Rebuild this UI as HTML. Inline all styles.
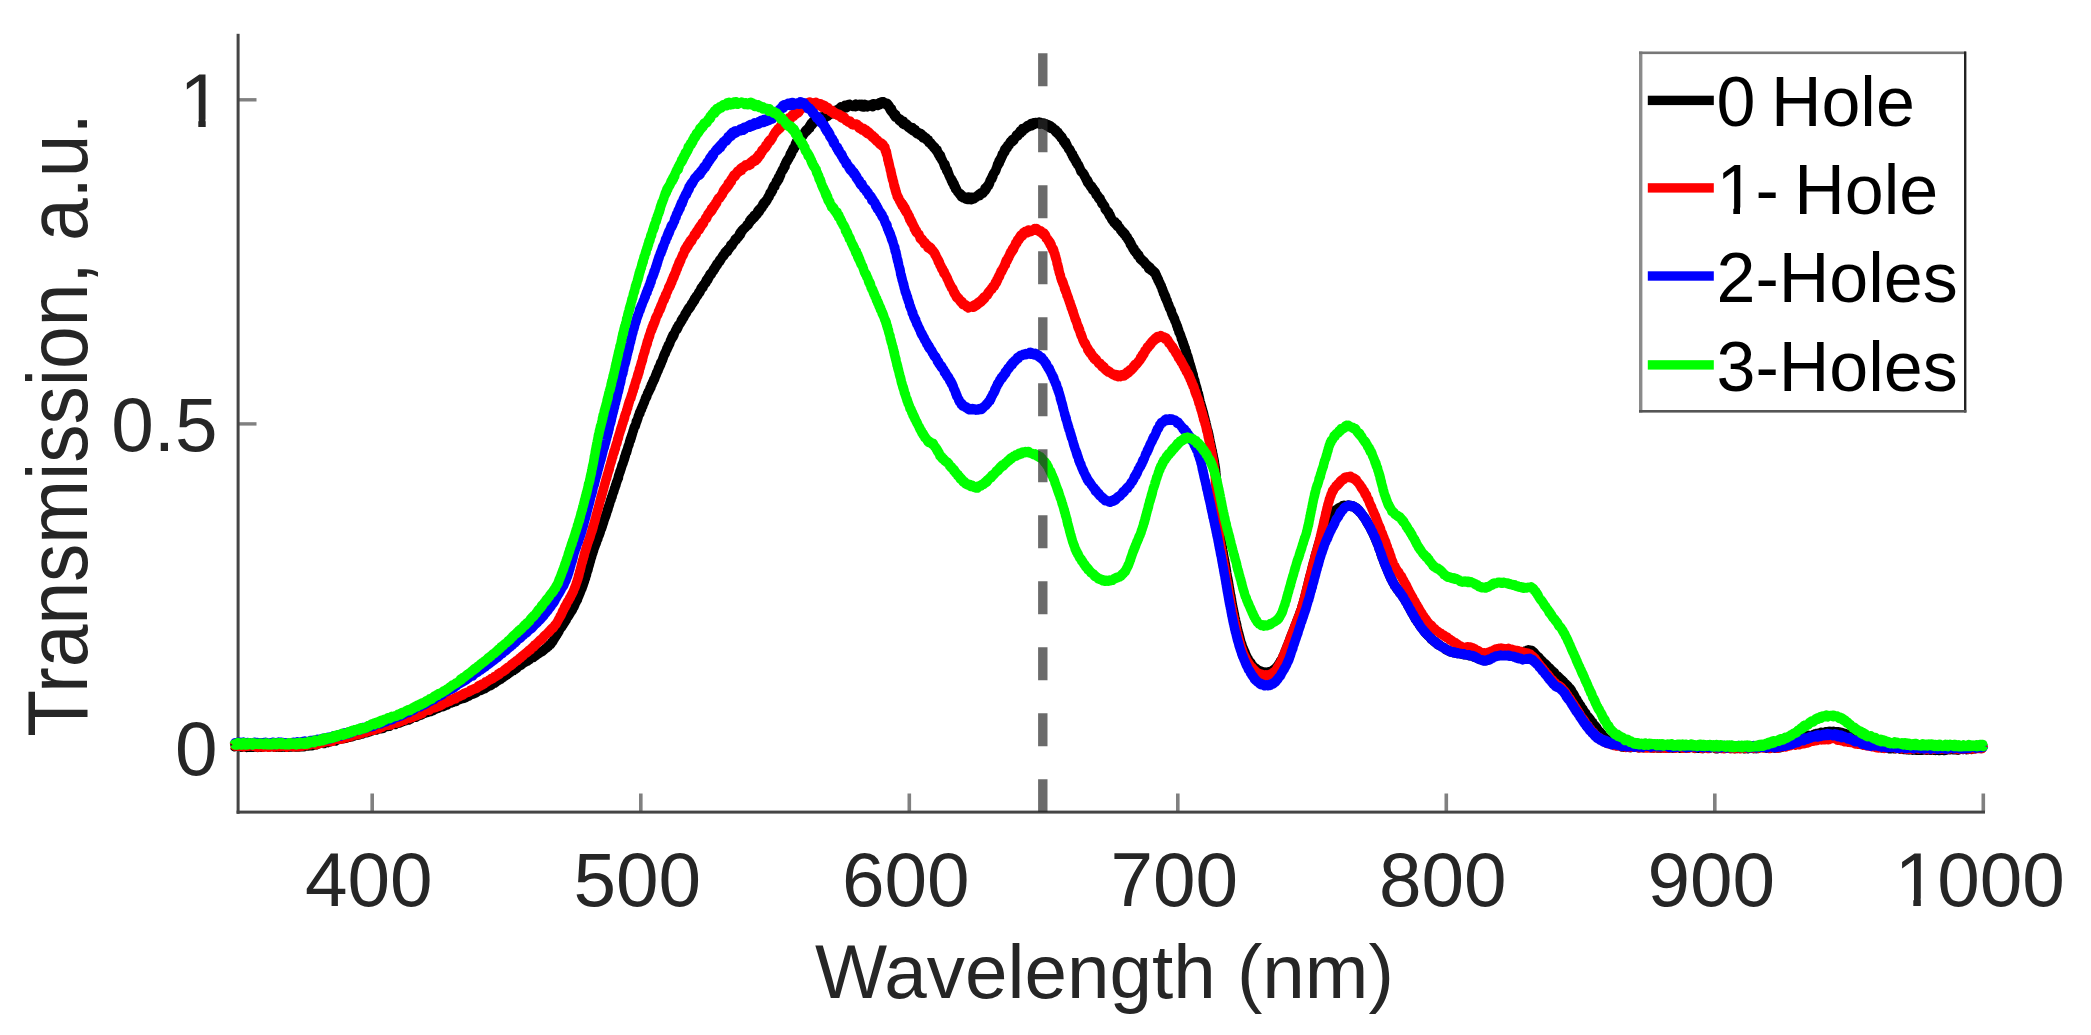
<!DOCTYPE html>
<html><head><meta charset="utf-8"><title>Transmission spectra</title>
<style>html,body{margin:0;padding:0;background:#fff}svg{display:block}text{font-family:"Liberation Sans",sans-serif;}</style></head><body>
<svg width="2091" height="1035" viewBox="0 0 2091 1035">
<rect width="2091" height="1035" fill="#fff"/>
<rect x="370.4" y="793.5" width="3.6" height="18" fill="#808080"/>
<rect x="639.0" y="793.5" width="3.6" height="18" fill="#808080"/>
<rect x="907.5" y="793.5" width="3.6" height="18" fill="#808080"/>
<rect x="1176.0" y="793.5" width="3.6" height="18" fill="#808080"/>
<rect x="1444.5" y="793.5" width="3.6" height="18" fill="#808080"/>
<rect x="1713.0" y="793.5" width="3.6" height="18" fill="#808080"/>
<rect x="1981.5" y="793.5" width="3.6" height="18" fill="#808080"/>
<rect x="238" y="98.1" width="18.5" height="3.4" fill="#808080"/>
<rect x="238" y="422.2" width="18.5" height="3.4" fill="#808080"/>
<rect x="236.6" y="33.8" width="3" height="780" fill="#454545"/>
<rect x="236.6" y="810.6" width="1748.4" height="3" fill="#454545"/>
<path d="M233.8 746.0 L234.4 746.8 L235.0 744.9 L235.6 745.7 L236.2 745.3 L236.8 745.1 L237.4 745.4 L238.0 745.8 L238.6 745.9 L239.2 746.3 L239.8 746.0 L240.4 746.7 L241.0 745.4 L241.6 747.2 L242.2 744.9 L242.8 746.7 L243.4 746.0 L244.0 746.4 L244.6 745.2 L245.2 745.4 L245.8 747.0 L246.4 747.5 L247.0 745.7 L247.6 746.7 L248.2 747.2 L248.8 747.3 L249.4 745.1 L250.0 745.0 L250.6 745.3 L251.2 747.2 L251.8 745.1 L252.4 746.0 L253.0 747.4 L253.6 746.3 L254.2 746.7 L254.8 745.7 L255.4 746.7 L256.0 747.1 L256.6 744.9 L257.2 746.9 L257.8 747.5 L258.4 746.9 L259.0 745.6 L259.6 747.0 L260.2 745.1 L260.8 746.1 L261.4 747.3 L262.0 745.6 L262.6 745.6 L263.2 745.2 L263.8 744.9 L264.4 746.7 L265.0 745.4 L265.6 745.6 L266.2 746.2 L266.8 745.0 L267.4 746.4 L268.0 745.3 L268.6 746.4 L269.2 746.7 L269.8 745.1 L270.4 746.0 L271.0 746.7 L271.6 746.0 L272.2 745.0 L272.8 746.3 L273.4 746.6 L274.0 746.2 L274.6 747.4 L275.2 746.4 L275.8 747.3 L276.4 745.2 L277.0 745.2 L277.6 747.0 L278.2 745.9 L278.8 745.3 L279.4 747.3 L280.0 745.8 L280.6 746.9 L281.2 746.8 L281.8 747.2 L282.4 746.5 L283.0 746.8 L283.6 745.7 L284.2 745.5 L284.8 747.2 L285.4 745.9 L286.0 747.4 L286.6 746.6 L287.2 746.4 L287.8 745.1 L288.4 747.3 L289.0 745.9 L289.6 746.3 L290.2 745.8 L290.8 745.3 L291.4 747.1 L292.0 746.2 L292.6 744.7 L293.2 746.3 L293.8 745.5 L294.4 746.0 L295.0 747.0 L295.6 745.6 L296.2 747.0 L296.8 746.2 L297.4 744.6 L298.0 747.0 L298.6 746.4 L299.2 747.1 L299.8 744.9 L300.4 744.8 L301.0 746.9 L301.6 746.2 L302.2 744.5 L302.8 746.3 L303.4 746.3 L304.0 746.7 L304.6 746.1 L305.2 744.4 L305.8 744.1 L306.4 744.1 L307.0 744.0 L307.6 744.5 L308.2 746.1 L308.8 745.2 L309.4 745.1 L310.0 745.8 L310.5 743.8 L311.1 744.2 L311.7 744.9 L312.3 745.8 L312.9 744.6 L313.5 743.1 L314.1 745.1 L314.7 743.5 L315.3 744.9 L315.9 743.7 L316.5 744.9 L317.1 744.4 L317.7 743.8 L318.2 742.6 L318.8 742.3 L319.4 742.3 L320.0 742.0 L320.6 742.1 L321.2 742.3 L321.8 743.4 L322.4 742.9 L323.0 741.3 L323.5 741.4 L324.1 743.6 L324.7 742.4 L325.3 741.4 L325.9 741.4 L326.5 742.5 L327.1 741.0 L327.6 741.8 L328.2 742.7 L328.8 742.3 L329.4 740.6 L330.0 741.1 L330.6 741.3 L331.2 741.7 L331.7 739.8 L332.3 739.3 L332.9 739.3 L333.5 740.3 L334.1 740.4 L334.7 740.2 L335.2 739.4 L335.8 741.0 L336.4 739.8 L337.0 739.2 L337.6 739.5 L338.2 739.8 L338.7 739.5 L339.3 738.3 L339.9 737.6 L340.5 738.3 L341.1 738.8 L341.7 737.6 L342.2 738.8 L342.8 736.9 L343.4 737.3 L344.0 738.5 L344.6 736.8 L345.2 737.8 L345.7 737.4 L346.3 738.2 L346.9 736.4 L347.5 735.8 L348.1 737.3 L348.6 737.2 L349.2 737.4 L349.8 737.3 L350.4 734.9 L351.0 735.3 L351.5 736.1 L352.1 736.8 L352.7 736.6 L353.3 735.5 L353.9 736.2 L354.4 735.4 L355.0 734.6 L355.6 734.7 L356.2 734.8 L356.8 734.5 L357.3 735.3 L357.9 735.2 L358.5 733.7 L359.1 735.0 L359.7 732.8 L360.2 732.6 L360.8 732.4 L361.4 733.2 L362.0 731.9 L362.6 734.0 L363.1 733.5 L363.7 731.4 L364.3 731.6 L364.9 731.8 L365.5 731.2 L366.0 732.7 L366.6 731.4 L367.2 732.7 L367.8 731.7 L368.4 732.2 L368.9 732.0 L369.5 732.0 L370.1 730.7 L370.7 730.8 L371.2 731.2 L371.8 729.8 L372.4 730.2 L373.0 730.3 L373.6 728.7 L374.1 729.9 L374.7 729.4 L375.3 730.1 L375.9 728.8 L376.5 730.0 L377.0 729.1 L377.6 728.0 L378.2 729.3 L378.8 728.7 L379.3 727.2 L379.9 727.9 L380.5 728.4 L381.1 728.8 L381.6 726.4 L382.2 728.6 L382.8 727.0 L383.4 728.2 L383.9 727.2 L384.5 727.5 L385.1 726.8 L385.7 726.7 L386.3 725.7 L386.8 726.3 L387.4 726.5 L388.0 726.6 L388.6 726.2 L389.1 725.9 L389.7 726.1 L390.3 724.6 L390.8 725.3 L391.4 724.6 L392.0 724.2 L392.6 724.1 L393.1 723.9 L393.7 723.6 L394.3 724.1 L394.9 723.5 L395.4 724.5 L396.0 723.7 L396.6 722.4 L397.2 722.7 L397.7 722.4 L398.3 723.2 L398.9 723.2 L399.4 723.1 L400.0 722.4 L400.6 721.3 L401.1 721.1 L401.7 722.2 L402.3 721.3 L402.9 721.7 L403.4 721.0 L404.0 721.2 L404.6 720.5 L405.1 720.9 L405.7 720.2 L406.3 719.8 L406.8 719.4 L407.4 718.5 L408.0 719.0 L408.5 718.2 L409.1 720.0 L409.7 718.0 L410.2 719.2 L410.8 719.1 L411.4 718.5 L411.9 718.0 L412.5 717.0 L413.1 717.4 L413.6 716.9 L414.2 716.5 L414.7 717.1 L415.3 716.3 L415.9 717.3 L416.4 717.1 L417.0 715.5 L417.6 715.0 L418.1 714.9 L418.7 715.4 L419.2 715.7 L419.8 714.3 L420.4 714.2 L420.9 715.3 L421.5 714.2 L422.0 714.4 L422.6 713.3 L423.2 712.8 L423.7 713.5 L424.3 713.2 L424.8 712.3 L425.4 713.1 L426.0 712.7 L426.5 712.7 L427.1 711.4 L427.6 712.5 L428.2 711.1 L428.7 711.5 L429.3 711.9 L429.9 710.1 L430.4 710.5 L431.0 711.4 L431.5 711.1 L432.1 710.3 L432.7 710.7 L433.2 710.6 L433.8 710.2 L434.3 710.0 L434.9 708.3 L435.4 709.1 L436.0 709.0 L436.6 708.6 L437.1 708.8 L437.7 707.0 L438.2 708.3 L438.8 708.0 L439.3 706.8 L439.9 706.6 L440.5 707.1 L441.0 706.3 L441.6 707.0 L442.1 706.1 L442.7 706.5 L443.2 706.7 L443.8 705.1 L444.3 704.6 L444.9 705.8 L445.5 704.9 L446.0 705.5 L446.6 704.6 L447.1 705.1 L447.7 704.0 L448.2 703.8 L448.8 702.8 L449.4 703.0 L449.9 702.1 L450.5 702.2 L451.0 703.1 L451.6 701.5 L452.1 701.9 L452.7 702.6 L453.3 702.1 L453.8 701.9 L454.4 700.7 L454.9 700.9 L455.5 701.0 L456.1 701.5 L456.6 699.8 L457.2 699.7 L457.7 699.5 L458.3 700.2 L458.9 699.4 L459.4 698.5 L460.0 699.1 L460.5 698.3 L461.1 699.2 L461.6 698.1 L462.2 697.4 L462.8 698.2 L463.3 698.4 L463.9 697.3 L464.4 697.8 L465.0 697.1 L465.5 696.9 L466.1 697.5 L466.7 697.0 L467.2 695.4 L467.8 696.3 L468.3 695.7 L468.9 696.3 L469.4 694.8 L470.0 694.6 L470.5 694.1 L471.1 694.5 L471.6 693.7 L472.2 694.3 L472.7 694.4 L473.3 694.0 L473.8 693.9 L474.4 692.9 L474.9 693.5 L475.5 692.5 L476.0 693.0 L476.6 692.4 L477.1 691.3 L477.7 691.0 L478.2 690.6 L478.8 690.4 L479.3 690.8 L479.8 690.0 L480.4 689.6 L480.9 690.5 L481.5 689.7 L482.0 690.0 L482.5 689.2 L483.1 689.0 L483.6 688.7 L484.1 688.5 L484.7 688.7 L485.2 687.8 L485.7 688.3 L486.3 686.6 L486.8 687.5 L487.3 686.2 L487.8 686.7 L488.4 685.4 L488.9 686.0 L489.4 684.8 L489.9 686.0 L490.4 685.7 L491.0 685.2 L491.5 685.1 L492.0 683.6 L492.5 683.3 L493.0 683.0 L493.5 683.4 L494.1 683.5 L494.6 683.3 L495.1 682.6 L495.6 682.3 L496.1 682.2 L496.6 681.1 L497.1 680.6 L497.6 680.2 L498.1 679.8 L498.6 680.5 L499.1 679.2 L499.6 679.0 L500.1 679.5 L500.6 678.4 L501.1 679.1 L501.6 677.7 L502.1 677.8 L502.6 677.1 L503.1 677.6 L503.6 676.5 L504.1 676.3 L504.6 676.1 L505.1 676.3 L505.6 674.7 L506.1 675.3 L506.6 675.2 L507.1 673.7 L507.6 674.1 L508.1 673.5 L508.6 673.8 L509.1 673.1 L509.6 672.9 L510.1 672.3 L510.6 672.2 L511.1 671.4 L511.6 670.7 L512.1 671.1 L512.6 670.4 L513.1 670.3 L513.6 670.5 L514.1 669.5 L514.6 669.0 L515.1 668.8 L515.6 669.2 L516.0 668.8 L516.5 668.4 L517.0 668.1 L517.5 666.9 L518.0 666.4 L518.5 666.3 L519.0 666.0 L519.5 665.5 L520.0 665.7 L520.5 665.1 L521.0 665.3 L521.5 664.2 L522.0 664.5 L522.5 663.6 L523.0 663.6 L523.5 663.0 L524.0 662.4 L524.5 662.2 L525.0 662.4 L525.5 661.9 L526.0 661.6 L526.5 660.9 L527.0 661.0 L527.5 661.2 L528.0 660.6 L528.5 660.1 L529.0 660.2 L529.5 659.8 L530.0 659.1 L530.6 658.1 L531.1 657.9 L531.6 657.5 L532.1 657.7 L532.6 657.3 L533.1 657.7 L533.6 656.4 L534.1 657.0 L534.6 656.5 L535.1 656.2 L535.7 655.7 L536.2 655.4 L536.7 654.9 L537.2 654.0 L537.7 654.1 L538.2 653.9 L538.7 653.8 L539.2 653.2 L539.7 652.9 L540.2 652.1 L540.7 651.7 L541.2 652.2 L541.7 651.3 L542.2 651.8 L542.6 650.5 L543.1 650.3 L543.6 650.2 L544.1 650.1 L544.6 649.4 L545.0 648.6 L545.5 648.4 L546.0 648.3 L546.4 648.1 L546.9 647.9 L547.4 646.7 L547.8 646.2 L548.3 646.4 L548.7 646.3 L549.1 644.9 L549.6 645.3 L550.0 644.9 L550.4 644.2 L550.8 644.3 L551.2 643.5 L551.5 642.3 L551.9 642.4 L552.3 642.3 L552.6 641.8 L552.9 641.1 L553.3 640.6 L553.6 640.0 L553.9 639.1 L554.2 639.0 L554.5 638.6 L554.8 637.7 L555.1 637.8 L555.5 636.4 L555.8 636.6 L556.1 635.5 L556.4 635.6 L556.7 634.7 L557.0 634.7 L557.3 633.6 L557.6 632.9 L558.0 633.1 L558.3 632.0 L558.6 632.0 L558.9 631.5 L559.2 630.3 L559.6 629.8 L559.9 629.3 L560.2 628.7 L560.5 628.5 L560.8 627.6 L561.2 627.2 L561.5 627.4 L561.8 627.0 L562.1 625.6 L562.4 625.3 L562.8 624.7 L563.1 625.2 L563.4 624.4 L563.7 623.7 L564.0 622.8 L564.4 623.0 L564.7 622.0 L565.0 622.1 L565.3 621.3 L565.6 620.5 L565.9 619.5 L566.3 620.2 L566.6 618.6 L566.9 618.1 L567.2 617.9 L567.5 617.4 L567.8 616.5 L568.2 616.8 L568.5 615.5 L568.8 615.6 L569.1 615.3 L569.4 614.0 L569.7 614.0 L570.0 613.7 L570.3 613.1 L570.6 612.5 L570.9 611.6 L571.2 611.6 L571.5 611.4 L571.9 610.2 L572.2 610.2 L572.5 608.6 L572.8 609.2 L573.1 607.8 L573.3 607.5 L573.6 606.9 L573.9 606.0 L574.2 606.7 L574.5 605.4 L574.8 605.1 L575.0 604.5 L575.3 603.4 L575.6 603.0 L575.8 602.3 L576.1 602.3 L576.3 601.4 L576.6 601.0 L576.8 600.1 L577.0 600.5 L577.3 599.0 L577.5 599.7 L577.7 598.0 L578.0 598.0 L578.2 596.7 L578.4 597.2 L578.7 595.8 L578.9 595.8 L579.1 595.5 L579.3 594.1 L579.6 594.1 L579.8 593.1 L580.0 593.3 L580.2 592.7 L580.5 591.3 L580.7 591.8 L580.9 590.0 L581.1 590.7 L581.3 589.7 L581.6 588.9 L581.8 588.8 L582.0 588.2 L582.2 588.1 L582.4 586.4 L582.6 585.5 L582.8 586.3 L583.0 585.6 L583.2 584.9 L583.4 584.0 L583.6 583.7 L583.8 583.2 L584.0 582.1 L584.2 582.1 L584.4 581.5 L584.6 580.7 L584.8 579.8 L585.0 579.7 L585.2 578.1 L585.3 578.7 L585.5 578.3 L585.7 576.7 L585.9 576.0 L586.1 575.6 L586.2 575.1 L586.4 575.4 L586.6 574.3 L586.7 573.4 L586.9 572.5 L587.1 572.2 L587.2 572.1 L587.4 571.1 L587.6 570.7 L587.7 570.1 L587.9 570.2 L588.1 569.0 L588.2 568.2 L588.4 568.2 L588.5 566.9 L588.7 566.7 L588.9 565.9 L589.0 565.8 L589.2 565.6 L589.3 564.4 L589.5 564.3 L589.7 563.2 L589.8 563.0 L590.0 561.5 L590.1 561.4 L590.3 561.6 L590.5 560.6 L590.6 560.2 L590.8 559.2 L591.0 558.7 L591.1 558.6 L591.3 556.8 L591.4 557.0 L591.6 557.1 L591.8 555.8 L592.0 554.7 L592.1 555.2 L592.3 553.6 L592.5 553.8 L592.6 553.0 L592.8 553.1 L593.0 552.0 L593.2 551.7 L593.4 549.8 L593.6 550.9 L593.8 548.8 L593.9 548.6 L594.1 549.1 L594.3 547.0 L594.5 547.7 L594.7 547.2 L594.9 546.0 L595.1 545.1 L595.4 545.5 L595.6 544.4 L595.8 543.2 L596.0 544.0 L596.2 543.4 L596.4 542.1 L596.6 542.2 L596.8 540.9 L597.0 540.8 L597.3 539.7 L597.5 539.4 L597.7 538.3 L597.9 539.0 L598.1 537.3 L598.3 536.4 L598.5 535.9 L598.8 535.1 L599.0 535.8 L599.2 535.0 L599.4 534.8 L599.6 533.7 L599.8 533.7 L600.0 532.9 L600.2 532.5 L600.4 531.3 L600.6 531.2 L600.8 529.8 L601.0 529.5 L601.2 528.6 L601.4 528.5 L601.6 527.6 L601.8 527.3 L602.0 527.8 L602.1 526.0 L602.3 526.6 L602.5 525.5 L602.7 524.4 L602.9 524.7 L603.1 523.7 L603.3 522.5 L603.5 522.9 L603.7 521.7 L603.8 521.0 L604.0 520.4 L604.2 520.4 L604.4 519.1 L604.6 519.5 L604.8 518.0 L605.0 517.9 L605.2 517.2 L605.3 517.3 L605.5 516.8 L605.7 515.0 L605.9 515.1 L606.1 515.1 L606.3 513.7 L606.5 514.0 L606.7 512.3 L606.8 512.3 L607.0 511.9 L607.2 510.5 L607.4 509.5 L607.6 509.7 L607.8 510.1 L608.0 508.4 L608.2 508.6 L608.3 507.0 L608.5 506.7 L608.7 505.8 L608.9 506.2 L609.1 505.6 L609.3 505.1 L609.5 503.7 L609.7 503.9 L609.8 502.5 L610.0 502.3 L610.2 501.6 L610.4 501.0 L610.6 499.9 L610.8 500.4 L611.0 500.0 L611.2 499.2 L611.3 498.7 L611.5 497.3 L611.7 496.6 L611.9 496.8 L612.1 496.9 L612.3 495.0 L612.5 494.9 L612.7 494.3 L612.8 493.9 L613.0 492.7 L613.2 492.4 L613.4 491.7 L613.6 492.2 L613.8 491.6 L614.0 490.3 L614.2 490.1 L614.3 488.6 L614.5 488.8 L614.7 487.8 L614.9 488.3 L615.1 487.4 L615.3 486.7 L615.5 485.2 L615.7 485.3 L615.8 485.7 L616.0 485.0 L616.2 483.9 L616.4 482.4 L616.6 482.7 L616.8 482.0 L617.0 481.3 L617.1 480.6 L617.3 480.4 L617.5 480.3 L617.7 479.5 L617.9 478.6 L618.1 478.7 L618.3 476.5 L618.5 477.7 L618.6 475.3 L618.8 475.0 L619.0 474.9 L619.2 473.7 L619.4 474.2 L619.6 472.5 L619.8 472.4 L619.9 471.3 L620.1 472.0 L620.3 471.4 L620.5 470.3 L620.7 469.3 L620.9 469.8 L621.0 468.5 L621.2 468.8 L621.4 467.6 L621.6 467.1 L621.8 465.6 L622.0 466.2 L622.2 465.1 L622.3 464.2 L622.5 464.1 L622.7 463.4 L622.9 463.0 L623.1 463.5 L623.3 461.7 L623.4 461.9 L623.6 460.9 L623.8 461.0 L624.0 459.4 L624.2 458.6 L624.4 459.3 L624.5 457.0 L624.7 458.3 L624.9 456.9 L625.1 456.0 L625.3 456.6 L625.5 454.2 L625.6 454.5 L625.8 453.0 L626.0 453.5 L626.2 452.1 L626.4 452.5 L626.6 452.6 L626.8 451.8 L626.9 450.4 L627.1 450.4 L627.3 449.9 L627.5 448.8 L627.7 448.3 L627.9 446.9 L628.0 446.8 L628.2 445.8 L628.4 446.4 L628.6 445.3 L628.8 444.7 L629.0 445.0 L629.2 443.7 L629.3 442.9 L629.5 442.0 L629.7 441.1 L629.9 441.2 L630.1 439.8 L630.3 439.8 L630.5 439.7 L630.6 440.1 L630.8 437.7 L631.0 438.3 L631.2 437.4 L631.4 437.4 L631.6 435.5 L631.8 434.8 L631.9 434.9 L632.1 435.2 L632.3 433.3 L632.5 434.0 L632.7 432.4 L632.9 431.7 L633.1 430.7 L633.3 430.9 L633.5 430.3 L633.6 430.3 L633.8 428.5 L634.0 428.1 L634.2 427.2 L634.4 426.9 L634.6 427.5 L634.8 426.4 L635.0 425.6 L635.2 425.6 L635.4 425.9 L635.6 425.0 L635.8 424.2 L636.0 424.1 L636.2 421.6 L636.4 421.1 L636.6 421.4 L636.8 420.6 L637.0 421.3 L637.2 419.8 L637.4 419.3 L637.6 419.5 L637.8 418.0 L638.0 418.3 L638.2 416.4 L638.4 415.9 L638.7 415.5 L638.9 415.4 L639.1 414.1 L639.3 414.5 L639.5 412.8 L639.7 412.1 L640.0 413.3 L640.2 411.3 L640.4 411.1 L640.6 411.0 L640.8 410.3 L641.1 408.8 L641.3 410.0 L641.5 409.6 L641.7 408.7 L642.0 407.0 L642.2 407.0 L642.4 406.0 L642.6 405.9 L642.9 406.3 L643.1 404.3 L643.3 404.5 L643.6 403.2 L643.8 403.6 L644.0 402.1 L644.3 402.8 L644.5 401.9 L644.7 401.4 L645.0 400.2 L645.2 399.1 L645.4 398.1 L645.7 398.2 L645.9 397.0 L646.2 398.0 L646.4 397.4 L646.6 396.3 L646.9 396.5 L647.1 395.4 L647.4 393.7 L647.6 393.4 L647.8 393.0 L648.1 392.7 L648.3 391.6 L648.6 392.3 L648.8 391.5 L649.0 391.2 L649.3 390.2 L649.5 390.6 L649.8 389.2 L650.0 387.6 L650.3 389.0 L650.5 388.0 L650.7 387.8 L651.0 387.6 L651.2 384.9 L651.5 384.8 L651.7 383.9 L651.9 384.1 L652.2 384.6 L652.4 382.3 L652.6 382.6 L652.9 381.3 L653.1 382.2 L653.4 381.8 L653.6 379.4 L653.8 379.9 L654.1 378.8 L654.3 379.9 L654.5 379.3 L654.8 378.0 L655.0 378.3 L655.2 376.2 L655.5 377.0 L655.7 375.3 L655.9 374.3 L656.2 375.4 L656.4 374.3 L656.6 372.3 L656.9 373.6 L657.1 372.7 L657.3 371.9 L657.6 371.6 L657.8 369.9 L658.0 370.2 L658.3 370.2 L658.5 367.8 L658.7 367.4 L659.0 368.6 L659.2 367.5 L659.4 366.7 L659.7 365.5 L659.9 365.1 L660.1 365.9 L660.3 364.2 L660.6 362.8 L660.8 364.3 L661.0 362.1 L661.3 363.0 L661.5 362.6 L661.7 361.1 L662.0 360.8 L662.2 360.1 L662.4 359.8 L662.7 359.8 L662.9 357.8 L663.1 358.7 L663.4 357.4 L663.6 355.8 L663.9 355.5 L664.1 355.8 L664.3 354.4 L664.6 353.6 L664.8 353.1 L665.0 354.2 L665.3 353.1 L665.5 353.4 L665.7 351.4 L666.0 351.4 L666.2 350.9 L666.5 350.4 L666.7 348.5 L667.0 349.6 L667.2 349.5 L667.4 348.0 L667.7 346.6 L667.9 347.4 L668.2 345.0 L668.4 345.3 L668.7 346.2 L668.9 344.8 L669.2 344.9 L669.4 343.8 L669.7 343.8 L669.9 343.4 L670.2 341.4 L670.4 340.4 L670.7 341.3 L670.9 340.1 L671.2 338.8 L671.5 339.4 L671.7 337.5 L672.0 337.3 L672.2 338.3 L672.5 335.8 L672.8 336.0 L673.0 334.8 L673.3 336.6 L673.6 335.1 L673.9 333.8 L674.1 334.9 L674.4 333.3 L674.7 332.6 L675.0 332.4 L675.3 331.1 L675.5 330.7 L675.8 330.3 L676.1 329.5 L676.4 329.8 L676.7 329.5 L677.0 327.4 L677.3 329.2 L677.6 328.1 L677.9 327.7 L678.2 327.1 L678.5 324.9 L678.8 325.4 L679.1 324.7 L679.4 324.8 L679.7 323.7 L680.0 323.8 L680.3 323.3 L680.6 322.8 L680.9 322.1 L681.2 320.4 L681.5 321.4 L681.8 320.9 L682.1 320.7 L682.4 318.5 L682.7 317.9 L683.0 317.9 L683.4 317.2 L683.7 317.9 L684.0 316.9 L684.3 316.8 L684.6 315.4 L684.9 314.1 L685.2 313.6 L685.5 313.7 L685.8 312.8 L686.1 313.8 L686.5 312.8 L686.8 312.5 L687.1 311.5 L687.4 309.9 L687.7 309.8 L688.0 309.9 L688.3 308.7 L688.7 307.7 L689.0 309.0 L689.3 308.5 L689.6 307.0 L689.9 307.8 L690.2 306.2 L690.6 306.8 L690.9 305.8 L691.2 305.1 L691.5 303.6 L691.8 303.9 L692.1 304.4 L692.5 302.3 L692.8 303.3 L693.1 302.9 L693.4 300.9 L693.7 301.3 L694.1 301.3 L694.4 298.7 L694.7 300.3 L695.0 298.0 L695.3 299.2 L695.7 298.2 L696.0 296.8 L696.3 295.8 L696.6 296.6 L696.9 296.6 L697.3 296.1 L697.6 295.0 L697.9 295.4 L698.2 293.9 L698.6 292.4 L698.9 292.5 L699.2 291.7 L699.5 293.0 L699.9 290.9 L700.2 292.0 L700.5 290.2 L700.8 288.8 L701.1 288.0 L701.5 288.3 L701.8 287.1 L702.1 288.0 L702.4 286.9 L702.8 287.9 L703.1 287.3 L703.4 284.7 L703.7 284.8 L704.1 284.5 L704.4 284.3 L704.7 284.3 L705.0 283.0 L705.3 282.4 L705.7 281.4 L706.0 282.7 L706.3 279.8 L706.6 281.4 L707.0 279.2 L707.3 280.0 L707.6 278.6 L707.9 279.8 L708.3 277.0 L708.6 276.7 L708.9 278.1 L709.2 276.7 L709.5 275.5 L709.9 274.1 L710.2 274.3 L710.5 273.5 L710.8 273.2 L711.2 274.5 L711.5 274.0 L711.8 273.0 L712.1 271.9 L712.5 272.3 L712.8 270.9 L713.1 270.1 L713.4 269.3 L713.8 270.6 L714.1 268.6 L714.4 268.4 L714.8 267.3 L715.1 268.5 L715.4 266.6 L715.8 265.9 L716.1 266.6 L716.5 264.6 L716.8 263.9 L717.1 265.4 L717.5 264.7 L717.8 263.7 L718.2 262.3 L718.5 262.9 L718.9 262.4 L719.2 261.1 L719.6 259.9 L719.9 261.6 L720.3 260.0 L720.6 260.3 L721.0 258.4 L721.3 258.9 L721.7 257.9 L722.0 257.3 L722.4 256.1 L722.7 256.0 L723.1 255.0 L723.4 255.2 L723.8 255.9 L724.1 255.1 L724.5 254.7 L724.9 252.4 L725.2 253.8 L725.6 252.8 L725.9 251.6 L726.3 250.9 L726.7 250.5 L727.0 251.9 L727.4 251.8 L727.7 251.1 L728.1 249.0 L728.5 249.8 L728.8 248.6 L729.2 248.9 L729.6 247.5 L729.9 247.3 L730.3 247.4 L730.6 245.0 L731.0 245.7 L731.4 244.8 L731.7 245.0 L732.1 245.5 L732.5 243.4 L732.8 242.9 L733.2 243.6 L733.6 242.7 L733.9 241.5 L734.3 241.9 L734.7 240.6 L735.0 239.4 L735.4 239.8 L735.8 239.0 L736.1 238.2 L736.5 239.7 L736.9 238.6 L737.2 237.8 L737.6 237.8 L738.0 236.7 L738.3 236.7 L738.7 236.9 L739.1 236.2 L739.4 233.8 L739.8 233.6 L740.2 232.5 L740.5 234.6 L740.9 232.1 L741.3 232.8 L741.6 230.7 L742.0 230.6 L742.4 230.9 L742.8 229.3 L743.1 229.7 L743.5 229.6 L743.9 228.6 L744.2 228.7 L744.6 228.2 L745.0 227.3 L745.4 227.7 L745.7 227.2 L746.1 226.8 L746.5 225.9 L746.9 224.9 L747.2 225.1 L747.6 225.6 L748.0 224.2 L748.4 224.8 L748.8 222.8 L749.2 223.2 L749.6 220.7 L749.9 222.4 L750.3 221.2 L750.7 219.3 L751.1 219.6 L751.5 219.9 L751.9 220.1 L752.3 217.6 L752.7 218.5 L753.0 218.8 L753.4 217.9 L753.8 218.3 L754.2 215.3 L754.6 215.5 L755.0 216.9 L755.4 216.0 L755.7 215.0 L756.1 215.2 L756.5 215.0 L756.9 214.7 L757.3 214.3 L757.6 211.3 L758.0 210.7 L758.4 210.2 L758.8 209.6 L759.1 211.9 L759.5 208.9 L759.9 210.6 L760.2 209.6 L760.6 208.6 L761.0 207.7 L761.3 207.2 L761.7 206.4 L762.0 207.9 L762.4 206.8 L762.7 204.3 L763.0 205.1 L763.4 204.1 L763.7 202.8 L764.0 204.8 L764.4 204.0 L764.7 202.2 L765.0 203.1 L765.4 201.2 L765.7 200.6 L766.0 201.9 L766.3 201.6 L766.6 199.7 L766.9 200.5 L767.3 199.8 L767.6 198.2 L767.9 197.2 L768.2 197.7 L768.5 196.4 L768.8 196.4 L769.1 197.0 L769.4 195.8 L769.7 194.0 L770.0 192.8 L770.3 192.5 L770.6 193.0 L770.9 192.2 L771.2 192.8 L771.5 192.7 L771.8 189.9 L772.1 191.4 L772.3 191.2 L772.6 190.7 L772.9 187.4 L773.2 186.9 L773.5 186.2 L773.8 186.6 L774.1 185.3 L774.4 185.5 L774.6 185.1 L774.9 186.4 L775.2 184.5 L775.5 183.3 L775.8 183.5 L776.1 183.4 L776.3 181.2 L776.6 182.7 L776.9 182.4 L777.2 181.9 L777.5 181.5 L777.7 179.4 L778.0 179.1 L778.3 177.5 L778.6 177.3 L778.9 179.1 L779.1 176.4 L779.4 177.8 L779.7 177.2 L780.0 176.8 L780.2 173.9 L780.5 175.6 L780.8 174.3 L781.1 172.5 L781.4 172.4 L781.6 171.3 L781.9 171.6 L782.2 170.0 L782.4 169.7 L782.7 169.2 L783.0 170.2 L783.3 169.3 L783.5 169.7 L783.8 167.2 L784.1 167.9 L784.3 165.5 L784.6 166.5 L784.9 167.0 L785.1 166.8 L785.4 163.3 L785.7 163.5 L785.9 162.9 L786.2 161.8 L786.5 161.1 L786.8 162.1 L787.0 160.2 L787.3 160.4 L787.6 160.9 L787.8 159.3 L788.1 158.7 L788.4 159.2 L788.6 158.0 L788.9 158.5 L789.2 157.3 L789.4 157.2 L789.7 155.8 L790.0 155.0 L790.2 154.0 L790.5 156.0 L790.8 155.0 L791.0 154.9 L791.3 152.0 L791.6 153.8 L791.8 153.3 L792.1 150.7 L792.4 150.2 L792.7 150.5 L792.9 148.8 L793.2 149.1 L793.5 147.7 L793.7 149.6 L794.0 147.6 L794.3 148.6 L794.5 147.0 L794.8 146.0 L795.1 147.0 L795.3 143.8 L795.6 144.8 L795.9 144.4 L796.2 143.1 L796.4 141.4 L796.7 142.3 L797.0 141.7 L797.3 142.2 L797.6 140.0 L798.0 139.9 L798.3 138.9 L798.6 139.8 L799.0 140.3 L799.4 137.3 L799.7 138.8 L800.1 136.5 L800.5 135.5 L800.9 135.3 L801.4 137.4 L801.8 136.9 L802.2 134.6 L802.7 136.2 L803.1 135.5 L803.5 133.8 L804.0 133.5 L804.4 133.6 L804.9 131.7 L805.3 130.8 L805.7 131.2 L806.1 129.9 L806.5 131.6 L806.9 130.8 L807.3 129.6 L807.7 130.6 L808.1 128.1 L808.4 127.9 L808.8 127.6 L809.1 126.8 L809.5 125.9 L809.8 128.0 L810.1 124.9 L810.5 126.4 L810.8 124.1 L811.2 123.2 L811.6 124.5 L811.9 125.2 L812.3 124.6 L812.7 122.4 L813.1 121.0 L813.5 123.1 L814.0 122.7 L814.4 122.5 L814.9 121.5 L815.4 121.6 L815.9 121.5 L816.4 119.8 L817.0 119.8 L817.5 119.4 L818.0 119.7 L818.6 119.5 L819.1 118.7 L819.7 119.5 L820.2 118.2 L820.8 119.1 L821.4 117.1 L821.9 116.6 L822.5 118.9 L823.1 118.0 L823.7 116.3 L824.2 117.1 L824.8 118.1 L825.3 115.1 L825.9 114.9 L826.5 116.4 L827.0 114.9 L827.6 116.4 L828.1 115.5 L828.6 115.5 L829.2 113.5 L829.7 113.1 L830.2 114.6 L830.8 113.6 L831.3 112.3 L831.8 112.9 L832.3 113.6 L832.9 111.7 L833.4 113.7 L833.9 113.6 L834.4 113.3 L834.9 112.3 L835.5 110.9 L836.0 111.7 L836.5 109.9 L837.0 109.7 L837.6 110.4 L838.1 110.1 L838.6 110.7 L839.2 108.4 L839.7 109.8 L840.2 110.1 L840.8 106.8 L841.3 108.1 L841.9 108.5 L842.4 108.8 L843.0 106.4 L843.5 108.4 L844.1 106.6 L844.7 108.1 L845.2 105.1 L845.8 105.1 L846.4 107.9 L847.0 106.5 L847.6 105.8 L848.1 104.8 L848.7 106.3 L849.3 104.1 L849.9 104.9 L850.5 104.9 L851.1 105.7 L851.7 105.8 L852.3 106.4 L852.9 106.6 L853.5 105.7 L854.1 105.4 L854.7 104.8 L855.3 106.7 L855.9 104.0 L856.5 106.5 L857.1 104.6 L857.7 105.4 L858.3 105.9 L858.9 104.5 L859.5 104.3 L860.1 105.5 L860.7 106.4 L861.3 106.2 L861.9 104.3 L862.5 106.9 L863.1 105.6 L863.7 107.1 L864.3 105.9 L864.9 104.3 L865.5 104.7 L866.1 106.9 L866.7 106.4 L867.3 107.0 L867.9 105.1 L868.5 105.7 L869.1 106.1 L869.7 105.8 L870.3 104.6 L870.9 105.2 L871.5 104.5 L872.1 106.4 L872.6 106.8 L873.2 103.7 L873.8 105.8 L874.4 104.5 L875.0 105.3 L875.6 104.0 L876.2 105.2 L876.8 104.1 L877.4 103.7 L877.9 105.5 L878.5 105.4 L879.0 104.1 L879.6 102.5 L880.1 104.6 L880.7 103.8 L881.2 103.6 L881.8 101.6 L882.4 103.5 L883.0 101.6 L883.6 102.9 L884.2 103.2 L884.7 103.5 L885.3 102.6 L885.8 104.2 L886.3 105.0 L886.7 104.4 L887.1 103.2 L887.5 103.8 L887.9 104.1 L888.3 104.8 L888.7 105.1 L889.0 107.8 L889.4 105.8 L889.7 107.0 L890.1 109.5 L890.4 110.3 L890.8 109.6 L891.1 111.3 L891.5 108.8 L891.8 112.2 L892.2 110.6 L892.5 112.7 L892.9 113.2 L893.2 113.9 L893.5 113.1 L893.9 115.1 L894.2 113.4 L894.6 116.1 L894.9 115.6 L895.3 117.2 L895.7 114.6 L896.0 117.3 L896.4 117.2 L896.8 117.5 L897.3 117.1 L897.7 117.7 L898.2 117.9 L898.6 118.2 L899.1 120.4 L899.5 119.9 L900.0 118.9 L900.5 121.5 L901.0 121.0 L901.5 122.1 L902.0 121.7 L902.4 121.7 L902.9 123.9 L903.4 121.2 L903.9 124.4 L904.4 124.8 L904.9 123.4 L905.4 123.2 L905.9 124.8 L906.4 123.7 L906.9 126.1 L907.3 124.7 L907.8 125.1 L908.3 127.5 L908.8 127.8 L909.3 126.9 L909.8 128.3 L910.3 127.0 L910.8 129.4 L911.3 128.0 L911.8 127.9 L912.3 127.4 L912.8 130.8 L913.3 129.5 L913.7 130.7 L914.2 130.7 L914.7 131.3 L915.2 129.5 L915.7 132.6 L916.2 133.0 L916.7 132.1 L917.2 133.8 L917.7 132.0 L918.2 133.3 L918.7 133.0 L919.1 134.1 L919.6 133.4 L920.1 135.4 L920.6 133.4 L921.1 133.7 L921.6 134.1 L922.0 134.7 L922.5 135.9 L923.0 138.0 L923.4 135.7 L923.9 137.8 L924.4 137.8 L924.8 137.6 L925.3 137.5 L925.8 138.0 L926.2 137.8 L926.7 140.3 L927.2 140.5 L927.6 140.2 L928.1 141.5 L928.5 139.9 L929.0 143.0 L929.4 143.1 L929.9 142.9 L930.3 142.4 L930.8 142.9 L931.2 143.5 L931.6 145.4 L932.0 145.6 L932.4 144.8 L932.9 145.5 L933.3 147.0 L933.6 147.6 L934.0 147.1 L934.4 147.9 L934.8 147.2 L935.1 149.4 L935.5 149.6 L935.9 149.2 L936.2 150.7 L936.5 151.2 L936.9 151.5 L937.2 149.9 L937.5 151.7 L937.8 153.3 L938.1 153.4 L938.4 152.9 L938.7 155.1 L939.0 153.4 L939.3 154.2 L939.6 156.6 L939.9 156.7 L940.2 157.5 L940.5 155.3 L940.8 156.9 L941.0 157.0 L941.3 157.8 L941.6 159.7 L941.8 160.2 L942.1 159.9 L942.4 160.1 L942.6 161.3 L942.9 161.7 L943.2 162.3 L943.4 163.0 L943.7 162.9 L943.9 164.6 L944.2 163.5 L944.4 165.3 L944.7 166.8 L945.0 164.4 L945.2 167.2 L945.5 165.8 L945.7 167.7 L946.0 168.5 L946.2 167.9 L946.5 170.5 L946.7 170.1 L947.0 169.5 L947.2 171.7 L947.5 170.2 L947.7 172.1 L948.0 171.2 L948.2 173.3 L948.5 172.8 L948.7 174.6 L949.0 175.3 L949.3 175.3 L949.5 176.2 L949.8 177.2 L950.0 177.8 L950.3 177.7 L950.5 177.8 L950.8 178.2 L951.1 180.1 L951.3 180.1 L951.6 179.1 L951.8 180.8 L952.1 182.4 L952.4 180.6 L952.6 183.3 L952.9 183.7 L953.2 183.3 L953.4 182.4 L953.7 183.3 L954.0 186.2 L954.3 184.1 L954.5 185.6 L954.8 186.9 L955.1 186.1 L955.4 189.0 L955.6 187.1 L955.9 188.7 L956.2 189.5 L956.5 188.9 L956.8 190.1 L957.2 190.7 L957.5 192.0 L957.8 192.1 L958.2 192.1 L958.6 193.1 L958.9 193.0 L959.3 193.6 L959.7 194.5 L960.2 193.5 L960.6 195.7 L961.1 195.5 L961.5 197.0 L962.0 195.1 L962.5 196.2 L963.0 197.8 L963.5 197.2 L964.1 197.8 L964.6 197.1 L965.2 198.2 L965.8 199.1 L966.3 197.1 L966.9 199.0 L967.5 199.6 L968.1 196.9 L968.7 197.5 L969.3 197.3 L969.9 199.2 L970.5 197.1 L971.1 199.8 L971.7 197.9 L972.3 199.4 L972.9 197.1 L973.5 197.8 L974.0 198.8 L974.6 197.9 L975.2 197.3 L975.7 197.2 L976.3 197.2 L976.8 196.5 L977.4 195.5 L977.9 195.0 L978.4 194.8 L978.9 194.2 L979.4 195.3 L979.9 195.8 L980.3 194.0 L980.8 192.8 L981.3 193.4 L981.7 193.5 L982.1 192.6 L982.5 193.3 L983.0 193.3 L983.4 192.6 L983.8 191.7 L984.2 190.5 L984.6 190.7 L984.9 188.3 L985.3 190.7 L985.7 187.8 L986.1 189.5 L986.4 188.7 L986.8 188.2 L987.1 186.1 L987.4 185.5 L987.8 185.6 L988.1 186.4 L988.4 184.7 L988.7 185.6 L989.0 183.3 L989.3 183.6 L989.5 184.1 L989.8 182.6 L990.1 180.2 L990.3 181.0 L990.6 180.0 L990.9 180.1 L991.1 178.8 L991.4 177.8 L991.6 178.9 L991.9 178.4 L992.1 178.4 L992.4 175.6 L992.6 177.1 L992.9 176.6 L993.1 175.6 L993.4 173.7 L993.6 173.3 L993.9 173.2 L994.2 173.1 L994.4 172.3 L994.7 171.7 L994.9 172.3 L995.2 171.9 L995.4 171.2 L995.7 170.8 L995.9 169.3 L996.2 170.0 L996.4 168.4 L996.7 167.8 L996.9 166.4 L997.2 167.0 L997.4 164.5 L997.7 164.2 L997.9 163.6 L998.2 164.7 L998.4 162.7 L998.7 162.6 L998.9 161.2 L999.2 161.2 L999.4 162.9 L999.7 161.0 L999.9 159.3 L1000.2 159.9 L1000.4 160.7 L1000.7 159.9 L1001.0 157.9 L1001.2 157.0 L1001.5 158.0 L1001.7 155.8 L1002.0 155.3 L1002.2 154.2 L1002.5 156.1 L1002.7 154.3 L1003.0 154.1 L1003.3 154.1 L1003.6 153.7 L1003.8 152.1 L1004.1 150.8 L1004.4 152.3 L1004.7 149.2 L1005.0 151.6 L1005.3 149.9 L1005.6 150.3 L1005.9 149.0 L1006.3 147.4 L1006.6 147.0 L1006.9 147.3 L1007.3 148.1 L1007.7 145.2 L1008.0 145.8 L1008.4 144.8 L1008.8 145.6 L1009.1 145.3 L1009.5 143.6 L1009.9 142.5 L1010.3 141.6 L1010.7 141.5 L1011.1 141.3 L1011.5 141.9 L1011.9 142.3 L1012.3 139.5 L1012.7 141.7 L1013.1 140.4 L1013.5 140.1 L1013.9 140.4 L1014.3 138.2 L1014.7 138.1 L1015.1 138.2 L1015.5 137.2 L1015.9 136.1 L1016.4 135.0 L1016.8 135.2 L1017.2 136.3 L1017.6 135.4 L1018.0 135.5 L1018.4 134.2 L1018.8 132.8 L1019.3 133.7 L1019.7 132.2 L1020.1 130.9 L1020.5 133.3 L1021.0 131.3 L1021.4 130.9 L1021.8 131.5 L1022.3 131.8 L1022.7 128.5 L1023.2 128.5 L1023.6 128.6 L1024.1 127.9 L1024.6 128.4 L1025.0 129.1 L1025.5 128.8 L1026.0 127.7 L1026.6 126.2 L1027.1 125.7 L1027.6 127.2 L1028.1 125.3 L1028.7 126.1 L1029.2 126.5 L1029.8 124.6 L1030.3 124.2 L1030.9 123.5 L1031.4 123.7 L1032.0 125.7 L1032.6 123.1 L1033.2 123.3 L1033.7 122.6 L1034.3 124.5 L1034.9 122.9 L1035.5 123.4 L1036.1 122.4 L1036.7 123.1 L1037.3 123.1 L1037.9 123.2 L1038.5 123.0 L1039.1 122.0 L1039.7 124.2 L1040.3 122.2 L1040.9 123.1 L1041.5 122.7 L1042.0 122.9 L1042.6 124.2 L1043.2 123.8 L1043.8 122.9 L1044.4 124.0 L1045.0 123.7 L1045.5 125.1 L1046.1 123.7 L1046.7 125.9 L1047.2 125.1 L1047.8 125.3 L1048.3 124.7 L1048.9 124.8 L1049.4 126.0 L1049.9 127.9 L1050.4 125.5 L1051.0 126.3 L1051.5 128.3 L1052.0 128.2 L1052.5 127.3 L1052.9 127.7 L1053.4 128.4 L1053.9 129.4 L1054.3 130.2 L1054.8 131.0 L1055.2 130.8 L1055.7 129.8 L1056.1 132.4 L1056.5 132.4 L1056.9 131.3 L1057.3 131.8 L1057.7 134.0 L1058.1 132.1 L1058.5 134.2 L1058.9 133.5 L1059.3 135.7 L1059.7 134.7 L1060.0 136.3 L1060.4 135.1 L1060.8 136.5 L1061.1 138.0 L1061.5 137.2 L1061.9 136.9 L1062.2 138.9 L1062.6 139.7 L1062.9 138.7 L1063.3 139.8 L1063.6 141.7 L1064.0 142.1 L1064.3 142.1 L1064.6 142.2 L1064.9 143.4 L1065.3 144.2 L1065.6 141.9 L1065.9 143.6 L1066.2 144.7 L1066.5 145.7 L1066.8 144.2 L1067.1 145.7 L1067.4 145.9 L1067.7 146.8 L1068.0 147.6 L1068.3 148.6 L1068.6 148.6 L1068.9 149.5 L1069.2 149.9 L1069.5 150.0 L1069.8 149.2 L1070.1 150.3 L1070.4 151.2 L1070.7 151.2 L1071.0 153.1 L1071.3 153.7 L1071.6 153.8 L1071.9 153.8 L1072.1 155.4 L1072.4 154.4 L1072.7 154.4 L1073.0 157.2 L1073.3 156.8 L1073.6 158.1 L1073.9 157.0 L1074.2 157.2 L1074.5 158.7 L1074.8 160.2 L1075.1 158.9 L1075.4 159.7 L1075.7 161.0 L1076.0 162.0 L1076.3 162.9 L1076.6 161.5 L1076.9 163.6 L1077.2 163.4 L1077.5 164.8 L1077.8 163.9 L1078.1 165.4 L1078.4 164.8 L1078.7 164.9 L1079.0 166.8 L1079.3 166.4 L1079.6 168.3 L1079.9 168.5 L1080.2 169.8 L1080.5 169.1 L1080.8 171.5 L1081.1 170.6 L1081.4 171.0 L1081.7 172.3 L1082.0 172.3 L1082.3 172.2 L1082.6 173.1 L1082.9 172.7 L1083.2 173.8 L1083.5 173.2 L1083.8 175.1 L1084.1 175.0 L1084.4 176.3 L1084.7 175.3 L1085.1 177.4 L1085.4 177.1 L1085.7 178.5 L1086.0 179.5 L1086.3 179.1 L1086.6 180.3 L1087.0 179.5 L1087.3 182.3 L1087.6 180.5 L1087.9 183.1 L1088.2 181.4 L1088.6 182.8 L1088.9 184.3 L1089.2 184.5 L1089.6 184.9 L1089.9 184.6 L1090.2 186.1 L1090.6 187.1 L1090.9 186.1 L1091.2 186.9 L1091.6 186.0 L1091.9 187.5 L1092.2 188.2 L1092.6 190.0 L1092.9 188.1 L1093.3 190.5 L1093.6 190.4 L1094.0 191.1 L1094.3 189.8 L1094.7 190.7 L1095.0 191.6 L1095.4 191.2 L1095.7 193.7 L1096.0 194.8 L1096.4 194.3 L1096.7 194.8 L1097.1 195.5 L1097.4 195.1 L1097.7 195.8 L1098.1 196.9 L1098.4 198.1 L1098.7 196.8 L1099.1 197.6 L1099.4 199.4 L1099.7 198.7 L1100.1 198.3 L1100.4 199.2 L1100.7 199.8 L1101.0 201.2 L1101.3 202.1 L1101.7 203.3 L1102.0 203.9 L1102.3 202.6 L1102.6 204.5 L1102.9 203.6 L1103.2 204.4 L1103.6 204.6 L1103.9 205.5 L1104.2 205.4 L1104.5 206.3 L1104.8 206.2 L1105.1 209.2 L1105.4 208.3 L1105.8 210.1 L1106.1 210.1 L1106.4 209.7 L1106.7 211.1 L1107.0 211.3 L1107.3 210.8 L1107.7 212.0 L1108.0 213.0 L1108.3 212.3 L1108.6 212.0 L1108.9 213.3 L1109.2 215.3 L1109.6 216.2 L1109.9 215.8 L1110.2 214.9 L1110.5 217.2 L1110.9 217.0 L1111.2 218.2 L1111.5 219.0 L1111.9 219.8 L1112.2 219.4 L1112.5 220.5 L1112.9 220.7 L1113.2 221.1 L1113.6 222.0 L1113.9 222.6 L1114.3 223.0 L1114.7 222.1 L1115.0 221.6 L1115.4 224.2 L1115.8 223.9 L1116.2 224.3 L1116.6 225.6 L1117.0 223.8 L1117.4 226.6 L1117.8 224.7 L1118.2 227.0 L1118.6 227.1 L1119.0 227.7 L1119.4 227.4 L1119.8 227.6 L1120.2 228.7 L1120.6 230.2 L1121.0 229.7 L1121.4 230.5 L1121.8 230.3 L1122.2 232.3 L1122.6 232.1 L1122.9 231.4 L1123.3 232.8 L1123.7 232.9 L1124.0 234.4 L1124.4 233.1 L1124.7 233.1 L1125.1 233.9 L1125.4 234.9 L1125.8 236.7 L1126.1 235.6 L1126.4 237.1 L1126.7 237.6 L1127.1 237.5 L1127.4 237.0 L1127.7 239.5 L1128.0 238.7 L1128.3 239.5 L1128.6 240.0 L1128.9 241.3 L1129.2 240.2 L1129.5 242.0 L1129.9 241.0 L1130.2 244.3 L1130.5 243.7 L1130.8 243.6 L1131.1 243.5 L1131.4 245.5 L1131.7 246.6 L1132.0 245.5 L1132.3 247.3 L1132.6 246.4 L1132.9 248.8 L1133.2 248.6 L1133.6 248.9 L1133.9 250.3 L1134.2 248.9 L1134.5 251.3 L1134.8 251.1 L1135.2 251.8 L1135.5 251.8 L1135.8 253.0 L1136.2 253.1 L1136.5 252.1 L1136.9 253.9 L1137.2 253.4 L1137.6 255.7 L1137.9 254.2 L1138.3 254.9 L1138.7 254.7 L1139.0 256.3 L1139.4 257.1 L1139.8 257.6 L1140.1 259.0 L1140.5 257.9 L1140.9 258.6 L1141.3 260.2 L1141.6 259.9 L1142.0 260.6 L1142.4 260.0 L1142.8 261.1 L1143.2 261.9 L1143.5 261.0 L1143.9 261.2 L1144.3 261.9 L1144.7 263.4 L1145.1 262.6 L1145.5 264.7 L1145.9 263.7 L1146.3 264.5 L1146.7 265.5 L1147.1 265.0 L1147.6 265.9 L1148.0 265.6 L1148.5 268.6 L1148.9 268.0 L1149.4 267.7 L1149.9 267.1 L1150.3 268.5 L1150.8 269.0 L1151.3 270.7 L1151.7 269.3 L1152.2 270.6 L1152.6 271.2 L1153.0 270.3 L1153.4 271.6 L1153.8 272.8 L1154.2 271.4 L1154.6 273.3 L1154.9 272.2 L1155.3 272.7 L1155.6 273.3 L1155.9 275.0 L1156.2 276.7 L1156.5 275.8 L1156.7 275.4 L1157.0 278.1 L1157.3 277.7 L1157.5 277.7 L1157.8 280.0 L1158.0 280.5 L1158.3 279.2 L1158.5 279.6 L1158.8 281.2 L1159.0 282.4 L1159.2 281.6 L1159.5 282.8 L1159.7 282.2 L1159.9 282.9 L1160.2 284.9 L1160.4 283.9 L1160.6 284.7 L1160.9 286.4 L1161.1 285.2 L1161.3 285.8 L1161.5 287.0 L1161.8 287.7 L1162.0 288.3 L1162.2 290.1 L1162.4 288.6 L1162.7 290.0 L1162.9 291.3 L1163.1 290.5 L1163.3 293.0 L1163.6 293.0 L1163.8 292.1 L1164.0 292.9 L1164.2 294.9 L1164.5 294.6 L1164.7 295.3 L1164.9 296.9 L1165.1 295.5 L1165.4 298.3 L1165.6 296.4 L1165.8 297.1 L1166.0 298.0 L1166.3 300.1 L1166.5 299.7 L1166.7 300.8 L1167.0 300.1 L1167.2 300.6 L1167.4 302.1 L1167.6 303.2 L1167.9 303.1 L1168.1 304.7 L1168.3 304.7 L1168.5 304.2 L1168.8 304.7 L1169.0 305.6 L1169.2 307.2 L1169.4 308.2 L1169.7 308.5 L1169.9 307.5 L1170.1 308.5 L1170.3 309.6 L1170.6 309.9 L1170.8 310.1 L1171.0 309.9 L1171.2 312.0 L1171.5 311.0 L1171.7 313.5 L1171.9 314.1 L1172.1 314.3 L1172.4 314.2 L1172.6 315.3 L1172.8 315.1 L1173.0 316.7 L1173.2 317.2 L1173.5 316.2 L1173.7 317.2 L1173.9 317.8 L1174.1 318.4 L1174.4 319.5 L1174.6 318.7 L1174.8 320.8 L1175.0 320.2 L1175.2 321.3 L1175.5 322.0 L1175.7 322.3 L1175.9 322.9 L1176.1 323.0 L1176.3 323.2 L1176.5 325.0 L1176.7 325.7 L1177.0 325.1 L1177.2 325.9 L1177.4 326.6 L1177.6 328.5 L1177.8 327.4 L1178.0 328.9 L1178.2 329.5 L1178.5 329.5 L1178.7 330.1 L1178.9 332.2 L1179.1 331.8 L1179.3 332.6 L1179.5 332.7 L1179.7 333.7 L1179.9 334.1 L1180.1 333.6 L1180.3 334.6 L1180.5 335.5 L1180.7 335.2 L1180.9 336.4 L1181.1 336.6 L1181.3 338.7 L1181.5 338.0 L1181.7 338.3 L1181.9 339.3 L1182.1 340.5 L1182.3 339.6 L1182.5 340.4 L1182.7 342.3 L1182.9 343.0 L1183.1 343.2 L1183.3 344.4 L1183.5 343.2 L1183.7 345.1 L1183.9 346.2 L1184.1 344.9 L1184.3 345.7 L1184.5 347.0 L1184.7 347.1 L1184.9 348.5 L1185.1 347.5 L1185.3 348.3 L1185.4 350.3 L1185.6 351.4 L1185.8 351.9 L1186.0 352.4 L1186.2 351.1 L1186.4 351.7 L1186.5 352.1 L1186.7 353.8 L1186.9 355.2 L1187.1 355.0 L1187.3 356.1 L1187.4 355.3 L1187.6 357.5 L1187.8 356.4 L1188.0 356.7 L1188.1 358.1 L1188.3 359.0 L1188.5 360.6 L1188.7 359.1 L1188.8 360.1 L1189.0 360.2 L1189.2 361.5 L1189.4 361.8 L1189.5 362.9 L1189.7 363.1 L1189.9 365.1 L1190.0 365.3 L1190.2 366.1 L1190.4 364.9 L1190.5 366.5 L1190.7 366.3 L1190.9 368.4 L1191.0 367.0 L1191.2 367.7 L1191.4 369.0 L1191.5 369.6 L1191.7 369.9 L1191.9 370.0 L1192.0 370.7 L1192.2 371.7 L1192.3 373.8 L1192.5 372.6 L1192.7 374.4 L1192.8 373.9 L1193.0 373.9 L1193.2 374.5 L1193.3 375.4 L1193.5 376.7 L1193.7 377.9 L1193.8 378.4 L1194.0 378.1 L1194.1 379.0 L1194.3 380.4 L1194.5 381.0 L1194.6 380.4 L1194.8 380.2 L1194.9 380.9 L1195.1 383.1 L1195.3 382.6 L1195.4 383.6 L1195.6 383.6 L1195.8 385.6 L1195.9 385.4 L1196.1 386.1 L1196.2 386.1 L1196.4 387.2 L1196.6 386.6 L1196.7 387.8 L1196.9 388.5 L1197.0 389.0 L1197.2 389.1 L1197.4 390.7 L1197.5 391.9 L1197.7 392.8 L1197.8 392.4 L1198.0 393.2 L1198.1 393.0 L1198.3 393.3 L1198.5 393.8 L1198.6 395.8 L1198.8 396.4 L1198.9 395.7 L1199.1 396.8 L1199.2 397.8 L1199.4 397.3 L1199.5 399.4 L1199.7 399.6 L1199.9 400.2 L1200.0 400.9 L1200.2 402.1 L1200.3 401.8 L1200.5 403.0 L1200.6 402.6 L1200.8 403.7 L1200.9 404.9 L1201.1 404.9 L1201.2 404.7 L1201.4 406.0 L1201.5 406.0 L1201.7 406.5 L1201.8 407.7 L1202.0 407.3 L1202.1 408.6 L1202.3 410.2 L1202.4 409.5 L1202.6 409.7 L1202.7 410.9 L1202.9 412.3 L1203.0 412.8 L1203.2 413.4 L1203.3 412.2 L1203.5 413.3 L1203.6 415.5 L1203.8 414.2 L1203.9 415.6 L1204.1 416.8 L1204.2 415.9 L1204.4 417.7 L1204.5 417.9 L1204.7 417.8 L1204.9 419.9 L1205.0 418.9 L1205.2 420.5 L1205.3 421.3 L1205.5 421.5 L1205.6 422.2 L1205.8 421.7 L1205.9 422.7 L1206.1 423.9 L1206.2 424.1 L1206.3 425.2 L1206.5 426.2 L1206.6 425.4 L1206.8 427.5 L1206.9 426.9 L1207.1 428.7 L1207.2 428.6 L1207.3 429.6 L1207.5 429.6 L1207.6 430.2 L1207.8 430.3 L1207.9 430.5 L1208.0 431.6 L1208.2 431.8 L1208.3 432.0 L1208.5 433.1 L1208.6 433.5 L1208.7 435.6 L1208.9 434.5 L1209.0 435.3 L1209.1 437.0 L1209.3 438.0 L1209.4 437.2 L1209.5 437.3 L1209.6 439.8 L1209.8 439.9 L1209.9 439.7 L1210.0 440.6 L1210.2 441.4 L1210.3 441.6 L1210.4 443.2 L1210.5 443.5 L1210.7 444.5 L1210.8 443.9 L1210.9 445.7 L1211.0 445.3 L1211.2 446.2 L1211.3 447.0 L1211.4 447.7 L1211.5 447.5 L1211.6 448.2 L1211.8 449.5 L1211.9 449.9 L1212.0 450.9 L1212.1 451.6 L1212.2 450.6 L1212.4 451.2 L1212.5 452.8 L1212.6 453.5 L1212.7 453.8 L1212.8 454.9 L1212.9 454.2 L1213.1 455.0 L1213.2 455.9 L1213.3 456.1 L1213.4 457.2 L1213.5 458.1 L1213.6 457.7 L1213.7 458.8 L1213.8 460.5 L1214.0 459.7 L1214.1 459.7 L1214.2 461.9 L1214.3 461.8 L1214.4 461.5 L1214.5 463.8 L1214.6 463.4 L1214.7 465.0 L1214.8 464.6 L1214.9 464.5 L1215.0 465.4 L1215.1 466.3 L1215.2 467.6 L1215.3 467.1 L1215.4 468.2 L1215.4 469.7 L1215.5 469.6 L1215.6 469.3 L1215.6 469.8 L1215.7 471.7 L1215.8 472.8 L1215.8 473.1 L1215.9 473.6 L1215.9 474.0 L1216.0 474.9 L1216.0 474.0 L1216.1 475.0 L1216.1 476.5 L1216.2 477.4 L1216.2 477.6 L1216.3 477.3 L1216.3 479.3 L1216.4 479.9 L1216.4 478.9 L1216.5 479.7 L1216.5 480.4 L1216.6 481.9 L1216.6 482.8 L1216.7 482.8 L1216.7 482.7 L1216.7 483.7 L1216.8 483.8 L1216.8 485.9 L1216.9 486.2 L1216.9 486.3 L1217.0 486.8 L1217.0 486.7 L1217.0 487.7 L1217.1 487.9 L1217.1 489.8 L1217.2 489.9 L1217.2 489.9 L1217.2 490.5 L1217.3 491.2 L1217.3 491.9 L1217.4 492.6 L1217.4 493.1 L1217.4 494.4 L1217.5 493.8 L1217.5 494.9 L1217.6 496.3 L1217.6 497.3 L1217.6 497.6 L1217.7 497.2 L1217.7 497.7 L1217.7 498.3 L1217.8 500.1 L1217.8 499.5 L1217.9 501.1 L1217.9 500.8 L1217.9 501.0 L1218.0 502.9 L1218.0 503.4 L1218.1 502.9 L1218.1 503.9 L1218.1 505.6 L1218.2 504.8 L1218.2 505.3 L1218.2 506.8 L1218.3 508.0 L1218.3 507.1 L1218.4 508.4 L1218.4 509.3 L1218.4 509.0 L1218.5 509.3 L1218.5 511.5 L1218.6 510.6 L1218.6 511.6 L1218.6 512.9 L1218.7 512.8 L1218.7 512.9 L1218.8 514.5 L1218.8 514.7 L1218.8 515.0 L1218.9 517.0 L1218.9 516.2 L1219.0 517.8 L1219.0 518.7 L1219.0 519.2 L1219.1 518.6 L1219.1 519.3 L1219.2 519.5 L1219.2 521.7 L1219.2 522.3 L1219.3 522.3 L1219.3 522.1 L1219.4 522.8 L1219.4 524.1 L1219.5 524.1 L1219.5 524.8 L1219.6 525.2 L1219.6 525.8 L1219.7 526.9 L1219.7 527.6 L1219.8 528.2 L1219.8 529.6 L1219.9 528.7 L1219.9 530.4 L1220.0 531.1 L1220.0 531.3 L1220.1 531.7 L1220.1 533.0 L1220.2 533.5 L1220.2 532.8 L1220.3 534.9 L1220.4 533.9 L1220.4 535.5 L1220.5 536.1 L1220.6 537.1 L1220.6 536.9 L1220.7 537.0 L1220.8 538.4 L1220.9 538.1 L1221.0 539.3 L1221.1 540.9 L1221.1 541.3 L1221.2 540.7 L1221.3 542.4 L1221.4 543.0 L1221.5 543.8 L1221.7 543.2 L1221.8 544.2 L1221.9 545.4 L1222.0 545.7 L1222.1 546.2 L1222.2 546.8 L1222.3 546.8 L1222.4 547.0 L1222.5 548.8 L1222.6 548.7 L1222.7 549.3 L1222.8 550.3 L1222.9 551.0 L1223.0 550.8 L1223.1 552.4 L1223.2 552.3 L1223.3 553.3 L1223.4 554.4 L1223.5 554.4 L1223.6 554.6 L1223.7 555.7 L1223.8 556.1 L1223.9 556.6 L1224.0 557.6 L1224.1 558.5 L1224.2 558.4 L1224.3 558.3 L1224.4 559.7 L1224.5 559.8 L1224.7 560.0 L1224.8 561.8 L1224.9 561.6 L1225.0 563.0 L1225.1 563.1 L1225.2 563.4 L1225.3 564.0 L1225.4 564.2 L1225.5 565.6 L1225.6 566.6 L1225.7 566.0 L1225.8 566.7 L1225.9 567.9 L1226.0 568.7 L1226.1 569.4 L1226.2 569.4 L1226.3 569.5 L1226.4 570.7 L1226.5 571.0 L1226.6 571.2 L1226.7 572.9 L1226.8 573.9 L1226.9 573.6 L1227.0 574.1 L1227.1 575.0 L1227.2 576.1 L1227.3 576.6 L1227.4 577.0 L1227.5 577.2 L1227.7 578.2 L1227.8 578.1 L1227.9 578.8 L1228.0 580.1 L1228.1 580.9 L1228.2 580.4 L1228.3 581.2 L1228.4 581.3 L1228.5 582.5 L1228.6 582.8 L1228.7 584.0 L1228.8 584.7 L1228.9 584.4 L1229.0 585.0 L1229.1 586.8 L1229.2 586.6 L1229.3 587.4 L1229.4 588.7 L1229.5 588.9 L1229.6 588.9 L1229.7 589.1 L1229.8 590.4 L1229.9 590.7 L1230.0 590.8 L1230.1 592.5 L1230.2 592.5 L1230.3 593.4 L1230.4 594.2 L1230.5 595.1 L1230.6 595.2 L1230.8 595.4 L1230.9 595.7 L1231.0 596.2 L1231.1 597.2 L1231.2 598.2 L1231.3 598.9 L1231.4 598.8 L1231.5 599.2 L1231.6 600.1 L1231.7 601.0 L1231.8 601.9 L1231.9 602.2 L1232.0 602.4 L1232.1 603.5 L1232.2 603.6 L1232.4 604.7 L1232.5 605.6 L1232.6 605.9 L1232.7 606.4 L1232.8 606.6 L1232.9 608.0 L1233.0 608.7 L1233.2 609.0 L1233.3 609.3 L1233.4 609.3 L1233.5 610.1 L1233.6 610.8 L1233.7 611.3 L1233.9 612.1 L1234.0 612.9 L1234.1 612.9 L1234.2 613.6 L1234.4 614.0 L1234.5 614.8 L1234.6 615.7 L1234.7 616.3 L1234.8 617.5 L1235.0 618.1 L1235.1 617.9 L1235.2 619.2 L1235.4 618.8 L1235.5 619.8 L1235.6 620.3 L1235.7 621.6 L1235.9 622.0 L1236.0 621.8 L1236.1 622.6 L1236.3 622.9 L1236.4 623.9 L1236.5 624.9 L1236.7 624.4 L1236.8 625.2 L1236.9 626.9 L1237.1 627.4 L1237.2 627.5 L1237.3 628.2 L1237.5 628.3 L1237.6 629.7 L1237.8 630.0 L1237.9 630.5 L1238.0 630.3 L1238.2 631.9 L1238.3 632.4 L1238.5 632.9 L1238.6 633.5 L1238.8 633.4 L1238.9 634.7 L1239.1 634.5 L1239.2 635.8 L1239.4 635.5 L1239.5 637.1 L1239.7 637.3 L1239.9 637.5 L1240.0 638.7 L1240.2 638.8 L1240.4 640.1 L1240.5 639.8 L1240.7 641.3 L1240.9 641.9 L1241.0 641.7 L1241.2 642.9 L1241.4 643.5 L1241.6 643.5 L1241.8 644.0 L1241.9 644.5 L1242.1 645.9 L1242.3 645.6 L1242.5 647.0 L1242.7 646.9 L1242.9 648.1 L1243.1 648.6 L1243.4 648.3 L1243.6 649.4 L1243.8 650.0 L1244.0 650.3 L1244.2 650.3 L1244.5 651.3 L1244.7 652.4 L1245.0 652.1 L1245.2 652.7 L1245.4 653.9 L1245.7 654.2 L1246.0 654.8 L1246.2 655.2 L1246.5 656.0 L1246.7 656.8 L1247.0 656.7 L1247.3 657.9 L1247.6 657.9 L1247.9 658.5 L1248.1 659.3 L1248.4 659.3 L1248.7 660.6 L1249.1 660.8 L1249.4 661.2 L1249.7 661.4 L1250.0 662.3 L1250.4 662.3 L1250.7 663.5 L1251.1 663.0 L1251.4 663.7 L1251.8 664.6 L1252.2 665.2 L1252.6 665.4 L1253.0 666.3 L1253.4 666.9 L1253.8 666.7 L1254.3 667.5 L1254.7 667.6 L1255.1 668.2 L1255.6 668.0 L1256.0 668.3 L1256.5 669.8 L1257.0 669.9 L1257.5 669.6 L1258.0 670.3 L1258.5 670.3 L1259.0 670.4 L1259.6 670.9 L1260.1 671.0 L1260.7 670.9 L1261.2 671.6 L1261.8 672.4 L1262.4 672.5 L1263.0 672.3 L1263.6 672.0 L1264.1 672.0 L1264.7 673.0 L1265.3 672.5 L1265.9 672.1 L1266.5 672.1 L1267.1 673.0 L1267.7 672.0 L1268.3 671.7 L1268.9 671.7 L1269.5 672.3 L1270.1 672.1 L1270.6 671.5 L1271.2 671.8 L1271.7 671.1 L1272.3 670.7 L1272.8 670.1 L1273.3 670.7 L1273.8 669.6 L1274.3 669.7 L1274.7 669.7 L1275.2 668.4 L1275.6 668.9 L1276.0 668.1 L1276.4 667.0 L1276.8 667.3 L1277.2 667.1 L1277.6 666.1 L1277.9 665.8 L1278.3 664.5 L1278.6 665.2 L1278.9 663.9 L1279.3 663.0 L1279.6 663.4 L1279.9 663.1 L1280.2 662.3 L1280.5 660.9 L1280.8 660.5 L1281.1 660.6 L1281.3 659.7 L1281.6 659.8 L1281.9 659.3 L1282.2 658.9 L1282.4 658.0 L1282.7 657.7 L1283.0 656.5 L1283.2 655.7 L1283.5 656.1 L1283.7 654.9 L1284.0 654.4 L1284.2 654.2 L1284.4 653.6 L1284.7 652.8 L1284.9 652.2 L1285.1 651.3 L1285.4 651.3 L1285.6 650.3 L1285.8 650.4 L1286.0 649.8 L1286.2 648.5 L1286.5 649.0 L1286.7 648.2 L1286.9 647.0 L1287.1 646.2 L1287.3 646.2 L1287.5 645.4 L1287.8 645.1 L1288.0 644.7 L1288.2 644.3 L1288.4 642.8 L1288.6 643.1 L1288.8 642.0 L1289.0 642.3 L1289.3 641.6 L1289.5 640.7 L1289.7 640.1 L1289.9 639.1 L1290.1 638.6 L1290.3 637.9 L1290.6 637.6 L1290.8 636.7 L1291.0 636.7 L1291.2 636.3 L1291.4 635.1 L1291.6 634.8 L1291.8 633.9 L1292.1 633.9 L1292.3 633.5 L1292.5 632.9 L1292.7 632.6 L1292.9 631.3 L1293.1 631.2 L1293.4 630.3 L1293.6 629.4 L1293.8 629.1 L1294.0 628.3 L1294.2 628.9 L1294.4 628.0 L1294.6 626.6 L1294.9 627.0 L1295.1 625.8 L1295.3 626.0 L1295.5 624.9 L1295.7 624.8 L1295.9 623.4 L1296.2 623.1 L1296.4 622.5 L1296.6 621.6 L1296.8 621.3 L1297.0 621.2 L1297.2 620.4 L1297.4 620.4 L1297.7 619.0 L1297.9 618.6 L1298.1 617.9 L1298.3 617.7 L1298.5 616.6 L1298.7 616.1 L1298.9 616.5 L1299.2 615.2 L1299.4 614.9 L1299.6 613.7 L1299.8 613.2 L1300.0 612.6 L1300.2 613.0 L1300.4 611.5 L1300.6 611.5 L1300.8 610.4 L1301.0 610.0 L1301.2 610.3 L1301.4 609.4 L1301.6 609.3 L1301.8 608.2 L1301.9 606.8 L1302.1 606.8 L1302.3 605.6 L1302.4 605.5 L1302.6 605.1 L1302.8 604.7 L1302.9 603.6 L1303.1 603.5 L1303.2 602.7 L1303.4 602.3 L1303.6 601.3 L1303.7 600.6 L1303.9 600.9 L1304.0 599.7 L1304.2 599.6 L1304.3 598.9 L1304.5 598.8 L1304.6 598.2 L1304.8 597.0 L1304.9 596.0 L1305.1 596.1 L1305.2 595.5 L1305.4 595.0 L1305.5 594.7 L1305.7 594.0 L1305.8 593.2 L1306.0 592.5 L1306.1 591.4 L1306.2 591.4 L1306.4 591.1 L1306.5 590.7 L1306.7 590.1 L1306.8 589.0 L1307.0 588.0 L1307.1 587.5 L1307.3 587.9 L1307.4 586.6 L1307.6 586.5 L1307.7 585.6 L1307.9 584.8 L1308.0 584.0 L1308.2 583.7 L1308.3 582.3 L1308.5 583.1 L1308.6 582.0 L1308.8 580.6 L1308.9 581.2 L1309.1 579.6 L1309.2 578.9 L1309.4 579.0 L1309.5 579.1 L1309.6 577.2 L1309.8 576.6 L1309.9 577.3 L1310.1 576.6 L1310.2 576.0 L1310.4 574.9 L1310.5 574.2 L1310.7 573.6 L1310.8 573.3 L1311.0 573.0 L1311.1 572.5 L1311.3 571.7 L1311.4 571.0 L1311.6 570.1 L1311.7 569.4 L1311.9 568.8 L1312.0 568.2 L1312.1 568.2 L1312.3 567.8 L1312.4 567.0 L1312.6 565.8 L1312.7 565.2 L1312.9 565.5 L1313.0 565.2 L1313.2 563.1 L1313.4 562.9 L1313.5 563.2 L1313.7 562.5 L1313.8 561.2 L1314.0 561.1 L1314.1 560.5 L1314.3 560.2 L1314.4 559.2 L1314.6 558.5 L1314.7 557.8 L1314.9 557.1 L1315.0 556.3 L1315.2 556.6 L1315.4 556.1 L1315.5 555.5 L1315.7 553.8 L1315.8 553.9 L1316.0 552.8 L1316.2 552.9 L1316.3 553.1 L1316.5 551.7 L1316.6 550.9 L1316.8 551.1 L1317.0 550.8 L1317.1 549.1 L1317.3 549.3 L1317.5 549.1 L1317.6 547.0 L1317.8 547.2 L1318.0 547.1 L1318.1 545.8 L1318.3 545.3 L1318.5 545.2 L1318.7 543.6 L1318.8 543.4 L1319.0 543.2 L1319.2 542.1 L1319.4 542.5 L1319.6 541.8 L1319.7 541.6 L1319.9 540.3 L1320.1 539.0 L1320.3 539.8 L1320.5 539.1 L1320.7 538.0 L1320.9 538.0 L1321.1 537.5 L1321.3 536.7 L1321.5 535.8 L1321.7 535.3 L1321.9 535.2 L1322.1 534.2 L1322.3 532.9 L1322.5 533.2 L1322.7 532.4 L1322.9 531.3 L1323.2 530.3 L1323.4 530.2 L1323.6 530.4 L1323.8 530.2 L1324.1 529.5 L1324.3 527.7 L1324.5 527.1 L1324.8 527.8 L1325.0 526.4 L1325.3 525.8 L1325.5 524.8 L1325.8 524.4 L1326.0 524.0 L1326.3 523.5 L1326.5 523.4 L1326.8 523.5 L1327.1 523.0 L1327.4 522.6 L1327.6 521.3 L1327.9 521.2 L1328.2 520.3 L1328.5 519.0 L1328.8 518.5 L1329.1 518.3 L1329.4 519.1 L1329.7 518.1 L1330.1 516.8 L1330.4 517.1 L1330.7 516.5 L1331.1 514.9 L1331.4 515.0 L1331.8 515.3 L1332.1 513.5 L1332.5 514.5 L1332.9 514.1 L1333.3 513.5 L1333.7 511.8 L1334.1 512.1 L1334.5 511.9 L1334.9 511.8 L1335.3 510.0 L1335.8 510.9 L1336.2 509.5 L1336.7 509.7 L1337.2 509.6 L1337.7 509.3 L1338.1 508.1 L1338.7 508.4 L1339.2 507.5 L1339.7 508.5 L1340.2 507.9 L1340.8 506.9 L1341.3 507.5 L1341.9 507.0 L1342.4 507.2 L1343.0 505.6 L1343.6 505.7 L1344.2 505.2 L1344.8 505.5 L1345.4 505.5 L1346.0 505.9 L1346.6 505.5 L1347.2 505.9 L1347.8 505.1 L1348.4 504.9 L1348.9 505.3 L1349.5 505.5 L1350.1 505.5 L1350.7 506.5 L1351.3 505.5 L1351.9 505.8 L1352.5 505.7 L1353.0 506.2 L1353.6 506.5 L1354.1 507.1 L1354.6 506.8 L1355.2 507.1 L1355.7 508.3 L1356.1 509.0 L1356.6 507.9 L1357.1 508.4 L1357.5 508.7 L1357.9 510.2 L1358.4 509.7 L1358.8 510.9 L1359.2 510.6 L1359.6 512.2 L1360.0 511.7 L1360.3 512.8 L1360.7 512.3 L1361.1 513.1 L1361.5 513.5 L1361.8 514.6 L1362.2 515.2 L1362.6 516.0 L1362.9 515.3 L1363.3 516.8 L1363.6 517.2 L1364.0 517.4 L1364.3 518.0 L1364.7 517.5 L1365.0 518.1 L1365.3 519.1 L1365.7 520.1 L1366.0 519.7 L1366.3 520.6 L1366.6 521.3 L1366.9 522.6 L1367.3 521.5 L1367.6 523.4 L1367.9 524.2 L1368.2 523.5 L1368.5 525.1 L1368.7 524.5 L1369.0 526.0 L1369.3 525.9 L1369.6 526.7 L1369.9 526.6 L1370.2 527.9 L1370.4 527.5 L1370.7 528.7 L1371.0 529.1 L1371.2 530.3 L1371.5 530.2 L1371.8 531.3 L1372.0 531.1 L1372.3 531.5 L1372.6 532.9 L1372.8 532.8 L1373.1 533.5 L1373.3 534.1 L1373.6 535.1 L1373.8 535.2 L1374.1 535.5 L1374.3 535.6 L1374.6 537.1 L1374.8 537.9 L1375.1 537.2 L1375.3 538.3 L1375.5 539.7 L1375.8 539.6 L1376.0 540.1 L1376.2 539.9 L1376.5 541.2 L1376.7 542.0 L1376.9 541.7 L1377.1 543.6 L1377.3 542.9 L1377.6 544.2 L1377.8 544.1 L1378.0 544.4 L1378.2 545.2 L1378.4 545.9 L1378.6 546.7 L1378.8 546.9 L1379.0 548.3 L1379.2 549.0 L1379.4 549.5 L1379.6 549.9 L1379.8 549.8 L1380.0 550.2 L1380.2 550.6 L1380.4 551.7 L1380.6 551.7 L1380.8 553.2 L1381.0 554.3 L1381.2 554.5 L1381.4 554.1 L1381.6 554.5 L1381.8 555.5 L1382.0 557.2 L1382.2 556.6 L1382.4 557.9 L1382.6 558.4 L1382.8 558.8 L1383.0 559.0 L1383.2 559.3 L1383.4 561.1 L1383.7 560.2 L1383.9 561.0 L1384.1 561.7 L1384.3 563.2 L1384.5 563.5 L1384.7 563.3 L1385.0 563.7 L1385.2 565.4 L1385.4 565.8 L1385.6 565.2 L1385.9 567.1 L1386.1 567.2 L1386.3 567.5 L1386.5 568.4 L1386.8 568.0 L1387.0 569.0 L1387.2 569.2 L1387.4 570.6 L1387.7 570.8 L1387.9 571.4 L1388.1 571.7 L1388.4 573.0 L1388.6 572.4 L1388.9 573.3 L1389.1 574.4 L1389.3 575.2 L1389.6 575.5 L1389.8 576.2 L1390.1 575.7 L1390.3 576.6 L1390.6 576.8 L1390.8 578.0 L1391.1 579.3 L1391.4 578.4 L1391.6 579.6 L1391.9 579.4 L1392.2 580.9 L1392.4 580.8 L1392.7 582.1 L1393.0 581.8 L1393.3 583.3 L1393.6 582.9 L1393.9 583.7 L1394.2 584.0 L1394.5 585.4 L1394.8 585.4 L1395.2 586.5 L1395.5 585.9 L1395.8 586.9 L1396.2 587.8 L1396.5 588.6 L1396.9 588.7 L1397.2 588.4 L1397.6 589.8 L1397.9 589.2 L1398.3 590.7 L1398.6 591.3 L1399.0 591.4 L1399.4 591.8 L1399.7 592.9 L1400.1 592.0 L1400.4 592.5 L1400.8 593.3 L1401.2 594.2 L1401.5 594.7 L1401.9 595.0 L1402.2 595.3 L1402.5 595.7 L1402.9 597.1 L1403.2 596.9 L1403.5 597.6 L1403.8 598.6 L1404.2 598.8 L1404.5 599.0 L1404.8 599.2 L1405.1 600.1 L1405.4 600.7 L1405.7 601.9 L1406.0 601.5 L1406.3 601.8 L1406.6 602.4 L1406.9 602.9 L1407.1 603.3 L1407.4 604.2 L1407.7 604.6 L1408.0 606.0 L1408.3 606.4 L1408.6 605.9 L1408.9 607.5 L1409.2 607.0 L1409.5 608.4 L1409.7 608.7 L1410.0 608.6 L1410.3 610.2 L1410.6 610.7 L1410.9 611.2 L1411.2 611.1 L1411.5 611.4 L1411.8 613.0 L1412.1 613.2 L1412.4 612.7 L1412.6 613.7 L1412.9 614.8 L1413.2 614.9 L1413.5 615.1 L1413.8 616.3 L1414.1 616.1 L1414.5 616.3 L1414.8 617.1 L1415.1 618.7 L1415.4 618.7 L1415.7 618.6 L1416.0 619.8 L1416.3 620.3 L1416.7 620.7 L1417.0 620.5 L1417.3 621.2 L1417.6 622.5 L1418.0 622.9 L1418.3 622.6 L1418.6 623.3 L1419.0 624.1 L1419.3 625.0 L1419.6 624.6 L1420.0 625.0 L1420.3 625.9 L1420.7 627.1 L1421.0 626.7 L1421.4 627.0 L1421.7 627.4 L1422.1 628.3 L1422.4 628.3 L1422.8 629.5 L1423.1 630.1 L1423.5 630.3 L1423.9 631.2 L1424.3 631.3 L1424.6 632.1 L1425.0 631.9 L1425.4 633.0 L1425.8 633.2 L1426.2 633.9 L1426.6 634.0 L1427.0 634.5 L1427.4 634.4 L1427.8 635.4 L1428.2 635.4 L1428.6 635.8 L1429.1 636.6 L1429.5 637.2 L1429.9 637.3 L1430.4 637.5 L1430.8 638.6 L1431.2 639.3 L1431.7 639.4 L1432.1 639.0 L1432.6 640.4 L1433.0 639.8 L1433.5 640.6 L1434.0 641.6 L1434.4 641.2 L1434.9 641.4 L1435.4 642.5 L1435.8 643.1 L1436.3 642.7 L1436.8 643.0 L1437.3 643.3 L1437.8 644.6 L1438.3 644.5 L1438.7 645.2 L1439.2 644.8 L1439.7 644.9 L1440.2 645.7 L1440.7 645.7 L1441.2 646.4 L1441.7 646.8 L1442.2 646.8 L1442.7 647.1 L1443.3 647.1 L1443.8 647.9 L1444.3 648.1 L1444.8 648.8 L1445.3 649.4 L1445.8 649.2 L1446.3 649.0 L1446.9 650.3 L1447.4 650.5 L1447.9 650.2 L1448.5 650.4 L1449.0 651.4 L1449.6 651.0 L1450.1 651.5 L1450.7 652.1 L1451.3 651.2 L1451.8 651.7 L1452.4 651.7 L1453.0 652.7 L1453.6 652.4 L1454.2 652.0 L1454.8 652.9 L1455.3 652.9 L1455.9 653.0 L1456.5 653.5 L1457.1 653.5 L1457.7 653.4 L1458.3 652.9 L1458.9 652.9 L1459.5 653.1 L1460.1 653.2 L1460.7 653.7 L1461.3 654.0 L1461.8 653.9 L1462.4 653.5 L1463.0 654.0 L1463.6 654.8 L1464.2 654.6 L1464.8 654.3 L1465.4 654.8 L1466.0 654.4 L1466.6 654.3 L1467.1 655.0 L1467.7 654.8 L1468.3 655.2 L1468.9 655.8 L1469.5 655.6 L1470.1 655.8 L1470.7 655.2 L1471.2 655.8 L1471.8 655.8 L1472.4 656.3 L1473.0 656.0 L1473.6 656.3 L1474.1 657.2 L1474.7 656.4 L1475.2 656.8 L1475.8 657.0 L1476.3 657.8 L1476.9 658.1 L1477.4 658.4 L1478.0 658.2 L1478.5 659.0 L1479.0 659.1 L1479.6 659.4 L1480.1 659.7 L1480.7 659.8 L1481.3 659.7 L1481.8 659.5 L1482.4 660.3 L1483.0 660.4 L1483.6 660.5 L1484.2 660.3 L1484.8 660.6 L1485.4 660.1 L1486.0 660.5 L1486.5 659.7 L1487.1 660.5 L1487.7 659.5 L1488.2 659.3 L1488.7 659.7 L1489.3 659.4 L1489.8 659.0 L1490.3 658.1 L1490.7 658.4 L1491.2 657.9 L1491.7 657.4 L1492.2 657.4 L1492.7 656.9 L1493.2 656.1 L1493.7 655.7 L1494.2 655.4 L1494.7 654.7 L1495.2 654.8 L1495.7 654.5 L1496.3 654.8 L1496.8 654.6 L1497.4 654.5 L1498.0 653.6 L1498.6 654.0 L1499.2 653.8 L1499.8 653.3 L1500.4 654.0 L1501.0 653.2 L1501.6 653.8 L1502.2 653.1 L1502.8 653.1 L1503.4 653.8 L1504.0 653.6 L1504.6 653.5 L1505.2 653.9 L1505.8 653.4 L1506.4 654.0 L1507.0 654.2 L1507.6 654.2 L1508.2 653.3 L1508.8 653.5 L1509.4 653.8 L1510.0 654.0 L1510.6 653.8 L1511.2 653.8 L1511.8 653.9 L1512.4 653.2 L1513.0 653.4 L1513.6 653.3 L1514.2 653.4 L1514.8 653.6 L1515.4 653.2 L1516.0 653.6 L1516.5 653.2 L1517.1 652.8 L1517.7 652.9 L1518.3 653.3 L1518.9 652.8 L1519.5 652.9 L1520.1 652.8 L1520.7 652.3 L1521.3 652.1 L1521.9 652.2 L1522.5 651.8 L1523.1 652.5 L1523.7 652.2 L1524.2 651.7 L1524.8 651.2 L1525.4 651.8 L1525.9 651.3 L1526.5 651.6 L1527.1 650.3 L1527.6 650.3 L1528.2 649.9 L1528.8 650.7 L1529.4 649.9 L1530.0 650.8 L1530.6 650.5 L1531.2 650.7 L1531.7 650.4 L1532.2 651.4 L1532.7 651.3 L1533.2 651.6 L1533.6 652.8 L1534.1 653.2 L1534.5 652.6 L1534.9 654.0 L1535.4 654.5 L1535.8 654.4 L1536.2 655.0 L1536.6 655.6 L1537.1 655.9 L1537.5 656.1 L1537.9 656.6 L1538.3 657.1 L1538.8 657.8 L1539.2 657.5 L1539.6 658.6 L1540.0 659.0 L1540.5 659.4 L1540.9 659.9 L1541.3 660.3 L1541.7 660.3 L1542.2 660.9 L1542.6 661.5 L1543.0 662.0 L1543.4 662.6 L1543.8 663.0 L1544.3 663.0 L1544.7 663.3 L1545.1 664.2 L1545.5 663.9 L1546.0 664.9 L1546.4 664.7 L1546.8 665.6 L1547.2 666.0 L1547.7 666.2 L1548.1 667.2 L1548.5 667.2 L1548.9 667.6 L1549.4 667.9 L1549.8 667.9 L1550.2 668.7 L1550.6 668.8 L1551.1 669.8 L1551.5 670.3 L1551.9 670.9 L1552.3 671.2 L1552.8 671.0 L1553.2 672.2 L1553.6 672.3 L1554.0 672.2 L1554.5 672.5 L1554.9 673.3 L1555.3 674.2 L1555.7 675.0 L1556.2 675.4 L1556.6 675.6 L1557.0 675.4 L1557.4 676.2 L1557.8 676.1 L1558.3 677.3 L1558.7 676.9 L1559.1 678.1 L1559.5 678.7 L1560.0 678.6 L1560.4 678.4 L1560.8 679.4 L1561.2 680.4 L1561.7 679.8 L1562.1 680.1 L1562.5 681.5 L1562.9 681.7 L1563.4 681.3 L1563.8 683.2 L1564.2 683.0 L1564.6 683.4 L1565.1 684.2 L1565.5 684.8 L1565.9 683.9 L1566.3 684.7 L1566.8 684.9 L1567.2 685.8 L1567.6 685.6 L1568.0 686.0 L1568.4 686.8 L1568.8 688.2 L1569.2 688.8 L1569.6 688.9 L1570.0 688.1 L1570.4 689.8 L1570.7 689.1 L1571.1 689.8 L1571.4 690.1 L1571.7 690.8 L1572.1 692.2 L1572.4 692.7 L1572.7 692.7 L1573.0 693.8 L1573.3 694.5 L1573.6 693.8 L1573.9 694.2 L1574.2 695.3 L1574.5 695.8 L1574.8 696.1 L1575.1 697.5 L1575.4 697.3 L1575.7 698.6 L1576.0 699.4 L1576.3 699.2 L1576.6 699.5 L1576.9 699.4 L1577.2 700.3 L1577.5 702.0 L1577.8 701.3 L1578.1 702.5 L1578.4 702.8 L1578.7 702.5 L1579.0 704.6 L1579.3 703.5 L1579.6 705.2 L1579.9 706.3 L1580.3 706.3 L1580.6 706.0 L1580.9 706.0 L1581.3 707.5 L1581.6 708.3 L1581.9 708.1 L1582.3 709.1 L1582.6 709.5 L1583.0 708.9 L1583.3 711.2 L1583.7 710.6 L1584.0 711.0 L1584.4 712.5 L1584.7 712.2 L1585.1 712.7 L1585.4 713.5 L1585.7 713.1 L1586.1 714.3 L1586.4 715.1 L1586.8 715.3 L1587.1 716.1 L1587.5 716.4 L1587.8 717.4 L1588.2 718.0 L1588.5 716.8 L1588.9 717.6 L1589.2 717.6 L1589.6 718.5 L1589.9 720.1 L1590.3 719.1 L1590.6 719.8 L1591.0 721.7 L1591.4 721.4 L1591.7 721.5 L1592.1 722.8 L1592.4 723.9 L1592.8 722.4 L1593.1 724.4 L1593.5 724.8 L1593.8 725.8 L1594.2 724.7 L1594.6 726.4 L1594.9 725.4 L1595.3 725.8 L1595.7 727.7 L1596.0 726.6 L1596.4 727.2 L1596.8 727.6 L1597.1 729.1 L1597.5 730.3 L1597.9 731.3 L1598.3 729.9 L1598.6 731.8 L1599.0 732.2 L1599.4 732.9 L1599.8 732.0 L1600.2 732.0 L1600.6 734.1 L1600.9 734.0 L1601.3 734.1 L1601.7 733.6 L1602.1 733.9 L1602.5 735.2 L1602.9 735.5 L1603.3 736.4 L1603.8 738.0 L1604.2 737.2 L1604.6 737.2 L1605.0 739.1 L1605.5 738.1 L1605.9 740.1 L1606.4 740.3 L1606.9 740.1 L1607.3 740.8 L1607.8 739.6 L1608.3 741.1 L1608.8 740.8 L1609.3 741.5 L1609.8 741.1 L1610.3 743.2 L1610.8 742.2 L1611.4 742.7 L1611.9 743.6 L1612.5 742.2 L1613.0 743.5 L1613.6 744.5 L1614.1 744.3 L1614.7 743.6 L1615.3 744.8 L1615.9 745.6 L1616.4 745.6 L1617.0 745.4 L1617.6 744.3 L1618.2 744.7 L1618.8 745.3 L1619.3 745.0 L1619.9 745.3 L1620.5 746.3 L1621.1 744.6 L1621.7 747.0 L1622.3 746.4 L1622.9 746.9 L1623.5 746.8 L1624.1 745.9 L1624.7 747.4 L1625.3 745.6 L1625.9 745.1 L1626.5 745.3 L1627.1 745.6 L1627.7 746.5 L1628.3 745.7 L1628.9 747.4 L1629.5 745.2 L1630.1 747.2 L1630.7 747.8 L1631.3 745.9 L1631.9 746.9 L1632.5 747.1 L1633.1 746.1 L1633.7 746.4 L1634.3 747.2 L1634.9 745.6 L1635.5 745.6 L1636.1 746.3 L1636.7 745.9 L1637.3 746.1 L1637.9 745.7 L1638.5 745.6 L1639.1 747.8 L1639.7 746.2 L1640.3 746.8 L1640.9 746.8 L1641.5 746.5 L1642.1 747.3 L1642.7 746.2 L1643.3 747.8 L1643.9 745.5 L1644.5 746.9 L1645.1 746.3 L1645.7 746.4 L1646.3 746.2 L1646.9 747.0 L1647.5 746.0 L1648.1 746.2 L1648.7 746.2 L1649.3 745.4 L1649.9 746.4 L1650.5 745.6 L1651.1 747.8 L1651.7 747.4 L1652.3 747.1 L1652.9 747.5 L1653.5 747.9 L1654.1 747.3 L1654.7 747.1 L1655.3 745.8 L1655.9 746.6 L1656.5 747.1 L1657.1 747.1 L1657.7 748.1 L1658.3 746.1 L1658.9 747.3 L1659.5 746.2 L1660.1 746.7 L1660.7 748.2 L1661.3 746.4 L1661.9 746.5 L1662.5 746.8 L1663.1 745.7 L1663.7 746.7 L1664.3 747.3 L1664.9 747.2 L1665.5 748.0 L1666.1 747.3 L1666.7 747.1 L1667.3 747.3 L1667.9 745.8 L1668.5 748.3 L1669.1 746.0 L1669.7 746.8 L1670.3 746.4 L1670.9 747.2 L1671.5 747.2 L1672.1 746.6 L1672.7 748.3 L1673.3 747.7 L1673.9 748.1 L1674.5 746.9 L1675.1 747.3 L1675.7 746.8 L1676.3 746.5 L1676.9 747.1 L1677.5 746.2 L1678.1 746.3 L1678.7 747.1 L1679.3 745.8 L1679.9 746.9 L1680.5 748.4 L1681.1 748.0 L1681.7 746.0 L1682.3 747.5 L1682.9 746.4 L1683.5 746.1 L1684.1 746.7 L1684.7 747.6 L1685.3 747.3 L1685.9 745.9 L1686.5 748.1 L1687.1 747.1 L1687.7 748.1 L1688.3 746.3 L1688.9 746.0 L1689.5 747.2 L1690.1 747.0 L1690.7 745.9 L1691.3 745.9 L1691.9 746.1 L1692.5 745.9 L1693.1 746.3 L1693.7 747.4 L1694.3 747.1 L1694.9 748.5 L1695.5 746.1 L1696.1 748.2 L1696.7 747.4 L1697.3 748.2 L1697.9 746.0 L1698.5 746.1 L1699.1 748.2 L1699.7 747.4 L1700.3 747.4 L1700.9 745.9 L1701.5 747.6 L1702.1 748.2 L1702.7 748.6 L1703.3 747.1 L1703.9 746.8 L1704.5 747.0 L1705.1 746.5 L1705.7 746.5 L1706.3 747.1 L1706.9 747.8 L1707.5 747.7 L1708.1 748.0 L1708.7 746.5 L1709.3 747.9 L1709.9 748.1 L1710.5 747.5 L1711.1 747.2 L1711.7 746.4 L1712.3 746.1 L1712.9 747.2 L1713.5 747.7 L1714.1 746.6 L1714.7 747.1 L1715.3 747.3 L1715.9 748.6 L1716.5 748.4 L1717.1 748.4 L1717.7 748.7 L1718.3 748.1 L1718.9 746.6 L1719.5 748.3 L1720.1 746.5 L1720.7 748.4 L1721.3 746.9 L1721.9 746.8 L1722.5 747.7 L1723.1 746.2 L1723.7 748.5 L1724.3 747.1 L1724.9 748.2 L1725.5 748.0 L1726.1 747.9 L1726.7 747.5 L1727.3 747.3 L1727.9 747.8 L1728.5 747.9 L1729.1 746.7 L1729.7 748.1 L1730.3 748.6 L1730.9 748.3 L1731.5 748.0 L1732.1 748.3 L1732.7 746.1 L1733.3 746.6 L1733.9 747.0 L1734.5 748.1 L1735.1 748.7 L1735.7 748.1 L1736.3 747.4 L1736.9 748.6 L1737.5 747.1 L1738.1 747.8 L1738.7 746.1 L1739.3 746.6 L1739.9 746.9 L1740.5 747.1 L1741.1 747.3 L1741.7 748.2 L1742.3 746.9 L1742.9 746.3 L1743.5 747.5 L1744.1 748.7 L1744.7 747.2 L1745.3 746.8 L1745.9 748.2 L1746.5 747.8 L1747.1 746.1 L1747.7 748.8 L1748.3 747.4 L1748.9 746.9 L1749.5 747.9 L1750.1 746.9 L1750.7 747.3 L1751.3 747.9 L1751.9 746.4 L1752.5 747.4 L1753.1 748.1 L1753.7 748.7 L1754.3 746.1 L1754.9 748.3 L1755.5 748.6 L1756.1 748.7 L1756.7 748.6 L1757.3 746.4 L1757.9 748.5 L1758.5 746.5 L1759.1 747.0 L1759.7 747.0 L1760.3 746.8 L1760.9 747.0 L1761.5 747.5 L1762.1 746.2 L1762.7 747.0 L1763.3 747.6 L1763.9 746.4 L1764.5 746.7 L1765.1 746.9 L1765.7 746.2 L1766.3 748.2 L1766.9 746.7 L1767.5 747.1 L1768.1 747.1 L1768.7 746.8 L1769.3 746.3 L1769.9 748.4 L1770.5 747.8 L1771.1 746.7 L1771.7 746.2 L1772.3 746.2 L1772.8 746.6 L1773.4 746.0 L1774.0 746.2 L1774.6 747.1 L1775.2 748.3 L1775.8 746.9 L1776.4 747.6 L1777.0 747.2 L1777.6 748.2 L1778.2 745.9 L1778.8 747.3 L1779.4 746.2 L1780.0 747.8 L1780.6 746.0 L1781.2 747.5 L1781.8 747.1 L1782.3 746.2 L1782.9 744.5 L1783.5 744.8 L1784.1 744.3 L1784.6 746.1 L1785.2 744.0 L1785.8 745.7 L1786.4 743.5 L1786.9 743.9 L1787.5 743.9 L1788.1 744.4 L1788.6 744.2 L1789.2 744.9 L1789.8 744.0 L1790.4 742.5 L1790.9 742.0 L1791.5 743.7 L1792.1 742.9 L1792.6 742.9 L1793.2 742.2 L1793.7 742.5 L1794.3 741.8 L1794.9 741.7 L1795.4 741.9 L1796.0 741.4 L1796.6 740.0 L1797.1 742.2 L1797.7 741.6 L1798.2 740.2 L1798.8 740.4 L1799.3 741.1 L1799.9 739.5 L1800.4 740.7 L1801.0 738.1 L1801.5 739.7 L1802.1 739.6 L1802.6 737.8 L1803.2 737.5 L1803.7 738.4 L1804.3 737.9 L1804.9 737.9 L1805.4 736.6 L1806.0 736.7 L1806.5 736.0 L1807.1 735.9 L1807.7 737.2 L1808.3 735.3 L1808.8 736.4 L1809.4 735.6 L1810.0 736.9 L1810.5 735.9 L1811.1 736.9 L1811.7 735.6 L1812.3 735.5 L1812.9 734.8 L1813.4 734.4 L1814.0 734.7 L1814.6 734.1 L1815.2 733.6 L1815.8 734.3 L1816.4 733.4 L1817.0 734.8 L1817.5 733.6 L1818.1 734.0 L1818.7 733.1 L1819.3 734.2 L1819.9 734.5 L1820.5 732.9 L1821.1 732.2 L1821.7 732.7 L1822.3 733.6 L1822.9 732.7 L1823.5 733.9 L1824.0 733.9 L1824.6 732.6 L1825.2 732.5 L1825.8 731.6 L1826.4 732.9 L1827.0 731.8 L1827.6 731.7 L1828.2 731.5 L1828.8 731.8 L1829.4 731.7 L1830.0 731.3 L1830.6 733.6 L1831.2 732.8 L1831.8 732.2 L1832.4 731.4 L1833.0 731.3 L1833.6 733.2 L1834.2 732.3 L1834.8 731.5 L1835.4 731.7 L1836.0 733.0 L1836.6 732.4 L1837.2 731.6 L1837.8 732.4 L1838.4 731.6 L1839.0 732.2 L1839.6 732.9 L1840.2 732.9 L1840.8 733.7 L1841.4 732.4 L1842.0 733.4 L1842.5 732.6 L1843.1 732.9 L1843.7 733.6 L1844.3 733.1 L1844.8 734.3 L1845.4 734.2 L1846.0 735.7 L1846.5 735.2 L1847.1 734.0 L1847.6 735.5 L1848.2 735.3 L1848.7 735.8 L1849.2 736.4 L1849.8 735.5 L1850.3 736.2 L1850.8 736.8 L1851.4 737.5 L1851.9 736.9 L1852.4 737.8 L1852.9 737.5 L1853.4 738.6 L1854.0 738.3 L1854.5 739.8 L1855.0 739.7 L1855.6 740.3 L1856.1 738.9 L1856.6 739.2 L1857.2 740.4 L1857.7 739.4 L1858.3 740.9 L1858.8 740.6 L1859.4 740.8 L1859.9 740.8 L1860.5 740.4 L1861.1 742.4 L1861.6 742.8 L1862.2 741.9 L1862.8 742.4 L1863.3 743.5 L1863.9 743.3 L1864.5 741.8 L1865.0 742.7 L1865.6 744.6 L1866.2 744.6 L1866.8 743.3 L1867.3 745.0 L1867.9 744.0 L1868.5 743.5 L1869.1 743.8 L1869.7 743.9 L1870.2 743.5 L1870.8 744.7 L1871.4 746.1 L1872.0 745.2 L1872.6 745.4 L1873.2 744.7 L1873.7 744.3 L1874.3 744.6 L1874.9 745.0 L1875.5 746.9 L1876.1 747.3 L1876.7 744.8 L1877.3 746.0 L1877.9 745.9 L1878.5 746.5 L1879.1 746.8 L1879.6 746.3 L1880.2 745.8 L1880.8 747.0 L1881.4 745.6 L1882.0 748.0 L1882.6 747.4 L1883.2 745.9 L1883.8 747.2 L1884.4 746.2 L1885.0 746.2 L1885.6 746.6 L1886.2 748.0 L1886.8 747.9 L1887.4 747.6 L1888.0 746.8 L1888.6 747.6 L1889.2 748.7 L1889.8 746.8 L1890.4 748.3 L1891.0 748.7 L1891.6 748.2 L1892.2 747.0 L1892.8 746.9 L1893.4 747.9 L1894.0 746.9 L1894.6 748.9 L1895.2 748.1 L1895.8 747.5 L1896.4 748.3 L1897.0 747.5 L1897.6 748.4 L1898.2 747.5 L1898.8 747.5 L1899.4 748.3 L1900.0 749.2 L1900.6 748.8 L1901.2 747.3 L1901.8 747.4 L1902.4 748.2 L1903.0 748.0 L1903.6 749.6 L1904.2 749.6 L1904.8 747.3 L1905.4 747.8 L1906.0 748.4 L1906.6 747.8 L1907.2 749.8 L1907.8 747.9 L1908.4 749.4 L1909.0 750.0 L1909.6 748.8 L1910.2 749.7 L1910.8 748.7 L1911.4 749.7 L1912.0 749.6 L1912.6 750.2 L1913.2 748.5 L1913.7 749.7 L1914.3 750.1 L1914.9 749.9 L1915.5 749.9 L1916.1 750.3 L1916.7 748.5 L1917.3 748.9 L1917.9 748.1 L1918.5 750.2 L1919.1 748.7 L1919.7 750.3 L1920.3 748.4 L1920.9 748.8 L1921.5 749.7 L1922.1 750.4 L1922.7 749.7 L1923.3 748.8 L1923.9 748.0 L1924.5 748.8 L1925.1 749.2 L1925.7 749.9 L1926.3 750.4 L1926.9 748.0 L1927.5 748.2 L1928.1 748.7 L1928.7 749.4 L1929.3 749.4 L1929.9 749.1 L1930.5 750.4 L1931.1 750.0 L1931.7 748.4 L1932.3 748.6 L1932.9 749.4 L1933.5 749.0 L1934.1 750.2 L1934.7 749.1 L1935.3 750.5 L1935.9 748.5 L1936.5 749.3 L1937.1 750.4 L1937.7 748.2 L1938.3 748.7 L1938.9 748.5 L1939.5 750.6 L1940.1 749.2 L1940.7 750.4 L1941.3 750.3 L1941.9 748.2 L1942.5 748.9 L1943.1 749.3 L1943.7 750.3 L1944.3 750.6 L1944.9 748.8 L1945.5 750.0 L1946.1 750.2 L1946.7 748.6 L1947.3 748.4 L1947.9 749.6 L1948.5 749.4 L1949.1 748.2 L1949.7 749.8 L1950.3 748.8 L1950.9 749.4 L1951.5 747.8 L1952.1 749.3 L1952.7 749.7 L1953.3 748.6 L1953.9 749.7 L1954.5 748.8 L1955.1 748.8 L1955.7 748.4 L1956.3 749.6 L1956.9 750.0 L1957.5 748.7 L1958.1 750.2 L1958.7 749.7 L1959.3 748.3 L1959.9 748.1 L1960.5 748.4 L1961.1 748.5 L1961.7 748.7 L1962.3 749.2 L1962.9 749.6 L1963.5 747.4 L1964.1 748.5 L1964.7 748.4 L1965.3 748.3 L1965.9 748.7 L1966.5 749.7 L1967.1 748.0 L1967.7 749.6 L1968.3 747.7 L1968.9 748.5 L1969.5 748.9 L1970.1 749.3 L1970.7 749.0 L1971.3 749.5 L1971.9 748.3 L1972.5 749.2 L1973.1 748.5 L1973.7 747.1 L1974.3 746.7 L1974.9 748.7 L1975.5 748.4 L1976.1 747.3 L1976.7 746.8 L1977.3 748.3 L1977.9 748.4 L1978.5 747.9 L1979.1 748.1 L1979.7 747.4 L1980.3 748.6 L1980.9 747.6 L1981.5 748.5 L1982.1 748.1 L1982.7 747.4 L1983.3 747.9 L1983.9 748.3" fill="none" stroke="#000000" stroke-width="9.4" stroke-linejoin="round" stroke-linecap="butt"/>
<path d="M233.8 745.8 L234.4 744.7 L235.0 746.1 L235.6 745.8 L236.2 745.8 L236.8 745.5 L237.4 745.2 L238.0 746.3 L238.6 745.5 L239.2 745.4 L239.8 746.3 L240.4 746.1 L241.0 745.0 L241.6 746.0 L242.2 745.2 L242.8 746.8 L243.4 746.9 L244.0 746.0 L244.6 746.9 L245.2 744.9 L245.8 746.0 L246.4 744.8 L247.0 745.8 L247.6 744.9 L248.2 745.0 L248.8 746.3 L249.4 745.3 L250.0 744.9 L250.6 745.3 L251.2 745.6 L251.8 745.9 L252.4 745.2 L253.0 746.4 L253.6 746.0 L254.2 746.0 L254.8 745.7 L255.4 746.8 L256.0 746.2 L256.6 745.1 L257.2 746.5 L257.8 747.2 L258.4 746.0 L259.0 747.0 L259.6 745.6 L260.2 746.2 L260.8 745.8 L261.4 745.8 L262.0 746.7 L262.6 746.1 L263.2 747.2 L263.8 746.1 L264.4 744.9 L265.0 745.6 L265.6 746.9 L266.2 745.7 L266.8 744.7 L267.4 745.3 L268.0 744.8 L268.6 747.3 L269.2 747.3 L269.8 746.8 L270.4 746.3 L271.0 746.7 L271.6 745.1 L272.2 745.4 L272.8 746.1 L273.4 745.6 L274.0 744.8 L274.6 747.3 L275.2 745.8 L275.8 746.0 L276.4 745.5 L277.0 745.4 L277.6 745.7 L278.2 746.9 L278.8 746.6 L279.4 745.7 L280.0 744.7 L280.6 746.8 L281.2 745.4 L281.8 746.2 L282.4 744.7 L283.0 746.4 L283.6 745.6 L284.2 745.9 L284.8 745.7 L285.4 745.5 L286.0 746.0 L286.6 747.2 L287.2 744.9 L287.8 745.4 L288.4 744.6 L289.0 746.5 L289.6 746.3 L290.2 745.1 L290.8 745.6 L291.4 746.2 L292.0 746.2 L292.6 744.9 L293.2 746.8 L293.8 746.5 L294.4 744.7 L295.0 746.7 L295.6 746.3 L296.2 746.4 L296.8 745.7 L297.4 744.9 L298.0 746.7 L298.6 745.8 L299.2 745.1 L299.8 744.9 L300.4 746.6 L301.0 745.2 L301.6 745.5 L302.2 745.6 L302.8 746.2 L303.4 745.6 L304.0 744.4 L304.6 745.4 L305.2 745.1 L305.8 745.2 L306.4 745.5 L307.0 744.2 L307.6 744.0 L308.2 743.7 L308.8 744.1 L309.4 743.3 L309.9 744.9 L310.5 743.9 L311.1 743.5 L311.7 743.2 L312.3 743.6 L312.9 743.3 L313.5 743.4 L314.1 743.8 L314.7 743.9 L315.3 744.6 L315.9 744.9 L316.5 742.3 L317.1 742.7 L317.6 743.7 L318.2 742.3 L318.8 744.0 L319.4 742.2 L320.0 743.5 L320.6 743.1 L321.2 743.4 L321.8 741.2 L322.3 741.6 L322.9 742.8 L323.5 741.0 L324.1 740.8 L324.7 741.5 L325.3 742.0 L325.9 740.4 L326.5 740.4 L327.0 740.2 L327.6 741.0 L328.2 741.5 L328.8 740.2 L329.4 741.8 L330.0 740.5 L330.6 740.9 L331.1 739.9 L331.7 740.6 L332.3 741.4 L332.9 739.9 L333.5 739.2 L334.1 739.6 L334.7 739.5 L335.2 739.5 L335.8 739.4 L336.4 738.0 L337.0 738.2 L337.6 738.8 L338.2 739.3 L338.7 739.4 L339.3 739.2 L339.9 738.4 L340.5 739.4 L341.1 737.7 L341.7 737.9 L342.2 738.4 L342.8 738.6 L343.4 737.3 L344.0 738.2 L344.6 737.1 L345.1 737.6 L345.7 735.7 L346.3 735.6 L346.9 737.7 L347.5 735.5 L348.0 736.7 L348.6 735.6 L349.2 735.3 L349.8 735.6 L350.4 736.8 L350.9 735.7 L351.5 736.4 L352.1 735.7 L352.7 735.1 L353.3 734.9 L353.8 734.1 L354.4 733.4 L355.0 734.3 L355.6 734.5 L356.2 735.1 L356.7 734.4 L357.3 734.7 L357.9 734.7 L358.5 734.6 L359.1 734.1 L359.6 732.3 L360.2 732.7 L360.8 732.2 L361.4 733.6 L361.9 733.3 L362.5 732.0 L363.1 732.4 L363.7 732.8 L364.3 732.7 L364.8 731.0 L365.4 732.1 L366.0 732.2 L366.6 730.1 L367.1 730.1 L367.7 730.8 L368.3 730.1 L368.9 731.5 L369.5 731.0 L370.0 730.8 L370.6 730.8 L371.2 729.5 L371.8 729.1 L372.3 729.9 L372.9 729.2 L373.5 730.3 L374.1 729.4 L374.6 728.7 L375.2 729.6 L375.8 728.3 L376.4 727.7 L376.9 728.9 L377.5 728.0 L378.1 727.3 L378.7 728.2 L379.2 728.7 L379.8 726.8 L380.4 727.9 L381.0 727.7 L381.5 726.0 L382.1 727.5 L382.7 726.4 L383.3 725.5 L383.8 726.3 L384.4 725.5 L385.0 725.1 L385.6 724.7 L386.1 724.8 L386.7 725.1 L387.3 725.4 L387.8 724.0 L388.4 725.2 L389.0 723.6 L389.6 723.6 L390.1 724.7 L390.7 724.9 L391.3 725.0 L391.9 724.0 L392.4 723.4 L393.0 722.3 L393.6 723.2 L394.1 722.2 L394.7 722.8 L395.3 722.8 L395.8 723.1 L396.4 721.8 L397.0 723.1 L397.6 722.9 L398.1 722.4 L398.7 721.9 L399.3 721.8 L399.8 721.9 L400.4 721.9 L401.0 721.5 L401.5 720.8 L402.1 719.3 L402.7 720.4 L403.2 719.6 L403.8 718.9 L404.4 720.4 L404.9 720.0 L405.5 719.1 L406.1 718.8 L406.6 718.7 L407.2 718.0 L407.8 718.1 L408.3 717.9 L408.9 716.8 L409.5 718.5 L410.0 716.4 L410.6 717.0 L411.1 716.1 L411.7 716.2 L412.3 717.6 L412.8 716.1 L413.4 716.7 L413.9 715.1 L414.5 715.2 L415.1 716.3 L415.6 716.2 L416.2 714.6 L416.7 715.9 L417.3 715.0 L417.8 714.4 L418.4 713.9 L419.0 713.6 L419.5 714.7 L420.1 713.9 L420.6 713.4 L421.2 712.1 L421.7 712.3 L422.3 713.5 L422.9 712.5 L423.4 711.9 L424.0 710.9 L424.5 711.2 L425.1 711.0 L425.6 710.6 L426.2 710.7 L426.7 710.2 L427.3 709.6 L427.8 709.5 L428.4 710.1 L428.9 709.0 L429.5 710.5 L430.0 708.8 L430.6 709.1 L431.1 708.7 L431.7 708.2 L432.3 708.1 L432.8 707.6 L433.4 707.5 L433.9 706.9 L434.5 707.8 L435.0 707.5 L435.6 706.6 L436.1 707.5 L436.7 706.3 L437.2 706.5 L437.8 706.1 L438.3 705.4 L438.9 706.4 L439.4 706.0 L439.9 705.7 L440.5 705.7 L441.0 703.6 L441.6 704.3 L442.1 704.9 L442.7 703.1 L443.2 703.1 L443.8 703.4 L444.3 703.5 L444.9 702.6 L445.4 702.3 L446.0 702.9 L446.5 701.3 L447.1 702.4 L447.6 701.5 L448.2 701.7 L448.7 701.6 L449.3 700.2 L449.8 701.4 L450.4 701.0 L450.9 700.0 L451.5 699.4 L452.0 698.9 L452.6 699.1 L453.1 699.6 L453.6 699.5 L454.2 698.4 L454.7 697.9 L455.3 697.9 L455.8 698.8 L456.4 697.0 L456.9 696.8 L457.5 697.5 L458.0 696.3 L458.5 696.2 L459.1 696.9 L459.6 695.8 L460.2 696.1 L460.7 695.8 L461.2 695.0 L461.8 694.7 L462.3 694.5 L462.9 695.2 L463.4 693.5 L463.9 693.3 L464.5 693.5 L465.0 693.0 L465.6 693.4 L466.1 693.0 L466.6 692.7 L467.2 692.1 L467.7 692.2 L468.2 692.4 L468.8 692.1 L469.3 691.4 L469.8 691.6 L470.4 690.0 L470.9 689.9 L471.4 690.7 L472.0 689.8 L472.5 689.4 L473.0 689.5 L473.6 688.9 L474.1 689.5 L474.6 688.4 L475.1 688.8 L475.7 688.2 L476.2 688.4 L476.7 687.4 L477.3 687.9 L477.8 687.0 L478.3 685.8 L478.8 686.6 L479.4 686.5 L479.9 685.1 L480.4 686.1 L480.9 685.2 L481.4 685.2 L482.0 684.1 L482.5 684.9 L483.0 684.1 L483.5 683.7 L484.1 684.0 L484.6 683.1 L485.1 682.8 L485.6 681.7 L486.1 682.2 L486.7 682.2 L487.2 681.3 L487.7 681.5 L488.2 681.0 L488.7 680.2 L489.2 680.4 L489.8 680.0 L490.3 679.4 L490.8 679.6 L491.3 678.4 L491.8 678.6 L492.3 678.3 L492.8 678.8 L493.3 678.1 L493.8 677.6 L494.3 676.6 L494.8 676.7 L495.3 676.3 L495.8 676.8 L496.3 675.8 L496.8 676.0 L497.3 675.4 L497.8 675.3 L498.3 673.8 L498.8 674.7 L499.3 674.4 L499.8 673.0 L500.3 672.5 L500.8 672.5 L501.3 672.5 L501.8 672.1 L502.3 671.6 L502.8 671.9 L503.2 671.1 L503.7 671.2 L504.2 670.4 L504.7 669.6 L505.2 670.2 L505.7 669.9 L506.1 668.8 L506.6 668.9 L507.1 668.3 L507.6 667.4 L508.1 667.5 L508.5 667.3 L509.0 666.8 L509.5 666.4 L510.0 666.1 L510.4 665.9 L510.9 665.6 L511.4 664.4 L511.9 665.0 L512.3 664.1 L512.8 664.0 L513.3 663.3 L513.8 662.5 L514.2 662.9 L514.7 662.2 L515.2 662.0 L515.6 661.3 L516.1 660.9 L516.6 660.6 L517.0 660.8 L517.5 660.6 L518.0 660.2 L518.5 659.2 L518.9 659.3 L519.4 658.2 L519.9 658.5 L520.3 657.7 L520.8 657.8 L521.3 656.7 L521.7 657.0 L522.2 655.8 L522.7 656.3 L523.1 655.4 L523.6 654.7 L524.0 654.5 L524.5 654.6 L525.0 654.0 L525.4 653.3 L525.9 652.9 L526.4 653.1 L526.8 652.7 L527.3 651.6 L527.7 652.1 L528.2 650.9 L528.6 650.6 L529.1 650.0 L529.5 650.1 L530.0 650.2 L530.5 649.9 L530.9 648.9 L531.3 648.1 L531.8 648.1 L532.2 647.5 L532.7 647.1 L533.1 646.6 L533.6 647.1 L534.0 646.0 L534.5 645.1 L534.9 645.3 L535.3 645.2 L535.8 644.9 L536.2 644.4 L536.7 643.9 L537.1 642.9 L537.5 642.7 L538.0 642.4 L538.4 641.6 L538.8 641.5 L539.3 640.7 L539.7 640.3 L540.1 640.8 L540.6 639.6 L541.0 639.5 L541.4 639.3 L541.9 639.3 L542.3 638.1 L542.7 637.5 L543.2 637.9 L543.6 636.8 L544.0 636.3 L544.4 635.8 L544.9 635.7 L545.3 635.0 L545.7 634.8 L546.2 634.3 L546.6 634.3 L547.0 633.6 L547.4 633.5 L547.9 632.6 L548.3 632.2 L548.7 632.6 L549.1 631.2 L549.6 631.5 L550.0 631.0 L550.4 630.5 L550.8 629.4 L551.2 628.8 L551.7 629.3 L552.1 628.0 L552.5 627.8 L552.9 628.3 L553.3 627.8 L553.7 627.3 L554.1 626.4 L554.4 625.8 L554.8 625.3 L555.2 624.7 L555.5 625.0 L555.9 624.4 L556.2 624.1 L556.6 622.7 L556.9 622.6 L557.2 622.2 L557.6 621.3 L557.9 621.0 L558.2 620.0 L558.5 619.6 L558.8 618.9 L559.0 619.0 L559.3 618.1 L559.6 617.7 L559.9 617.1 L560.1 616.1 L560.4 616.7 L560.7 615.9 L561.0 614.9 L561.2 615.1 L561.5 614.3 L561.7 614.2 L562.0 612.9 L562.3 611.9 L562.5 611.3 L562.8 611.7 L563.1 610.9 L563.3 609.9 L563.6 609.8 L563.9 609.2 L564.1 609.1 L564.4 607.5 L564.7 607.0 L565.0 607.0 L565.2 606.0 L565.5 606.7 L565.8 605.0 L566.1 605.1 L566.4 604.3 L566.6 604.3 L566.9 602.7 L567.2 602.6 L567.5 602.2 L567.8 601.2 L568.1 601.4 L568.4 600.8 L568.7 600.6 L569.0 599.6 L569.3 598.8 L569.5 598.3 L569.8 597.7 L570.1 598.2 L570.4 597.5 L570.7 596.3 L571.0 595.9 L571.3 594.9 L571.5 595.0 L571.8 594.7 L572.1 593.4 L572.4 593.2 L572.6 593.0 L572.9 592.1 L573.1 591.8 L573.4 590.7 L573.6 591.0 L573.9 589.5 L574.1 589.4 L574.3 588.6 L574.5 587.8 L574.7 588.3 L575.0 586.8 L575.2 586.6 L575.4 586.3 L575.6 585.2 L575.8 585.0 L576.0 584.5 L576.2 583.8 L576.3 583.1 L576.5 582.3 L576.7 582.7 L576.9 581.6 L577.1 581.3 L577.3 580.5 L577.4 579.5 L577.6 579.2 L577.8 579.2 L578.0 578.7 L578.1 578.2 L578.3 576.5 L578.5 576.2 L578.6 575.2 L578.8 576.0 L578.9 574.9 L579.1 574.4 L579.3 573.4 L579.4 572.5 L579.6 572.2 L579.7 571.4 L579.9 571.2 L580.0 571.1 L580.2 570.5 L580.4 569.1 L580.5 568.4 L580.7 568.6 L580.8 567.6 L581.0 566.6 L581.1 566.7 L581.3 565.4 L581.4 564.7 L581.6 564.0 L581.7 563.8 L581.9 563.6 L582.0 562.5 L582.2 561.8 L582.3 561.9 L582.5 562.0 L582.6 560.0 L582.8 559.7 L582.9 560.2 L583.1 559.2 L583.2 559.0 L583.4 558.5 L583.6 556.8 L583.7 557.1 L583.9 555.7 L584.0 556.2 L584.2 555.7 L584.3 553.8 L584.5 554.3 L584.7 552.5 L584.8 552.8 L585.0 552.0 L585.2 551.6 L585.3 551.3 L585.5 550.9 L585.7 549.8 L585.8 548.5 L586.0 549.3 L586.2 547.3 L586.4 548.0 L586.6 546.3 L586.7 547.0 L586.9 546.0 L587.1 544.9 L587.3 545.2 L587.5 543.5 L587.7 543.0 L587.9 542.6 L588.1 542.2 L588.3 541.3 L588.4 541.9 L588.6 540.5 L588.8 540.8 L589.0 539.1 L589.2 538.9 L589.4 538.9 L589.6 538.6 L589.8 537.1 L590.0 536.6 L590.2 536.8 L590.4 535.4 L590.5 534.8 L590.7 535.1 L590.9 533.8 L591.1 532.6 L591.3 533.4 L591.5 532.1 L591.6 531.3 L591.8 531.6 L592.0 529.5 L592.2 530.6 L592.3 528.5 L592.5 527.9 L592.7 528.8 L592.8 527.4 L593.0 526.3 L593.2 527.2 L593.3 525.5 L593.5 525.9 L593.7 524.5 L593.8 523.8 L594.0 523.6 L594.1 523.6 L594.3 523.1 L594.5 522.1 L594.6 520.9 L594.8 521.2 L595.0 520.7 L595.1 519.5 L595.3 519.2 L595.4 518.9 L595.6 518.0 L595.8 517.4 L595.9 516.3 L596.1 516.1 L596.2 514.9 L596.4 514.1 L596.6 513.8 L596.7 513.5 L596.9 512.8 L597.0 512.8 L597.2 511.7 L597.3 511.3 L597.5 510.3 L597.7 509.4 L597.8 510.0 L598.0 508.5 L598.1 508.3 L598.3 508.0 L598.5 507.6 L598.6 506.5 L598.8 505.7 L598.9 506.2 L599.1 505.2 L599.2 503.9 L599.4 504.3 L599.6 503.3 L599.7 502.5 L599.9 501.3 L600.0 500.9 L600.2 500.2 L600.4 500.7 L600.5 500.2 L600.7 499.0 L600.8 497.7 L601.0 497.4 L601.1 498.2 L601.3 497.6 L601.5 496.1 L601.6 495.0 L601.8 495.0 L601.9 494.4 L602.1 493.0 L602.3 493.8 L602.4 493.1 L602.6 492.4 L602.7 492.2 L602.9 491.7 L603.1 489.9 L603.2 489.1 L603.4 489.1 L603.5 489.5 L603.7 488.7 L603.9 487.1 L604.0 487.4 L604.2 486.5 L604.3 485.4 L604.5 485.7 L604.7 484.3 L604.8 483.8 L605.0 483.0 L605.2 483.1 L605.3 482.3 L605.5 482.1 L605.7 480.3 L605.8 480.5 L606.0 479.2 L606.1 479.1 L606.3 478.1 L606.5 478.4 L606.6 478.6 L606.8 477.9 L607.0 476.6 L607.1 475.7 L607.3 474.5 L607.5 475.2 L607.6 474.0 L607.8 473.5 L608.0 473.4 L608.1 472.0 L608.3 472.1 L608.5 471.3 L608.6 470.6 L608.8 470.9 L609.0 470.1 L609.1 468.4 L609.3 469.4 L609.5 467.0 L609.6 466.9 L609.8 466.1 L610.0 465.9 L610.1 465.0 L610.3 464.6 L610.4 464.3 L610.6 463.9 L610.8 462.9 L610.9 461.9 L611.1 462.3 L611.3 461.9 L611.4 461.4 L611.6 459.5 L611.8 459.1 L611.9 459.6 L612.1 457.9 L612.3 457.3 L612.4 457.5 L612.6 456.7 L612.8 456.8 L612.9 454.9 L613.1 454.7 L613.3 454.3 L613.4 453.8 L613.6 452.5 L613.8 453.1 L613.9 451.4 L614.1 451.4 L614.3 452.1 L614.5 450.0 L614.6 450.4 L614.8 449.4 L615.0 449.8 L615.1 448.2 L615.3 447.2 L615.5 448.2 L615.6 447.1 L615.8 445.3 L616.0 445.5 L616.1 444.5 L616.3 445.1 L616.5 443.1 L616.6 443.5 L616.8 443.6 L617.0 442.9 L617.2 442.3 L617.3 441.2 L617.5 439.9 L617.7 438.8 L617.8 438.5 L618.0 439.4 L618.2 438.4 L618.4 436.6 L618.5 437.8 L618.7 436.3 L618.9 435.0 L619.0 435.1 L619.2 434.3 L619.4 433.4 L619.6 433.7 L619.7 432.9 L619.9 431.8 L620.1 432.3 L620.2 431.2 L620.4 430.2 L620.6 429.2 L620.8 429.4 L620.9 428.1 L621.1 429.1 L621.3 427.7 L621.5 428.0 L621.6 426.1 L621.8 425.9 L622.0 425.4 L622.2 425.7 L622.4 423.4 L622.5 423.4 L622.7 422.2 L622.9 423.4 L623.1 422.6 L623.2 421.1 L623.4 421.1 L623.6 420.3 L623.8 419.9 L624.0 419.8 L624.1 419.6 L624.3 417.0 L624.5 417.5 L624.7 417.7 L624.9 416.0 L625.0 415.1 L625.2 414.3 L625.4 414.8 L625.6 413.3 L625.8 413.1 L625.9 412.6 L626.1 412.5 L626.3 412.6 L626.5 412.1 L626.7 410.0 L626.9 409.4 L627.0 409.8 L627.2 409.2 L627.4 407.7 L627.6 408.6 L627.8 407.7 L627.9 405.8 L628.1 405.9 L628.3 404.4 L628.5 404.8 L628.7 404.4 L628.9 402.9 L629.0 402.1 L629.2 401.8 L629.4 401.9 L629.6 400.3 L629.8 400.0 L630.0 399.5 L630.1 399.5 L630.3 399.1 L630.5 398.2 L630.7 398.2 L630.9 398.3 L631.1 396.2 L631.2 397.3 L631.4 395.3 L631.6 395.3 L631.8 394.2 L632.0 394.3 L632.2 394.1 L632.3 393.4 L632.5 392.5 L632.7 391.8 L632.9 390.3 L633.1 391.2 L633.3 391.0 L633.4 389.6 L633.6 389.0 L633.8 387.4 L634.0 387.1 L634.2 386.7 L634.4 385.8 L634.5 387.0 L634.7 386.3 L634.9 384.5 L635.1 383.4 L635.3 383.4 L635.4 382.3 L635.6 382.6 L635.8 381.2 L636.0 380.3 L636.2 381.0 L636.3 379.9 L636.5 380.0 L636.7 379.1 L636.9 378.8 L637.0 377.5 L637.2 377.5 L637.4 376.7 L637.6 376.4 L637.7 374.5 L637.9 376.1 L638.1 373.8 L638.3 372.9 L638.4 372.8 L638.6 373.2 L638.8 373.2 L638.9 372.4 L639.1 370.6 L639.3 371.2 L639.4 368.8 L639.6 368.3 L639.8 368.0 L639.9 368.8 L640.1 368.1 L640.3 366.1 L640.4 366.9 L640.6 366.4 L640.8 364.5 L640.9 365.1 L641.1 363.9 L641.3 362.5 L641.4 363.0 L641.6 362.3 L641.7 362.7 L641.9 361.3 L642.1 361.4 L642.2 359.9 L642.4 360.0 L642.6 360.0 L642.7 357.2 L642.9 357.6 L643.0 357.0 L643.2 357.2 L643.4 354.8 L643.5 355.6 L643.7 354.3 L643.9 354.2 L644.0 354.2 L644.2 353.4 L644.4 351.9 L644.5 351.2 L644.7 352.2 L644.9 350.8 L645.0 351.4 L645.2 350.0 L645.4 348.4 L645.5 347.7 L645.7 347.5 L645.9 348.0 L646.0 346.7 L646.2 346.4 L646.4 345.8 L646.5 344.2 L646.7 344.1 L646.9 343.4 L647.0 344.4 L647.2 341.5 L647.4 343.3 L647.6 340.7 L647.7 341.1 L647.9 339.9 L648.1 339.4 L648.3 339.9 L648.5 339.2 L648.6 338.8 L648.8 336.8 L649.0 336.3 L649.2 337.1 L649.4 334.9 L649.6 336.3 L649.7 335.8 L649.9 334.2 L650.1 334.1 L650.3 332.6 L650.5 332.8 L650.7 330.7 L650.9 330.6 L651.1 330.6 L651.3 330.2 L651.5 330.8 L651.7 330.3 L651.9 327.6 L652.1 327.4 L652.4 326.3 L652.6 326.4 L652.8 327.4 L653.0 325.9 L653.2 324.0 L653.4 324.6 L653.7 325.1 L653.9 324.7 L654.1 323.9 L654.3 323.0 L654.5 321.2 L654.8 322.2 L655.0 320.2 L655.2 321.1 L655.4 318.4 L655.6 317.9 L655.9 319.2 L656.1 316.9 L656.3 317.2 L656.6 316.4 L656.8 315.7 L657.0 315.3 L657.2 315.1 L657.5 315.4 L657.7 314.3 L657.9 314.5 L658.2 313.8 L658.4 311.4 L658.6 311.6 L658.9 311.3 L659.1 310.1 L659.3 310.3 L659.6 310.8 L659.8 308.3 L660.0 309.2 L660.3 309.2 L660.5 306.7 L660.8 307.8 L661.0 305.4 L661.2 306.8 L661.5 304.7 L661.7 304.1 L661.9 305.1 L662.2 303.0 L662.4 302.3 L662.7 301.9 L662.9 302.3 L663.1 300.1 L663.4 299.9 L663.6 299.2 L663.9 299.7 L664.1 298.0 L664.3 299.7 L664.6 297.9 L664.8 297.8 L665.1 296.1 L665.3 296.9 L665.5 294.6 L665.8 294.2 L666.0 295.8 L666.3 293.4 L666.5 293.6 L666.7 293.1 L667.0 291.7 L667.2 292.2 L667.5 290.8 L667.7 291.3 L667.9 289.7 L668.2 289.6 L668.4 289.2 L668.6 287.4 L668.9 287.1 L669.1 286.5 L669.4 286.9 L669.6 286.6 L669.8 287.2 L670.1 284.9 L670.3 284.0 L670.5 285.5 L670.8 283.8 L671.0 284.4 L671.2 282.2 L671.5 280.9 L671.7 281.4 L671.9 282.2 L672.1 279.2 L672.4 279.8 L672.6 280.2 L672.8 277.9 L673.1 278.9 L673.3 276.4 L673.5 276.5 L673.7 275.6 L674.0 277.2 L674.2 275.7 L674.4 274.2 L674.6 275.4 L674.9 273.9 L675.1 272.8 L675.3 273.2 L675.6 272.5 L675.8 272.7 L676.0 269.7 L676.2 271.4 L676.5 270.2 L676.7 268.3 L676.9 268.5 L677.1 267.0 L677.4 268.6 L677.6 266.0 L677.8 265.7 L678.1 266.5 L678.3 266.1 L678.5 264.1 L678.7 263.3 L679.0 262.4 L679.2 262.0 L679.4 263.7 L679.6 261.2 L679.9 261.2 L680.1 261.7 L680.3 261.7 L680.6 260.9 L680.8 260.4 L681.0 259.6 L681.3 257.8 L681.5 258.0 L681.7 257.6 L682.0 256.3 L682.2 256.3 L682.4 256.7 L682.7 254.4 L682.9 255.5 L683.2 255.1 L683.4 253.5 L683.7 253.9 L684.0 252.8 L684.2 252.2 L684.5 250.0 L684.8 251.2 L685.1 249.1 L685.4 250.2 L685.7 247.8 L686.0 249.5 L686.3 247.1 L686.6 248.4 L686.9 248.0 L687.2 245.3 L687.5 244.8 L687.9 246.7 L688.2 246.3 L688.5 243.3 L688.8 244.3 L689.2 243.0 L689.5 241.7 L689.8 243.4 L690.2 242.4 L690.5 240.2 L690.8 240.8 L691.2 240.1 L691.5 241.3 L691.9 240.8 L692.2 238.2 L692.5 239.2 L692.9 238.4 L693.2 237.3 L693.6 237.2 L693.9 236.2 L694.2 234.6 L694.6 236.2 L694.9 235.8 L695.3 235.7 L695.6 234.0 L695.9 232.2 L696.3 234.2 L696.6 231.8 L696.9 230.9 L697.3 230.5 L697.6 231.3 L697.9 230.2 L698.3 230.6 L698.6 228.3 L698.9 227.6 L699.3 229.8 L699.6 226.8 L699.9 227.0 L700.3 225.6 L700.6 227.6 L700.9 227.0 L701.2 225.7 L701.6 224.0 L701.9 225.3 L702.2 222.7 L702.5 223.3 L702.9 222.4 L703.2 223.9 L703.5 223.3 L703.8 222.4 L704.2 220.8 L704.5 220.5 L704.8 220.1 L705.2 219.6 L705.5 218.0 L705.8 217.6 L706.1 218.5 L706.5 218.4 L706.8 218.3 L707.1 217.2 L707.4 216.1 L707.8 214.2 L708.1 213.7 L708.4 213.4 L708.8 214.5 L709.1 212.8 L709.4 212.7 L709.7 211.4 L710.1 211.1 L710.4 211.0 L710.7 211.2 L711.1 211.8 L711.4 208.8 L711.7 208.8 L712.1 210.4 L712.4 209.5 L712.7 209.2 L713.1 207.5 L713.4 206.1 L713.7 205.5 L714.1 206.8 L714.4 206.7 L714.7 205.3 L715.1 205.0 L715.4 205.0 L715.7 202.7 L716.1 203.2 L716.4 202.6 L716.7 203.2 L717.1 200.9 L717.4 199.9 L717.8 199.3 L718.1 199.3 L718.4 198.2 L718.8 198.4 L719.1 198.7 L719.4 197.8 L719.8 197.9 L720.1 197.0 L720.4 197.2 L720.8 195.8 L721.1 196.3 L721.4 194.9 L721.8 195.1 L722.1 194.8 L722.5 194.5 L722.8 192.0 L723.1 193.1 L723.5 190.5 L723.8 191.2 L724.1 191.2 L724.5 189.1 L724.8 188.6 L725.1 188.7 L725.5 188.6 L725.8 189.1 L726.1 187.1 L726.5 187.2 L726.8 188.2 L727.1 186.0 L727.5 186.8 L727.8 185.7 L728.1 183.6 L728.4 185.9 L728.8 182.8 L729.1 183.0 L729.4 184.4 L729.8 181.7 L730.1 183.3 L730.4 182.0 L730.8 180.1 L731.1 179.4 L731.4 181.5 L731.8 179.4 L732.1 179.7 L732.5 177.4 L732.8 178.1 L733.2 176.3 L733.6 177.1 L733.9 175.1 L734.3 174.8 L734.7 176.9 L735.1 176.4 L735.5 175.6 L735.9 174.4 L736.3 172.9 L736.7 174.2 L737.1 172.1 L737.5 171.2 L737.9 171.6 L738.4 172.0 L738.8 171.6 L739.3 171.9 L739.7 170.2 L740.2 169.1 L740.6 168.4 L741.1 168.5 L741.6 170.4 L742.1 167.3 L742.5 168.7 L743.0 167.8 L743.5 166.7 L744.0 167.8 L744.5 167.2 L745.0 165.3 L745.5 166.8 L746.0 164.6 L746.5 164.8 L747.0 165.5 L747.5 165.7 L748.1 164.9 L748.6 165.6 L749.1 164.7 L749.6 165.2 L750.1 162.8 L750.6 164.6 L751.1 161.9 L751.6 161.6 L752.2 161.2 L752.7 160.7 L753.1 161.9 L753.6 159.6 L754.1 161.7 L754.6 160.7 L755.0 159.4 L755.5 160.9 L755.9 160.3 L756.4 159.2 L756.8 157.1 L757.2 159.4 L757.6 157.9 L758.0 158.3 L758.4 155.5 L758.7 154.6 L759.1 155.0 L759.5 156.0 L759.8 155.7 L760.2 155.4 L760.5 153.3 L760.9 154.2 L761.2 151.7 L761.6 152.4 L761.9 150.4 L762.3 152.0 L762.6 150.4 L763.0 149.1 L763.3 150.3 L763.7 149.1 L764.0 148.3 L764.4 147.9 L764.7 148.7 L765.1 147.1 L765.4 148.1 L765.8 145.3 L766.1 145.5 L766.5 146.6 L766.8 145.2 L767.2 145.1 L767.5 145.0 L767.9 143.5 L768.2 141.8 L768.6 141.9 L768.9 141.3 L769.3 140.4 L769.6 141.4 L770.0 139.6 L770.3 141.2 L770.6 139.4 L771.0 140.0 L771.3 139.7 L771.7 138.6 L772.1 138.6 L772.4 138.0 L772.8 136.9 L773.1 135.6 L773.5 135.4 L773.8 134.6 L774.2 134.7 L774.6 133.9 L774.9 133.2 L775.3 132.1 L775.7 132.5 L776.0 131.2 L776.4 131.4 L776.8 130.1 L777.1 130.6 L777.5 130.6 L777.9 128.6 L778.3 128.8 L778.7 128.8 L779.0 127.9 L779.4 128.3 L779.8 128.7 L780.2 128.1 L780.6 125.8 L781.0 125.3 L781.4 126.1 L781.8 125.0 L782.2 123.5 L782.6 123.7 L783.0 125.6 L783.5 125.2 L783.9 122.8 L784.3 121.4 L784.8 123.5 L785.2 121.4 L785.7 120.3 L786.2 120.5 L786.6 119.8 L787.1 121.9 L787.5 119.2 L788.0 120.6 L788.5 118.2 L788.9 117.6 L789.4 118.2 L789.9 118.6 L790.3 118.0 L790.8 118.6 L791.2 116.9 L791.7 117.1 L792.2 114.9 L792.6 116.8 L793.1 116.2 L793.6 116.2 L794.0 113.6 L794.5 114.3 L795.0 114.6 L795.4 112.1 L795.9 114.4 L796.3 114.0 L796.8 112.6 L797.3 111.6 L797.7 112.5 L798.2 112.6 L798.6 111.0 L799.1 111.9 L799.5 109.1 L800.0 109.3 L800.5 110.1 L800.9 108.6 L801.4 108.7 L801.8 108.8 L802.3 108.2 L802.8 107.3 L803.2 106.0 L803.7 106.5 L804.2 105.5 L804.7 107.1 L805.1 106.6 L805.6 104.4 L806.2 105.3 L806.7 105.3 L807.2 104.2 L807.7 102.8 L808.3 104.7 L808.8 102.3 L809.4 104.1 L810.0 102.0 L810.6 103.5 L811.2 102.4 L811.8 102.7 L812.4 104.6 L813.0 104.5 L813.6 103.3 L814.1 103.7 L814.7 104.2 L815.3 104.0 L815.9 102.2 L816.5 103.5 L817.1 104.9 L817.6 104.8 L818.2 103.3 L818.8 105.5 L819.3 104.9 L819.9 104.1 L820.4 103.6 L821.0 106.0 L821.5 105.3 L822.1 107.3 L822.6 105.2 L823.2 104.8 L823.7 105.7 L824.3 106.4 L824.8 105.5 L825.3 106.9 L825.9 106.7 L826.4 109.4 L826.9 107.0 L827.5 109.5 L828.0 107.6 L828.5 109.2 L829.0 109.8 L829.6 109.7 L830.1 111.3 L830.6 110.0 L831.1 111.0 L831.6 112.0 L832.1 110.2 L832.7 111.6 L833.2 113.3 L833.7 112.9 L834.2 113.0 L834.7 112.3 L835.2 114.1 L835.7 114.4 L836.3 113.4 L836.8 114.1 L837.3 114.8 L837.8 115.4 L838.3 114.6 L838.8 114.6 L839.3 114.3 L839.9 116.5 L840.4 116.9 L840.9 115.4 L841.4 117.8 L841.9 115.9 L842.4 118.3 L842.9 116.4 L843.5 118.4 L844.0 118.3 L844.5 117.3 L845.0 119.5 L845.5 120.0 L846.0 120.7 L846.5 119.7 L847.1 120.1 L847.6 120.9 L848.1 122.0 L848.6 120.6 L849.1 121.9 L849.6 121.9 L850.1 120.9 L850.7 122.8 L851.2 123.7 L851.7 122.7 L852.2 124.6 L852.7 123.6 L853.3 125.0 L853.8 124.9 L854.3 124.0 L854.8 124.0 L855.4 124.5 L855.9 124.6 L856.4 124.0 L857.0 124.1 L857.5 125.6 L858.1 125.2 L858.6 127.6 L859.1 128.3 L859.6 126.4 L860.2 128.1 L860.7 127.3 L861.2 129.2 L861.7 128.1 L862.2 130.1 L862.7 129.5 L863.2 128.1 L863.7 128.5 L864.1 129.8 L864.6 130.6 L865.1 130.8 L865.6 132.3 L866.1 129.9 L866.5 130.6 L867.0 131.6 L867.5 133.7 L868.0 131.4 L868.4 133.4 L868.9 132.1 L869.4 134.2 L869.8 134.4 L870.3 133.6 L870.8 135.5 L871.2 136.0 L871.7 135.8 L872.2 137.3 L872.6 135.3 L873.1 136.6 L873.5 137.5 L874.0 137.4 L874.4 137.1 L874.9 137.5 L875.3 140.0 L875.8 138.8 L876.2 140.4 L876.7 141.4 L877.1 140.1 L877.6 140.1 L878.0 141.7 L878.5 142.8 L878.9 141.8 L879.4 143.7 L879.9 144.5 L880.4 143.8 L880.9 144.9 L881.3 142.8 L881.8 144.1 L882.2 146.0 L882.7 146.0 L883.1 144.4 L883.5 145.3 L883.8 146.1 L884.1 147.6 L884.4 148.5 L884.7 148.2 L885.0 147.3 L885.2 150.5 L885.4 151.2 L885.6 150.0 L885.8 152.0 L886.0 151.6 L886.2 152.1 L886.3 154.1 L886.5 151.8 L886.7 153.6 L886.8 153.6 L887.0 154.9 L887.1 155.5 L887.2 155.2 L887.4 157.0 L887.5 157.0 L887.7 159.3 L887.8 159.9 L887.9 158.8 L888.1 160.5 L888.2 160.7 L888.3 160.5 L888.5 160.7 L888.6 163.4 L888.7 161.7 L888.9 164.1 L889.0 164.6 L889.1 163.5 L889.3 164.6 L889.4 165.4 L889.6 166.1 L889.7 167.0 L889.8 166.8 L890.0 168.2 L890.1 168.3 L890.3 170.4 L890.4 170.2 L890.6 170.3 L890.7 171.0 L890.8 170.2 L891.0 171.3 L891.1 173.2 L891.3 174.6 L891.4 173.1 L891.5 175.8 L891.7 174.4 L891.8 175.3 L891.9 177.5 L892.1 177.6 L892.2 177.3 L892.4 179.3 L892.5 179.9 L892.6 177.9 L892.8 180.4 L892.9 179.4 L893.0 180.1 L893.2 181.1 L893.3 181.8 L893.5 181.4 L893.6 183.9 L893.7 182.2 L893.9 185.6 L894.0 184.1 L894.2 186.0 L894.3 186.1 L894.5 187.6 L894.6 186.2 L894.8 186.3 L894.9 187.3 L895.1 189.4 L895.2 190.4 L895.4 189.0 L895.6 190.8 L895.7 189.8 L895.9 192.7 L896.1 191.1 L896.3 191.9 L896.5 193.9 L896.7 193.9 L896.8 193.9 L897.1 196.5 L897.3 195.9 L897.5 195.3 L897.7 196.6 L898.0 198.0 L898.2 197.8 L898.5 197.3 L898.7 198.0 L899.0 198.8 L899.3 200.2 L899.6 201.0 L899.9 201.0 L900.2 200.8 L900.5 201.7 L900.9 203.7 L901.2 202.4 L901.5 204.1 L901.9 203.8 L902.2 206.0 L902.5 203.7 L902.9 205.1 L903.2 206.9 L903.5 205.2 L903.9 206.8 L904.2 209.0 L904.5 208.7 L904.8 207.5 L905.1 208.0 L905.4 211.0 L905.6 211.5 L905.9 209.8 L906.2 212.4 L906.5 212.6 L906.7 212.1 L907.0 212.2 L907.3 212.4 L907.5 213.1 L907.8 214.6 L908.1 213.7 L908.3 216.0 L908.6 216.5 L908.9 217.1 L909.1 218.2 L909.4 216.5 L909.6 219.7 L909.9 218.8 L910.2 219.3 L910.4 219.0 L910.7 220.9 L911.0 222.1 L911.2 220.3 L911.5 221.5 L911.8 223.4 L912.0 221.8 L912.3 223.9 L912.6 223.4 L912.8 224.9 L913.1 224.3 L913.4 225.4 L913.7 226.0 L913.9 226.6 L914.2 228.8 L914.5 226.9 L914.8 227.8 L915.1 229.5 L915.3 229.1 L915.6 231.3 L915.9 230.2 L916.2 232.4 L916.5 230.7 L916.8 232.1 L917.1 232.7 L917.5 233.4 L917.8 233.4 L918.1 234.3 L918.4 234.0 L918.7 234.5 L919.1 234.5 L919.4 236.3 L919.7 236.7 L920.1 238.5 L920.4 238.5 L920.8 238.7 L921.1 238.1 L921.5 238.4 L921.8 240.2 L922.2 239.3 L922.5 239.4 L922.9 240.6 L923.2 241.7 L923.6 241.2 L924.0 241.4 L924.4 244.0 L924.7 243.3 L925.1 242.5 L925.5 243.6 L925.9 243.5 L926.4 244.5 L926.8 245.4 L927.3 245.0 L927.7 247.6 L928.2 246.7 L928.7 248.1 L929.1 248.4 L929.6 246.8 L930.1 247.1 L930.5 248.8 L931.0 247.7 L931.4 250.3 L931.9 249.4 L932.3 250.9 L932.6 249.9 L933.0 250.7 L933.4 252.1 L933.7 251.5 L934.0 251.9 L934.3 252.8 L934.6 252.4 L934.9 254.9 L935.2 253.7 L935.5 254.6 L935.8 254.7 L936.0 256.3 L936.3 256.3 L936.6 257.5 L936.9 258.5 L937.1 257.7 L937.4 258.6 L937.7 259.8 L937.9 259.5 L938.2 261.8 L938.5 260.0 L938.7 260.8 L939.0 261.8 L939.3 263.4 L939.5 262.3 L939.8 265.0 L940.1 265.6 L940.3 265.4 L940.6 265.2 L940.8 265.5 L941.1 266.2 L941.4 268.2 L941.6 267.8 L941.9 269.4 L942.2 268.8 L942.4 268.5 L942.7 268.8 L943.0 270.9 L943.2 270.4 L943.5 271.8 L943.8 273.2 L944.0 271.2 L944.3 271.9 L944.6 273.2 L944.9 273.6 L945.1 274.4 L945.4 275.1 L945.7 275.5 L946.0 275.2 L946.2 276.4 L946.5 276.3 L946.8 277.1 L947.0 278.7 L947.3 277.7 L947.6 278.9 L947.9 280.3 L948.1 279.9 L948.4 281.2 L948.7 281.5 L948.9 282.5 L949.2 283.6 L949.5 282.7 L949.8 284.8 L950.0 284.7 L950.3 284.6 L950.6 286.2 L950.9 285.7 L951.1 286.9 L951.4 288.0 L951.7 287.0 L952.0 288.0 L952.3 288.3 L952.5 288.1 L952.8 288.6 L953.1 289.1 L953.4 291.7 L953.7 292.3 L953.9 291.3 L954.2 293.3 L954.5 294.0 L954.8 294.0 L955.1 293.1 L955.4 294.9 L955.7 294.3 L956.0 296.3 L956.3 297.0 L956.6 297.7 L957.0 297.5 L957.3 296.7 L957.7 298.7 L958.1 297.6 L958.4 297.8 L958.8 298.3 L959.2 299.1 L959.6 300.4 L960.1 301.4 L960.5 300.4 L960.9 301.6 L961.3 302.9 L961.8 302.2 L962.2 301.5 L962.6 303.2 L963.0 304.7 L963.5 303.7 L963.9 304.0 L964.3 304.8 L964.8 305.3 L965.2 304.5 L965.7 305.9 L966.2 305.6 L966.7 307.0 L967.2 307.0 L967.8 307.3 L968.3 308.1 L968.9 307.5 L969.5 307.0 L970.1 306.5 L970.7 306.4 L971.3 307.0 L971.9 306.7 L972.4 306.4 L973.0 307.3 L973.5 306.6 L974.0 307.2 L974.5 304.8 L975.0 304.5 L975.5 304.8 L976.0 305.8 L976.5 305.2 L977.0 304.0 L977.5 304.9 L978.0 302.5 L978.5 303.5 L978.9 303.7 L979.4 303.3 L979.9 301.0 L980.4 300.8 L980.8 302.3 L981.3 302.0 L981.7 300.3 L982.2 298.9 L982.6 300.5 L983.0 300.3 L983.4 297.7 L983.9 297.0 L984.3 298.1 L984.7 298.6 L985.1 296.7 L985.5 295.9 L985.9 296.0 L986.3 295.4 L986.7 294.6 L987.1 295.6 L987.5 295.3 L987.9 293.0 L988.3 292.1 L988.7 293.1 L989.0 292.7 L989.4 291.2 L989.8 290.4 L990.2 290.1 L990.6 290.1 L990.9 289.6 L991.3 288.5 L991.7 288.8 L992.0 289.4 L992.4 287.5 L992.7 286.5 L993.1 287.0 L993.4 286.1 L993.7 286.6 L994.1 285.4 L994.4 286.4 L994.7 285.4 L995.0 284.7 L995.3 282.5 L995.6 282.6 L995.9 282.6 L996.2 283.2 L996.5 282.8 L996.8 279.7 L997.0 280.8 L997.3 281.1 L997.6 280.0 L997.9 279.7 L998.1 277.4 L998.4 277.4 L998.7 276.1 L998.9 276.2 L999.2 277.2 L999.5 275.9 L999.7 276.4 L1000.0 273.3 L1000.2 274.0 L1000.5 273.9 L1000.8 271.6 L1001.0 272.4 L1001.3 270.7 L1001.5 271.6 L1001.8 271.7 L1002.1 270.3 L1002.3 270.7 L1002.6 269.5 L1002.8 268.2 L1003.1 269.1 L1003.4 267.5 L1003.6 267.8 L1003.9 267.1 L1004.1 265.8 L1004.4 265.4 L1004.7 265.2 L1004.9 265.4 L1005.2 262.9 L1005.5 264.6 L1005.7 261.6 L1006.0 261.2 L1006.3 260.3 L1006.5 260.2 L1006.8 261.3 L1007.1 260.7 L1007.4 260.6 L1007.6 259.5 L1007.9 258.5 L1008.2 257.1 L1008.5 258.1 L1008.8 257.7 L1009.0 255.9 L1009.3 255.6 L1009.6 255.4 L1009.9 253.5 L1010.2 254.9 L1010.4 253.8 L1010.7 251.8 L1011.0 251.9 L1011.3 251.7 L1011.6 252.3 L1011.8 250.4 L1012.1 251.5 L1012.4 248.8 L1012.7 248.3 L1013.0 250.3 L1013.3 248.9 L1013.6 248.6 L1013.9 248.6 L1014.2 246.1 L1014.5 247.1 L1014.8 245.4 L1015.0 246.0 L1015.3 245.5 L1015.6 242.9 L1015.9 242.7 L1016.3 242.8 L1016.6 242.8 L1016.9 243.3 L1017.2 241.1 L1017.5 239.8 L1017.8 241.6 L1018.1 240.7 L1018.4 240.1 L1018.8 238.8 L1019.1 239.8 L1019.4 237.1 L1019.8 238.0 L1020.2 238.3 L1020.5 235.3 L1020.9 236.2 L1021.3 236.7 L1021.7 234.8 L1022.2 234.8 L1022.6 235.9 L1023.1 234.5 L1023.5 232.5 L1024.0 233.5 L1024.5 233.5 L1025.0 233.6 L1025.6 231.1 L1026.1 232.1 L1026.6 231.8 L1027.2 230.9 L1027.7 232.7 L1028.3 230.0 L1028.9 232.1 L1029.4 230.1 L1030.0 231.0 L1030.6 231.7 L1031.2 231.0 L1031.7 231.3 L1032.3 230.6 L1032.9 230.4 L1033.5 230.0 L1034.1 230.4 L1034.7 228.5 L1035.3 228.9 L1035.9 229.4 L1036.5 228.5 L1037.1 228.9 L1037.7 230.7 L1038.2 229.8 L1038.8 230.0 L1039.4 231.2 L1039.9 230.6 L1040.4 232.4 L1040.9 230.8 L1041.4 232.6 L1041.9 232.8 L1042.3 233.9 L1042.8 232.4 L1043.2 234.8 L1043.6 233.5 L1044.0 233.0 L1044.4 234.2 L1044.7 234.4 L1045.1 235.9 L1045.5 234.9 L1045.8 235.8 L1046.2 238.5 L1046.5 238.0 L1046.9 238.5 L1047.2 238.9 L1047.5 239.8 L1047.8 239.1 L1048.2 240.8 L1048.5 241.7 L1048.8 241.3 L1049.1 240.7 L1049.4 242.9 L1049.7 243.3 L1050.0 244.5 L1050.3 242.6 L1050.6 244.9 L1050.9 243.7 L1051.2 244.6 L1051.5 247.1 L1051.7 247.5 L1052.0 248.3 L1052.2 247.1 L1052.5 247.9 L1052.7 249.9 L1052.9 250.4 L1053.2 248.7 L1053.4 249.0 L1053.6 250.0 L1053.8 251.5 L1054.0 250.8 L1054.2 253.3 L1054.4 253.5 L1054.6 253.3 L1054.8 254.6 L1055.0 256.1 L1055.1 254.3 L1055.3 256.5 L1055.5 257.4 L1055.6 258.3 L1055.8 256.9 L1056.0 259.0 L1056.1 259.2 L1056.3 259.7 L1056.4 260.6 L1056.5 259.4 L1056.7 261.1 L1056.8 260.6 L1057.0 263.6 L1057.1 264.1 L1057.3 264.2 L1057.4 264.7 L1057.5 264.6 L1057.7 265.6 L1057.8 266.4 L1057.9 265.3 L1058.1 268.3 L1058.2 268.5 L1058.4 267.1 L1058.5 269.0 L1058.7 269.8 L1058.8 268.9 L1058.9 269.6 L1059.1 272.2 L1059.2 271.5 L1059.4 272.3 L1059.5 273.3 L1059.7 273.9 L1059.9 273.5 L1060.0 274.3 L1060.2 274.7 L1060.4 275.0 L1060.6 277.4 L1060.7 276.9 L1060.9 278.1 L1061.1 278.8 L1061.3 279.0 L1061.5 280.4 L1061.7 280.0 L1061.9 280.5 L1062.1 280.8 L1062.3 280.5 L1062.5 282.9 L1062.7 283.1 L1062.9 282.1 L1063.1 284.3 L1063.3 283.2 L1063.5 284.2 L1063.7 285.1 L1063.9 285.3 L1064.1 285.9 L1064.3 287.6 L1064.5 288.9 L1064.7 288.9 L1064.9 287.8 L1065.1 289.3 L1065.3 288.7 L1065.5 291.5 L1065.7 290.4 L1065.9 291.5 L1066.1 291.1 L1066.3 291.8 L1066.5 293.3 L1066.7 293.1 L1066.9 295.5 L1067.1 294.4 L1067.3 296.1 L1067.5 295.9 L1067.7 296.5 L1067.9 296.2 L1068.1 298.3 L1068.3 298.7 L1068.5 298.0 L1068.7 300.0 L1068.9 300.3 L1069.1 300.3 L1069.3 302.0 L1069.5 301.5 L1069.7 303.0 L1069.9 302.1 L1070.1 302.4 L1070.3 305.0 L1070.5 305.2 L1070.6 305.3 L1070.8 305.0 L1071.0 305.3 L1071.2 307.8 L1071.4 306.4 L1071.6 306.9 L1071.8 309.0 L1072.0 309.2 L1072.2 308.5 L1072.4 309.4 L1072.6 311.7 L1072.8 310.8 L1073.0 312.6 L1073.2 311.5 L1073.4 313.8 L1073.6 313.2 L1073.8 314.7 L1074.0 315.3 L1074.2 315.2 L1074.4 315.8 L1074.6 317.5 L1074.8 317.1 L1075.0 317.4 L1075.2 319.3 L1075.4 319.3 L1075.6 319.2 L1075.8 319.7 L1076.0 321.1 L1076.2 320.1 L1076.4 320.9 L1076.6 322.3 L1076.8 323.2 L1077.0 322.9 L1077.2 324.5 L1077.4 324.1 L1077.6 326.2 L1077.8 326.7 L1078.0 326.6 L1078.2 328.0 L1078.4 328.2 L1078.6 326.9 L1078.8 328.4 L1079.0 328.6 L1079.2 330.1 L1079.4 330.7 L1079.6 329.5 L1079.8 330.8 L1080.0 331.6 L1080.2 332.8 L1080.5 334.1 L1080.7 332.8 L1080.9 333.5 L1081.1 335.8 L1081.3 334.6 L1081.5 334.7 L1081.8 336.9 L1082.0 337.2 L1082.2 336.6 L1082.4 338.3 L1082.7 339.4 L1082.9 339.4 L1083.2 340.6 L1083.4 341.3 L1083.6 341.5 L1083.9 341.5 L1084.1 342.3 L1084.4 343.2 L1084.6 342.7 L1084.9 342.5 L1085.1 344.6 L1085.4 344.1 L1085.7 344.1 L1085.9 345.4 L1086.2 345.7 L1086.5 346.0 L1086.8 347.0 L1087.1 347.1 L1087.4 347.7 L1087.7 349.9 L1088.0 348.3 L1088.3 349.7 L1088.6 349.6 L1089.0 351.8 L1089.3 351.9 L1089.6 351.7 L1090.0 353.1 L1090.3 352.8 L1090.7 352.1 L1091.0 354.1 L1091.4 354.5 L1091.7 355.3 L1092.1 354.3 L1092.5 356.7 L1092.9 355.8 L1093.2 356.5 L1093.6 356.8 L1094.0 358.7 L1094.4 357.3 L1094.8 359.1 L1095.2 359.9 L1095.6 359.2 L1096.0 359.7 L1096.4 359.3 L1096.8 360.9 L1097.3 361.4 L1097.7 362.0 L1098.1 362.7 L1098.5 363.5 L1098.9 363.1 L1099.4 363.7 L1099.8 364.3 L1100.2 363.2 L1100.6 364.2 L1101.1 364.5 L1101.5 365.9 L1101.9 366.8 L1102.3 365.3 L1102.8 367.5 L1103.2 367.4 L1103.6 367.5 L1104.1 366.9 L1104.5 368.3 L1105.0 369.6 L1105.4 368.9 L1105.9 369.5 L1106.3 370.7 L1106.8 370.4 L1107.2 370.9 L1107.7 370.2 L1108.2 372.1 L1108.6 371.6 L1109.1 372.3 L1109.6 371.5 L1110.1 372.4 L1110.6 372.5 L1111.1 373.5 L1111.6 373.2 L1112.1 374.2 L1112.7 373.7 L1113.2 374.8 L1113.8 374.4 L1114.3 374.5 L1114.9 374.2 L1115.4 376.0 L1116.0 375.4 L1116.6 374.8 L1117.2 374.8 L1117.8 376.7 L1118.4 375.5 L1119.0 376.1 L1119.6 375.9 L1120.2 376.7 L1120.8 375.9 L1121.4 375.6 L1122.0 374.6 L1122.5 375.0 L1123.1 376.0 L1123.7 376.0 L1124.2 374.0 L1124.8 373.9 L1125.3 374.5 L1125.8 374.9 L1126.3 372.7 L1126.8 374.2 L1127.3 371.8 L1127.8 372.0 L1128.2 371.8 L1128.7 372.8 L1129.1 371.3 L1129.6 371.8 L1130.0 369.6 L1130.5 370.9 L1130.9 369.5 L1131.3 370.4 L1131.7 369.9 L1132.2 368.3 L1132.6 368.1 L1133.0 368.6 L1133.4 366.3 L1133.8 366.0 L1134.2 365.4 L1134.6 366.6 L1135.0 364.3 L1135.4 365.4 L1135.8 365.0 L1136.2 364.9 L1136.5 363.8 L1136.9 364.1 L1137.3 363.6 L1137.7 362.2 L1138.0 362.7 L1138.4 361.1 L1138.8 361.2 L1139.1 360.6 L1139.5 360.8 L1139.8 359.9 L1140.2 359.8 L1140.5 357.6 L1140.9 358.0 L1141.2 358.3 L1141.6 357.2 L1141.9 357.4 L1142.2 354.8 L1142.5 355.4 L1142.9 355.8 L1143.2 354.7 L1143.5 353.3 L1143.8 354.4 L1144.2 353.4 L1144.5 352.4 L1144.8 350.7 L1145.1 351.5 L1145.5 350.7 L1145.8 350.8 L1146.1 350.0 L1146.4 349.8 L1146.8 348.8 L1147.1 347.4 L1147.4 346.9 L1147.8 346.5 L1148.1 347.8 L1148.5 346.2 L1148.8 346.4 L1149.2 345.6 L1149.6 346.0 L1149.9 343.9 L1150.3 344.1 L1150.7 344.5 L1151.1 344.1 L1151.5 342.1 L1151.9 341.4 L1152.3 341.1 L1152.7 342.2 L1153.1 340.5 L1153.5 339.9 L1154.0 340.6 L1154.4 340.5 L1154.9 338.6 L1155.4 338.0 L1155.9 339.1 L1156.4 338.1 L1156.9 338.8 L1157.4 336.4 L1157.9 337.5 L1158.5 337.5 L1159.1 337.3 L1159.6 337.5 L1160.2 336.6 L1160.8 335.4 L1161.4 336.3 L1162.0 337.2 L1162.6 337.5 L1163.2 338.0 L1163.7 337.4 L1164.2 336.9 L1164.7 337.0 L1165.2 339.3 L1165.7 338.5 L1166.1 337.8 L1166.6 338.8 L1167.0 339.6 L1167.4 340.6 L1167.8 339.7 L1168.2 341.3 L1168.5 342.2 L1168.9 343.4 L1169.2 342.0 L1169.6 343.5 L1169.9 343.5 L1170.3 344.6 L1170.6 344.3 L1171.0 345.5 L1171.3 346.1 L1171.7 346.3 L1172.0 346.3 L1172.3 347.6 L1172.7 346.8 L1173.0 349.1 L1173.3 348.2 L1173.7 348.8 L1174.0 349.0 L1174.3 350.4 L1174.6 350.8 L1175.0 351.5 L1175.3 351.5 L1175.6 352.8 L1175.9 353.4 L1176.2 352.3 L1176.6 353.3 L1176.9 353.8 L1177.2 353.7 L1177.5 355.8 L1177.8 354.8 L1178.1 356.2 L1178.4 357.9 L1178.8 358.1 L1179.1 358.4 L1179.4 358.6 L1179.7 358.0 L1180.0 360.1 L1180.3 360.4 L1180.6 360.9 L1180.9 360.1 L1181.2 362.3 L1181.5 361.0 L1181.8 362.7 L1182.1 363.1 L1182.4 363.3 L1182.7 363.4 L1183.0 365.4 L1183.3 364.7 L1183.6 365.5 L1183.9 366.0 L1184.2 367.5 L1184.5 366.7 L1184.8 368.7 L1185.1 369.2 L1185.4 368.6 L1185.7 368.9 L1185.9 369.1 L1186.2 371.4 L1186.5 371.4 L1186.8 372.0 L1187.1 372.2 L1187.3 373.2 L1187.6 373.6 L1187.9 372.9 L1188.1 373.3 L1188.4 375.1 L1188.7 376.1 L1188.9 375.7 L1189.2 375.0 L1189.4 376.5 L1189.7 377.0 L1189.9 377.9 L1190.1 379.4 L1190.4 379.3 L1190.6 378.6 L1190.8 380.0 L1191.1 380.6 L1191.3 381.0 L1191.5 382.8 L1191.7 381.5 L1192.0 382.3 L1192.2 383.0 L1192.4 384.6 L1192.6 384.7 L1192.8 384.9 L1193.0 386.3 L1193.2 385.6 L1193.5 385.6 L1193.7 386.7 L1193.9 386.8 L1194.1 387.4 L1194.3 388.2 L1194.5 390.3 L1194.7 389.9 L1194.9 391.1 L1195.1 392.1 L1195.3 392.4 L1195.5 393.1 L1195.7 391.9 L1195.9 394.5 L1196.1 393.2 L1196.3 394.4 L1196.5 394.7 L1196.7 396.1 L1196.9 396.4 L1197.1 396.6 L1197.3 397.5 L1197.5 397.7 L1197.7 398.8 L1197.9 399.1 L1198.1 398.8 L1198.3 399.3 L1198.5 401.7 L1198.7 400.7 L1198.8 402.8 L1199.0 402.8 L1199.2 403.1 L1199.4 403.8 L1199.5 403.7 L1199.7 403.9 L1199.9 404.3 L1200.1 406.4 L1200.2 407.2 L1200.4 407.4 L1200.6 407.5 L1200.7 408.0 L1200.9 409.4 L1201.1 410.0 L1201.2 409.8 L1201.4 409.8 L1201.6 411.4 L1201.7 411.0 L1201.9 412.8 L1202.1 412.7 L1202.2 413.4 L1202.4 413.2 L1202.6 415.7 L1202.7 414.4 L1202.9 416.2 L1203.0 416.0 L1203.2 416.3 L1203.4 417.4 L1203.5 419.1 L1203.7 418.6 L1203.9 420.2 L1204.0 420.2 L1204.2 420.7 L1204.4 420.0 L1204.5 421.4 L1204.7 422.0 L1204.9 422.3 L1205.0 423.5 L1205.2 424.3 L1205.3 424.3 L1205.5 424.7 L1205.6 425.0 L1205.8 425.2 L1205.9 426.9 L1206.1 426.4 L1206.2 427.3 L1206.4 429.4 L1206.5 429.1 L1206.7 430.7 L1206.8 430.9 L1207.0 429.8 L1207.1 431.8 L1207.3 431.1 L1207.4 431.9 L1207.5 432.2 L1207.7 432.8 L1207.8 435.1 L1208.0 434.9 L1208.1 435.4 L1208.2 437.1 L1208.4 436.5 L1208.5 437.9 L1208.6 438.2 L1208.8 438.6 L1208.9 439.8 L1209.0 440.6 L1209.1 440.5 L1209.3 440.2 L1209.4 440.7 L1209.5 443.0 L1209.6 443.5 L1209.8 444.2 L1209.9 444.5 L1210.0 444.6 L1210.1 446.0 L1210.3 444.8 L1210.4 446.2 L1210.5 447.5 L1210.6 447.9 L1210.7 447.6 L1210.8 448.8 L1211.0 449.6 L1211.1 449.3 L1211.2 449.2 L1211.3 450.1 L1211.4 451.8 L1211.5 451.2 L1211.6 453.1 L1211.8 452.9 L1211.9 453.5 L1212.0 453.8 L1212.1 455.4 L1212.2 455.2 L1212.3 455.7 L1212.4 456.7 L1212.5 457.1 L1212.6 458.1 L1212.7 459.3 L1212.8 459.2 L1212.9 458.7 L1213.1 459.6 L1213.2 460.2 L1213.3 460.9 L1213.4 463.0 L1213.5 463.3 L1213.6 463.0 L1213.7 463.6 L1213.8 464.5 L1213.9 465.1 L1214.0 465.3 L1214.0 466.3 L1214.1 466.3 L1214.2 467.2 L1214.3 468.3 L1214.4 468.7 L1214.4 470.0 L1214.5 469.1 L1214.6 469.8 L1214.6 470.4 L1214.7 471.2 L1214.7 472.5 L1214.8 472.2 L1214.9 473.9 L1214.9 473.4 L1215.0 475.2 L1215.0 475.2 L1215.1 475.2 L1215.1 475.4 L1215.2 476.2 L1215.2 476.7 L1215.3 477.2 L1215.3 478.8 L1215.3 478.8 L1215.4 480.0 L1215.4 480.7 L1215.5 480.9 L1215.5 481.5 L1215.6 482.2 L1215.6 482.8 L1215.7 483.3 L1215.7 483.8 L1215.7 483.9 L1215.8 486.0 L1215.8 486.0 L1215.9 486.8 L1215.9 486.3 L1215.9 487.8 L1216.0 489.1 L1216.0 489.1 L1216.1 490.2 L1216.1 490.2 L1216.1 490.3 L1216.2 491.8 L1216.2 492.2 L1216.3 492.2 L1216.3 493.2 L1216.3 493.1 L1216.4 494.7 L1216.4 494.9 L1216.4 495.0 L1216.5 495.9 L1216.5 496.1 L1216.6 498.2 L1216.6 498.5 L1216.6 499.3 L1216.7 498.8 L1216.7 500.0 L1216.7 500.2 L1216.8 500.7 L1216.8 500.6 L1216.9 501.7 L1216.9 503.3 L1216.9 502.4 L1217.0 504.5 L1217.0 504.4 L1217.0 504.9 L1217.1 506.5 L1217.1 506.3 L1217.2 506.1 L1217.2 506.9 L1217.2 508.5 L1217.3 509.1 L1217.3 509.3 L1217.3 509.1 L1217.4 510.0 L1217.4 511.6 L1217.5 511.0 L1217.5 513.1 L1217.5 513.4 L1217.6 513.7 L1217.6 514.9 L1217.7 515.2 L1217.7 514.8 L1217.7 516.5 L1217.8 516.8 L1217.8 517.7 L1217.9 517.3 L1217.9 518.2 L1217.9 519.3 L1218.0 519.3 L1218.0 519.2 L1218.1 520.3 L1218.1 520.5 L1218.1 522.0 L1218.2 523.0 L1218.2 522.1 L1218.3 524.3 L1218.3 523.6 L1218.4 524.3 L1218.4 525.8 L1218.4 525.6 L1218.5 527.5 L1218.5 526.4 L1218.6 527.8 L1218.6 527.7 L1218.7 529.8 L1218.7 530.0 L1218.8 529.4 L1218.8 531.3 L1218.9 531.0 L1218.9 532.0 L1219.0 533.3 L1219.0 532.7 L1219.1 534.5 L1219.2 533.5 L1219.2 535.5 L1219.3 534.8 L1219.4 536.1 L1219.4 536.6 L1219.5 536.5 L1219.6 537.9 L1219.7 539.1 L1219.7 539.3 L1219.8 539.4 L1219.9 541.1 L1220.0 541.7 L1220.1 541.1 L1220.2 542.9 L1220.3 542.5 L1220.4 543.0 L1220.5 543.9 L1220.6 544.8 L1220.7 545.8 L1220.8 545.3 L1220.9 545.6 L1221.0 546.5 L1221.2 548.0 L1221.3 548.5 L1221.4 549.1 L1221.5 549.0 L1221.6 549.6 L1221.7 549.7 L1221.8 551.5 L1221.9 551.2 L1222.0 552.5 L1222.1 552.8 L1222.2 554.0 L1222.3 553.7 L1222.4 554.6 L1222.5 555.1 L1222.6 555.7 L1222.7 556.4 L1222.8 556.4 L1222.9 557.7 L1223.0 558.5 L1223.1 558.3 L1223.2 559.5 L1223.3 560.3 L1223.4 560.5 L1223.5 560.8 L1223.6 561.4 L1223.7 562.8 L1223.8 562.0 L1223.9 563.9 L1224.0 564.0 L1224.2 564.1 L1224.3 565.4 L1224.4 565.4 L1224.5 565.7 L1224.6 567.0 L1224.7 567.4 L1224.8 567.6 L1224.9 568.3 L1225.0 569.3 L1225.1 569.5 L1225.2 571.0 L1225.3 571.0 L1225.4 571.6 L1225.5 572.9 L1225.6 573.1 L1225.7 573.5 L1225.8 573.7 L1225.9 574.0 L1226.0 574.4 L1226.1 575.4 L1226.2 576.0 L1226.3 577.4 L1226.4 577.1 L1226.5 578.4 L1226.6 579.1 L1226.7 579.8 L1226.8 579.5 L1226.9 580.3 L1227.0 581.2 L1227.2 582.4 L1227.3 582.5 L1227.4 582.6 L1227.5 584.2 L1227.6 583.4 L1227.7 585.0 L1227.8 585.1 L1227.9 585.9 L1228.0 586.9 L1228.1 587.5 L1228.2 586.9 L1228.3 587.9 L1228.4 589.0 L1228.5 590.1 L1228.6 590.0 L1228.7 590.3 L1228.8 591.0 L1228.9 591.8 L1229.0 592.7 L1229.1 593.1 L1229.2 593.8 L1229.3 594.1 L1229.4 594.6 L1229.5 595.5 L1229.6 595.2 L1229.7 596.1 L1229.8 597.7 L1229.9 597.0 L1230.1 598.4 L1230.2 598.3 L1230.3 599.4 L1230.4 599.8 L1230.5 600.9 L1230.6 601.6 L1230.7 601.5 L1230.8 602.6 L1230.9 602.3 L1231.0 603.5 L1231.1 603.6 L1231.2 604.4 L1231.4 605.4 L1231.5 605.8 L1231.6 606.3 L1231.7 607.4 L1231.8 608.1 L1231.9 608.6 L1232.0 609.0 L1232.2 608.8 L1232.3 609.5 L1232.4 610.1 L1232.5 610.9 L1232.6 612.4 L1232.8 612.1 L1232.9 613.0 L1233.0 614.1 L1233.1 613.7 L1233.3 615.1 L1233.4 615.0 L1233.5 616.5 L1233.6 617.1 L1233.8 617.5 L1233.9 618.0 L1234.0 617.6 L1234.1 619.0 L1234.3 619.3 L1234.4 619.4 L1234.5 620.9 L1234.7 621.4 L1234.8 621.8 L1234.9 623.0 L1235.0 623.1 L1235.2 624.2 L1235.3 623.7 L1235.4 624.3 L1235.6 624.9 L1235.7 625.6 L1235.8 626.0 L1236.0 627.1 L1236.1 627.5 L1236.2 627.7 L1236.4 628.8 L1236.5 629.2 L1236.6 630.4 L1236.8 630.5 L1236.9 631.5 L1237.0 632.3 L1237.2 632.8 L1237.3 633.5 L1237.5 633.4 L1237.6 634.6 L1237.7 635.2 L1237.9 634.8 L1238.0 636.2 L1238.2 636.6 L1238.3 636.4 L1238.5 637.1 L1238.6 637.5 L1238.8 638.7 L1238.9 639.3 L1239.1 640.4 L1239.3 640.2 L1239.4 641.0 L1239.6 642.0 L1239.7 642.4 L1239.9 642.9 L1240.1 642.8 L1240.2 644.0 L1240.4 644.4 L1240.6 644.6 L1240.7 645.7 L1240.9 645.8 L1241.1 646.5 L1241.3 647.7 L1241.5 647.7 L1241.7 648.8 L1241.9 649.6 L1242.1 649.8 L1242.3 649.6 L1242.5 650.4 L1242.7 651.3 L1242.9 651.6 L1243.1 652.7 L1243.3 653.2 L1243.6 653.4 L1243.8 654.4 L1244.0 654.3 L1244.3 655.2 L1244.5 655.7 L1244.8 656.8 L1245.0 656.5 L1245.3 656.8 L1245.6 657.6 L1245.8 658.6 L1246.1 658.4 L1246.4 659.8 L1246.7 660.0 L1247.0 660.9 L1247.3 661.2 L1247.6 661.3 L1247.9 662.1 L1248.2 662.8 L1248.5 662.8 L1248.8 663.7 L1249.2 664.6 L1249.5 664.5 L1249.9 664.8 L1250.2 666.1 L1250.6 666.3 L1251.0 666.5 L1251.3 667.4 L1251.7 667.0 L1252.1 667.3 L1252.5 668.7 L1252.9 668.5 L1253.3 669.2 L1253.7 669.2 L1254.2 670.5 L1254.6 670.1 L1255.0 670.7 L1255.5 671.0 L1255.9 671.5 L1256.4 671.9 L1256.8 672.8 L1257.3 673.0 L1257.8 672.7 L1258.3 673.8 L1258.9 674.3 L1259.4 673.5 L1259.9 673.9 L1260.5 674.0 L1261.1 674.5 L1261.7 674.2 L1262.2 675.1 L1262.8 675.7 L1263.4 675.1 L1264.0 675.9 L1264.6 675.3 L1265.2 675.1 L1265.8 674.8 L1266.4 676.0 L1267.0 675.3 L1267.6 675.0 L1268.2 674.8 L1268.8 675.0 L1269.4 675.1 L1269.9 674.3 L1270.5 674.3 L1271.0 674.6 L1271.6 673.7 L1272.1 673.3 L1272.6 672.7 L1273.0 672.7 L1273.5 672.7 L1274.0 671.8 L1274.4 672.3 L1274.8 671.9 L1275.2 670.8 L1275.6 670.5 L1276.0 670.4 L1276.3 670.0 L1276.7 668.9 L1277.0 668.7 L1277.3 667.4 L1277.7 667.2 L1278.0 667.4 L1278.3 666.6 L1278.6 666.1 L1278.9 665.0 L1279.1 664.4 L1279.4 664.8 L1279.7 664.0 L1280.0 663.4 L1280.2 663.2 L1280.5 662.3 L1280.8 661.6 L1281.0 661.1 L1281.3 660.7 L1281.5 660.3 L1281.8 659.7 L1282.1 659.0 L1282.3 658.7 L1282.6 657.7 L1282.8 657.3 L1283.0 656.3 L1283.3 655.7 L1283.5 656.1 L1283.8 655.6 L1284.0 654.2 L1284.2 653.6 L1284.5 653.3 L1284.7 652.5 L1284.9 651.9 L1285.2 651.5 L1285.4 650.7 L1285.6 650.2 L1285.8 650.2 L1286.0 649.1 L1286.3 649.2 L1286.5 648.0 L1286.7 647.9 L1286.9 646.8 L1287.1 646.6 L1287.3 646.0 L1287.6 645.5 L1287.8 645.6 L1288.0 644.5 L1288.2 644.1 L1288.4 642.7 L1288.6 642.5 L1288.8 642.5 L1289.1 641.1 L1289.3 641.4 L1289.5 641.0 L1289.7 640.4 L1289.9 639.1 L1290.1 639.3 L1290.4 638.0 L1290.6 638.1 L1290.8 637.0 L1291.0 636.0 L1291.2 635.6 L1291.4 635.0 L1291.6 635.3 L1291.9 634.0 L1292.1 634.3 L1292.3 633.2 L1292.5 632.4 L1292.7 631.6 L1292.9 632.1 L1293.2 630.5 L1293.4 630.0 L1293.6 629.6 L1293.8 629.7 L1294.0 629.1 L1294.2 628.5 L1294.4 627.4 L1294.7 627.2 L1294.9 626.0 L1295.1 625.6 L1295.3 624.8 L1295.5 625.4 L1295.7 624.9 L1296.0 623.6 L1296.2 623.8 L1296.4 622.3 L1296.6 622.1 L1296.8 621.6 L1297.0 620.3 L1297.2 619.9 L1297.5 620.3 L1297.7 619.8 L1297.9 618.1 L1298.1 618.2 L1298.3 617.3 L1298.5 616.9 L1298.8 615.9 L1299.0 616.3 L1299.2 615.8 L1299.4 614.6 L1299.6 614.2 L1299.8 613.2 L1300.0 613.5 L1300.2 612.8 L1300.4 611.4 L1300.6 611.6 L1300.8 610.9 L1301.0 610.5 L1301.2 610.1 L1301.4 609.4 L1301.6 608.2 L1301.8 607.7 L1302.0 607.7 L1302.1 606.7 L1302.3 605.9 L1302.5 605.8 L1302.6 605.7 L1302.8 604.0 L1302.9 603.4 L1303.1 602.9 L1303.3 602.4 L1303.4 602.9 L1303.6 601.7 L1303.7 600.5 L1303.9 599.9 L1304.0 600.6 L1304.2 599.2 L1304.3 598.3 L1304.5 598.7 L1304.6 598.1 L1304.8 597.2 L1304.9 596.5 L1305.1 596.5 L1305.2 595.5 L1305.4 594.2 L1305.5 593.4 L1305.7 593.6 L1305.8 593.3 L1306.0 592.9 L1306.1 591.9 L1306.3 590.9 L1306.4 591.3 L1306.6 589.4 L1306.7 590.1 L1306.9 588.7 L1307.0 588.8 L1307.2 588.4 L1307.3 586.5 L1307.4 587.1 L1307.6 585.5 L1307.7 585.1 L1307.9 585.0 L1308.0 584.4 L1308.2 583.9 L1308.3 583.3 L1308.5 582.1 L1308.6 582.3 L1308.8 581.1 L1308.9 580.6 L1309.1 579.4 L1309.2 580.3 L1309.3 578.9 L1309.5 578.4 L1309.6 577.3 L1309.8 577.8 L1309.9 576.3 L1310.1 575.5 L1310.2 574.9 L1310.4 575.3 L1310.5 573.8 L1310.7 573.7 L1310.8 573.3 L1311.0 573.2 L1311.1 572.6 L1311.3 570.7 L1311.4 571.6 L1311.6 570.0 L1311.7 570.2 L1311.9 568.3 L1312.0 567.8 L1312.2 567.5 L1312.3 567.6 L1312.5 566.6 L1312.6 566.6 L1312.8 565.2 L1312.9 564.6 L1313.1 564.9 L1313.3 563.4 L1313.4 563.9 L1313.6 562.8 L1313.7 561.7 L1313.9 562.1 L1314.0 561.5 L1314.2 560.3 L1314.4 560.0 L1314.5 559.5 L1314.7 558.3 L1314.8 558.5 L1315.0 557.6 L1315.1 556.7 L1315.3 555.6 L1315.5 555.0 L1315.6 554.5 L1315.8 555.2 L1315.9 553.4 L1316.1 553.4 L1316.3 553.6 L1316.4 552.2 L1316.6 551.1 L1316.7 551.9 L1316.9 549.9 L1317.1 549.8 L1317.2 550.0 L1317.4 548.6 L1317.5 548.0 L1317.7 547.7 L1317.8 547.1 L1318.0 547.2 L1318.2 545.7 L1318.3 545.4 L1318.5 544.0 L1318.6 544.0 L1318.8 543.0 L1318.9 542.9 L1319.1 541.9 L1319.2 541.6 L1319.4 541.3 L1319.5 540.7 L1319.6 539.3 L1319.8 539.7 L1319.9 538.9 L1320.1 538.4 L1320.2 538.4 L1320.4 537.0 L1320.5 535.8 L1320.6 535.6 L1320.8 535.3 L1320.9 534.2 L1321.0 534.4 L1321.2 533.2 L1321.3 532.6 L1321.5 532.1 L1321.6 532.4 L1321.7 531.0 L1321.9 530.4 L1322.0 529.4 L1322.1 530.0 L1322.3 529.2 L1322.4 529.2 L1322.5 527.2 L1322.7 527.3 L1322.8 526.5 L1322.9 526.4 L1323.1 525.8 L1323.2 524.4 L1323.3 524.7 L1323.5 524.1 L1323.6 523.9 L1323.7 522.0 L1323.9 522.7 L1324.0 520.5 L1324.1 521.5 L1324.3 520.0 L1324.4 519.6 L1324.5 519.7 L1324.7 518.7 L1324.8 518.1 L1324.9 517.5 L1325.1 516.6 L1325.2 516.7 L1325.3 515.2 L1325.5 515.6 L1325.6 515.3 L1325.7 512.9 L1325.9 513.1 L1326.0 513.2 L1326.2 511.9 L1326.3 511.7 L1326.4 511.7 L1326.6 509.7 L1326.7 510.2 L1326.9 509.8 L1327.0 508.0 L1327.2 507.4 L1327.3 508.2 L1327.4 507.6 L1327.6 506.7 L1327.7 505.4 L1327.9 504.4 L1328.1 504.2 L1328.2 504.3 L1328.4 502.9 L1328.5 503.0 L1328.7 502.1 L1328.8 501.6 L1329.0 501.2 L1329.2 501.3 L1329.3 499.2 L1329.5 499.8 L1329.7 498.6 L1329.9 498.7 L1330.1 497.4 L1330.2 497.2 L1330.4 497.2 L1330.6 496.4 L1330.9 494.7 L1331.1 495.6 L1331.3 494.4 L1331.5 494.1 L1331.8 493.1 L1332.0 492.3 L1332.3 491.7 L1332.5 490.6 L1332.8 491.8 L1333.1 490.6 L1333.4 490.7 L1333.7 489.6 L1334.1 488.4 L1334.4 488.2 L1334.8 487.9 L1335.1 487.3 L1335.5 487.4 L1335.9 485.9 L1336.3 485.5 L1336.7 485.4 L1337.1 484.8 L1337.5 485.6 L1337.9 483.7 L1338.4 483.4 L1338.8 484.0 L1339.2 482.7 L1339.6 482.6 L1340.0 481.4 L1340.5 482.3 L1340.9 480.4 L1341.3 480.9 L1341.8 479.8 L1342.2 479.6 L1342.7 480.1 L1343.2 479.7 L1343.6 479.7 L1344.1 478.1 L1344.6 477.4 L1345.1 477.3 L1345.6 477.2 L1346.2 477.0 L1346.7 477.8 L1347.3 476.8 L1347.9 476.9 L1348.5 476.7 L1349.1 477.5 L1349.7 477.4 L1350.3 476.1 L1350.9 477.0 L1351.4 477.9 L1352.0 477.7 L1352.6 477.9 L1353.1 478.6 L1353.6 478.9 L1354.1 478.0 L1354.6 478.9 L1355.0 480.0 L1355.5 479.1 L1355.9 480.1 L1356.4 479.7 L1356.8 481.6 L1357.2 481.4 L1357.6 482.5 L1357.9 482.4 L1358.3 482.5 L1358.7 483.2 L1359.0 483.8 L1359.4 484.2 L1359.7 485.2 L1360.1 484.7 L1360.4 486.0 L1360.7 485.9 L1361.1 487.6 L1361.4 486.7 L1361.7 487.9 L1362.1 487.5 L1362.4 489.6 L1362.7 488.9 L1363.0 489.6 L1363.3 490.4 L1363.6 491.1 L1363.9 491.1 L1364.2 490.9 L1364.5 491.7 L1364.8 493.7 L1365.1 493.1 L1365.4 493.3 L1365.7 495.3 L1366.0 494.3 L1366.3 494.6 L1366.5 495.3 L1366.8 496.2 L1367.1 497.2 L1367.3 498.3 L1367.6 498.9 L1367.8 498.6 L1368.1 499.1 L1368.3 500.2 L1368.6 500.0 L1368.8 500.0 L1369.1 501.4 L1369.3 502.4 L1369.5 503.2 L1369.8 503.6 L1370.0 504.5 L1370.2 503.9 L1370.5 504.8 L1370.7 505.6 L1371.0 506.3 L1371.2 506.8 L1371.4 507.3 L1371.7 506.7 L1371.9 508.6 L1372.1 509.4 L1372.4 509.5 L1372.6 510.2 L1372.8 510.1 L1373.1 511.0 L1373.3 512.0 L1373.5 512.7 L1373.7 511.9 L1374.0 513.6 L1374.2 513.0 L1374.4 514.1 L1374.7 514.4 L1374.9 515.3 L1375.1 516.0 L1375.3 516.4 L1375.6 516.1 L1375.8 517.1 L1376.0 517.9 L1376.3 519.5 L1376.5 518.7 L1376.7 519.4 L1376.9 520.4 L1377.1 520.3 L1377.4 522.0 L1377.6 522.6 L1377.8 521.9 L1378.0 523.5 L1378.3 523.6 L1378.5 525.1 L1378.7 524.4 L1378.9 525.6 L1379.1 525.9 L1379.4 526.0 L1379.6 526.3 L1379.8 527.2 L1380.0 528.0 L1380.2 528.8 L1380.5 529.2 L1380.7 529.2 L1380.9 530.9 L1381.1 531.0 L1381.3 531.7 L1381.6 532.0 L1381.8 533.1 L1382.0 533.7 L1382.2 533.6 L1382.4 533.4 L1382.6 534.6 L1382.9 535.2 L1383.1 535.8 L1383.3 536.7 L1383.5 537.8 L1383.7 536.8 L1384.0 538.1 L1384.2 538.3 L1384.4 539.5 L1384.6 540.3 L1384.8 541.2 L1385.0 541.1 L1385.3 540.8 L1385.5 542.0 L1385.7 541.9 L1385.9 543.0 L1386.1 543.4 L1386.3 543.9 L1386.6 545.4 L1386.8 545.7 L1387.0 546.3 L1387.2 546.2 L1387.4 546.8 L1387.6 548.3 L1387.8 548.9 L1388.0 549.2 L1388.2 550.1 L1388.4 550.7 L1388.6 550.8 L1388.8 550.3 L1389.0 550.9 L1389.2 552.5 L1389.4 552.6 L1389.6 552.7 L1389.8 553.7 L1390.0 554.8 L1390.2 554.9 L1390.4 555.3 L1390.6 556.9 L1390.8 556.0 L1391.0 557.9 L1391.2 557.9 L1391.4 558.6 L1391.6 559.5 L1391.8 560.4 L1392.0 560.1 L1392.2 561.4 L1392.4 561.2 L1392.6 561.2 L1392.9 562.3 L1393.1 562.7 L1393.3 563.4 L1393.6 564.2 L1393.8 564.5 L1394.1 565.3 L1394.3 565.8 L1394.6 565.8 L1394.9 566.4 L1395.2 566.5 L1395.5 568.3 L1395.8 568.4 L1396.1 568.5 L1396.4 569.4 L1396.7 570.5 L1397.0 570.0 L1397.4 571.2 L1397.7 571.2 L1398.0 571.7 L1398.4 572.6 L1398.7 572.1 L1399.1 573.3 L1399.4 574.0 L1399.8 574.5 L1400.1 574.7 L1400.4 575.1 L1400.8 575.5 L1401.1 576.4 L1401.4 576.1 L1401.7 576.5 L1402.1 578.4 L1402.4 578.7 L1402.7 579.1 L1403.0 579.3 L1403.3 579.7 L1403.5 580.9 L1403.8 580.7 L1404.1 582.0 L1404.4 582.4 L1404.7 582.8 L1404.9 582.7 L1405.2 583.6 L1405.5 584.2 L1405.8 584.4 L1406.0 584.6 L1406.3 585.1 L1406.6 586.9 L1406.9 586.1 L1407.1 587.9 L1407.4 588.2 L1407.7 588.1 L1407.9 588.9 L1408.2 589.4 L1408.5 589.6 L1408.8 590.4 L1409.0 591.4 L1409.3 591.6 L1409.6 592.2 L1409.9 592.6 L1410.2 593.0 L1410.4 593.3 L1410.7 594.4 L1411.0 594.6 L1411.3 595.2 L1411.6 596.5 L1411.9 596.1 L1412.2 596.6 L1412.4 597.6 L1412.7 597.4 L1413.0 598.4 L1413.3 598.8 L1413.6 599.8 L1413.9 600.2 L1414.2 601.1 L1414.5 600.7 L1414.8 601.0 L1415.1 602.2 L1415.4 602.4 L1415.7 602.9 L1416.0 603.8 L1416.3 603.9 L1416.6 605.2 L1416.9 605.9 L1417.2 605.3 L1417.5 606.6 L1417.8 607.2 L1418.1 607.5 L1418.4 607.3 L1418.7 609.0 L1419.0 608.6 L1419.3 609.7 L1419.6 609.6 L1419.9 611.1 L1420.2 611.0 L1420.6 611.5 L1420.9 611.6 L1421.2 613.1 L1421.5 613.4 L1421.8 613.1 L1422.2 613.9 L1422.5 614.7 L1422.8 615.6 L1423.1 615.8 L1423.5 616.4 L1423.8 616.3 L1424.1 617.3 L1424.5 617.5 L1424.8 618.0 L1425.2 618.7 L1425.5 619.3 L1425.9 619.5 L1426.2 619.4 L1426.6 620.3 L1426.9 620.6 L1427.3 621.9 L1427.7 621.9 L1428.1 622.2 L1428.4 622.8 L1428.8 623.1 L1429.2 623.5 L1429.6 624.8 L1430.0 625.1 L1430.4 624.6 L1430.8 625.3 L1431.2 625.3 L1431.7 626.8 L1432.1 626.1 L1432.5 626.9 L1433.0 627.3 L1433.4 628.4 L1433.8 629.0 L1434.3 629.3 L1434.7 628.6 L1435.2 629.2 L1435.7 629.9 L1436.1 630.3 L1436.6 631.0 L1437.1 631.0 L1437.6 631.2 L1438.0 631.8 L1438.5 631.8 L1439.0 632.3 L1439.5 632.6 L1440.0 633.6 L1440.5 633.2 L1441.0 633.2 L1441.5 634.0 L1442.0 634.8 L1442.5 635.1 L1443.0 634.7 L1443.5 635.5 L1444.0 635.1 L1444.6 636.4 L1445.1 636.7 L1445.6 636.3 L1446.1 637.1 L1446.6 637.8 L1447.1 637.0 L1447.6 638.0 L1448.1 638.1 L1448.6 638.5 L1449.1 639.2 L1449.6 639.8 L1450.1 639.5 L1450.6 640.2 L1451.2 640.2 L1451.7 640.4 L1452.2 640.9 L1452.7 641.7 L1453.2 641.7 L1453.7 642.4 L1454.1 642.1 L1454.6 642.7 L1455.1 642.4 L1455.6 642.7 L1456.1 644.0 L1456.6 644.5 L1457.1 643.9 L1457.6 644.2 L1458.1 644.5 L1458.6 645.4 L1459.1 645.9 L1459.6 646.3 L1460.1 646.4 L1460.7 646.1 L1461.3 647.2 L1461.8 646.8 L1462.4 647.2 L1463.0 647.2 L1463.6 647.3 L1464.2 647.8 L1464.8 647.4 L1465.4 647.3 L1466.0 647.6 L1466.6 647.0 L1467.2 647.7 L1467.8 646.8 L1468.4 647.8 L1469.0 647.5 L1469.6 647.6 L1470.2 647.0 L1470.8 647.1 L1471.3 647.4 L1471.9 647.7 L1472.5 647.6 L1473.0 648.5 L1473.6 648.4 L1474.1 648.5 L1474.7 648.6 L1475.2 649.6 L1475.7 649.5 L1476.2 649.8 L1476.8 650.1 L1477.3 650.9 L1477.8 650.4 L1478.3 651.4 L1478.8 650.9 L1479.4 651.9 L1479.9 652.0 L1480.5 652.3 L1481.0 652.3 L1481.6 653.0 L1482.1 652.9 L1482.7 653.6 L1483.3 653.2 L1483.9 653.5 L1484.5 652.7 L1485.1 653.4 L1485.7 652.9 L1486.3 652.9 L1486.9 652.7 L1487.5 652.8 L1488.0 653.2 L1488.6 652.0 L1489.2 652.0 L1489.7 651.8 L1490.3 651.6 L1490.8 651.3 L1491.4 650.9 L1491.9 651.0 L1492.4 651.2 L1493.0 650.9 L1493.5 650.3 L1494.1 649.8 L1494.6 649.6 L1495.2 649.4 L1495.8 648.9 L1496.3 649.5 L1496.9 649.5 L1497.5 649.5 L1498.1 649.1 L1498.7 648.3 L1499.3 649.1 L1499.9 648.9 L1500.5 648.8 L1501.1 648.2 L1501.7 648.6 L1502.3 648.6 L1502.9 648.6 L1503.5 648.4 L1504.1 648.8 L1504.7 649.0 L1505.3 649.0 L1505.9 649.0 L1506.5 648.7 L1507.1 648.6 L1507.7 648.7 L1508.3 648.4 L1508.9 649.2 L1509.5 649.2 L1510.1 649.1 L1510.6 649.5 L1511.2 649.6 L1511.8 649.1 L1512.4 649.9 L1513.0 649.7 L1513.6 650.0 L1514.2 649.9 L1514.7 650.7 L1515.3 650.6 L1515.9 650.6 L1516.5 650.8 L1517.1 650.5 L1517.6 650.5 L1518.2 651.6 L1518.8 651.8 L1519.4 651.1 L1520.0 652.1 L1520.5 651.8 L1521.1 651.6 L1521.7 652.4 L1522.3 651.7 L1522.9 652.0 L1523.4 652.7 L1524.0 652.7 L1524.6 653.0 L1525.2 652.6 L1525.8 653.5 L1526.4 653.2 L1527.0 653.8 L1527.5 652.9 L1528.1 654.1 L1528.7 653.6 L1529.2 654.4 L1529.8 654.8 L1530.3 654.0 L1530.8 655.2 L1531.3 655.1 L1531.8 655.5 L1532.2 655.7 L1532.7 656.6 L1533.1 656.8 L1533.5 656.9 L1533.9 657.9 L1534.3 657.9 L1534.7 658.7 L1535.1 658.6 L1535.5 659.9 L1535.9 659.5 L1536.3 660.4 L1536.6 661.0 L1537.0 661.8 L1537.4 661.7 L1537.7 662.0 L1538.1 663.1 L1538.4 663.2 L1538.8 663.7 L1539.2 664.6 L1539.5 664.2 L1539.9 665.7 L1540.3 665.5 L1540.6 666.3 L1541.0 666.4 L1541.4 666.6 L1541.7 667.2 L1542.1 667.6 L1542.5 668.9 L1542.9 668.3 L1543.3 669.8 L1543.6 669.7 L1544.0 670.9 L1544.4 671.3 L1544.8 671.3 L1545.2 671.2 L1545.5 672.5 L1545.9 672.8 L1546.3 673.4 L1546.7 673.9 L1547.1 674.0 L1547.5 675.1 L1547.8 674.4 L1548.2 675.0 L1548.6 675.8 L1549.0 676.4 L1549.4 676.3 L1549.8 677.7 L1550.1 678.0 L1550.5 678.2 L1550.9 678.6 L1551.3 679.1 L1551.7 679.5 L1552.1 679.6 L1552.5 680.3 L1552.9 680.4 L1553.3 681.6 L1553.6 681.6 L1554.1 682.1 L1554.5 682.2 L1554.9 683.6 L1555.3 682.8 L1555.8 683.9 L1556.3 684.5 L1556.7 685.0 L1557.2 684.8 L1557.7 685.5 L1558.2 685.3 L1558.7 685.9 L1559.2 685.6 L1559.7 686.0 L1560.2 687.1 L1560.7 688.0 L1561.2 687.1 L1561.7 687.9 L1562.1 688.0 L1562.5 688.7 L1563.0 689.5 L1563.4 690.0 L1563.7 691.0 L1564.1 690.5 L1564.5 691.3 L1564.8 691.2 L1565.2 692.9 L1565.5 692.1 L1565.9 692.7 L1566.2 693.5 L1566.6 694.0 L1566.9 695.1 L1567.2 695.8 L1567.6 695.1 L1567.9 696.0 L1568.2 697.3 L1568.6 697.3 L1568.9 698.2 L1569.2 697.6 L1569.5 699.0 L1569.9 698.3 L1570.2 698.8 L1570.5 699.6 L1570.9 700.1 L1571.2 700.8 L1571.5 702.0 L1571.8 701.5 L1572.2 702.9 L1572.5 703.0 L1572.8 702.9 L1573.1 704.0 L1573.5 703.8 L1573.8 705.8 L1574.1 705.2 L1574.4 705.4 L1574.8 707.3 L1575.1 708.0 L1575.4 708.2 L1575.7 707.2 L1576.0 708.7 L1576.4 708.6 L1576.7 708.9 L1577.0 710.0 L1577.3 709.9 L1577.6 710.4 L1578.0 710.8 L1578.3 712.8 L1578.6 712.5 L1578.9 713.9 L1579.2 712.8 L1579.6 714.3 L1579.9 713.8 L1580.2 716.1 L1580.5 715.2 L1580.8 716.6 L1581.2 717.5 L1581.5 716.8 L1581.8 718.3 L1582.1 718.4 L1582.5 718.9 L1582.8 718.2 L1583.1 720.7 L1583.5 719.3 L1583.8 721.5 L1584.1 720.2 L1584.5 720.7 L1584.8 722.2 L1585.2 721.9 L1585.5 723.0 L1585.9 723.4 L1586.2 725.0 L1586.6 724.8 L1586.9 725.6 L1587.3 725.5 L1587.7 725.3 L1588.1 725.5 L1588.4 727.0 L1588.8 728.0 L1589.2 727.7 L1589.6 729.5 L1590.0 728.4 L1590.3 729.0 L1590.7 729.1 L1591.1 731.0 L1591.5 731.3 L1591.9 732.3 L1592.3 731.6 L1592.7 731.7 L1593.1 732.7 L1593.5 732.0 L1593.9 733.3 L1594.4 734.4 L1594.8 735.0 L1595.2 734.9 L1595.6 734.7 L1596.1 736.5 L1596.5 735.4 L1596.9 736.7 L1597.4 737.1 L1597.9 737.5 L1598.3 737.7 L1598.8 738.5 L1599.3 739.3 L1599.7 737.5 L1600.2 739.7 L1600.7 739.2 L1601.2 739.5 L1601.7 740.5 L1602.3 739.4 L1602.8 739.6 L1603.3 741.3 L1603.8 741.8 L1604.4 740.4 L1604.9 742.4 L1605.5 742.0 L1606.0 742.1 L1606.6 743.1 L1607.1 743.5 L1607.7 743.2 L1608.2 743.7 L1608.8 743.1 L1609.4 743.5 L1609.9 744.1 L1610.5 744.5 L1611.1 743.5 L1611.7 743.0 L1612.2 743.0 L1612.8 743.5 L1613.4 743.7 L1614.0 745.5 L1614.6 745.0 L1615.2 745.2 L1615.8 745.0 L1616.4 746.1 L1617.0 743.9 L1617.5 745.0 L1618.1 745.1 L1618.7 744.3 L1619.3 744.3 L1619.9 745.3 L1620.5 744.9 L1621.1 745.1 L1621.7 746.6 L1622.3 745.0 L1622.9 746.5 L1623.5 746.1 L1624.1 746.0 L1624.7 745.9 L1625.3 745.1 L1625.9 747.5 L1626.5 747.0 L1627.1 745.6 L1627.7 745.8 L1628.3 745.4 L1628.9 747.5 L1629.5 745.2 L1630.1 746.2 L1630.7 745.8 L1631.3 745.7 L1631.9 745.6 L1632.5 747.4 L1633.1 746.2 L1633.7 746.5 L1634.3 746.8 L1634.9 746.1 L1635.5 746.7 L1636.1 745.4 L1636.7 746.1 L1637.3 746.9 L1637.9 747.7 L1638.5 747.9 L1639.1 746.3 L1639.7 746.6 L1640.3 747.9 L1640.9 746.5 L1641.5 746.6 L1642.1 747.1 L1642.7 746.9 L1643.3 745.8 L1643.9 747.9 L1644.5 745.7 L1645.1 747.6 L1645.7 746.7 L1646.3 748.0 L1646.9 746.5 L1647.5 747.2 L1648.1 748.1 L1648.7 746.7 L1649.3 746.5 L1649.9 747.1 L1650.5 747.7 L1651.1 746.9 L1651.7 748.1 L1652.3 745.6 L1652.9 748.1 L1653.5 746.8 L1654.1 747.5 L1654.7 746.2 L1655.3 747.7 L1655.9 747.2 L1656.5 747.7 L1657.1 747.5 L1657.7 746.8 L1658.3 747.2 L1658.9 747.9 L1659.5 747.1 L1660.1 748.1 L1660.7 747.2 L1661.3 745.8 L1661.9 746.6 L1662.5 747.5 L1663.1 745.8 L1663.7 748.2 L1664.3 747.9 L1664.9 746.3 L1665.5 746.6 L1666.1 746.2 L1666.7 745.9 L1667.3 746.2 L1667.9 748.3 L1668.5 746.4 L1669.1 748.1 L1669.7 746.8 L1670.3 746.3 L1670.9 746.5 L1671.5 747.9 L1672.1 746.8 L1672.7 746.3 L1673.3 746.5 L1673.9 746.3 L1674.5 748.2 L1675.1 747.0 L1675.7 748.3 L1676.3 748.1 L1676.9 747.3 L1677.5 747.6 L1678.1 746.6 L1678.7 747.1 L1679.3 746.0 L1679.9 747.2 L1680.5 747.3 L1681.1 746.9 L1681.7 746.0 L1682.3 748.2 L1682.9 746.6 L1683.5 748.4 L1684.1 746.3 L1684.7 747.2 L1685.3 748.0 L1685.9 747.2 L1686.5 746.9 L1687.1 746.5 L1687.7 748.0 L1688.3 748.4 L1688.9 746.4 L1689.5 746.3 L1690.1 747.8 L1690.7 747.1 L1691.3 747.2 L1691.9 747.0 L1692.5 746.9 L1693.1 746.9 L1693.7 746.0 L1694.3 748.3 L1694.9 747.9 L1695.5 746.1 L1696.1 746.0 L1696.7 746.9 L1697.3 746.9 L1697.9 746.1 L1698.5 746.6 L1699.1 746.6 L1699.7 747.3 L1700.3 746.6 L1700.9 746.8 L1701.5 747.2 L1702.1 748.5 L1702.7 748.3 L1703.3 748.0 L1703.9 745.9 L1704.5 746.9 L1705.1 746.9 L1705.7 747.6 L1706.3 746.0 L1706.9 746.0 L1707.5 748.5 L1708.1 746.5 L1708.7 748.5 L1709.3 746.0 L1709.9 747.3 L1710.5 746.6 L1711.1 746.0 L1711.7 747.1 L1712.3 747.1 L1712.9 747.0 L1713.5 746.7 L1714.1 747.8 L1714.7 747.4 L1715.3 748.2 L1715.9 747.2 L1716.5 747.8 L1717.1 746.6 L1717.7 748.3 L1718.3 747.5 L1718.9 746.8 L1719.5 746.3 L1720.1 747.0 L1720.7 746.1 L1721.3 748.5 L1721.9 748.1 L1722.5 747.5 L1723.1 748.5 L1723.7 746.7 L1724.3 747.1 L1724.9 748.7 L1725.5 747.4 L1726.1 747.5 L1726.7 747.4 L1727.3 747.9 L1727.9 746.6 L1728.5 747.4 L1729.1 748.3 L1729.7 747.3 L1730.3 748.5 L1730.9 748.3 L1731.5 747.8 L1732.1 748.5 L1732.7 746.5 L1733.3 746.6 L1733.9 748.7 L1734.5 747.7 L1735.1 748.3 L1735.7 747.9 L1736.3 746.9 L1736.9 746.8 L1737.5 746.5 L1738.1 748.2 L1738.7 746.9 L1739.3 748.5 L1739.9 746.6 L1740.5 748.8 L1741.1 748.2 L1741.7 746.9 L1742.3 748.0 L1742.9 747.0 L1743.5 747.5 L1744.1 746.9 L1744.7 747.1 L1745.3 748.5 L1745.9 747.6 L1746.5 748.2 L1747.1 746.4 L1747.7 746.7 L1748.3 748.1 L1748.9 748.0 L1749.5 747.2 L1750.1 746.7 L1750.7 746.2 L1751.3 746.9 L1751.9 748.3 L1752.5 748.4 L1753.1 747.4 L1753.7 746.6 L1754.3 748.4 L1754.9 747.1 L1755.5 748.3 L1756.1 746.3 L1756.7 746.8 L1757.3 747.7 L1757.9 746.2 L1758.5 748.3 L1759.1 746.8 L1759.7 746.8 L1760.3 746.8 L1760.9 747.1 L1761.5 747.4 L1762.1 746.3 L1762.7 746.6 L1763.3 748.0 L1763.9 747.9 L1764.5 747.5 L1765.1 746.9 L1765.7 746.7 L1766.3 747.5 L1766.9 746.4 L1767.5 747.0 L1768.1 747.9 L1768.7 747.5 L1769.3 748.6 L1769.9 746.3 L1770.5 747.0 L1771.1 746.2 L1771.7 747.9 L1772.3 746.6 L1772.9 746.7 L1773.5 746.5 L1774.1 746.2 L1774.7 746.3 L1775.3 748.0 L1775.9 746.2 L1776.5 747.6 L1777.1 748.4 L1777.7 747.6 L1778.3 747.7 L1778.9 747.5 L1779.5 747.3 L1780.1 745.6 L1780.6 746.3 L1781.2 746.9 L1781.8 746.6 L1782.4 746.7 L1783.0 746.7 L1783.6 745.4 L1784.2 746.4 L1784.8 745.4 L1785.4 745.7 L1786.0 747.0 L1786.6 745.7 L1787.2 745.4 L1787.8 744.9 L1788.4 746.0 L1789.0 744.9 L1789.6 745.4 L1790.1 745.9 L1790.7 745.1 L1791.3 745.1 L1791.9 744.0 L1792.5 744.3 L1793.1 744.3 L1793.7 743.7 L1794.3 743.4 L1794.9 744.1 L1795.5 745.2 L1796.0 743.5 L1796.6 744.5 L1797.2 744.1 L1797.8 743.0 L1798.4 742.7 L1799.0 742.6 L1799.6 744.8 L1800.2 743.4 L1800.8 744.2 L1801.3 742.2 L1801.9 742.4 L1802.5 743.2 L1803.1 743.6 L1803.7 743.7 L1804.3 741.5 L1804.9 743.1 L1805.5 743.4 L1806.0 743.0 L1806.6 743.1 L1807.2 741.1 L1807.8 742.0 L1808.4 740.5 L1809.0 742.6 L1809.6 740.4 L1810.2 740.5 L1810.7 740.3 L1811.3 741.6 L1811.9 740.0 L1812.5 740.7 L1813.1 741.4 L1813.7 740.6 L1814.3 740.5 L1814.9 740.0 L1815.4 740.9 L1816.0 740.6 L1816.6 740.6 L1817.2 739.2 L1817.8 740.2 L1818.4 739.3 L1819.0 739.1 L1819.6 739.3 L1820.1 738.3 L1820.7 739.8 L1821.3 739.9 L1821.9 738.6 L1822.5 739.3 L1823.1 738.9 L1823.7 739.7 L1824.3 739.6 L1824.9 739.7 L1825.5 737.6 L1826.1 738.2 L1826.7 739.2 L1827.3 738.0 L1827.9 739.7 L1828.5 737.2 L1829.1 739.6 L1829.7 739.1 L1830.3 739.0 L1830.9 737.9 L1831.5 738.2 L1832.1 738.6 L1832.7 737.7 L1833.3 737.9 L1833.9 738.0 L1834.5 738.2 L1835.1 738.8 L1835.7 737.9 L1836.3 739.0 L1836.8 738.5 L1837.4 740.2 L1838.0 739.7 L1838.6 738.9 L1839.2 738.7 L1839.8 740.4 L1840.4 739.9 L1841.0 740.6 L1841.6 740.2 L1842.2 739.7 L1842.8 739.8 L1843.3 740.0 L1843.9 740.6 L1844.5 741.8 L1845.1 741.2 L1845.7 741.4 L1846.3 741.1 L1846.9 740.1 L1847.5 740.3 L1848.1 740.6 L1848.6 742.4 L1849.2 741.0 L1849.8 740.7 L1850.4 742.5 L1851.0 742.5 L1851.6 741.2 L1852.2 742.4 L1852.8 741.2 L1853.3 741.3 L1853.9 743.2 L1854.5 743.5 L1855.1 743.3 L1855.7 744.1 L1856.3 742.5 L1856.9 741.9 L1857.5 744.3 L1858.0 742.3 L1858.6 743.9 L1859.2 743.0 L1859.8 742.9 L1860.4 744.5 L1861.0 743.2 L1861.6 744.0 L1862.2 744.6 L1862.8 744.1 L1863.3 745.3 L1863.9 744.8 L1864.5 743.8 L1865.1 745.1 L1865.7 745.0 L1866.3 745.8 L1866.9 745.6 L1867.5 745.7 L1868.0 746.1 L1868.6 744.2 L1869.2 745.2 L1869.8 745.6 L1870.4 746.3 L1871.0 746.2 L1871.6 746.4 L1872.2 746.7 L1872.8 745.0 L1873.4 745.4 L1874.0 745.3 L1874.6 745.3 L1875.2 746.0 L1875.7 746.2 L1876.3 747.8 L1876.9 745.8 L1877.5 745.4 L1878.1 747.7 L1878.7 748.0 L1879.3 747.2 L1879.9 747.7 L1880.5 745.9 L1881.1 746.2 L1881.7 747.5 L1882.3 746.0 L1882.9 747.2 L1883.5 746.2 L1884.1 746.6 L1884.7 748.4 L1885.3 748.3 L1885.9 747.9 L1886.5 747.1 L1887.1 747.2 L1887.7 747.0 L1888.3 747.2 L1888.9 747.4 L1889.5 746.6 L1890.1 746.5 L1890.7 747.4 L1891.3 746.3 L1891.9 747.5 L1892.5 746.9 L1893.1 747.6 L1893.7 747.5 L1894.3 747.4 L1894.9 746.7 L1895.5 747.3 L1896.1 748.5 L1896.7 748.0 L1897.3 748.1 L1897.9 748.2 L1898.5 747.5 L1899.1 748.6 L1899.7 746.6 L1900.3 746.8 L1900.9 747.6 L1901.5 748.9 L1902.1 748.8 L1902.7 746.9 L1903.3 747.1 L1903.9 748.6 L1904.5 747.2 L1905.1 747.0 L1905.7 749.3 L1906.3 746.7 L1906.9 748.6 L1907.5 748.7 L1908.1 749.4 L1908.7 748.9 L1909.3 747.4 L1909.9 749.2 L1910.5 747.2 L1911.1 748.6 L1911.7 749.0 L1912.3 747.0 L1912.9 749.2 L1913.5 747.0 L1914.1 748.4 L1914.7 746.9 L1915.3 747.9 L1915.9 747.3 L1916.5 748.4 L1917.1 748.5 L1917.7 748.8 L1918.3 748.0 L1918.9 749.0 L1919.5 747.3 L1920.1 748.7 L1920.7 747.9 L1921.3 747.2 L1921.9 747.9 L1922.5 748.2 L1923.1 747.3 L1923.7 747.3 L1924.3 748.9 L1924.9 749.4 L1925.5 749.6 L1926.1 748.4 L1926.7 747.5 L1927.3 749.2 L1927.9 749.3 L1928.5 748.9 L1929.1 747.3 L1929.7 749.6 L1930.3 747.3 L1930.9 747.3 L1931.5 748.7 L1932.1 749.5 L1932.7 748.0 L1933.3 749.3 L1933.9 748.0 L1934.5 749.3 L1935.1 747.5 L1935.7 749.2 L1936.3 748.3 L1936.9 747.6 L1937.5 748.5 L1938.1 748.7 L1938.7 747.9 L1939.3 747.3 L1939.9 747.9 L1940.5 749.3 L1941.1 748.9 L1941.7 748.5 L1942.3 748.5 L1942.9 747.5 L1943.5 749.0 L1944.1 749.0 L1944.7 749.1 L1945.3 747.5 L1945.9 747.9 L1946.5 747.5 L1947.1 748.0 L1947.7 748.1 L1948.3 749.5 L1948.9 747.7 L1949.5 748.4 L1950.1 747.9 L1950.7 748.7 L1951.3 748.0 L1951.9 747.0 L1952.5 747.4 L1953.1 747.0 L1953.7 747.4 L1954.3 748.7 L1954.9 749.0 L1955.5 747.5 L1956.1 748.3 L1956.7 747.0 L1957.3 748.3 L1957.9 747.3 L1958.5 749.5 L1959.1 749.2 L1959.7 747.2 L1960.3 748.3 L1960.9 747.8 L1961.5 747.4 L1962.1 749.0 L1962.7 747.3 L1963.3 748.5 L1963.9 749.4 L1964.5 746.8 L1965.1 747.3 L1965.7 746.9 L1966.3 748.9 L1966.9 747.3 L1967.5 747.6 L1968.1 749.2 L1968.7 748.7 L1969.3 746.7 L1969.9 749.2 L1970.5 747.0 L1971.1 748.9 L1971.7 748.6 L1972.3 748.3 L1972.9 749.1 L1973.5 747.8 L1974.1 747.7 L1974.7 747.5 L1975.3 748.0 L1975.9 748.7 L1976.5 747.2 L1977.1 746.9 L1977.7 748.5 L1978.3 747.3 L1978.9 748.4 L1979.5 746.2 L1980.1 747.9 L1980.7 747.5 L1981.3 746.3 L1981.9 748.6 L1982.5 747.2 L1983.1 746.7 L1983.7 748.3" fill="none" stroke="#ff0000" stroke-width="9.4" stroke-linejoin="round" stroke-linecap="butt"/>
<path d="M233.8 743.4 L234.4 743.8 L235.0 742.7 L235.6 743.3 L236.2 744.3 L236.8 744.3 L237.4 742.3 L238.0 742.5 L238.6 742.1 L239.2 743.1 L239.8 742.1 L240.4 743.2 L241.0 743.7 L241.6 742.7 L242.2 743.8 L242.8 743.5 L243.4 742.0 L244.0 743.5 L244.6 742.7 L245.2 743.1 L245.8 742.7 L246.4 743.8 L247.0 743.1 L247.6 742.4 L248.2 743.4 L248.8 744.0 L249.4 742.8 L250.0 742.6 L250.6 743.0 L251.2 744.5 L251.8 744.6 L252.4 743.8 L253.0 744.4 L253.6 744.2 L254.2 743.0 L254.8 742.2 L255.4 743.7 L256.0 743.5 L256.6 742.9 L257.2 742.6 L257.8 743.1 L258.4 743.2 L259.0 742.7 L259.6 742.8 L260.2 743.2 L260.8 744.3 L261.4 743.5 L262.0 742.7 L262.6 742.7 L263.2 743.2 L263.8 742.5 L264.4 742.5 L265.0 743.3 L265.6 742.2 L266.2 743.3 L266.8 742.9 L267.4 743.8 L268.0 744.0 L268.6 743.8 L269.2 743.8 L269.8 743.0 L270.4 743.7 L271.0 742.9 L271.6 743.5 L272.2 742.8 L272.8 743.2 L273.4 742.1 L274.0 742.6 L274.6 744.5 L275.2 742.6 L275.8 743.8 L276.4 743.7 L277.0 743.9 L277.6 743.2 L278.2 743.5 L278.8 742.1 L279.4 742.2 L280.0 742.5 L280.6 742.4 L281.2 742.2 L281.8 742.3 L282.4 743.4 L283.0 742.4 L283.6 744.4 L284.2 743.7 L284.8 743.3 L285.4 743.8 L286.0 742.6 L286.6 744.3 L287.2 744.1 L287.8 743.8 L288.4 743.1 L289.0 744.1 L289.6 743.8 L290.2 743.6 L290.8 744.2 L291.4 743.5 L292.0 742.7 L292.6 743.2 L293.2 742.2 L293.8 742.2 L294.4 743.6 L295.0 743.7 L295.6 744.2 L296.2 743.9 L296.8 743.0 L297.4 741.8 L298.0 742.8 L298.6 744.0 L299.2 743.6 L299.8 742.8 L300.4 742.6 L301.0 742.0 L301.6 741.8 L302.2 741.5 L302.8 743.6 L303.4 742.9 L304.0 741.6 L304.6 742.2 L305.2 741.2 L305.8 741.5 L306.4 742.8 L307.0 742.6 L307.6 742.0 L308.2 741.4 L308.7 742.3 L309.3 743.0 L309.9 741.6 L310.5 740.5 L311.1 740.4 L311.7 740.4 L312.3 742.6 L312.9 741.4 L313.5 742.0 L314.1 740.2 L314.7 740.3 L315.3 741.3 L315.8 741.7 L316.4 740.2 L317.0 739.3 L317.6 741.3 L318.2 739.7 L318.8 740.7 L319.4 739.1 L320.0 740.4 L320.5 740.6 L321.1 740.2 L321.7 739.1 L322.3 740.0 L322.9 738.3 L323.5 738.6 L324.1 738.8 L324.7 739.8 L325.2 737.9 L325.8 739.6 L326.4 739.3 L327.0 739.6 L327.6 737.9 L328.2 737.3 L328.8 737.3 L329.3 738.7 L329.9 738.9 L330.5 738.1 L331.1 737.4 L331.7 736.7 L332.3 738.0 L332.8 737.9 L333.4 735.8 L334.0 736.0 L334.6 737.4 L335.2 737.3 L335.8 735.8 L336.3 735.6 L336.9 735.8 L337.5 735.9 L338.1 734.7 L338.7 736.4 L339.2 735.5 L339.8 735.9 L340.4 734.4 L341.0 736.1 L341.6 735.4 L342.1 734.3 L342.7 735.6 L343.3 734.8 L343.9 735.0 L344.5 732.9 L345.0 732.8 L345.6 734.3 L346.2 733.1 L346.8 733.4 L347.4 732.4 L347.9 734.3 L348.5 732.9 L349.1 733.6 L349.7 731.5 L350.3 732.4 L350.8 731.2 L351.4 733.0 L352.0 731.8 L352.6 730.7 L353.1 730.6 L353.7 731.5 L354.3 730.2 L354.9 730.3 L355.4 730.8 L356.0 730.8 L356.6 730.8 L357.2 730.7 L357.7 729.9 L358.3 730.4 L358.9 729.1 L359.5 729.2 L360.0 730.3 L360.6 728.6 L361.2 728.6 L361.8 728.4 L362.3 728.8 L362.9 727.5 L363.5 727.4 L364.1 728.2 L364.6 727.4 L365.2 728.4 L365.8 728.5 L366.3 727.8 L366.9 727.9 L367.5 727.0 L368.1 726.0 L368.6 726.7 L369.2 726.4 L369.8 726.7 L370.3 725.5 L370.9 725.5 L371.5 726.7 L372.1 725.2 L372.6 725.4 L373.2 726.4 L373.8 724.7 L374.3 724.2 L374.9 725.3 L375.5 724.8 L376.0 724.7 L376.6 723.2 L377.2 723.9 L377.7 722.7 L378.3 723.1 L378.9 723.9 L379.4 722.3 L380.0 722.6 L380.6 724.0 L381.1 723.7 L381.7 722.4 L382.3 722.8 L382.8 722.4 L383.4 721.8 L384.0 722.5 L384.5 720.7 L385.1 722.0 L385.7 720.0 L386.2 721.7 L386.8 721.0 L387.3 720.3 L387.9 720.6 L388.5 719.9 L389.0 720.4 L389.6 718.7 L390.2 719.4 L390.7 720.0 L391.3 719.9 L391.8 718.1 L392.4 718.0 L393.0 719.2 L393.5 717.7 L394.1 716.9 L394.6 718.1 L395.2 717.2 L395.7 717.7 L396.3 716.9 L396.9 716.8 L397.4 716.4 L398.0 715.9 L398.5 717.0 L399.1 716.2 L399.6 716.3 L400.2 716.3 L400.8 714.6 L401.3 715.8 L401.9 715.5 L402.4 714.5 L403.0 714.4 L403.5 713.2 L404.1 714.3 L404.6 712.9 L405.2 713.4 L405.7 712.3 L406.3 711.9 L406.8 712.8 L407.4 712.3 L407.9 712.4 L408.5 712.4 L409.0 712.6 L409.6 710.5 L410.1 711.4 L410.6 711.0 L411.2 710.9 L411.7 710.4 L412.3 710.2 L412.8 710.6 L413.4 709.4 L413.9 709.4 L414.4 709.4 L415.0 707.9 L415.5 708.4 L416.1 707.4 L416.6 707.2 L417.1 706.7 L417.7 706.9 L418.2 706.6 L418.7 706.9 L419.3 706.8 L419.8 707.0 L420.3 706.1 L420.9 706.6 L421.4 705.3 L421.9 705.7 L422.5 705.1 L423.0 704.9 L423.5 704.0 L424.1 705.0 L424.6 704.4 L425.1 702.9 L425.7 703.4 L426.2 704.0 L426.7 701.9 L427.2 702.1 L427.8 702.6 L428.3 701.0 L428.8 702.1 L429.4 701.5 L429.9 701.5 L430.4 700.8 L430.9 701.3 L431.5 699.9 L432.0 700.0 L432.5 698.8 L433.0 699.4 L433.6 698.9 L434.1 699.6 L434.6 699.2 L435.1 697.5 L435.7 697.0 L436.2 696.8 L436.7 696.7 L437.2 697.3 L437.7 696.7 L438.3 696.4 L438.8 696.0 L439.3 694.9 L439.8 695.3 L440.3 696.0 L440.9 695.4 L441.4 694.7 L441.9 693.7 L442.4 694.7 L442.9 693.5 L443.5 693.6 L444.0 692.5 L444.5 692.4 L445.0 692.2 L445.5 692.0 L446.1 691.0 L446.6 691.8 L447.1 690.7 L447.6 691.1 L448.1 690.8 L448.6 690.6 L449.2 689.7 L449.7 689.4 L450.2 689.8 L450.7 688.9 L451.2 688.2 L451.7 689.1 L452.2 687.4 L452.8 688.5 L453.3 687.2 L453.8 687.0 L454.3 687.7 L454.8 686.5 L455.3 686.6 L455.8 685.8 L456.3 686.3 L456.8 685.7 L457.4 685.0 L457.9 684.1 L458.4 684.2 L458.9 684.1 L459.4 683.4 L459.9 683.5 L460.4 682.7 L460.9 682.8 L461.4 682.5 L461.9 682.4 L462.4 682.2 L462.9 681.8 L463.4 681.1 L464.0 680.8 L464.5 681.1 L465.0 680.0 L465.5 680.2 L466.0 680.3 L466.5 679.8 L467.0 679.0 L467.5 678.3 L468.0 678.4 L468.5 678.2 L469.0 677.6 L469.5 677.0 L470.0 676.9 L470.5 676.0 L471.0 676.0 L471.5 675.4 L472.0 675.8 L472.5 675.9 L473.0 674.4 L473.5 673.9 L474.0 674.6 L474.5 673.7 L475.0 673.6 L475.5 672.6 L475.9 672.5 L476.4 672.8 L476.9 672.3 L477.4 672.3 L477.9 672.1 L478.4 671.0 L478.9 671.0 L479.4 670.4 L479.9 670.2 L480.4 669.7 L480.9 670.1 L481.4 669.3 L481.9 668.3 L482.3 668.7 L482.8 668.7 L483.3 668.2 L483.8 667.5 L484.3 666.4 L484.8 667.1 L485.3 666.9 L485.8 666.3 L486.2 665.5 L486.7 665.1 L487.2 665.2 L487.7 664.1 L488.2 664.6 L488.7 663.9 L489.2 663.0 L489.6 663.5 L490.1 662.7 L490.6 662.0 L491.1 661.7 L491.6 662.1 L492.0 661.0 L492.5 661.3 L493.0 661.0 L493.5 659.8 L494.0 659.8 L494.4 659.9 L494.9 659.2 L495.4 659.2 L495.9 658.3 L496.3 658.2 L496.8 657.4 L497.3 657.7 L497.7 657.4 L498.2 656.7 L498.7 656.0 L499.1 655.7 L499.6 655.6 L500.1 654.6 L500.5 654.7 L501.0 654.1 L501.5 653.8 L501.9 653.4 L502.4 653.6 L502.9 652.4 L503.3 652.1 L503.8 651.6 L504.3 651.1 L504.7 651.2 L505.2 651.3 L505.6 651.0 L506.1 650.1 L506.6 649.6 L507.0 649.8 L507.5 649.0 L507.9 648.6 L508.4 648.4 L508.8 647.3 L509.3 647.8 L509.8 646.5 L510.2 646.7 L510.7 646.7 L511.1 645.9 L511.6 645.2 L512.0 645.3 L512.5 645.1 L512.9 644.4 L513.4 643.3 L513.8 643.9 L514.3 642.5 L514.7 642.9 L515.2 642.8 L515.7 641.5 L516.1 641.5 L516.6 641.4 L517.0 640.3 L517.5 640.0 L517.9 639.4 L518.4 639.1 L518.8 638.7 L519.3 638.5 L519.7 638.7 L520.2 638.2 L520.6 637.9 L521.1 637.4 L521.5 637.1 L522.0 635.9 L522.4 636.0 L522.9 635.0 L523.3 635.2 L523.8 635.2 L524.2 634.3 L524.7 633.7 L525.1 633.3 L525.6 633.1 L526.0 633.3 L526.5 633.0 L526.9 632.3 L527.4 632.2 L527.8 631.5 L528.3 630.5 L528.7 630.3 L529.2 630.3 L529.6 629.9 L530.0 629.4 L530.5 628.8 L530.9 627.9 L531.4 628.6 L531.8 627.2 L532.3 627.8 L532.7 626.3 L533.1 627.0 L533.6 625.8 L534.0 625.9 L534.4 624.5 L534.9 624.6 L535.3 623.9 L535.7 624.1 L536.2 623.6 L536.6 623.0 L537.0 622.9 L537.4 622.8 L537.9 621.2 L538.3 621.4 L538.7 621.1 L539.1 620.6 L539.5 619.7 L539.9 620.1 L540.4 618.8 L540.8 619.2 L541.2 618.2 L541.6 617.3 L542.0 617.8 L542.4 616.4 L542.8 616.9 L543.2 616.2 L543.6 616.1 L544.0 615.6 L544.4 614.6 L544.8 613.7 L545.2 613.5 L545.5 612.6 L545.9 613.1 L546.3 611.8 L546.7 611.5 L547.1 611.1 L547.5 610.9 L547.8 610.8 L548.2 610.0 L548.6 609.6 L548.9 608.6 L549.3 608.4 L549.7 607.8 L550.0 608.0 L550.4 606.5 L550.7 606.9 L551.1 606.5 L551.4 605.8 L551.8 604.6 L552.1 604.4 L552.4 603.9 L552.7 603.4 L553.1 602.9 L553.4 603.4 L553.7 602.6 L554.0 602.3 L554.3 601.5 L554.6 600.4 L554.9 600.8 L555.2 599.6 L555.5 598.7 L555.8 598.9 L556.1 597.7 L556.4 598.0 L556.7 597.4 L557.0 596.2 L557.3 595.9 L557.6 595.8 L557.9 595.2 L558.3 594.5 L558.6 593.5 L558.9 593.2 L559.2 593.2 L559.5 592.3 L559.8 592.2 L560.1 591.6 L560.4 590.6 L560.7 589.7 L561.0 590.1 L561.3 589.1 L561.6 588.9 L561.9 587.7 L562.2 587.2 L562.5 587.1 L562.8 587.0 L563.1 585.6 L563.4 586.1 L563.7 585.6 L564.0 584.8 L564.2 584.4 L564.5 583.1 L564.8 582.4 L565.0 582.2 L565.3 581.3 L565.5 581.2 L565.7 581.2 L566.0 579.9 L566.2 580.2 L566.4 579.0 L566.6 578.0 L566.8 578.2 L567.1 577.3 L567.3 576.6 L567.5 576.3 L567.6 576.5 L567.8 575.5 L568.0 574.3 L568.2 574.7 L568.4 573.0 L568.6 572.7 L568.8 572.1 L568.9 572.5 L569.1 570.4 L569.3 570.8 L569.5 570.0 L569.6 568.9 L569.8 569.1 L570.0 568.8 L570.1 568.1 L570.3 566.5 L570.5 567.0 L570.6 565.7 L570.8 566.0 L571.0 564.9 L571.1 563.6 L571.3 564.1 L571.4 563.2 L571.6 562.4 L571.8 562.2 L571.9 561.3 L572.1 560.0 L572.3 560.9 L572.4 559.3 L572.6 558.7 L572.8 557.7 L572.9 558.2 L573.1 558.0 L573.3 556.7 L573.4 556.7 L573.6 555.3 L573.8 554.8 L573.9 554.1 L574.1 553.5 L574.3 553.4 L574.4 552.4 L574.6 551.4 L574.8 551.9 L575.0 550.7 L575.2 550.2 L575.3 549.3 L575.5 548.5 L575.7 549.0 L575.9 548.0 L576.1 548.3 L576.3 546.2 L576.5 547.0 L576.7 545.1 L576.9 544.8 L577.1 543.9 L577.3 544.2 L577.5 543.4 L577.7 542.7 L577.9 543.3 L578.1 542.1 L578.3 542.1 L578.5 541.4 L578.7 540.0 L578.9 539.9 L579.1 538.6 L579.3 538.3 L579.5 538.3 L579.7 537.5 L579.9 536.1 L580.1 535.6 L580.3 536.2 L580.5 535.5 L580.7 534.8 L580.9 533.5 L581.1 533.9 L581.2 533.0 L581.4 531.7 L581.6 531.1 L581.8 531.3 L581.9 531.4 L582.1 530.1 L582.3 529.0 L582.4 529.2 L582.6 527.7 L582.8 527.9 L582.9 526.9 L583.1 525.7 L583.2 526.0 L583.4 525.4 L583.6 525.5 L583.7 524.6 L583.9 523.3 L584.0 523.3 L584.2 522.0 L584.3 522.1 L584.5 521.5 L584.6 520.9 L584.8 519.5 L584.9 519.9 L585.1 519.0 L585.3 518.8 L585.4 517.0 L585.6 517.7 L585.7 517.5 L585.9 516.2 L586.0 514.9 L586.2 515.7 L586.3 514.4 L586.5 513.4 L586.6 513.4 L586.8 513.2 L586.9 511.3 L587.1 511.5 L587.2 511.1 L587.4 511.0 L587.5 508.9 L587.7 509.1 L587.8 509.0 L588.0 508.2 L588.1 508.0 L588.3 507.1 L588.5 506.4 L588.6 505.8 L588.8 504.4 L588.9 505.1 L589.1 503.9 L589.2 502.4 L589.4 503.3 L589.5 502.5 L589.7 501.9 L589.8 500.2 L590.0 500.8 L590.1 499.5 L590.3 499.8 L590.4 498.0 L590.6 497.8 L590.7 496.8 L590.9 496.0 L591.0 496.0 L591.2 496.1 L591.3 495.0 L591.5 494.2 L591.6 494.8 L591.8 493.9 L591.9 493.7 L592.1 491.9 L592.2 491.1 L592.4 492.0 L592.5 489.7 L592.7 490.5 L592.8 490.2 L593.0 489.2 L593.1 488.4 L593.3 487.4 L593.4 486.7 L593.6 485.6 L593.7 485.7 L593.9 485.3 L594.1 484.2 L594.2 485.0 L594.4 484.5 L594.5 482.6 L594.7 482.6 L594.8 482.6 L595.0 481.4 L595.1 480.4 L595.3 480.8 L595.4 479.6 L595.6 479.2 L595.7 478.8 L595.9 477.4 L596.1 477.5 L596.2 476.2 L596.4 476.3 L596.5 475.0 L596.7 475.4 L596.8 474.0 L597.0 474.6 L597.1 472.5 L597.3 473.0 L597.4 472.7 L597.6 472.1 L597.8 470.9 L597.9 470.3 L598.1 469.2 L598.2 469.8 L598.4 469.0 L598.5 467.9 L598.7 467.3 L598.9 467.6 L599.0 466.3 L599.2 464.8 L599.3 464.2 L599.5 465.0 L599.6 463.9 L599.8 463.4 L600.0 462.6 L600.1 461.2 L600.3 462.2 L600.4 460.7 L600.6 460.3 L600.7 459.7 L600.9 458.5 L601.1 459.6 L601.2 459.0 L601.4 456.5 L601.5 456.0 L601.7 456.1 L601.8 456.7 L602.0 455.1 L602.1 455.5 L602.3 453.7 L602.5 453.4 L602.6 453.5 L602.8 452.6 L602.9 451.3 L603.1 451.0 L603.2 450.8 L603.4 449.8 L603.6 448.8 L603.7 448.2 L603.9 448.7 L604.0 447.0 L604.2 446.4 L604.3 446.0 L604.5 446.9 L604.6 446.3 L604.8 444.7 L604.9 443.6 L605.1 443.5 L605.3 443.8 L605.4 442.6 L605.6 442.7 L605.7 442.1 L605.9 441.3 L606.0 440.9 L606.2 439.6 L606.3 438.3 L606.5 439.0 L606.6 438.8 L606.8 437.5 L606.9 436.1 L607.1 436.9 L607.2 436.4 L607.4 435.8 L607.5 434.6 L607.7 434.6 L607.9 432.6 L608.0 432.7 L608.2 433.0 L608.3 432.4 L608.5 431.5 L608.6 430.4 L608.8 429.9 L608.9 428.8 L609.0 427.9 L609.2 428.8 L609.3 427.5 L609.5 426.4 L609.6 425.8 L609.8 424.9 L609.9 424.3 L610.1 424.8 L610.2 423.4 L610.4 422.9 L610.5 423.4 L610.7 421.2 L610.8 422.5 L611.0 420.7 L611.1 421.1 L611.3 420.5 L611.4 419.6 L611.5 417.6 L611.7 418.4 L611.8 417.3 L612.0 416.4 L612.1 416.3 L612.3 416.1 L612.4 414.9 L612.6 414.3 L612.7 413.3 L612.8 412.6 L613.0 413.0 L613.1 413.2 L613.3 410.7 L613.4 411.4 L613.6 410.7 L613.7 410.4 L613.8 408.9 L614.0 408.2 L614.1 407.6 L614.3 408.3 L614.4 407.7 L614.6 407.1 L614.7 405.3 L614.8 404.9 L615.0 404.2 L615.1 404.5 L615.3 402.9 L615.4 403.4 L615.6 402.9 L615.7 401.8 L615.8 400.4 L616.0 400.0 L616.1 400.1 L616.3 399.9 L616.4 398.1 L616.5 398.5 L616.7 398.5 L616.8 397.6 L617.0 397.3 L617.1 396.9 L617.3 394.8 L617.4 394.0 L617.5 395.0 L617.7 393.3 L617.8 392.1 L618.0 392.7 L618.1 391.7 L618.3 390.5 L618.4 391.6 L618.5 390.0 L618.7 390.6 L618.8 388.4 L619.0 387.3 L619.1 388.6 L619.2 386.7 L619.4 387.5 L619.5 385.9 L619.7 385.8 L619.8 383.9 L620.0 383.7 L620.1 384.0 L620.2 384.1 L620.4 383.2 L620.5 382.8 L620.7 381.9 L620.8 381.8 L621.0 379.5 L621.1 378.7 L621.3 378.4 L621.4 378.6 L621.5 377.5 L621.7 376.1 L621.8 375.8 L622.0 375.6 L622.1 375.1 L622.3 374.5 L622.4 374.5 L622.5 374.1 L622.7 374.0 L622.8 372.3 L623.0 373.0 L623.1 371.1 L623.2 370.6 L623.4 370.0 L623.5 370.3 L623.7 369.6 L623.8 368.3 L624.0 367.5 L624.1 366.3 L624.2 366.2 L624.4 365.1 L624.5 365.2 L624.7 364.2 L624.8 364.7 L624.9 364.4 L625.1 363.2 L625.2 362.6 L625.4 361.7 L625.5 362.6 L625.6 362.1 L625.8 360.7 L625.9 360.6 L626.1 358.9 L626.2 358.8 L626.4 357.7 L626.5 358.5 L626.6 357.1 L626.8 357.2 L626.9 355.9 L627.1 354.1 L627.2 354.0 L627.4 354.1 L627.5 354.3 L627.6 353.1 L627.8 351.8 L627.9 352.0 L628.1 351.3 L628.2 351.6 L628.4 350.1 L628.5 348.0 L628.6 349.8 L628.8 347.2 L628.9 347.2 L629.1 348.0 L629.2 346.8 L629.4 346.2 L629.5 345.0 L629.7 344.3 L629.8 343.5 L629.9 344.1 L630.1 342.5 L630.2 341.3 L630.4 340.9 L630.5 340.2 L630.7 341.5 L630.8 339.4 L631.0 338.7 L631.1 339.2 L631.3 337.7 L631.4 338.4 L631.6 337.5 L631.7 336.7 L631.9 335.8 L632.0 335.0 L632.2 334.6 L632.3 334.6 L632.5 332.4 L632.6 332.3 L632.8 332.9 L633.0 332.3 L633.1 331.4 L633.3 330.1 L633.4 329.4 L633.6 329.6 L633.7 328.3 L633.9 328.9 L634.1 328.4 L634.2 327.7 L634.4 326.9 L634.5 327.0 L634.7 325.6 L634.9 324.3 L635.0 323.6 L635.2 322.7 L635.4 323.4 L635.6 323.2 L635.7 322.3 L635.9 320.5 L636.1 321.4 L636.3 320.9 L636.4 319.4 L636.6 319.2 L636.8 317.5 L637.0 318.2 L637.2 316.2 L637.4 316.5 L637.6 317.1 L637.7 316.0 L637.9 314.8 L638.1 315.6 L638.3 314.3 L638.5 314.5 L638.7 312.8 L638.9 312.7 L639.1 312.1 L639.3 310.0 L639.5 309.7 L639.7 309.1 L639.9 308.7 L640.1 310.2 L640.4 308.8 L640.6 308.4 L640.8 308.3 L641.0 305.9 L641.2 306.8 L641.4 305.6 L641.6 304.7 L641.9 305.1 L642.1 304.7 L642.3 303.6 L642.5 303.2 L642.7 303.1 L643.0 301.3 L643.2 302.0 L643.4 300.5 L643.6 301.1 L643.9 300.0 L644.1 299.2 L644.3 299.6 L644.5 297.8 L644.8 296.4 L645.0 296.7 L645.2 295.7 L645.4 296.8 L645.7 294.1 L645.9 294.7 L646.1 294.0 L646.3 292.3 L646.5 293.3 L646.8 292.4 L647.0 291.5 L647.2 292.3 L647.4 289.5 L647.7 290.3 L647.9 288.8 L648.1 288.8 L648.3 287.9 L648.5 288.2 L648.7 288.2 L649.0 285.5 L649.2 286.0 L649.4 286.1 L649.6 284.4 L649.8 283.9 L650.0 285.0 L650.2 282.2 L650.4 282.9 L650.6 282.6 L650.8 282.0 L651.0 279.8 L651.2 281.6 L651.4 278.6 L651.6 278.0 L651.8 278.9 L652.0 277.0 L652.2 277.1 L652.4 277.8 L652.6 276.6 L652.8 276.1 L653.0 276.4 L653.2 273.7 L653.4 275.5 L653.6 274.0 L653.8 273.5 L654.0 271.2 L654.2 272.9 L654.4 271.0 L654.6 270.5 L654.8 270.6 L655.0 269.3 L655.2 270.3 L655.3 269.6 L655.5 267.6 L655.7 266.6 L655.9 266.5 L656.1 267.6 L656.3 265.1 L656.5 265.1 L656.7 263.7 L656.9 263.9 L657.1 264.6 L657.3 262.5 L657.5 260.9 L657.7 262.0 L657.9 261.9 L658.0 260.1 L658.2 258.9 L658.4 259.0 L658.6 259.6 L658.8 258.2 L659.0 256.4 L659.2 257.7 L659.4 255.9 L659.6 256.1 L659.8 255.2 L660.0 254.0 L660.2 254.0 L660.4 253.1 L660.6 253.3 L660.8 251.6 L661.0 253.4 L661.2 252.4 L661.4 251.6 L661.6 249.7 L661.8 251.1 L662.1 250.5 L662.3 247.6 L662.5 247.4 L662.7 246.5 L662.9 246.4 L663.1 247.2 L663.3 247.2 L663.5 245.4 L663.8 244.5 L664.0 244.9 L664.2 244.6 L664.4 243.1 L664.6 242.5 L664.9 241.7 L665.1 241.2 L665.3 240.7 L665.5 239.2 L665.8 241.0 L666.0 239.2 L666.2 239.2 L666.5 237.9 L666.7 238.3 L666.9 236.2 L667.2 237.4 L667.4 237.2 L667.6 234.3 L667.9 234.6 L668.1 232.9 L668.4 234.4 L668.6 233.2 L668.8 231.2 L669.1 233.2 L669.3 232.7 L669.6 230.3 L669.8 231.1 L670.1 228.6 L670.3 229.7 L670.6 228.2 L670.8 226.8 L671.0 227.1 L671.3 227.2 L671.5 225.2 L671.8 227.1 L672.0 225.2 L672.3 224.9 L672.5 225.7 L672.8 225.0 L673.0 223.9 L673.3 223.4 L673.5 223.1 L673.7 222.0 L674.0 221.4 L674.2 221.6 L674.5 218.9 L674.7 220.8 L675.0 218.1 L675.2 217.5 L675.4 218.1 L675.7 217.4 L675.9 216.8 L676.2 217.2 L676.4 214.1 L676.6 214.0 L676.9 213.6 L677.1 214.1 L677.4 213.0 L677.6 213.2 L677.8 212.0 L678.1 210.3 L678.3 212.0 L678.6 210.6 L678.8 209.7 L679.0 208.9 L679.3 210.0 L679.5 208.8 L679.8 206.7 L680.0 207.0 L680.2 208.2 L680.5 205.5 L680.7 204.5 L681.0 203.8 L681.2 203.3 L681.4 202.7 L681.7 203.4 L681.9 204.1 L682.2 203.7 L682.4 203.0 L682.7 200.9 L682.9 201.3 L683.2 198.9 L683.4 200.4 L683.6 198.4 L683.9 199.0 L684.1 197.4 L684.4 197.4 L684.7 196.8 L684.9 196.7 L685.2 195.3 L685.4 194.3 L685.7 194.9 L685.9 195.0 L686.2 193.3 L686.5 194.5 L686.7 192.4 L687.0 191.7 L687.3 191.2 L687.5 192.3 L687.8 189.8 L688.1 190.3 L688.3 189.5 L688.6 190.3 L688.9 186.9 L689.2 189.2 L689.5 186.8 L689.8 187.6 L690.1 185.3 L690.3 186.3 L690.7 184.6 L691.0 183.7 L691.3 183.2 L691.6 182.6 L691.9 184.3 L692.2 182.5 L692.6 181.5 L692.9 182.6 L693.3 181.2 L693.6 181.2 L694.0 179.5 L694.3 178.8 L694.7 178.1 L695.1 178.2 L695.4 178.0 L695.8 178.2 L696.2 177.0 L696.6 176.5 L697.0 175.5 L697.4 175.7 L697.8 175.7 L698.2 174.0 L698.6 175.4 L699.0 175.5 L699.4 173.9 L699.8 172.7 L700.2 174.3 L700.6 171.2 L700.9 171.0 L701.3 172.3 L701.7 171.9 L702.1 170.1 L702.5 168.8 L702.8 170.0 L703.2 168.6 L703.5 169.7 L703.9 166.8 L704.2 167.7 L704.6 166.1 L704.9 168.0 L705.3 167.6 L705.6 165.9 L705.9 165.8 L706.2 165.8 L706.6 165.4 L706.9 162.5 L707.2 162.6 L707.5 163.5 L707.9 161.4 L708.2 161.4 L708.5 162.6 L708.9 160.5 L709.2 160.4 L709.5 158.8 L709.8 158.0 L710.2 159.9 L710.5 159.0 L710.9 156.5 L711.2 158.5 L711.6 157.9 L711.9 155.6 L712.3 156.9 L712.6 154.1 L713.0 154.0 L713.4 155.5 L713.8 153.9 L714.1 153.1 L714.5 152.3 L714.9 151.5 L715.3 151.0 L715.7 151.4 L716.1 151.1 L716.5 149.3 L716.9 150.9 L717.3 148.4 L717.7 148.1 L718.1 150.0 L718.5 148.0 L718.9 146.7 L719.3 147.1 L719.7 146.0 L720.1 145.4 L720.5 147.7 L720.9 144.4 L721.3 146.0 L721.7 144.7 L722.1 143.5 L722.5 145.1 L722.9 143.6 L723.3 141.6 L723.7 142.2 L724.1 142.5 L724.5 141.5 L724.9 140.6 L725.3 140.3 L725.7 139.7 L726.1 139.8 L726.5 141.0 L726.9 140.4 L727.3 138.7 L727.7 139.4 L728.1 136.6 L728.5 137.7 L729.0 137.8 L729.4 135.6 L729.8 136.2 L730.2 135.6 L730.7 133.9 L731.1 136.3 L731.6 134.0 L732.1 134.2 L732.5 132.1 L733.0 133.4 L733.5 132.8 L734.1 133.9 L734.6 131.0 L735.1 133.4 L735.7 130.9 L736.3 132.8 L736.8 132.3 L737.4 131.6 L737.9 130.6 L738.5 130.8 L739.1 131.2 L739.6 130.1 L740.2 128.9 L740.8 130.7 L741.3 130.5 L741.9 128.9 L742.4 128.5 L743.0 130.4 L743.5 128.4 L744.1 127.2 L744.6 129.5 L745.1 127.3 L745.7 127.5 L746.2 127.8 L746.8 127.3 L747.3 126.2 L747.9 126.0 L748.4 126.6 L749.0 125.2 L749.5 127.4 L750.1 125.1 L750.6 124.5 L751.2 124.4 L751.7 124.2 L752.3 126.3 L752.8 124.5 L753.4 125.3 L753.9 125.3 L754.5 122.8 L755.1 124.2 L755.6 124.7 L756.2 122.6 L756.8 124.6 L757.3 123.2 L757.9 122.9 L758.5 124.2 L759.0 121.4 L759.6 123.6 L760.2 121.3 L760.7 122.1 L761.3 120.3 L761.9 121.0 L762.4 120.5 L763.0 122.0 L763.6 122.5 L764.1 119.6 L764.7 119.1 L765.3 120.9 L765.9 121.7 L766.4 121.5 L767.0 121.0 L767.6 120.4 L768.2 119.7 L768.7 117.7 L769.3 120.5 L769.9 119.1 L770.4 118.6 L771.0 116.9 L771.5 117.2 L772.0 117.4 L772.5 119.1 L773.0 117.7 L773.5 117.5 L773.9 116.0 L774.3 116.7 L774.7 114.6 L775.1 114.3 L775.4 114.7 L775.8 113.0 L776.2 114.9 L776.5 112.3 L776.9 112.6 L777.3 113.6 L777.7 111.3 L778.1 111.5 L778.5 111.5 L778.9 110.2 L779.3 109.2 L779.7 109.6 L780.2 110.1 L780.6 108.4 L781.0 108.9 L781.5 107.1 L781.9 107.2 L782.4 108.6 L782.9 105.4 L783.4 107.9 L783.9 104.8 L784.5 107.0 L785.0 105.3 L785.6 106.2 L786.2 104.5 L786.8 104.1 L787.3 103.7 L787.9 103.3 L788.5 104.3 L789.1 103.1 L789.7 103.8 L790.3 105.6 L790.8 104.9 L791.4 103.8 L792.0 102.4 L792.6 102.4 L793.2 105.4 L793.8 103.4 L794.4 103.8 L795.0 104.2 L795.5 103.6 L796.1 104.0 L796.7 103.2 L797.3 102.9 L797.9 102.7 L798.5 104.0 L799.1 104.3 L799.7 102.3 L800.3 101.7 L800.9 104.1 L801.5 102.1 L802.0 103.8 L802.6 102.4 L803.1 103.9 L803.6 103.3 L804.1 102.8 L804.5 103.1 L805.0 104.4 L805.4 105.4 L805.9 105.7 L806.3 106.1 L806.7 106.7 L807.1 106.0 L807.6 108.1 L808.0 108.9 L808.4 108.2 L808.8 108.8 L809.2 108.1 L809.7 108.2 L810.1 109.3 L810.5 110.3 L811.0 109.7 L811.4 110.9 L811.8 111.7 L812.2 112.4 L812.7 113.4 L813.1 113.2 L813.5 112.4 L814.0 113.3 L814.4 114.1 L814.8 114.9 L815.2 114.9 L815.7 115.3 L816.1 117.4 L816.5 117.0 L816.9 118.3 L817.3 116.3 L817.7 118.4 L818.1 118.2 L818.5 118.1 L818.9 117.7 L819.3 120.9 L819.6 118.5 L820.0 121.6 L820.4 120.6 L820.7 122.7 L821.1 120.5 L821.5 121.0 L821.8 122.6 L822.2 123.8 L822.6 124.4 L822.9 123.7 L823.3 125.3 L823.6 125.1 L824.0 124.8 L824.3 125.1 L824.6 126.0 L825.0 128.6 L825.3 127.1 L825.6 128.5 L826.0 127.7 L826.3 130.9 L826.6 131.1 L826.9 129.3 L827.3 130.0 L827.6 132.6 L827.9 131.2 L828.2 131.1 L828.5 133.2 L828.8 132.3 L829.1 132.6 L829.4 134.9 L829.7 136.5 L830.0 134.5 L830.3 137.2 L830.6 137.0 L830.9 138.3 L831.1 137.1 L831.4 137.7 L831.7 138.9 L832.0 138.3 L832.3 139.1 L832.6 139.1 L832.9 141.9 L833.2 141.2 L833.4 140.7 L833.7 143.7 L834.0 142.0 L834.3 142.0 L834.7 143.9 L835.0 144.9 L835.3 145.1 L835.6 146.0 L835.9 145.7 L836.2 147.5 L836.5 147.3 L836.8 146.6 L837.2 149.2 L837.5 147.2 L837.8 148.6 L838.1 149.9 L838.4 151.5 L838.8 150.1 L839.1 150.1 L839.4 152.1 L839.7 153.1 L840.0 152.0 L840.4 153.1 L840.7 154.3 L841.0 154.3 L841.3 155.8 L841.6 154.2 L841.9 156.7 L842.2 154.9 L842.5 156.2 L842.8 158.3 L843.1 157.8 L843.4 159.6 L843.7 159.1 L844.0 160.2 L844.3 159.0 L844.6 160.3 L844.9 160.8 L845.2 160.7 L845.5 161.8 L845.8 162.9 L846.1 164.2 L846.5 163.5 L846.8 162.7 L847.1 164.1 L847.4 164.3 L847.8 164.7 L848.1 165.7 L848.5 165.8 L848.8 167.8 L849.2 167.2 L849.5 169.0 L849.9 167.7 L850.3 170.3 L850.7 168.1 L851.0 170.1 L851.4 169.0 L851.8 169.8 L852.2 172.1 L852.5 171.8 L852.9 171.7 L853.2 171.2 L853.6 174.2 L853.9 174.0 L854.3 172.6 L854.6 174.1 L854.9 175.0 L855.3 174.1 L855.6 174.8 L855.9 177.0 L856.3 178.2 L856.6 177.1 L856.9 176.6 L857.3 178.5 L857.6 179.9 L857.9 180.4 L858.3 180.9 L858.6 181.4 L858.9 181.7 L859.3 180.2 L859.6 182.5 L860.0 183.9 L860.3 183.0 L860.7 182.8 L861.0 185.1 L861.4 185.2 L861.8 185.1 L862.1 183.9 L862.5 185.6 L862.9 186.0 L863.3 187.5 L863.6 188.6 L864.0 187.7 L864.4 188.0 L864.7 188.9 L865.1 189.4 L865.4 190.1 L865.8 189.3 L866.1 190.4 L866.5 192.1 L866.8 191.8 L867.2 191.8 L867.5 191.6 L867.9 192.1 L868.2 192.3 L868.5 195.3 L868.9 194.8 L869.2 195.7 L869.5 196.2 L869.9 196.4 L870.2 195.4 L870.5 196.9 L870.8 197.0 L871.2 196.6 L871.5 198.6 L871.8 200.4 L872.2 201.0 L872.5 199.0 L872.8 201.4 L873.1 199.7 L873.5 200.6 L873.8 201.1 L874.1 202.0 L874.4 201.7 L874.7 202.8 L875.1 202.9 L875.4 205.2 L875.7 206.2 L876.0 205.8 L876.3 204.9 L876.7 205.9 L877.0 206.0 L877.3 209.1 L877.6 208.2 L877.9 207.8 L878.2 209.4 L878.5 209.0 L878.8 210.6 L879.1 210.7 L879.5 211.6 L879.8 212.7 L880.1 212.3 L880.4 211.9 L880.7 213.2 L881.0 214.1 L881.3 213.5 L881.6 215.9 L881.9 216.0 L882.2 214.9 L882.5 217.3 L882.8 217.8 L883.0 217.8 L883.3 218.1 L883.6 218.6 L883.9 218.0 L884.1 218.4 L884.4 221.1 L884.7 220.5 L884.9 221.5 L885.2 222.3 L885.4 223.5 L885.7 223.4 L885.9 223.3 L886.1 224.1 L886.4 223.8 L886.6 226.2 L886.9 226.0 L887.1 225.0 L887.3 227.5 L887.5 228.8 L887.8 229.1 L888.0 229.0 L888.2 229.4 L888.4 231.0 L888.6 231.0 L888.9 230.3 L889.1 232.3 L889.3 233.1 L889.5 232.2 L889.7 232.6 L889.9 233.6 L890.1 233.1 L890.3 235.6 L890.5 234.4 L890.7 236.5 L890.9 235.9 L891.1 236.3 L891.3 238.4 L891.5 239.4 L891.7 238.2 L891.9 240.4 L892.1 238.9 L892.3 240.0 L892.5 240.5 L892.6 241.8 L892.8 241.6 L893.0 241.9 L893.2 243.6 L893.4 243.7 L893.5 244.9 L893.7 245.0 L893.9 245.2 L894.1 246.0 L894.2 247.5 L894.4 247.8 L894.6 247.3 L894.7 248.3 L894.9 247.6 L895.0 250.6 L895.2 251.4 L895.3 251.4 L895.5 252.3 L895.6 250.9 L895.8 252.0 L895.9 252.0 L896.1 252.3 L896.2 253.8 L896.4 254.9 L896.5 256.2 L896.7 256.9 L896.8 255.8 L897.0 258.1 L897.1 258.8 L897.2 258.6 L897.4 259.6 L897.5 260.7 L897.6 260.0 L897.8 259.5 L897.9 260.3 L898.1 262.0 L898.2 262.8 L898.3 262.6 L898.5 263.0 L898.6 264.8 L898.7 265.2 L898.9 266.2 L899.0 266.2 L899.1 266.9 L899.3 267.0 L899.4 267.3 L899.5 268.5 L899.7 269.0 L899.8 268.6 L899.9 269.5 L900.1 269.4 L900.2 271.6 L900.3 270.7 L900.5 272.3 L900.6 274.2 L900.8 274.5 L900.9 274.7 L901.0 275.5 L901.2 275.7 L901.3 277.0 L901.4 275.5 L901.6 277.3 L901.7 277.3 L901.9 277.8 L902.0 279.9 L902.2 280.1 L902.3 279.3 L902.4 280.6 L902.6 281.5 L902.7 281.8 L902.9 281.8 L903.0 281.6 L903.2 283.9 L903.3 284.5 L903.5 284.2 L903.7 283.9 L903.8 284.5 L904.0 286.8 L904.1 287.4 L904.3 288.4 L904.5 287.6 L904.6 288.8 L904.8 289.6 L905.0 290.3 L905.1 291.5 L905.3 290.5 L905.5 291.7 L905.7 293.0 L905.8 293.6 L906.0 292.3 L906.2 293.0 L906.3 293.9 L906.5 294.2 L906.7 294.7 L906.9 297.1 L907.0 296.9 L907.2 297.9 L907.4 297.9 L907.6 297.1 L907.8 298.7 L907.9 298.7 L908.1 299.4 L908.3 301.4 L908.5 301.0 L908.7 302.0 L908.9 301.7 L909.0 301.6 L909.2 302.7 L909.4 303.0 L909.6 305.7 L909.8 306.2 L910.0 305.7 L910.2 307.2 L910.4 306.3 L910.6 308.3 L910.8 307.4 L911.0 308.7 L911.2 308.7 L911.4 309.2 L911.6 310.5 L911.8 310.2 L912.0 311.9 L912.2 313.2 L912.4 313.5 L912.6 312.1 L912.8 312.4 L913.1 314.2 L913.3 315.7 L913.5 315.8 L913.7 316.8 L914.0 316.8 L914.2 316.7 L914.4 317.1 L914.6 318.6 L914.9 319.3 L915.1 320.0 L915.3 319.0 L915.6 319.8 L915.8 319.6 L916.0 320.7 L916.3 321.8 L916.5 323.3 L916.8 324.1 L917.0 324.4 L917.2 324.5 L917.5 324.9 L917.7 324.4 L918.0 326.4 L918.2 325.9 L918.4 327.3 L918.7 327.5 L918.9 328.0 L919.2 329.1 L919.4 328.2 L919.7 329.6 L919.9 329.2 L920.2 330.5 L920.4 331.3 L920.7 332.6 L920.9 331.7 L921.2 333.3 L921.5 334.3 L921.7 333.2 L922.0 333.4 L922.2 335.5 L922.5 334.7 L922.8 335.2 L923.1 336.1 L923.3 337.5 L923.6 337.7 L923.9 337.7 L924.2 337.6 L924.5 339.9 L924.7 339.4 L925.0 339.6 L925.3 341.0 L925.6 341.3 L925.9 340.9 L926.2 341.7 L926.6 344.0 L926.9 344.2 L927.2 343.1 L927.5 343.9 L927.8 344.4 L928.1 345.5 L928.4 346.9 L928.8 346.6 L929.1 346.0 L929.4 348.6 L929.7 347.1 L930.0 348.4 L930.4 349.5 L930.7 349.9 L931.0 349.6 L931.3 350.7 L931.6 351.3 L931.9 350.6 L932.3 353.0 L932.6 352.4 L932.9 353.0 L933.2 353.6 L933.5 354.9 L933.8 354.4 L934.2 356.2 L934.5 355.7 L934.8 356.8 L935.1 357.3 L935.4 356.2 L935.8 357.9 L936.1 357.4 L936.4 358.3 L936.7 359.2 L937.0 359.3 L937.3 361.4 L937.7 360.3 L938.0 360.9 L938.3 361.9 L938.6 361.7 L938.9 363.9 L939.3 364.4 L939.6 364.1 L939.9 365.1 L940.2 364.6 L940.5 365.1 L940.8 365.5 L941.2 367.3 L941.5 367.6 L941.8 366.2 L942.1 367.1 L942.4 368.3 L942.8 369.0 L943.1 369.3 L943.4 369.6 L943.7 369.4 L944.0 370.2 L944.3 372.5 L944.7 372.3 L945.0 372.2 L945.3 372.5 L945.6 372.5 L945.9 373.2 L946.3 375.3 L946.6 374.8 L946.9 375.7 L947.2 375.3 L947.5 377.2 L947.8 376.2 L948.2 377.0 L948.5 376.9 L948.8 377.5 L949.1 378.4 L949.4 379.8 L949.7 380.8 L950.1 379.9 L950.4 380.5 L950.7 380.9 L951.0 382.3 L951.3 383.8 L951.6 383.3 L951.8 382.6 L952.1 384.8 L952.4 384.2 L952.6 384.3 L952.9 386.5 L953.1 385.5 L953.3 386.2 L953.6 388.6 L953.8 388.9 L954.0 388.3 L954.2 389.0 L954.5 389.1 L954.7 390.5 L954.9 390.7 L955.1 390.6 L955.3 391.4 L955.5 393.3 L955.7 392.5 L956.0 393.0 L956.2 393.4 L956.4 395.3 L956.6 396.1 L956.8 396.1 L957.1 395.6 L957.3 396.5 L957.6 397.1 L957.8 397.6 L958.1 398.3 L958.3 398.8 L958.6 400.1 L958.9 399.4 L959.2 400.0 L959.5 402.0 L959.8 401.1 L960.2 402.4 L960.5 402.9 L960.9 403.3 L961.3 404.7 L961.7 403.7 L962.1 403.6 L962.5 404.1 L963.0 406.4 L963.5 405.8 L963.9 405.7 L964.4 406.3 L964.9 406.2 L965.5 407.5 L966.0 406.6 L966.5 407.9 L967.1 408.5 L967.6 407.6 L968.2 409.4 L968.8 408.2 L969.3 409.8 L969.9 408.6 L970.5 409.0 L971.1 409.8 L971.7 409.8 L972.2 408.5 L972.8 409.1 L973.4 409.5 L974.0 409.4 L974.6 409.7 L975.2 408.9 L975.8 410.2 L976.4 409.1 L977.0 409.7 L977.6 410.1 L978.2 408.8 L978.8 409.7 L979.4 409.8 L980.0 408.4 L980.5 409.1 L981.1 408.8 L981.6 409.5 L982.2 408.9 L982.7 407.7 L983.2 408.0 L983.7 407.1 L984.2 406.3 L984.7 406.0 L985.2 405.5 L985.6 405.7 L986.0 405.4 L986.5 403.9 L986.9 403.5 L987.3 403.7 L987.7 403.4 L988.0 402.8 L988.4 401.7 L988.7 401.1 L989.1 401.5 L989.4 400.6 L989.7 400.3 L990.0 400.9 L990.3 398.5 L990.6 399.6 L990.9 399.1 L991.2 397.1 L991.5 397.6 L991.7 396.2 L992.0 395.8 L992.3 395.3 L992.5 395.5 L992.8 393.7 L993.0 394.1 L993.3 393.3 L993.5 393.7 L993.8 393.1 L994.0 392.7 L994.3 392.5 L994.5 391.0 L994.8 389.4 L995.0 390.9 L995.3 388.4 L995.5 389.8 L995.8 388.9 L996.0 387.0 L996.3 386.9 L996.6 386.8 L996.8 385.9 L997.1 386.2 L997.4 384.0 L997.6 384.6 L997.9 383.1 L998.2 383.3 L998.5 383.6 L998.8 383.2 L999.2 381.1 L999.5 381.9 L999.8 379.9 L1000.1 381.2 L1000.4 379.6 L1000.8 378.7 L1001.1 379.2 L1001.4 377.3 L1001.8 378.7 L1002.1 378.4 L1002.4 378.0 L1002.8 376.1 L1003.1 375.3 L1003.5 376.4 L1003.8 375.9 L1004.1 375.4 L1004.5 374.9 L1004.8 373.8 L1005.2 371.8 L1005.5 373.0 L1005.9 373.0 L1006.2 370.8 L1006.6 370.4 L1006.9 370.0 L1007.3 370.7 L1007.7 369.8 L1008.0 368.0 L1008.4 368.7 L1008.7 367.7 L1009.1 368.3 L1009.5 367.5 L1009.9 366.4 L1010.2 365.5 L1010.6 364.8 L1011.0 365.8 L1011.4 365.2 L1011.8 363.9 L1012.2 364.8 L1012.5 362.5 L1012.9 363.9 L1013.3 361.9 L1013.7 362.6 L1014.1 361.2 L1014.5 360.4 L1015.0 360.4 L1015.4 361.0 L1015.8 360.4 L1016.2 360.1 L1016.6 358.6 L1017.1 359.5 L1017.5 357.3 L1018.0 357.1 L1018.4 358.5 L1018.9 357.2 L1019.3 357.3 L1019.8 356.6 L1020.3 355.4 L1020.8 355.2 L1021.3 355.8 L1021.8 355.0 L1022.3 355.3 L1022.9 355.4 L1023.4 354.2 L1024.0 354.8 L1024.6 354.0 L1025.1 354.9 L1025.7 353.5 L1026.3 354.6 L1026.9 353.5 L1027.5 354.0 L1028.1 354.0 L1028.7 354.1 L1029.3 352.9 L1029.9 352.3 L1030.5 352.1 L1031.1 354.3 L1031.7 352.6 L1032.3 354.3 L1032.9 353.5 L1033.4 353.6 L1034.0 355.0 L1034.6 354.2 L1035.2 353.2 L1035.7 355.2 L1036.3 353.7 L1036.8 355.1 L1037.4 356.0 L1037.9 355.5 L1038.4 356.8 L1038.9 355.2 L1039.4 356.0 L1039.9 357.8 L1040.4 358.0 L1040.9 357.6 L1041.3 357.5 L1041.8 357.5 L1042.2 359.6 L1042.6 358.6 L1043.0 360.1 L1043.4 359.9 L1043.8 360.8 L1044.1 360.2 L1044.5 361.7 L1044.9 362.8 L1045.2 362.3 L1045.6 363.1 L1045.9 362.8 L1046.2 365.0 L1046.5 365.1 L1046.8 364.2 L1047.2 366.6 L1047.5 367.0 L1047.8 366.8 L1048.1 368.1 L1048.4 368.5 L1048.7 368.8 L1048.9 369.5 L1049.2 368.1 L1049.5 369.0 L1049.8 370.7 L1050.1 371.5 L1050.3 370.5 L1050.6 371.7 L1050.9 372.0 L1051.1 373.8 L1051.4 373.3 L1051.7 374.5 L1051.9 374.9 L1052.2 374.6 L1052.4 376.8 L1052.7 376.9 L1052.9 376.2 L1053.2 377.0 L1053.4 377.0 L1053.7 379.3 L1053.9 378.2 L1054.1 380.6 L1054.4 379.6 L1054.6 380.9 L1054.8 380.8 L1055.0 382.2 L1055.3 382.8 L1055.5 383.8 L1055.7 383.3 L1055.9 383.4 L1056.1 384.9 L1056.3 383.9 L1056.5 385.9 L1056.7 385.1 L1056.9 387.6 L1057.1 388.1 L1057.3 388.4 L1057.5 388.6 L1057.7 387.9 L1057.9 388.8 L1058.1 391.0 L1058.3 389.6 L1058.5 390.8 L1058.6 390.8 L1058.8 392.5 L1059.0 393.3 L1059.2 392.7 L1059.3 393.2 L1059.5 394.2 L1059.7 395.5 L1059.9 395.6 L1060.0 395.9 L1060.2 396.0 L1060.3 398.3 L1060.5 399.2 L1060.7 398.4 L1060.8 400.3 L1061.0 399.2 L1061.1 400.4 L1061.3 401.2 L1061.5 402.7 L1061.6 401.7 L1061.8 403.6 L1061.9 402.8 L1062.1 403.3 L1062.2 403.6 L1062.4 404.6 L1062.5 404.7 L1062.7 407.2 L1062.8 405.8 L1063.0 408.2 L1063.2 408.2 L1063.3 407.8 L1063.5 408.9 L1063.6 409.8 L1063.8 410.7 L1063.9 410.7 L1064.1 410.8 L1064.2 411.5 L1064.4 412.6 L1064.5 413.4 L1064.7 414.8 L1064.8 413.6 L1065.0 414.5 L1065.2 415.5 L1065.3 416.7 L1065.5 416.4 L1065.6 417.2 L1065.8 418.9 L1066.0 417.4 L1066.1 418.1 L1066.3 419.0 L1066.5 420.6 L1066.6 420.2 L1066.8 421.1 L1067.0 422.3 L1067.1 422.5 L1067.3 422.7 L1067.5 424.6 L1067.6 424.1 L1067.8 423.8 L1068.0 426.0 L1068.1 426.8 L1068.3 425.9 L1068.5 427.2 L1068.7 426.8 L1068.8 427.8 L1069.0 429.9 L1069.2 429.2 L1069.3 429.7 L1069.5 430.0 L1069.7 430.4 L1069.9 430.8 L1070.0 431.2 L1070.2 433.5 L1070.4 433.7 L1070.6 433.0 L1070.7 433.7 L1070.9 436.2 L1071.1 436.3 L1071.3 435.6 L1071.4 437.9 L1071.6 437.7 L1071.8 437.8 L1072.0 437.8 L1072.1 438.2 L1072.3 439.3 L1072.5 439.6 L1072.7 440.7 L1072.9 441.5 L1073.0 441.8 L1073.2 442.2 L1073.4 444.0 L1073.6 443.8 L1073.8 445.3 L1073.9 444.5 L1074.1 445.0 L1074.3 446.5 L1074.5 445.9 L1074.7 448.2 L1074.8 447.3 L1075.0 449.0 L1075.2 448.8 L1075.4 450.0 L1075.6 449.6 L1075.8 451.0 L1076.0 450.7 L1076.1 452.0 L1076.3 452.0 L1076.5 451.9 L1076.7 454.4 L1076.9 453.2 L1077.1 453.6 L1077.3 456.0 L1077.5 456.4 L1077.7 455.4 L1077.9 456.3 L1078.1 457.4 L1078.3 457.2 L1078.5 458.4 L1078.7 460.1 L1078.9 460.1 L1079.1 460.4 L1079.3 460.1 L1079.5 461.5 L1079.7 462.8 L1079.9 463.3 L1080.1 463.4 L1080.3 464.0 L1080.6 464.6 L1080.8 463.8 L1081.0 464.4 L1081.2 466.2 L1081.5 466.5 L1081.7 467.6 L1081.9 467.1 L1082.1 468.2 L1082.4 468.5 L1082.6 469.6 L1082.8 468.9 L1083.1 470.2 L1083.3 471.4 L1083.6 470.4 L1083.8 471.6 L1084.1 472.2 L1084.3 472.9 L1084.6 473.9 L1084.8 474.0 L1085.1 475.1 L1085.4 475.2 L1085.6 475.3 L1085.9 476.9 L1086.2 476.7 L1086.5 476.7 L1086.8 477.5 L1087.1 479.2 L1087.3 479.7 L1087.6 479.6 L1087.9 479.4 L1088.3 480.3 L1088.6 481.7 L1088.9 481.0 L1089.2 481.5 L1089.5 482.1 L1089.9 482.8 L1090.2 482.8 L1090.5 483.5 L1090.9 483.7 L1091.2 484.9 L1091.6 484.8 L1091.9 485.4 L1092.3 486.0 L1092.6 486.7 L1093.0 487.1 L1093.4 487.9 L1093.7 487.5 L1094.1 487.8 L1094.5 488.9 L1094.9 489.6 L1095.3 491.1 L1095.7 489.7 L1096.1 491.7 L1096.5 490.8 L1096.9 492.0 L1097.3 492.9 L1097.7 493.3 L1098.1 492.7 L1098.5 494.3 L1098.9 493.3 L1099.3 494.4 L1099.7 495.9 L1100.1 495.9 L1100.6 495.7 L1101.0 495.8 L1101.4 496.6 L1101.8 497.0 L1102.3 498.4 L1102.7 497.4 L1103.2 498.9 L1103.6 499.3 L1104.1 498.7 L1104.6 500.1 L1105.1 500.7 L1105.6 500.0 L1106.1 500.1 L1106.7 500.6 L1107.2 501.0 L1107.8 501.2 L1108.4 501.3 L1109.0 502.0 L1109.6 501.1 L1110.2 502.3 L1110.8 501.4 L1111.3 500.4 L1111.9 500.5 L1112.5 501.0 L1113.1 501.3 L1113.6 499.8 L1114.1 501.0 L1114.6 499.1 L1115.1 500.4 L1115.6 498.6 L1116.1 499.0 L1116.6 498.9 L1117.1 497.5 L1117.5 497.5 L1118.0 496.5 L1118.4 497.5 L1118.9 496.5 L1119.3 496.4 L1119.7 495.7 L1120.2 496.1 L1120.6 495.0 L1121.1 494.3 L1121.5 494.5 L1121.9 493.9 L1122.3 493.1 L1122.8 491.9 L1123.2 493.2 L1123.6 491.1 L1124.1 491.3 L1124.5 491.6 L1124.9 490.1 L1125.3 489.9 L1125.7 489.1 L1126.1 488.6 L1126.5 489.1 L1126.9 488.0 L1127.3 487.2 L1127.7 488.3 L1128.1 486.6 L1128.5 486.6 L1128.8 486.3 L1129.2 485.9 L1129.6 484.9 L1129.9 484.8 L1130.3 484.8 L1130.6 483.7 L1131.0 482.8 L1131.3 482.2 L1131.6 481.9 L1132.0 481.7 L1132.3 481.9 L1132.6 480.8 L1132.9 480.6 L1133.2 479.8 L1133.5 478.8 L1133.8 479.5 L1134.1 477.3 L1134.4 477.3 L1134.7 476.7 L1135.0 476.0 L1135.3 475.1 L1135.6 475.3 L1135.9 475.9 L1136.1 474.9 L1136.4 473.2 L1136.7 474.1 L1137.0 473.4 L1137.3 473.1 L1137.6 471.2 L1137.8 471.9 L1138.1 469.8 L1138.4 469.8 L1138.6 469.5 L1138.9 468.9 L1139.2 468.7 L1139.5 468.3 L1139.7 467.1 L1140.0 466.1 L1140.3 465.5 L1140.5 465.7 L1140.8 466.2 L1141.0 465.0 L1141.3 464.1 L1141.6 464.4 L1141.8 464.1 L1142.1 463.6 L1142.3 461.4 L1142.6 460.9 L1142.8 460.3 L1143.1 461.4 L1143.4 460.7 L1143.6 459.4 L1143.9 459.1 L1144.1 458.2 L1144.4 458.4 L1144.6 457.5 L1144.9 456.3 L1145.1 455.4 L1145.4 455.6 L1145.6 454.1 L1145.9 454.5 L1146.1 453.6 L1146.4 453.5 L1146.6 452.3 L1146.8 452.2 L1147.1 452.5 L1147.3 450.4 L1147.6 449.8 L1147.8 449.4 L1148.1 448.8 L1148.3 449.8 L1148.6 447.9 L1148.8 448.3 L1149.1 447.9 L1149.3 446.9 L1149.6 446.8 L1149.8 445.1 L1150.0 444.5 L1150.3 444.4 L1150.5 443.4 L1150.8 443.9 L1151.0 442.9 L1151.3 442.8 L1151.5 442.0 L1151.8 441.4 L1152.0 440.4 L1152.3 441.2 L1152.6 438.7 L1152.8 439.4 L1153.1 439.3 L1153.3 438.6 L1153.6 436.7 L1153.8 437.8 L1154.1 437.1 L1154.3 436.7 L1154.6 435.6 L1154.9 435.6 L1155.1 434.9 L1155.4 434.7 L1155.7 433.4 L1155.9 433.3 L1156.2 431.6 L1156.5 432.4 L1156.7 430.9 L1157.0 430.7 L1157.3 429.0 L1157.6 428.6 L1157.9 428.9 L1158.1 428.7 L1158.4 428.6 L1158.7 428.0 L1159.0 426.9 L1159.3 426.8 L1159.6 424.9 L1160.0 425.4 L1160.3 424.9 L1160.6 424.8 L1161.0 423.9 L1161.3 422.5 L1161.7 423.3 L1162.1 423.0 L1162.5 422.3 L1163.0 422.4 L1163.5 421.7 L1164.0 420.7 L1164.5 420.5 L1165.0 419.7 L1165.6 420.3 L1166.2 419.0 L1166.7 419.9 L1167.3 420.6 L1167.9 419.9 L1168.5 419.6 L1169.1 419.1 L1169.7 418.7 L1170.3 419.1 L1170.9 420.4 L1171.5 419.7 L1172.1 418.9 L1172.7 420.0 L1173.3 420.5 L1173.9 420.2 L1174.4 420.6 L1174.9 419.9 L1175.5 420.3 L1176.0 421.6 L1176.5 421.4 L1177.0 422.0 L1177.4 423.5 L1177.9 422.0 L1178.3 422.2 L1178.8 423.1 L1179.2 424.5 L1179.6 423.9 L1180.1 424.5 L1180.5 425.4 L1180.9 425.5 L1181.3 426.6 L1181.7 427.1 L1182.1 426.9 L1182.5 427.4 L1182.9 429.0 L1183.3 428.5 L1183.7 429.5 L1184.1 430.5 L1184.5 429.0 L1184.8 429.5 L1185.2 430.1 L1185.6 430.4 L1186.0 432.2 L1186.4 431.6 L1186.7 431.7 L1187.1 432.8 L1187.5 434.2 L1187.8 433.7 L1188.2 434.5 L1188.5 434.5 L1188.9 436.6 L1189.2 436.2 L1189.6 436.1 L1189.9 436.4 L1190.2 436.8 L1190.6 437.5 L1190.9 439.3 L1191.2 438.2 L1191.5 440.3 L1191.8 441.0 L1192.2 440.0 L1192.5 440.1 L1192.8 441.0 L1193.1 441.1 L1193.4 442.9 L1193.7 443.3 L1193.9 443.4 L1194.2 445.2 L1194.5 445.7 L1194.8 445.5 L1195.0 446.2 L1195.3 447.4 L1195.6 447.1 L1195.8 448.0 L1196.1 448.1 L1196.3 448.3 L1196.5 449.8 L1196.8 450.0 L1197.0 449.2 L1197.2 449.9 L1197.4 450.7 L1197.6 451.3 L1197.8 451.9 L1198.0 452.2 L1198.2 454.5 L1198.4 453.9 L1198.6 454.7 L1198.8 455.8 L1199.0 454.9 L1199.1 455.6 L1199.3 457.5 L1199.5 457.5 L1199.6 457.5 L1199.8 459.2 L1200.0 458.9 L1200.1 459.1 L1200.3 459.7 L1200.5 461.0 L1200.6 460.9 L1200.8 461.4 L1200.9 463.0 L1201.1 463.5 L1201.2 463.3 L1201.4 463.9 L1201.5 464.8 L1201.6 464.8 L1201.8 465.6 L1201.9 467.0 L1202.1 467.0 L1202.2 467.8 L1202.3 469.1 L1202.5 469.8 L1202.6 468.9 L1202.8 470.8 L1202.9 471.9 L1203.0 470.8 L1203.2 471.3 L1203.3 473.4 L1203.4 473.6 L1203.6 473.1 L1203.7 475.2 L1203.8 474.6 L1204.0 476.2 L1204.1 477.2 L1204.2 475.9 L1204.4 478.1 L1204.5 478.5 L1204.6 478.6 L1204.8 479.4 L1204.9 480.1 L1205.0 480.8 L1205.2 480.3 L1205.3 481.8 L1205.4 481.1 L1205.6 483.1 L1205.7 483.8 L1205.8 483.9 L1206.0 484.9 L1206.1 484.2 L1206.2 485.9 L1206.4 485.4 L1206.5 487.2 L1206.6 488.3 L1206.7 488.3 L1206.9 487.6 L1207.0 489.8 L1207.1 490.1 L1207.3 489.6 L1207.4 490.3 L1207.5 490.6 L1207.7 492.5 L1207.8 493.0 L1207.9 492.4 L1208.0 494.1 L1208.2 494.4 L1208.3 495.5 L1208.4 495.0 L1208.6 495.6 L1208.7 496.1 L1208.8 497.5 L1208.9 498.5 L1209.1 497.9 L1209.2 499.3 L1209.3 499.7 L1209.5 500.3 L1209.6 500.3 L1209.7 501.1 L1209.9 502.3 L1210.0 501.8 L1210.1 503.4 L1210.2 503.0 L1210.4 503.5 L1210.5 504.3 L1210.6 505.6 L1210.8 506.1 L1210.9 505.8 L1211.0 508.0 L1211.1 507.1 L1211.3 508.1 L1211.4 509.1 L1211.5 509.9 L1211.7 510.9 L1211.8 511.6 L1211.9 510.7 L1212.1 512.5 L1212.2 512.1 L1212.3 513.8 L1212.4 512.9 L1212.6 514.5 L1212.7 515.6 L1212.8 515.0 L1212.9 516.9 L1213.1 517.5 L1213.2 517.1 L1213.3 517.3 L1213.5 518.9 L1213.6 519.0 L1213.7 518.9 L1213.8 520.6 L1214.0 521.5 L1214.1 521.5 L1214.2 521.9 L1214.3 522.2 L1214.5 523.5 L1214.6 524.5 L1214.7 524.2 L1214.9 524.7 L1215.0 526.2 L1215.1 526.9 L1215.2 526.5 L1215.4 526.4 L1215.5 528.6 L1215.6 528.7 L1215.7 529.1 L1215.9 530.1 L1216.0 529.6 L1216.1 531.4 L1216.2 531.4 L1216.3 532.1 L1216.5 532.0 L1216.6 532.5 L1216.7 533.0 L1216.8 534.9 L1217.0 535.3 L1217.1 535.8 L1217.2 536.8 L1217.3 536.0 L1217.4 537.8 L1217.6 537.6 L1217.7 538.3 L1217.8 538.3 L1217.9 539.3 L1218.0 540.7 L1218.1 540.8 L1218.3 542.1 L1218.4 541.5 L1218.5 542.4 L1218.6 543.5 L1218.7 543.0 L1218.8 544.9 L1218.9 545.0 L1219.1 545.2 L1219.2 546.6 L1219.3 547.3 L1219.4 547.8 L1219.5 548.2 L1219.6 548.3 L1219.7 549.0 L1219.9 550.2 L1220.0 550.7 L1220.1 550.6 L1220.2 551.3 L1220.3 552.5 L1220.4 552.6 L1220.5 553.8 L1220.6 553.0 L1220.7 554.7 L1220.9 555.2 L1221.0 555.4 L1221.1 556.3 L1221.2 556.2 L1221.3 556.4 L1221.4 557.4 L1221.5 558.1 L1221.6 558.5 L1221.7 559.2 L1221.8 560.4 L1222.0 560.4 L1222.1 561.0 L1222.2 562.7 L1222.3 562.0 L1222.4 563.5 L1222.5 563.1 L1222.6 564.1 L1222.7 565.3 L1222.8 565.1 L1222.9 566.4 L1223.0 566.6 L1223.2 567.5 L1223.3 568.2 L1223.4 567.8 L1223.5 568.4 L1223.6 570.1 L1223.7 570.3 L1223.8 570.5 L1223.9 571.0 L1224.0 572.5 L1224.1 572.7 L1224.2 572.6 L1224.3 573.5 L1224.4 574.5 L1224.5 575.0 L1224.6 574.9 L1224.7 575.8 L1224.9 576.1 L1225.0 577.9 L1225.1 577.8 L1225.2 578.9 L1225.3 579.4 L1225.4 579.3 L1225.5 580.7 L1225.6 580.8 L1225.7 581.2 L1225.8 582.5 L1225.9 583.1 L1226.0 583.5 L1226.1 583.7 L1226.2 584.5 L1226.3 584.7 L1226.4 586.0 L1226.5 586.5 L1226.6 586.4 L1226.7 586.6 L1226.8 588.1 L1226.9 588.9 L1227.0 588.6 L1227.1 590.2 L1227.2 590.6 L1227.3 591.4 L1227.4 591.0 L1227.5 592.6 L1227.6 592.0 L1227.7 592.7 L1227.8 593.5 L1227.9 594.7 L1228.0 595.0 L1228.1 595.2 L1228.2 595.8 L1228.3 596.9 L1228.4 597.2 L1228.6 597.5 L1228.7 599.1 L1228.8 599.6 L1228.9 599.6 L1229.0 600.9 L1229.1 601.2 L1229.2 600.8 L1229.3 602.5 L1229.4 602.8 L1229.5 603.5 L1229.6 603.8 L1229.8 604.6 L1229.9 605.7 L1230.0 605.2 L1230.1 605.6 L1230.2 607.0 L1230.3 606.8 L1230.4 608.0 L1230.5 608.3 L1230.7 608.7 L1230.8 609.4 L1230.9 609.9 L1231.0 611.1 L1231.1 611.3 L1231.2 612.1 L1231.4 613.1 L1231.5 613.2 L1231.6 614.5 L1231.7 614.7 L1231.8 615.7 L1231.9 615.8 L1232.1 615.9 L1232.2 616.6 L1232.3 617.6 L1232.4 618.3 L1232.6 618.6 L1232.7 619.7 L1232.8 619.6 L1232.9 620.8 L1233.0 621.3 L1233.2 621.9 L1233.3 621.5 L1233.4 623.3 L1233.5 623.6 L1233.7 623.7 L1233.8 625.0 L1233.9 625.1 L1234.1 626.2 L1234.2 626.8 L1234.3 626.6 L1234.4 627.2 L1234.6 628.6 L1234.7 629.1 L1234.8 629.6 L1235.0 629.4 L1235.1 630.4 L1235.3 631.3 L1235.4 632.1 L1235.5 631.9 L1235.7 633.0 L1235.8 632.7 L1236.0 633.3 L1236.1 634.7 L1236.2 634.6 L1236.4 635.7 L1236.5 636.4 L1236.7 636.3 L1236.8 637.6 L1237.0 637.5 L1237.1 638.1 L1237.3 639.5 L1237.4 639.0 L1237.6 640.7 L1237.8 640.9 L1237.9 641.7 L1238.1 641.6 L1238.3 642.1 L1238.4 642.7 L1238.6 643.7 L1238.8 644.2 L1238.9 645.3 L1239.1 645.3 L1239.3 645.8 L1239.4 646.6 L1239.6 647.5 L1239.8 647.7 L1240.0 648.4 L1240.2 649.4 L1240.4 649.1 L1240.5 650.2 L1240.7 650.6 L1240.9 651.0 L1241.1 651.8 L1241.3 651.9 L1241.5 653.0 L1241.7 653.9 L1241.9 654.4 L1242.1 654.2 L1242.3 655.0 L1242.5 656.2 L1242.8 656.5 L1243.0 656.4 L1243.2 657.5 L1243.4 658.1 L1243.6 658.3 L1243.8 658.9 L1244.1 660.0 L1244.3 660.1 L1244.5 660.4 L1244.8 661.1 L1245.0 661.6 L1245.2 662.8 L1245.5 662.3 L1245.7 663.7 L1246.0 664.2 L1246.2 665.0 L1246.5 664.7 L1246.7 666.1 L1247.0 666.2 L1247.2 666.2 L1247.5 667.3 L1247.8 668.0 L1248.0 668.3 L1248.3 669.4 L1248.6 669.2 L1248.9 669.5 L1249.2 670.5 L1249.5 670.7 L1249.8 671.3 L1250.1 671.5 L1250.4 672.9 L1250.7 672.8 L1251.0 673.3 L1251.3 673.4 L1251.6 674.9 L1251.9 675.4 L1252.3 675.9 L1252.6 676.5 L1252.9 675.9 L1253.3 676.4 L1253.6 676.8 L1254.0 678.0 L1254.3 679.2 L1254.7 678.9 L1255.1 680.1 L1255.5 679.3 L1255.9 680.7 L1256.3 680.4 L1256.7 680.7 L1257.2 681.9 L1257.6 682.0 L1258.1 682.0 L1258.6 682.4 L1259.1 683.4 L1259.6 683.8 L1260.1 684.1 L1260.6 683.2 L1261.2 684.8 L1261.7 684.8 L1262.3 684.2 L1262.9 684.3 L1263.5 685.2 L1264.0 684.4 L1264.6 685.9 L1265.2 685.0 L1265.8 685.2 L1266.4 685.3 L1267.0 684.6 L1267.6 685.5 L1268.2 685.8 L1268.8 685.2 L1269.4 685.5 L1270.0 685.2 L1270.6 685.2 L1271.1 683.8 L1271.7 683.5 L1272.2 684.0 L1272.7 683.2 L1273.2 683.9 L1273.7 683.2 L1274.2 682.2 L1274.7 682.6 L1275.2 682.4 L1275.6 682.0 L1276.0 681.7 L1276.5 680.0 L1276.9 680.4 L1277.3 679.4 L1277.6 679.5 L1278.0 679.2 L1278.4 677.6 L1278.8 677.5 L1279.1 677.0 L1279.5 677.0 L1279.8 676.3 L1280.1 676.5 L1280.5 675.2 L1280.8 674.7 L1281.1 674.7 L1281.4 673.2 L1281.7 672.9 L1282.1 672.6 L1282.4 672.0 L1282.7 671.5 L1283.0 671.2 L1283.3 670.7 L1283.6 669.6 L1283.9 669.8 L1284.2 669.4 L1284.5 668.1 L1284.8 668.1 L1285.1 667.4 L1285.4 667.0 L1285.6 666.4 L1285.9 666.0 L1286.2 665.8 L1286.5 664.9 L1286.7 664.6 L1287.0 663.4 L1287.2 663.2 L1287.5 662.7 L1287.7 661.7 L1288.0 661.8 L1288.2 660.6 L1288.4 661.1 L1288.6 660.0 L1288.9 660.0 L1289.1 658.5 L1289.3 658.6 L1289.5 658.2 L1289.7 657.4 L1289.9 656.3 L1290.1 655.6 L1290.3 655.7 L1290.5 655.3 L1290.7 654.1 L1290.9 653.7 L1291.1 653.6 L1291.2 652.5 L1291.4 651.8 L1291.6 651.0 L1291.8 650.8 L1292.0 649.9 L1292.2 650.3 L1292.4 648.9 L1292.6 649.0 L1292.8 648.7 L1293.0 648.0 L1293.1 646.5 L1293.3 646.1 L1293.5 645.6 L1293.7 644.9 L1293.9 644.1 L1294.1 644.1 L1294.3 643.8 L1294.5 642.8 L1294.7 641.9 L1294.9 642.3 L1295.0 641.4 L1295.2 640.1 L1295.4 640.3 L1295.6 639.2 L1295.8 639.1 L1296.0 638.7 L1296.2 637.6 L1296.4 636.7 L1296.6 637.0 L1296.7 635.8 L1296.9 635.4 L1297.1 634.7 L1297.3 635.0 L1297.5 633.7 L1297.7 633.5 L1297.9 633.3 L1298.1 632.5 L1298.3 631.0 L1298.5 630.9 L1298.6 630.7 L1298.8 629.7 L1299.0 629.3 L1299.2 629.2 L1299.4 628.2 L1299.6 627.2 L1299.8 626.5 L1300.0 626.7 L1300.2 626.0 L1300.4 625.2 L1300.5 624.9 L1300.7 623.9 L1300.9 623.0 L1301.1 622.4 L1301.3 622.2 L1301.5 621.5 L1301.7 621.0 L1301.9 621.0 L1302.1 620.0 L1302.3 619.0 L1302.4 619.3 L1302.6 618.8 L1302.8 617.5 L1303.0 617.4 L1303.2 616.6 L1303.4 616.6 L1303.6 615.0 L1303.8 615.4 L1304.0 614.2 L1304.1 614.0 L1304.3 613.9 L1304.5 612.4 L1304.7 612.7 L1304.9 611.2 L1305.1 611.6 L1305.3 609.9 L1305.5 610.2 L1305.6 609.6 L1305.8 609.3 L1306.0 608.9 L1306.2 607.3 L1306.4 607.0 L1306.5 606.5 L1306.7 605.8 L1306.9 605.4 L1307.1 604.5 L1307.2 603.5 L1307.4 603.1 L1307.6 603.1 L1307.7 602.3 L1307.9 601.6 L1308.1 601.3 L1308.3 600.1 L1308.4 600.4 L1308.6 600.3 L1308.8 599.7 L1308.9 599.1 L1309.1 598.1 L1309.3 597.1 L1309.4 597.4 L1309.6 596.6 L1309.8 596.1 L1309.9 594.9 L1310.1 593.7 L1310.3 594.0 L1310.4 592.9 L1310.6 592.0 L1310.8 591.7 L1310.9 591.4 L1311.1 590.5 L1311.3 590.6 L1311.4 589.4 L1311.6 588.7 L1311.7 588.7 L1311.9 587.4 L1312.1 587.7 L1312.2 586.8 L1312.4 587.0 L1312.5 585.1 L1312.7 584.8 L1312.8 584.6 L1313.0 583.7 L1313.1 583.0 L1313.3 583.1 L1313.4 582.8 L1313.6 581.9 L1313.7 581.6 L1313.9 581.2 L1314.0 580.4 L1314.2 579.6 L1314.4 578.3 L1314.5 577.5 L1314.7 577.3 L1314.8 577.6 L1315.0 576.5 L1315.1 576.2 L1315.3 575.7 L1315.4 574.5 L1315.6 574.6 L1315.7 573.2 L1315.9 573.4 L1316.0 572.1 L1316.2 571.6 L1316.3 571.7 L1316.5 570.4 L1316.7 569.4 L1316.8 570.0 L1317.0 569.3 L1317.1 569.1 L1317.3 567.6 L1317.5 566.5 L1317.6 566.5 L1317.8 566.2 L1318.0 564.9 L1318.1 565.4 L1318.3 564.7 L1318.5 564.3 L1318.6 563.5 L1318.8 563.1 L1319.0 561.3 L1319.1 561.8 L1319.3 560.8 L1319.5 560.7 L1319.6 559.3 L1319.8 558.4 L1320.0 558.2 L1320.2 558.1 L1320.3 557.7 L1320.5 557.1 L1320.7 555.7 L1320.9 556.0 L1321.0 555.1 L1321.2 554.7 L1321.4 553.3 L1321.6 552.9 L1321.8 552.4 L1322.0 552.7 L1322.2 552.0 L1322.3 551.1 L1322.5 551.1 L1322.7 550.5 L1322.9 549.0 L1323.1 548.4 L1323.3 549.0 L1323.5 547.0 L1323.7 547.8 L1323.9 547.0 L1324.1 545.9 L1324.3 545.7 L1324.6 544.4 L1324.8 544.0 L1325.0 543.4 L1325.2 543.0 L1325.4 542.4 L1325.6 541.6 L1325.9 542.0 L1326.1 540.7 L1326.3 540.1 L1326.6 539.6 L1326.8 538.7 L1327.0 539.3 L1327.3 539.0 L1327.5 537.7 L1327.8 537.9 L1328.0 535.8 L1328.2 535.7 L1328.5 535.0 L1328.7 535.3 L1329.0 535.2 L1329.3 533.1 L1329.5 532.7 L1329.8 532.9 L1330.0 532.5 L1330.3 531.2 L1330.5 530.3 L1330.8 530.8 L1331.1 530.6 L1331.3 528.8 L1331.6 529.3 L1331.8 527.9 L1332.1 528.0 L1332.4 527.6 L1332.6 526.7 L1332.9 527.1 L1333.2 525.6 L1333.4 525.8 L1333.7 525.1 L1334.0 525.0 L1334.2 523.6 L1334.5 523.2 L1334.8 523.2 L1335.1 522.1 L1335.4 521.2 L1335.6 520.5 L1335.9 520.2 L1336.2 519.2 L1336.5 519.2 L1336.8 519.2 L1337.1 518.4 L1337.4 518.0 L1337.7 517.4 L1338.0 517.2 L1338.3 517.1 L1338.6 516.4 L1338.9 515.0 L1339.2 514.4 L1339.5 514.1 L1339.8 514.2 L1340.1 512.4 L1340.4 513.4 L1340.8 513.0 L1341.1 511.5 L1341.4 511.7 L1341.8 511.3 L1342.1 510.4 L1342.5 510.0 L1342.9 509.6 L1343.3 509.6 L1343.7 508.0 L1344.1 508.4 L1344.6 507.1 L1345.1 507.0 L1345.6 506.5 L1346.1 506.3 L1346.6 506.2 L1347.2 506.8 L1347.8 505.9 L1348.4 506.2 L1349.0 505.1 L1349.5 506.3 L1350.1 506.2 L1350.7 506.4 L1351.3 506.6 L1351.9 505.6 L1352.5 505.8 L1353.1 505.8 L1353.6 506.0 L1354.1 506.4 L1354.7 507.7 L1355.2 507.2 L1355.7 507.5 L1356.1 507.9 L1356.6 508.6 L1357.1 509.8 L1357.5 510.2 L1357.9 510.4 L1358.4 509.8 L1358.8 509.8 L1359.2 510.4 L1359.6 512.3 L1360.0 511.8 L1360.4 512.2 L1360.8 512.4 L1361.1 513.1 L1361.5 513.3 L1361.9 514.3 L1362.3 515.1 L1362.6 514.9 L1363.0 516.0 L1363.3 516.5 L1363.7 517.4 L1364.0 516.8 L1364.4 518.2 L1364.7 518.2 L1365.1 519.5 L1365.4 519.7 L1365.7 519.9 L1366.0 520.5 L1366.3 520.1 L1366.7 521.4 L1367.0 522.7 L1367.3 521.9 L1367.6 522.2 L1367.9 524.1 L1368.2 524.7 L1368.5 524.8 L1368.8 524.4 L1369.0 525.3 L1369.3 525.9 L1369.6 527.0 L1369.9 527.3 L1370.2 528.3 L1370.4 528.4 L1370.7 527.9 L1371.0 529.1 L1371.3 530.5 L1371.5 531.1 L1371.8 530.7 L1372.0 531.2 L1372.3 531.2 L1372.6 531.8 L1372.8 532.6 L1373.1 533.2 L1373.3 534.1 L1373.6 534.5 L1373.8 534.6 L1374.1 535.8 L1374.3 536.6 L1374.6 537.2 L1374.8 537.1 L1375.1 537.1 L1375.3 538.6 L1375.5 538.2 L1375.8 538.8 L1376.0 540.6 L1376.2 540.6 L1376.5 540.8 L1376.7 542.2 L1376.9 542.6 L1377.1 542.3 L1377.4 543.2 L1377.6 543.4 L1377.8 544.0 L1378.0 545.4 L1378.2 545.8 L1378.4 545.5 L1378.6 547.3 L1378.8 547.2 L1379.0 548.7 L1379.2 548.5 L1379.4 548.6 L1379.6 550.1 L1379.8 550.6 L1380.0 551.0 L1380.2 550.6 L1380.4 551.6 L1380.6 552.9 L1380.8 552.9 L1381.0 552.8 L1381.2 554.1 L1381.4 554.7 L1381.6 554.7 L1381.8 555.1 L1382.0 556.9 L1382.2 557.6 L1382.4 556.9 L1382.6 558.3 L1382.8 558.3 L1383.0 558.8 L1383.2 559.5 L1383.5 560.5 L1383.7 561.5 L1383.9 560.9 L1384.1 562.3 L1384.3 562.8 L1384.5 563.8 L1384.8 564.4 L1385.0 564.4 L1385.2 564.8 L1385.4 566.0 L1385.6 566.1 L1385.9 566.9 L1386.1 567.8 L1386.3 567.5 L1386.5 567.8 L1386.8 568.0 L1387.0 569.7 L1387.2 569.9 L1387.5 569.9 L1387.7 571.6 L1387.9 572.2 L1388.1 572.0 L1388.4 572.4 L1388.6 572.9 L1388.9 574.3 L1389.1 573.8 L1389.3 574.5 L1389.6 575.9 L1389.8 575.8 L1390.1 576.3 L1390.3 576.3 L1390.6 577.2 L1390.8 578.7 L1391.1 578.7 L1391.4 579.5 L1391.6 579.4 L1391.9 579.5 L1392.2 581.5 L1392.5 581.0 L1392.7 581.2 L1393.0 582.0 L1393.3 582.9 L1393.6 583.3 L1393.9 584.1 L1394.2 584.1 L1394.5 585.3 L1394.8 586.1 L1395.2 586.4 L1395.5 586.3 L1395.8 586.7 L1396.2 587.3 L1396.5 587.8 L1396.9 588.1 L1397.2 589.6 L1397.6 589.4 L1397.9 589.7 L1398.3 590.4 L1398.6 590.2 L1399.0 591.1 L1399.4 592.2 L1399.7 592.9 L1400.1 592.7 L1400.5 592.7 L1400.8 594.3 L1401.2 594.5 L1401.5 595.3 L1401.9 594.9 L1402.2 595.3 L1402.5 596.7 L1402.9 596.1 L1403.2 597.7 L1403.5 597.0 L1403.8 597.9 L1404.2 599.3 L1404.5 599.5 L1404.8 600.1 L1405.1 600.8 L1405.4 601.1 L1405.7 600.8 L1406.0 602.4 L1406.3 602.8 L1406.6 602.9 L1406.9 603.3 L1407.2 603.7 L1407.4 604.8 L1407.7 605.0 L1408.0 604.8 L1408.3 606.4 L1408.6 606.4 L1408.9 606.7 L1409.2 608.0 L1409.5 608.2 L1409.7 608.4 L1410.0 609.1 L1410.3 610.2 L1410.6 610.4 L1410.9 610.1 L1411.2 611.6 L1411.5 612.2 L1411.8 612.8 L1412.1 612.4 L1412.4 613.7 L1412.7 614.3 L1413.0 614.7 L1413.3 614.3 L1413.6 615.4 L1413.9 616.6 L1414.2 616.7 L1414.5 617.4 L1414.8 617.1 L1415.1 618.4 L1415.4 619.1 L1415.7 619.4 L1416.0 619.3 L1416.4 619.5 L1416.7 620.9 L1417.0 621.0 L1417.3 622.1 L1417.6 622.1 L1418.0 622.7 L1418.3 622.8 L1418.6 623.1 L1419.0 624.1 L1419.3 624.4 L1419.7 625.7 L1420.0 626.2 L1420.3 625.7 L1420.7 627.1 L1421.0 627.3 L1421.4 628.1 L1421.7 628.2 L1422.1 628.3 L1422.4 628.8 L1422.8 629.8 L1423.2 629.6 L1423.5 630.0 L1423.9 631.1 L1424.3 631.9 L1424.6 631.3 L1425.0 632.7 L1425.4 632.2 L1425.8 632.9 L1426.2 633.5 L1426.6 633.8 L1427.0 634.7 L1427.4 634.8 L1427.8 635.1 L1428.2 635.3 L1428.6 635.9 L1429.1 636.5 L1429.5 637.0 L1429.9 637.4 L1430.4 637.6 L1430.8 637.9 L1431.3 639.1 L1431.7 639.5 L1432.2 639.3 L1432.6 639.7 L1433.1 640.2 L1433.5 640.8 L1434.0 641.6 L1434.4 641.2 L1434.9 641.3 L1435.4 642.3 L1435.9 642.2 L1436.3 643.3 L1436.8 642.9 L1437.3 644.2 L1437.8 644.1 L1438.3 643.9 L1438.8 645.3 L1439.3 644.8 L1439.7 645.7 L1440.2 646.0 L1440.7 646.1 L1441.2 646.3 L1441.7 647.2 L1442.3 647.3 L1442.8 647.0 L1443.3 647.3 L1443.8 647.8 L1444.3 647.7 L1444.8 648.2 L1445.3 649.1 L1445.8 649.3 L1446.4 649.3 L1446.9 649.5 L1447.4 650.3 L1448.0 650.1 L1448.5 650.9 L1449.0 650.3 L1449.6 651.7 L1450.1 651.0 L1450.7 651.6 L1451.3 652.3 L1451.9 652.2 L1452.4 651.6 L1453.0 652.2 L1453.6 652.6 L1454.2 652.0 L1454.8 652.1 L1455.4 653.3 L1456.0 652.3 L1456.5 652.5 L1457.1 652.7 L1457.7 653.3 L1458.3 653.8 L1458.9 653.0 L1459.5 653.3 L1460.1 653.8 L1460.7 653.6 L1461.3 653.5 L1461.9 653.8 L1462.5 654.2 L1463.1 653.6 L1463.6 653.7 L1464.2 654.1 L1464.8 654.1 L1465.4 654.9 L1466.0 654.8 L1466.6 655.0 L1467.2 654.9 L1467.8 654.8 L1468.4 655.1 L1469.0 654.7 L1469.6 655.7 L1470.2 655.2 L1470.7 655.9 L1471.3 655.9 L1471.9 655.8 L1472.5 655.4 L1473.0 655.6 L1473.6 656.7 L1474.2 656.0 L1474.7 656.3 L1475.3 657.1 L1475.8 657.7 L1476.3 657.1 L1476.9 657.4 L1477.4 657.5 L1477.9 658.7 L1478.5 659.0 L1479.0 659.1 L1479.5 659.3 L1480.1 659.6 L1480.6 659.6 L1481.2 659.6 L1481.8 660.2 L1482.3 659.8 L1482.9 660.2 L1483.5 661.0 L1484.1 660.9 L1484.7 660.2 L1485.3 660.3 L1485.9 661.0 L1486.5 660.5 L1487.1 660.3 L1487.7 659.9 L1488.2 659.4 L1488.8 660.1 L1489.3 658.9 L1489.9 659.7 L1490.4 659.4 L1491.0 658.6 L1491.5 658.2 L1492.0 658.1 L1492.5 658.3 L1493.1 657.2 L1493.6 657.1 L1494.2 657.5 L1494.7 656.5 L1495.2 656.3 L1495.8 656.0 L1496.4 655.9 L1497.0 656.5 L1497.5 655.8 L1498.1 655.9 L1498.7 656.0 L1499.3 656.0 L1499.9 655.3 L1500.5 655.0 L1501.1 655.4 L1501.7 655.3 L1502.3 655.8 L1502.9 655.8 L1503.5 655.7 L1504.1 655.8 L1504.7 655.3 L1505.3 655.8 L1505.9 655.7 L1506.5 655.5 L1507.1 655.7 L1507.7 655.6 L1508.3 656.1 L1508.9 655.1 L1509.5 656.3 L1510.1 656.4 L1510.7 656.4 L1511.3 656.1 L1511.8 656.2 L1512.4 656.5 L1513.0 656.5 L1513.6 656.2 L1514.2 656.7 L1514.7 657.4 L1515.3 657.4 L1515.9 657.8 L1516.4 657.9 L1517.0 657.3 L1517.6 658.4 L1518.2 657.7 L1518.7 658.6 L1519.3 658.4 L1519.9 658.6 L1520.5 658.3 L1521.0 659.1 L1521.6 658.7 L1522.2 658.8 L1522.8 659.8 L1523.4 659.5 L1524.0 659.2 L1524.6 659.2 L1525.2 659.1 L1525.8 659.3 L1526.4 658.7 L1527.0 659.4 L1527.6 658.7 L1528.2 659.4 L1528.8 658.4 L1529.4 658.9 L1530.0 658.5 L1530.5 659.1 L1531.1 659.0 L1531.7 659.9 L1532.2 659.7 L1532.7 659.5 L1533.1 661.0 L1533.6 661.0 L1534.0 661.0 L1534.5 661.8 L1534.9 662.6 L1535.3 662.2 L1535.7 662.6 L1536.1 663.3 L1536.5 664.1 L1536.9 664.6 L1537.3 664.5 L1537.7 664.8 L1538.1 665.6 L1538.5 665.7 L1538.9 666.2 L1539.2 667.3 L1539.6 667.2 L1540.0 667.9 L1540.4 668.2 L1540.8 669.0 L1541.2 668.7 L1541.6 669.7 L1541.9 670.0 L1542.3 671.1 L1542.7 670.8 L1543.1 671.5 L1543.5 671.4 L1543.9 672.3 L1544.3 672.8 L1544.6 673.5 L1545.0 674.1 L1545.4 674.6 L1545.8 674.7 L1546.2 675.5 L1546.5 675.8 L1546.9 675.6 L1547.3 676.4 L1547.7 677.4 L1548.1 677.3 L1548.5 678.3 L1548.8 678.5 L1549.2 679.6 L1549.6 678.9 L1550.0 680.4 L1550.4 680.1 L1550.8 680.9 L1551.1 681.0 L1551.5 682.2 L1551.9 681.6 L1552.3 682.5 L1552.7 683.5 L1553.1 684.2 L1553.5 683.5 L1553.9 684.2 L1554.3 684.8 L1554.8 685.7 L1555.2 685.3 L1555.7 686.7 L1556.1 686.8 L1556.6 687.0 L1557.1 687.4 L1557.7 687.6 L1558.2 687.0 L1558.7 687.4 L1559.2 688.2 L1559.7 688.7 L1560.3 688.5 L1560.7 689.0 L1561.2 689.9 L1561.7 690.6 L1562.1 690.6 L1562.6 690.6 L1563.0 691.7 L1563.4 691.7 L1563.8 692.7 L1564.1 692.3 L1564.5 693.0 L1564.8 694.2 L1565.1 693.3 L1565.5 695.1 L1565.8 695.2 L1566.2 696.5 L1566.5 696.7 L1566.8 696.0 L1567.2 696.7 L1567.5 698.5 L1567.8 698.8 L1568.1 699.3 L1568.5 699.2 L1568.8 699.3 L1569.1 699.5 L1569.5 700.7 L1569.8 700.8 L1570.1 701.7 L1570.5 702.5 L1570.8 702.3 L1571.1 702.5 L1571.5 704.1 L1571.8 704.0 L1572.1 705.2 L1572.5 705.4 L1572.8 704.7 L1573.1 706.6 L1573.5 707.2 L1573.8 706.8 L1574.1 706.9 L1574.5 708.9 L1574.8 709.3 L1575.1 709.7 L1575.5 709.9 L1575.8 711.0 L1576.1 710.2 L1576.5 711.9 L1576.8 711.8 L1577.1 711.6 L1577.5 713.0 L1577.8 712.1 L1578.1 714.2 L1578.5 714.4 L1578.8 714.5 L1579.1 714.2 L1579.5 714.5 L1579.8 717.0 L1580.1 716.3 L1580.5 717.1 L1580.8 717.5 L1581.1 718.7 L1581.5 718.0 L1581.8 718.5 L1582.1 719.8 L1582.5 720.9 L1582.8 720.5 L1583.1 721.8 L1583.5 721.1 L1583.8 722.8 L1584.2 721.6 L1584.5 723.8 L1584.8 723.4 L1585.2 723.9 L1585.6 724.7 L1585.9 726.0 L1586.3 726.1 L1586.6 724.8 L1587.0 727.2 L1587.4 726.2 L1587.8 726.2 L1588.1 726.9 L1588.5 728.8 L1588.9 728.8 L1589.3 728.2 L1589.7 730.7 L1590.1 730.6 L1590.5 730.2 L1590.8 731.1 L1591.2 731.1 L1591.7 731.8 L1592.1 733.3 L1592.5 733.1 L1592.9 732.2 L1593.3 734.2 L1593.7 735.0 L1594.1 734.9 L1594.6 734.1 L1595.0 736.3 L1595.5 735.0 L1595.9 736.9 L1596.4 737.3 L1596.8 736.7 L1597.3 738.5 L1597.8 737.6 L1598.3 738.9 L1598.8 737.3 L1599.3 739.5 L1599.8 737.8 L1600.3 740.4 L1600.8 739.7 L1601.3 739.3 L1601.9 741.1 L1602.4 739.6 L1603.0 739.7 L1603.5 742.0 L1604.1 741.4 L1604.6 741.7 L1605.2 740.2 L1605.8 743.0 L1606.3 743.2 L1606.9 740.8 L1607.5 743.6 L1608.0 742.8 L1608.6 742.4 L1609.2 742.9 L1609.8 742.0 L1610.3 742.8 L1610.9 742.5 L1611.5 744.7 L1612.1 743.4 L1612.7 744.8 L1613.3 744.1 L1613.8 744.6 L1614.4 743.9 L1615.0 744.3 L1615.6 743.6 L1616.2 743.3 L1616.8 745.1 L1617.4 743.4 L1618.0 744.6 L1618.6 743.8 L1619.2 745.6 L1619.8 745.4 L1620.4 746.0 L1621.0 745.4 L1621.6 746.4 L1622.1 745.8 L1622.7 744.5 L1623.3 744.9 L1623.9 746.4 L1624.5 745.0 L1625.1 744.8 L1625.7 745.1 L1626.3 745.9 L1626.9 746.9 L1627.5 746.7 L1628.1 744.8 L1628.7 746.7 L1629.3 745.1 L1629.9 746.1 L1630.5 744.9 L1631.1 746.2 L1631.7 746.4 L1632.3 746.0 L1632.9 746.4 L1633.5 745.8 L1634.1 744.9 L1634.7 747.2 L1635.3 747.1 L1635.9 746.0 L1636.5 746.0 L1637.1 746.2 L1637.7 745.6 L1638.3 746.0 L1638.9 744.7 L1639.5 747.1 L1640.1 746.4 L1640.7 745.0 L1641.3 745.1 L1641.9 747.0 L1642.5 747.2 L1643.1 746.9 L1643.7 745.3 L1644.3 745.4 L1644.9 744.8 L1645.5 744.8 L1646.1 745.3 L1646.7 746.3 L1647.3 744.8 L1647.9 745.1 L1648.5 746.5 L1649.1 745.3 L1649.7 745.9 L1650.3 746.5 L1650.9 747.3 L1651.5 746.3 L1652.1 745.3 L1652.7 745.5 L1653.3 745.2 L1653.9 746.5 L1654.5 746.6 L1655.1 745.9 L1655.7 746.3 L1656.3 746.0 L1656.9 745.9 L1657.5 746.9 L1658.1 744.9 L1658.7 744.9 L1659.3 746.3 L1659.9 747.1 L1660.5 745.7 L1661.1 745.3 L1661.7 746.8 L1662.3 745.9 L1662.9 745.1 L1663.5 745.3 L1664.1 745.8 L1664.7 745.8 L1665.3 745.3 L1665.9 745.7 L1666.5 746.1 L1667.1 746.7 L1667.7 745.5 L1668.3 745.6 L1668.9 745.2 L1669.5 747.6 L1670.1 747.1 L1670.7 745.1 L1671.3 745.4 L1671.9 745.2 L1672.5 745.9 L1673.1 746.2 L1673.7 747.6 L1674.3 747.6 L1674.9 745.2 L1675.5 746.3 L1676.1 747.2 L1676.7 745.1 L1677.3 747.3 L1677.9 746.0 L1678.5 746.9 L1679.1 747.1 L1679.7 746.2 L1680.3 745.3 L1680.9 745.7 L1681.5 745.4 L1682.1 745.3 L1682.7 746.0 L1683.3 745.8 L1683.9 747.1 L1684.5 746.6 L1685.1 747.3 L1685.7 747.7 L1686.3 747.5 L1686.9 747.6 L1687.5 745.8 L1688.1 745.6 L1688.7 745.5 L1689.3 746.1 L1689.9 747.4 L1690.5 746.4 L1691.1 746.5 L1691.7 746.8 L1692.3 746.0 L1692.9 745.6 L1693.5 745.8 L1694.1 746.2 L1694.7 745.6 L1695.3 747.1 L1695.9 745.7 L1696.5 747.3 L1697.1 747.7 L1697.7 746.3 L1698.3 745.4 L1698.9 747.2 L1699.5 745.3 L1700.1 745.5 L1700.7 745.3 L1701.3 745.4 L1701.9 745.6 L1702.5 746.8 L1703.1 747.8 L1703.7 745.8 L1704.3 746.1 L1704.9 746.3 L1705.5 746.3 L1706.1 745.7 L1706.7 747.2 L1707.3 746.6 L1707.9 745.3 L1708.5 747.6 L1709.1 746.8 L1709.7 747.3 L1710.3 747.8 L1710.9 745.6 L1711.5 747.4 L1712.1 746.8 L1712.7 745.7 L1713.3 745.8 L1713.9 745.5 L1714.5 746.8 L1715.1 745.6 L1715.7 746.2 L1716.3 747.7 L1716.9 746.5 L1717.5 747.9 L1718.1 747.5 L1718.7 746.3 L1719.3 747.2 L1719.9 745.5 L1720.5 747.9 L1721.1 747.7 L1721.7 746.9 L1722.3 746.1 L1722.9 746.2 L1723.5 745.5 L1724.1 747.2 L1724.7 745.5 L1725.3 745.9 L1725.9 746.2 L1726.5 748.0 L1727.1 747.8 L1727.7 747.9 L1728.3 747.2 L1728.9 747.5 L1729.5 745.9 L1730.1 746.1 L1730.7 747.4 L1731.3 747.4 L1731.9 745.5 L1732.5 747.6 L1733.1 747.5 L1733.7 745.6 L1734.3 745.8 L1734.9 746.4 L1735.5 746.3 L1736.1 746.8 L1736.7 746.5 L1737.3 745.9 L1737.9 745.8 L1738.5 745.4 L1739.1 747.5 L1739.7 747.3 L1740.3 746.9 L1740.9 747.4 L1741.5 746.9 L1742.1 746.7 L1742.7 746.7 L1743.3 746.3 L1743.9 745.8 L1744.5 747.3 L1745.1 745.9 L1745.7 747.3 L1746.3 746.0 L1746.9 746.9 L1747.5 746.3 L1748.1 747.9 L1748.7 747.6 L1749.3 747.4 L1749.9 746.9 L1750.5 746.9 L1751.1 747.9 L1751.7 746.2 L1752.3 746.8 L1752.9 747.1 L1753.5 745.4 L1754.1 746.7 L1754.7 747.3 L1755.3 746.8 L1755.9 746.5 L1756.5 748.0 L1757.1 745.5 L1757.7 746.7 L1758.3 745.6 L1758.9 746.6 L1759.5 746.6 L1760.1 746.0 L1760.7 747.5 L1761.3 745.9 L1761.9 747.4 L1762.5 746.0 L1763.1 745.4 L1763.7 747.3 L1764.3 746.9 L1764.9 746.2 L1765.5 747.8 L1766.1 746.5 L1766.7 745.4 L1767.3 747.9 L1767.9 747.2 L1768.5 746.6 L1769.1 745.7 L1769.7 745.9 L1770.3 746.8 L1770.9 746.9 L1771.5 746.3 L1772.1 747.2 L1772.7 746.5 L1773.3 747.4 L1773.9 747.2 L1774.5 745.6 L1775.1 747.7 L1775.7 747.5 L1776.3 747.6 L1776.9 747.0 L1777.5 746.3 L1778.1 746.1 L1778.7 747.0 L1779.3 747.1 L1779.9 744.7 L1780.5 745.7 L1781.1 745.5 L1781.7 744.7 L1782.3 745.4 L1782.8 746.2 L1783.4 746.4 L1784.0 746.2 L1784.6 745.9 L1785.2 746.2 L1785.8 745.2 L1786.4 743.8 L1786.9 744.7 L1787.5 743.5 L1788.1 743.3 L1788.7 745.3 L1789.3 744.8 L1789.9 743.3 L1790.4 744.6 L1791.0 743.9 L1791.6 743.1 L1792.2 744.5 L1792.7 743.9 L1793.3 743.6 L1793.9 743.2 L1794.5 742.4 L1795.1 743.0 L1795.6 742.3 L1796.2 743.0 L1796.8 741.9 L1797.3 740.7 L1797.9 742.6 L1798.5 741.6 L1799.0 740.2 L1799.6 740.0 L1800.2 741.1 L1800.7 739.8 L1801.3 740.2 L1801.9 739.6 L1802.4 739.1 L1803.0 738.8 L1803.6 740.7 L1804.1 738.3 L1804.7 737.9 L1805.3 739.2 L1805.8 738.6 L1806.4 738.4 L1807.0 739.2 L1807.6 739.2 L1808.1 737.8 L1808.7 737.5 L1809.3 736.9 L1809.9 736.8 L1810.5 738.2 L1811.0 736.3 L1811.6 736.5 L1812.2 736.8 L1812.8 736.1 L1813.4 736.1 L1814.0 736.9 L1814.6 737.0 L1815.2 736.1 L1815.7 735.3 L1816.3 736.2 L1816.9 736.9 L1817.5 737.0 L1818.1 734.7 L1818.7 735.9 L1819.3 736.6 L1819.9 736.5 L1820.5 736.6 L1821.1 736.4 L1821.7 735.7 L1822.3 734.5 L1822.8 734.5 L1823.4 735.9 L1824.0 734.6 L1824.6 734.1 L1825.2 735.0 L1825.8 735.2 L1826.4 735.6 L1827.0 733.6 L1827.6 733.5 L1828.2 734.9 L1828.8 735.5 L1829.4 734.1 L1830.0 734.6 L1830.6 734.0 L1831.2 734.6 L1831.8 735.2 L1832.4 734.5 L1833.0 735.7 L1833.6 735.3 L1834.2 735.2 L1834.8 733.8 L1835.4 734.8 L1836.0 734.3 L1836.6 734.2 L1837.2 736.0 L1837.8 736.6 L1838.3 736.3 L1838.9 735.5 L1839.5 735.8 L1840.1 736.3 L1840.7 734.9 L1841.2 735.1 L1841.8 737.7 L1842.4 735.9 L1843.0 736.2 L1843.6 737.5 L1844.1 736.2 L1844.7 737.4 L1845.3 737.0 L1845.9 737.8 L1846.4 737.7 L1847.0 738.3 L1847.6 738.9 L1848.2 738.4 L1848.7 737.5 L1849.3 737.5 L1849.9 739.0 L1850.5 739.8 L1851.0 738.7 L1851.6 739.9 L1852.2 739.6 L1852.7 739.7 L1853.3 740.9 L1853.9 740.3 L1854.4 741.5 L1855.0 741.7 L1855.6 739.9 L1856.1 741.2 L1856.7 740.4 L1857.3 741.9 L1857.8 741.1 L1858.4 741.5 L1859.0 742.0 L1859.5 741.1 L1860.1 742.3 L1860.7 742.4 L1861.2 743.4 L1861.8 744.0 L1862.4 743.5 L1863.0 743.3 L1863.5 742.4 L1864.1 743.2 L1864.7 744.5 L1865.3 742.9 L1865.8 745.1 L1866.4 743.7 L1867.0 745.5 L1867.6 744.6 L1868.2 744.8 L1868.8 743.5 L1869.3 744.7 L1869.9 744.7 L1870.5 746.3 L1871.1 744.1 L1871.7 745.0 L1872.3 745.6 L1872.9 745.6 L1873.5 745.0 L1874.1 745.9 L1874.7 746.0 L1875.3 745.1 L1875.9 745.4 L1876.5 745.1 L1877.1 744.7 L1877.7 746.2 L1878.3 745.7 L1878.9 746.5 L1879.5 745.3 L1880.1 746.3 L1880.7 745.7 L1881.3 746.3 L1881.8 747.2 L1882.4 745.9 L1883.0 746.7 L1883.6 745.3 L1884.2 746.7 L1884.8 745.3 L1885.4 747.5 L1886.0 745.8 L1886.6 747.2 L1887.2 747.9 L1887.8 745.6 L1888.4 747.6 L1889.0 746.5 L1889.6 745.8 L1890.2 746.0 L1890.8 747.4 L1891.4 747.6 L1892.0 747.5 L1892.6 746.4 L1893.2 746.9 L1893.8 746.6 L1894.4 747.3 L1895.0 746.5 L1895.6 745.7 L1896.2 748.1 L1896.8 748.3 L1897.4 748.3 L1898.0 747.0 L1898.6 746.2 L1899.2 748.3 L1899.8 747.2 L1900.4 747.9 L1901.0 747.7 L1901.6 746.0 L1902.2 747.8 L1902.8 746.4 L1903.4 747.0 L1904.0 747.7 L1904.6 747.2 L1905.2 748.5 L1905.8 746.2 L1906.4 748.1 L1907.0 748.4 L1907.6 748.0 L1908.2 747.3 L1908.8 747.5 L1909.4 747.5 L1910.0 748.1 L1910.6 747.0 L1911.2 747.2 L1911.8 747.2 L1912.4 747.8 L1913.0 748.5 L1913.6 748.7 L1914.2 746.5 L1914.8 746.5 L1915.4 747.4 L1916.0 747.9 L1916.6 746.7 L1917.2 748.1 L1917.8 747.4 L1918.4 747.0 L1919.0 747.7 L1919.6 748.2 L1920.2 748.7 L1920.8 748.0 L1921.4 747.3 L1922.0 748.3 L1922.6 746.5 L1923.2 748.8 L1923.8 748.0 L1924.4 749.0 L1925.0 746.4 L1925.6 748.3 L1926.2 747.4 L1926.8 747.7 L1927.4 748.4 L1928.0 748.5 L1928.6 747.9 L1929.2 747.8 L1929.8 747.1 L1930.4 749.2 L1931.0 747.7 L1931.6 746.9 L1932.2 746.6 L1932.8 747.0 L1933.4 746.8 L1934.0 748.3 L1934.6 748.6 L1935.2 747.9 L1935.8 747.6 L1936.4 747.7 L1937.0 748.9 L1937.6 749.2 L1938.2 747.0 L1938.8 749.1 L1939.4 747.1 L1940.0 747.4 L1940.6 747.0 L1941.2 747.2 L1941.8 748.2 L1942.4 747.9 L1943.0 748.3 L1943.6 747.9 L1944.2 746.7 L1944.8 747.6 L1945.4 749.1 L1946.0 749.1 L1946.6 747.9 L1947.2 747.4 L1947.8 749.0 L1948.4 748.8 L1949.0 748.1 L1949.6 747.8 L1950.2 747.6 L1950.8 747.4 L1951.4 747.1 L1952.0 746.8 L1952.6 746.7 L1953.2 747.6 L1953.8 748.6 L1954.4 746.6 L1955.0 746.8 L1955.6 747.5 L1956.2 747.8 L1956.8 746.7 L1957.4 747.2 L1958.0 748.3 L1958.6 746.4 L1959.2 748.8 L1959.8 746.3 L1960.4 748.7 L1961.0 748.4 L1961.6 748.7 L1962.2 747.4 L1962.8 747.1 L1963.4 746.4 L1964.0 746.8 L1964.6 748.8 L1965.2 748.3 L1965.8 746.9 L1966.4 747.9 L1967.0 746.4 L1967.6 746.9 L1968.2 748.3 L1968.8 748.6 L1969.4 747.4 L1970.0 748.0 L1970.6 746.3 L1971.2 746.8 L1971.8 746.1 L1972.4 746.1 L1973.0 746.6 L1973.6 747.4 L1974.2 747.6 L1974.8 747.7 L1975.4 747.2 L1976.0 748.2 L1976.6 748.1 L1977.2 746.8 L1977.8 747.9 L1978.4 746.5 L1979.0 745.5 L1979.6 746.3 L1980.2 747.1 L1980.8 746.4 L1981.4 747.7 L1982.0 746.5 L1982.6 745.6 L1983.2 747.1 L1983.8 745.5" fill="none" stroke="#0000ff" stroke-width="9.4" stroke-linejoin="round" stroke-linecap="butt"/>
<path d="M233.8 745.0 L234.4 743.9 L235.0 745.0 L235.6 744.4 L236.2 744.3 L236.8 743.0 L237.4 745.1 L238.0 742.5 L238.6 743.1 L239.2 743.6 L239.8 744.5 L240.4 743.0 L241.0 744.8 L241.6 745.1 L242.2 742.9 L242.8 744.1 L243.4 742.5 L244.0 743.5 L244.6 742.6 L245.2 745.0 L245.8 743.6 L246.4 745.0 L247.0 744.6 L247.6 744.8 L248.2 742.9 L248.8 742.7 L249.4 744.1 L250.0 742.9 L250.6 744.4 L251.2 743.6 L251.8 743.9 L252.4 745.0 L253.0 743.9 L253.6 742.8 L254.2 742.9 L254.8 743.9 L255.4 743.9 L256.0 744.2 L256.6 743.5 L257.2 744.2 L257.8 743.5 L258.4 744.1 L259.0 744.5 L259.6 743.0 L260.2 743.5 L260.8 743.8 L261.4 744.3 L262.0 743.1 L262.6 743.9 L263.2 744.1 L263.8 744.8 L264.4 743.4 L265.0 744.2 L265.6 743.0 L266.2 743.8 L266.8 743.0 L267.4 744.9 L268.0 743.6 L268.6 744.7 L269.2 743.6 L269.8 744.9 L270.4 743.5 L271.0 743.4 L271.6 744.0 L272.2 744.7 L272.8 744.8 L273.4 744.1 L274.0 742.7 L274.6 744.1 L275.2 743.1 L275.8 744.4 L276.4 744.8 L277.0 743.8 L277.6 744.1 L278.2 742.6 L278.8 743.9 L279.4 742.8 L280.0 744.1 L280.6 743.4 L281.2 744.5 L281.8 742.6 L282.4 742.8 L283.0 744.3 L283.6 743.8 L284.2 744.0 L284.8 744.7 L285.4 743.7 L286.0 744.6 L286.6 743.8 L287.2 744.9 L287.8 744.2 L288.4 742.8 L289.0 743.4 L289.6 744.7 L290.2 743.3 L290.8 742.9 L291.4 743.6 L292.0 743.4 L292.6 744.0 L293.2 743.5 L293.8 743.0 L294.4 743.4 L295.0 743.4 L295.6 744.7 L296.2 744.9 L296.8 743.9 L297.4 742.5 L298.0 744.2 L298.6 744.0 L299.2 744.4 L299.8 743.1 L300.4 742.3 L301.0 743.7 L301.6 742.4 L302.2 744.0 L302.8 744.1 L303.4 743.0 L304.0 744.4 L304.6 742.3 L305.2 744.2 L305.8 742.9 L306.4 743.6 L307.0 743.5 L307.6 744.0 L308.2 743.9 L308.7 741.4 L309.3 741.2 L309.9 742.5 L310.5 741.1 L311.1 742.6 L311.7 742.1 L312.3 742.4 L312.9 741.7 L313.5 741.1 L314.1 742.8 L314.6 742.0 L315.2 740.0 L315.8 740.2 L316.4 741.4 L317.0 740.4 L317.6 740.6 L318.1 741.4 L318.7 740.1 L319.3 741.5 L319.9 740.8 L320.5 740.2 L321.1 739.1 L321.6 739.6 L322.2 740.4 L322.8 740.8 L323.4 738.3 L324.0 738.3 L324.6 739.7 L325.1 739.8 L325.7 737.8 L326.3 739.5 L326.9 739.3 L327.5 738.9 L328.1 737.8 L328.6 737.9 L329.2 737.6 L329.8 738.7 L330.4 737.2 L331.0 737.0 L331.5 738.4 L332.1 738.3 L332.7 738.2 L333.3 737.7 L333.9 735.7 L334.4 735.5 L335.0 736.6 L335.6 737.2 L336.2 737.1 L336.8 736.3 L337.3 736.9 L337.9 734.8 L338.5 734.8 L339.1 734.9 L339.7 734.5 L340.2 734.5 L340.8 733.9 L341.4 734.3 L342.0 733.3 L342.5 734.4 L343.1 735.3 L343.7 733.8 L344.3 734.1 L344.8 733.9 L345.4 734.5 L346.0 733.9 L346.6 733.9 L347.1 732.6 L347.7 733.8 L348.3 731.8 L348.9 732.2 L349.4 732.8 L350.0 731.7 L350.6 732.9 L351.2 732.6 L351.7 730.7 L352.3 730.7 L352.9 730.1 L353.4 731.9 L354.0 730.5 L354.6 730.4 L355.2 729.9 L355.7 729.4 L356.3 730.0 L356.9 729.3 L357.4 729.9 L358.0 728.8 L358.6 729.4 L359.2 730.3 L359.7 728.7 L360.3 729.9 L360.9 727.6 L361.4 728.5 L362.0 728.5 L362.6 729.1 L363.1 728.9 L363.7 727.7 L364.3 728.1 L364.8 728.4 L365.4 727.6 L366.0 728.0 L366.6 727.7 L367.1 726.5 L367.7 726.7 L368.3 725.4 L368.8 725.8 L369.4 726.6 L370.0 725.7 L370.5 724.8 L371.1 724.2 L371.6 724.3 L372.2 723.8 L372.8 723.9 L373.3 724.0 L373.9 723.0 L374.5 724.7 L375.0 723.5 L375.6 723.6 L376.2 723.6 L376.7 722.2 L377.3 721.9 L377.9 721.9 L378.4 723.6 L379.0 721.3 L379.5 721.9 L380.1 722.7 L380.7 721.8 L381.2 720.3 L381.8 722.1 L382.3 720.7 L382.9 720.0 L383.5 720.2 L384.0 720.5 L384.6 719.1 L385.1 720.2 L385.7 719.9 L386.3 718.9 L386.8 719.1 L387.4 718.4 L387.9 717.8 L388.5 718.8 L389.1 718.3 L389.6 718.9 L390.2 717.3 L390.7 717.6 L391.3 717.9 L391.9 716.3 L392.4 716.8 L393.0 717.2 L393.5 716.1 L394.1 716.1 L394.6 716.3 L395.2 715.8 L395.8 716.5 L396.3 716.3 L396.9 716.0 L397.4 714.9 L398.0 714.2 L398.5 714.9 L399.1 714.2 L399.6 714.2 L400.2 714.2 L400.8 714.6 L401.3 714.1 L401.9 712.4 L402.4 713.8 L403.0 713.1 L403.5 712.1 L404.1 712.8 L404.6 712.0 L405.2 711.9 L405.7 711.7 L406.3 710.6 L406.8 710.8 L407.4 710.7 L407.9 709.7 L408.5 710.8 L409.0 709.7 L409.5 709.8 L410.1 710.5 L410.6 710.1 L411.2 708.6 L411.7 708.6 L412.3 708.7 L412.8 707.5 L413.3 708.6 L413.9 707.4 L414.4 706.8 L415.0 707.7 L415.5 707.0 L416.0 705.8 L416.6 706.6 L417.1 706.7 L417.7 705.0 L418.2 706.0 L418.7 704.9 L419.3 705.0 L419.8 704.0 L420.3 704.6 L420.9 705.1 L421.4 703.6 L421.9 702.9 L422.5 704.1 L423.0 704.0 L423.5 702.9 L424.0 703.4 L424.6 703.1 L425.1 702.5 L425.6 702.4 L426.2 700.8 L426.7 701.8 L427.2 700.7 L427.7 700.2 L428.3 700.4 L428.8 700.7 L429.3 699.6 L429.8 698.7 L430.4 698.8 L430.9 698.5 L431.4 698.9 L431.9 699.1 L432.4 698.1 L433.0 697.2 L433.5 697.7 L434.0 696.4 L434.5 696.0 L435.0 696.7 L435.6 695.9 L436.1 695.8 L436.6 694.8 L437.1 695.2 L437.6 695.1 L438.1 695.4 L438.6 693.5 L439.2 694.0 L439.7 693.6 L440.2 693.6 L440.7 693.6 L441.2 692.7 L441.7 692.5 L442.2 692.1 L442.7 692.3 L443.2 692.1 L443.7 690.8 L444.3 691.2 L444.8 690.8 L445.3 690.0 L445.8 690.4 L446.3 689.8 L446.8 689.2 L447.3 689.0 L447.8 689.3 L448.3 688.4 L448.8 688.1 L449.3 687.4 L449.8 687.7 L450.3 687.5 L450.8 686.3 L451.3 686.0 L451.8 686.2 L452.3 685.2 L452.8 684.6 L453.3 684.6 L453.8 684.9 L454.3 684.2 L454.8 684.0 L455.3 683.7 L455.7 683.2 L456.2 683.5 L456.7 683.0 L457.2 682.8 L457.7 682.1 L458.2 681.9 L458.7 681.5 L459.2 681.4 L459.7 680.2 L460.1 679.8 L460.6 679.0 L461.1 678.7 L461.6 679.7 L462.1 678.6 L462.6 677.7 L463.1 677.4 L463.5 677.6 L464.0 677.4 L464.5 677.3 L465.0 676.6 L465.5 675.9 L465.9 676.1 L466.4 675.0 L466.9 674.8 L467.4 674.2 L467.9 674.6 L468.3 674.0 L468.8 673.5 L469.3 672.9 L469.8 673.3 L470.2 672.4 L470.7 672.7 L471.2 671.5 L471.7 671.6 L472.1 671.3 L472.6 670.2 L473.1 669.9 L473.6 670.3 L474.0 669.0 L474.5 669.2 L475.0 668.3 L475.4 669.0 L475.9 668.5 L476.4 667.4 L476.9 667.8 L477.3 667.3 L477.8 666.1 L478.3 665.9 L478.7 666.0 L479.2 665.7 L479.7 664.9 L480.1 664.3 L480.6 664.3 L481.1 664.3 L481.5 663.6 L482.0 662.9 L482.5 662.6 L482.9 662.7 L483.4 662.0 L483.9 662.0 L484.3 661.0 L484.8 661.2 L485.3 660.9 L485.7 660.6 L486.2 659.6 L486.7 659.9 L487.1 659.1 L487.6 658.4 L488.1 657.7 L488.5 658.1 L489.0 658.0 L489.5 657.2 L489.9 656.5 L490.4 656.2 L490.8 656.0 L491.3 656.2 L491.8 655.2 L492.2 654.7 L492.7 654.5 L493.1 653.8 L493.6 653.5 L494.1 653.7 L494.5 653.4 L495.0 652.4 L495.4 652.1 L495.9 652.2 L496.4 651.6 L496.8 650.9 L497.3 651.1 L497.7 650.7 L498.2 649.8 L498.6 649.1 L499.1 649.4 L499.5 649.1 L500.0 648.4 L500.4 648.2 L500.9 646.9 L501.3 647.2 L501.8 647.0 L502.2 646.0 L502.7 645.4 L503.1 645.9 L503.6 645.4 L504.0 644.5 L504.5 644.4 L504.9 643.5 L505.4 643.3 L505.8 643.3 L506.3 643.0 L506.7 642.7 L507.2 642.1 L507.6 641.8 L508.1 640.7 L508.5 640.9 L509.0 640.9 L509.4 640.4 L509.8 639.8 L510.3 639.5 L510.7 638.6 L511.2 638.0 L511.6 638.0 L512.0 637.5 L512.5 636.4 L512.9 636.3 L513.4 636.3 L513.8 635.2 L514.3 634.8 L514.7 634.8 L515.1 634.1 L515.6 634.1 L516.0 634.0 L516.4 633.3 L516.9 632.3 L517.3 633.1 L517.8 631.8 L518.2 631.1 L518.6 631.2 L519.1 631.3 L519.5 631.0 L519.9 629.6 L520.4 629.1 L520.8 629.7 L521.2 629.3 L521.7 628.9 L522.1 628.4 L522.5 628.0 L523.0 627.6 L523.4 626.1 L523.8 625.9 L524.3 625.3 L524.7 624.8 L525.1 625.7 L525.6 625.3 L526.0 624.3 L526.4 623.3 L526.8 622.9 L527.2 623.5 L527.7 623.1 L528.1 622.2 L528.5 621.9 L528.9 621.3 L529.3 621.0 L529.7 621.0 L530.1 619.8 L530.5 618.9 L530.9 618.4 L531.3 618.8 L531.7 617.5 L532.1 617.1 L532.5 617.7 L532.9 617.3 L533.3 615.8 L533.7 615.5 L534.1 616.1 L534.5 615.5 L534.9 614.6 L535.3 614.0 L535.7 613.9 L536.0 613.1 L536.4 613.3 L536.8 612.5 L537.2 611.9 L537.6 610.7 L537.9 611.1 L538.3 609.8 L538.7 609.4 L539.1 609.9 L539.5 609.0 L539.8 608.5 L540.2 608.3 L540.6 608.0 L541.0 607.7 L541.3 606.0 L541.7 605.5 L542.1 605.0 L542.4 605.8 L542.8 604.7 L543.2 604.0 L543.6 603.9 L543.9 602.7 L544.3 602.6 L544.7 602.0 L545.0 602.1 L545.4 600.9 L545.8 601.6 L546.2 599.8 L546.5 599.4 L546.9 599.0 L547.3 599.7 L547.6 598.2 L548.0 598.3 L548.4 597.9 L548.7 596.9 L549.1 596.4 L549.5 596.5 L549.8 595.1 L550.2 594.5 L550.6 594.6 L550.9 594.0 L551.3 593.2 L551.7 592.7 L552.0 592.8 L552.4 593.0 L552.7 592.2 L553.1 590.9 L553.4 590.7 L553.8 590.7 L554.1 589.3 L554.4 589.0 L554.8 588.3 L555.1 588.4 L555.4 587.9 L555.7 587.9 L556.0 586.1 L556.3 585.8 L556.6 585.5 L556.9 585.1 L557.1 584.4 L557.4 584.9 L557.7 583.4 L557.9 583.7 L558.2 583.3 L558.4 581.7 L558.7 580.9 L558.9 581.5 L559.1 579.6 L559.4 579.2 L559.6 578.8 L559.8 578.0 L560.0 578.3 L560.2 576.8 L560.5 576.7 L560.7 576.5 L560.9 576.2 L561.1 574.8 L561.3 574.8 L561.5 574.5 L561.7 572.9 L561.9 573.0 L562.1 572.3 L562.3 571.3 L562.5 571.5 L562.7 570.2 L562.9 570.5 L563.1 569.7 L563.3 569.7 L563.5 568.5 L563.7 568.6 L563.9 567.2 L564.1 566.8 L564.3 566.5 L564.5 566.0 L564.7 564.9 L564.9 563.9 L565.1 564.3 L565.3 563.9 L565.5 563.5 L565.7 562.5 L565.9 562.2 L566.1 560.7 L566.2 560.4 L566.4 559.9 L566.6 559.2 L566.8 558.6 L567.0 558.6 L567.2 558.3 L567.4 557.2 L567.6 557.0 L567.8 556.2 L568.0 555.8 L568.1 555.1 L568.3 553.8 L568.5 554.4 L568.7 552.7 L568.9 552.3 L569.1 552.1 L569.3 551.8 L569.5 551.6 L569.6 549.8 L569.8 549.1 L570.0 549.4 L570.2 548.8 L570.4 548.5 L570.6 547.0 L570.8 547.4 L571.0 545.7 L571.2 545.2 L571.3 544.7 L571.5 544.0 L571.7 543.3 L571.9 543.8 L572.1 543.8 L572.3 542.3 L572.5 541.2 L572.7 540.9 L572.8 540.2 L573.0 540.5 L573.2 539.7 L573.4 539.2 L573.6 539.2 L573.8 537.4 L573.9 537.5 L574.1 536.5 L574.3 536.5 L574.5 535.3 L574.7 535.5 L574.9 534.0 L575.0 534.2 L575.2 532.8 L575.4 533.1 L575.6 532.1 L575.8 531.1 L576.0 531.4 L576.1 529.7 L576.3 530.2 L576.5 529.7 L576.7 528.7 L576.9 528.2 L577.0 528.0 L577.2 527.1 L577.4 525.6 L577.6 525.1 L577.7 526.0 L577.9 524.6 L578.1 524.4 L578.3 523.3 L578.4 522.7 L578.6 522.7 L578.8 521.5 L578.9 520.5 L579.1 520.3 L579.3 519.4 L579.5 520.3 L579.6 519.5 L579.8 518.6 L580.0 517.0 L580.1 517.1 L580.3 517.3 L580.4 516.2 L580.6 515.3 L580.8 514.6 L580.9 513.7 L581.1 512.8 L581.3 513.2 L581.4 512.9 L581.6 511.5 L581.7 511.6 L581.9 510.7 L582.1 509.5 L582.2 509.7 L582.4 509.7 L582.5 508.7 L582.7 507.7 L582.8 506.5 L583.0 506.3 L583.1 506.4 L583.3 506.0 L583.5 504.7 L583.6 503.9 L583.8 504.4 L583.9 502.5 L584.1 502.6 L584.2 502.3 L584.4 501.6 L584.5 500.1 L584.7 499.8 L584.8 499.2 L585.0 499.2 L585.1 498.1 L585.3 498.5 L585.4 496.7 L585.6 496.7 L585.7 497.0 L585.9 496.6 L586.0 494.8 L586.2 494.0 L586.3 493.1 L586.4 493.8 L586.6 492.0 L586.7 493.2 L586.9 491.3 L587.0 492.0 L587.2 490.9 L587.3 489.7 L587.5 489.0 L587.6 489.1 L587.7 489.0 L587.9 487.1 L588.0 487.3 L588.2 486.3 L588.3 485.0 L588.4 484.4 L588.6 483.8 L588.7 483.2 L588.9 483.1 L589.0 483.5 L589.1 483.2 L589.3 481.6 L589.4 481.7 L589.6 481.3 L589.7 479.5 L589.8 479.7 L590.0 479.7 L590.1 478.4 L590.2 478.1 L590.4 476.3 L590.5 476.3 L590.6 475.6 L590.7 475.9 L590.9 474.0 L591.0 474.7 L591.1 473.6 L591.2 473.2 L591.4 473.2 L591.5 472.3 L591.6 471.3 L591.7 470.2 L591.8 469.8 L592.0 468.9 L592.1 468.4 L592.2 468.6 L592.3 467.4 L592.4 468.0 L592.5 465.9 L592.7 466.3 L592.8 464.9 L592.9 465.5 L593.0 464.2 L593.1 464.3 L593.2 463.7 L593.3 463.4 L593.5 462.3 L593.6 461.4 L593.7 460.6 L593.8 460.8 L593.9 459.4 L594.0 459.7 L594.1 458.7 L594.2 457.8 L594.3 456.6 L594.5 456.1 L594.6 455.2 L594.7 455.8 L594.8 455.0 L594.9 454.6 L595.0 453.5 L595.1 453.9 L595.2 451.7 L595.3 451.4 L595.4 451.1 L595.6 449.6 L595.7 450.4 L595.8 448.9 L595.9 448.3 L596.0 448.5 L596.1 448.4 L596.2 446.1 L596.3 446.5 L596.4 445.7 L596.6 446.3 L596.7 444.4 L596.8 443.3 L596.9 444.5 L597.0 442.8 L597.1 442.3 L597.2 441.8 L597.4 440.6 L597.5 440.9 L597.6 440.4 L597.7 439.6 L597.8 439.0 L597.9 438.0 L598.1 437.9 L598.2 436.1 L598.3 436.2 L598.4 434.8 L598.6 435.4 L598.7 435.6 L598.8 435.0 L598.9 434.0 L599.1 433.0 L599.2 432.9 L599.3 431.2 L599.4 430.7 L599.6 430.2 L599.7 429.9 L599.8 430.2 L600.0 429.5 L600.1 428.3 L600.3 427.7 L600.4 426.4 L600.5 426.2 L600.7 426.3 L600.8 426.1 L601.0 425.0 L601.1 424.6 L601.3 424.2 L601.4 423.4 L601.5 423.1 L601.7 422.2 L601.8 422.0 L602.0 421.5 L602.1 421.0 L602.3 420.0 L602.4 417.9 L602.6 418.5 L602.7 416.9 L602.9 418.0 L603.0 416.5 L603.1 414.9 L603.3 415.1 L603.4 415.5 L603.6 414.9 L603.7 414.6 L603.9 413.4 L604.0 413.0 L604.2 411.1 L604.3 410.9 L604.5 409.9 L604.6 410.4 L604.8 409.5 L604.9 408.4 L605.1 408.9 L605.2 408.6 L605.4 406.6 L605.5 407.5 L605.7 405.7 L605.8 406.3 L606.0 405.2 L606.1 404.4 L606.3 403.7 L606.4 404.1 L606.6 402.8 L606.7 402.7 L606.9 402.5 L607.0 400.2 L607.2 399.8 L607.3 400.0 L607.5 398.4 L607.6 397.8 L607.8 399.0 L607.9 398.3 L608.1 397.7 L608.2 395.7 L608.4 395.7 L608.5 395.1 L608.7 393.5 L608.8 392.9 L609.0 392.6 L609.1 392.5 L609.3 391.4 L609.4 390.6 L609.6 390.8 L609.7 391.1 L609.9 388.8 L610.0 389.5 L610.2 388.3 L610.3 389.2 L610.4 388.1 L610.6 387.8 L610.7 387.0 L610.9 386.1 L611.0 384.2 L611.2 384.4 L611.3 383.0 L611.5 384.5 L611.6 383.1 L611.7 381.6 L611.9 381.1 L612.0 380.8 L612.2 380.9 L612.3 379.5 L612.4 380.4 L612.6 378.3 L612.7 379.0 L612.9 377.7 L613.0 376.1 L613.1 376.1 L613.3 375.4 L613.4 376.4 L613.6 374.5 L613.7 374.4 L613.8 373.2 L614.0 373.8 L614.1 372.3 L614.2 371.8 L614.4 372.1 L614.5 369.9 L614.7 369.8 L614.8 369.9 L614.9 369.1 L615.1 368.7 L615.2 368.8 L615.3 366.5 L615.5 366.0 L615.6 366.8 L615.7 365.3 L615.9 363.6 L616.0 365.1 L616.1 364.5 L616.3 362.7 L616.4 362.2 L616.5 363.0 L616.7 360.9 L616.8 359.8 L616.9 360.5 L617.1 358.9 L617.2 358.1 L617.3 358.8 L617.5 356.7 L617.6 358.3 L617.7 355.9 L617.9 355.7 L618.0 356.5 L618.1 355.1 L618.3 353.1 L618.4 354.7 L618.5 352.7 L618.7 351.6 L618.8 351.3 L618.9 351.5 L619.1 351.4 L619.2 350.2 L619.3 349.5 L619.5 349.6 L619.6 349.4 L619.8 347.8 L619.9 346.2 L620.0 345.8 L620.2 347.1 L620.3 346.5 L620.4 345.4 L620.6 344.6 L620.7 344.6 L620.8 343.8 L621.0 343.1 L621.1 342.1 L621.2 341.9 L621.4 340.4 L621.5 341.1 L621.7 340.4 L621.8 339.2 L621.9 337.4 L622.1 337.6 L622.2 337.2 L622.4 335.9 L622.5 336.4 L622.6 334.4 L622.8 334.4 L622.9 333.5 L623.1 333.9 L623.2 332.3 L623.3 331.8 L623.5 333.2 L623.6 330.9 L623.8 330.9 L623.9 329.6 L624.1 328.5 L624.2 329.7 L624.3 328.2 L624.5 327.9 L624.6 326.2 L624.8 326.0 L624.9 326.4 L625.1 326.1 L625.2 325.4 L625.4 325.6 L625.5 323.5 L625.7 324.2 L625.8 323.4 L626.0 322.6 L626.1 322.4 L626.3 322.0 L626.4 320.9 L626.6 318.7 L626.7 318.5 L626.9 318.8 L627.0 318.2 L627.2 318.7 L627.3 317.1 L627.5 317.1 L627.6 316.1 L627.8 314.1 L627.9 314.2 L628.1 314.0 L628.2 312.5 L628.4 312.8 L628.5 312.5 L628.7 312.5 L628.8 311.5 L629.0 311.4 L629.1 310.9 L629.3 308.3 L629.5 309.9 L629.6 308.0 L629.8 308.0 L629.9 306.5 L630.1 305.9 L630.2 305.9 L630.4 306.5 L630.5 304.6 L630.7 305.4 L630.9 304.7 L631.0 303.7 L631.2 302.2 L631.3 301.6 L631.5 302.0 L631.7 300.4 L631.8 299.0 L632.0 300.5 L632.1 298.5 L632.3 298.8 L632.5 298.5 L632.6 297.7 L632.8 297.9 L632.9 296.1 L633.1 296.6 L633.3 293.7 L633.4 294.2 L633.6 293.9 L633.7 293.4 L633.9 291.9 L634.1 292.8 L634.2 292.5 L634.4 292.0 L634.6 289.9 L634.7 291.0 L634.9 288.8 L635.0 287.9 L635.2 288.5 L635.4 286.2 L635.5 286.0 L635.7 285.3 L635.9 285.2 L636.0 286.1 L636.2 283.5 L636.4 285.2 L636.5 284.0 L636.7 283.6 L636.9 282.1 L637.0 282.8 L637.2 281.3 L637.4 281.6 L637.5 279.4 L637.7 280.6 L637.9 280.0 L638.0 277.9 L638.2 276.7 L638.4 278.3 L638.5 275.7 L638.7 276.7 L638.9 276.5 L639.0 273.4 L639.2 274.8 L639.4 272.4 L639.5 273.1 L639.7 273.4 L639.9 270.7 L640.0 270.5 L640.2 271.5 L640.4 270.7 L640.5 270.2 L640.7 269.0 L640.9 267.8 L641.1 267.4 L641.2 267.8 L641.4 268.0 L641.6 265.6 L641.7 264.8 L641.9 264.4 L642.1 263.2 L642.2 262.9 L642.4 264.1 L642.6 261.6 L642.8 261.1 L642.9 262.4 L643.1 260.2 L643.3 261.6 L643.5 259.2 L643.6 258.3 L643.8 258.3 L644.0 256.7 L644.2 257.2 L644.3 257.0 L644.5 257.6 L644.7 256.3 L644.9 254.9 L645.0 254.2 L645.2 253.8 L645.4 252.7 L645.6 252.0 L645.7 251.4 L645.9 252.5 L646.1 252.5 L646.3 250.6 L646.5 249.4 L646.6 249.7 L646.8 247.9 L647.0 248.5 L647.2 247.2 L647.4 247.9 L647.6 247.9 L647.7 247.4 L647.9 244.2 L648.1 244.0 L648.3 243.6 L648.5 245.0 L648.7 243.9 L648.8 241.6 L649.0 240.7 L649.2 241.0 L649.4 240.2 L649.6 241.3 L649.8 241.0 L650.0 238.5 L650.2 239.5 L650.3 237.5 L650.5 237.2 L650.7 235.5 L650.9 236.7 L651.1 234.5 L651.3 235.2 L651.5 233.6 L651.7 235.1 L651.9 232.6 L652.0 232.8 L652.2 232.5 L652.4 231.4 L652.6 230.1 L652.8 229.8 L653.0 230.1 L653.2 228.3 L653.4 230.0 L653.6 229.3 L653.8 226.6 L653.9 226.0 L654.1 226.6 L654.3 224.7 L654.5 226.9 L654.7 223.8 L654.9 224.4 L655.1 223.8 L655.3 223.4 L655.5 222.3 L655.7 222.2 L655.9 221.3 L656.0 219.8 L656.2 219.3 L656.4 221.1 L656.6 219.0 L656.8 219.2 L657.0 219.1 L657.2 216.4 L657.4 215.9 L657.6 216.8 L657.8 215.2 L657.9 215.2 L658.1 214.5 L658.3 213.6 L658.5 214.3 L658.7 213.7 L658.9 211.5 L659.1 211.7 L659.3 212.4 L659.4 212.0 L659.6 209.8 L659.8 210.6 L660.0 208.5 L660.2 207.4 L660.4 208.5 L660.6 207.2 L660.8 205.3 L661.0 206.1 L661.2 204.8 L661.3 204.8 L661.5 203.9 L661.7 204.5 L661.9 202.2 L662.1 202.9 L662.3 201.8 L662.5 201.5 L662.7 201.5 L662.9 200.5 L663.1 200.0 L663.3 200.0 L663.5 198.4 L663.7 198.9 L663.9 198.2 L664.1 196.5 L664.3 196.9 L664.5 195.8 L664.7 195.0 L665.0 195.3 L665.2 193.3 L665.4 192.7 L665.6 192.6 L665.8 193.7 L666.1 191.2 L666.3 191.5 L666.5 192.3 L666.8 189.0 L667.0 190.1 L667.3 189.9 L667.5 187.9 L667.8 189.6 L668.1 186.9 L668.3 187.2 L668.6 186.8 L668.9 186.1 L669.2 186.5 L669.5 185.4 L669.8 184.5 L670.1 183.5 L670.4 184.6 L670.7 182.7 L671.0 181.1 L671.3 180.9 L671.5 182.0 L671.8 180.1 L672.1 180.4 L672.4 180.9 L672.7 178.0 L672.9 177.7 L673.2 179.6 L673.5 178.9 L673.7 178.4 L674.0 176.0 L674.3 175.5 L674.5 175.2 L674.8 176.2 L675.1 173.3 L675.3 173.9 L675.6 172.6 L675.9 172.1 L676.1 171.0 L676.4 171.4 L676.7 169.9 L677.0 170.5 L677.2 170.8 L677.5 168.9 L677.8 168.6 L678.0 167.2 L678.3 169.4 L678.6 166.1 L678.8 167.7 L679.1 166.9 L679.4 164.8 L679.6 164.1 L679.9 164.0 L680.2 163.4 L680.4 163.5 L680.7 162.6 L681.0 161.6 L681.2 162.6 L681.5 160.2 L681.8 160.2 L682.1 161.3 L682.3 161.1 L682.6 160.3 L682.9 159.6 L683.1 157.2 L683.4 158.8 L683.7 155.9 L683.9 156.2 L684.2 156.5 L684.5 156.7 L684.7 156.2 L685.0 153.7 L685.3 152.6 L685.6 152.7 L685.8 153.1 L686.1 153.8 L686.4 152.8 L686.7 151.1 L687.0 152.1 L687.3 149.8 L687.5 149.5 L687.8 150.6 L688.1 147.3 L688.4 147.3 L688.7 148.9 L689.0 147.6 L689.3 146.3 L689.6 146.5 L689.9 144.8 L690.2 144.8 L690.5 143.4 L690.8 143.4 L691.1 144.8 L691.4 142.9 L691.7 144.0 L692.0 142.3 L692.3 142.2 L692.6 140.0 L692.9 141.7 L693.2 138.8 L693.5 140.1 L693.8 139.5 L694.1 137.0 L694.4 138.1 L694.7 137.6 L695.0 137.9 L695.3 136.5 L695.7 137.1 L696.0 136.2 L696.3 133.3 L696.6 134.8 L697.0 133.9 L697.3 133.3 L697.6 133.8 L698.0 132.1 L698.3 131.9 L698.7 132.6 L699.0 130.3 L699.4 131.5 L699.8 128.3 L700.1 128.5 L700.5 129.8 L700.9 128.6 L701.3 128.0 L701.6 128.4 L702.0 126.0 L702.4 126.5 L702.8 125.5 L703.2 126.8 L703.6 124.3 L704.0 123.2 L704.4 124.8 L704.8 122.6 L705.2 122.5 L705.6 123.0 L705.9 122.1 L706.3 122.4 L706.7 122.5 L707.1 122.7 L707.5 121.1 L707.9 119.7 L708.3 119.1 L708.7 119.2 L709.1 119.6 L709.5 119.2 L709.8 117.3 L710.2 116.1 L710.6 118.4 L711.0 116.9 L711.4 115.0 L711.7 115.5 L712.1 113.7 L712.5 114.4 L712.9 114.0 L713.2 113.1 L713.6 113.4 L714.0 111.6 L714.4 110.8 L714.8 113.4 L715.2 111.9 L715.6 112.1 L716.0 110.6 L716.4 110.4 L716.8 108.5 L717.3 109.5 L717.7 109.5 L718.2 109.8 L718.7 108.0 L719.2 107.2 L719.7 106.7 L720.2 108.3 L720.7 107.6 L721.2 108.0 L721.8 106.2 L722.3 106.4 L722.8 104.8 L723.4 105.4 L723.9 105.8 L724.5 104.9 L725.0 105.5 L725.6 105.7 L726.2 105.4 L726.7 105.8 L727.3 102.6 L727.9 103.0 L728.5 104.5 L729.1 102.2 L729.7 103.4 L730.2 103.9 L730.8 104.9 L731.4 104.6 L732.0 103.8 L732.6 103.9 L733.2 104.5 L733.8 102.0 L734.4 103.5 L735.0 101.9 L735.6 103.3 L736.2 101.7 L736.8 103.6 L737.4 104.4 L738.0 103.6 L738.6 103.9 L739.2 103.3 L739.8 102.7 L740.4 103.0 L741.0 103.1 L741.6 101.9 L742.2 102.3 L742.8 103.3 L743.4 103.5 L744.0 103.3 L744.6 104.5 L745.2 102.6 L745.8 104.2 L746.4 102.9 L747.0 104.4 L747.6 104.9 L748.2 102.9 L748.8 103.7 L749.4 103.6 L750.0 102.5 L750.6 102.2 L751.2 102.7 L751.8 105.0 L752.3 102.8 L752.9 103.4 L753.5 104.0 L754.1 103.8 L754.6 106.5 L755.2 105.2 L755.8 105.1 L756.3 104.7 L756.9 105.9 L757.5 106.6 L758.0 104.6 L758.6 106.6 L759.2 107.6 L759.7 105.6 L760.3 107.4 L760.9 107.6 L761.4 106.3 L762.0 106.9 L762.6 106.8 L763.1 109.0 L763.7 108.9 L764.3 109.0 L764.8 108.1 L765.4 108.6 L766.0 108.9 L766.5 108.1 L767.1 109.6 L767.7 108.5 L768.2 110.0 L768.8 111.5 L769.4 108.7 L769.9 110.0 L770.5 109.9 L771.1 110.9 L771.6 111.4 L772.2 111.3 L772.7 111.5 L773.2 112.8 L773.8 113.3 L774.3 111.5 L774.8 113.5 L775.2 113.0 L775.7 112.4 L776.2 112.5 L776.6 113.7 L777.1 113.2 L777.5 115.4 L778.0 114.4 L778.4 116.1 L778.9 115.5 L779.3 115.7 L779.7 117.4 L780.2 116.6 L780.6 119.1 L781.1 117.4 L781.5 117.2 L781.9 118.2 L782.4 119.1 L782.8 119.6 L783.2 119.9 L783.7 120.7 L784.1 120.3 L784.6 121.9 L785.0 121.8 L785.4 123.4 L785.9 123.1 L786.3 123.9 L786.8 123.2 L787.2 125.5 L787.7 125.6 L788.1 125.9 L788.5 124.7 L789.0 126.8 L789.4 126.6 L789.9 125.8 L790.3 126.1 L790.7 125.8 L791.2 128.5 L791.6 128.6 L792.0 129.6 L792.4 127.4 L792.8 128.3 L793.2 130.8 L793.6 129.3 L794.0 129.3 L794.3 132.1 L794.7 130.3 L795.0 132.4 L795.4 134.2 L795.7 132.2 L796.0 133.6 L796.3 134.3 L796.7 133.3 L797.0 134.5 L797.3 136.9 L797.6 137.6 L797.9 135.3 L798.2 137.9 L798.5 139.0 L798.9 137.9 L799.2 139.4 L799.5 139.5 L799.8 140.7 L800.1 141.4 L800.4 141.6 L800.7 141.1 L801.0 141.2 L801.3 141.2 L801.6 141.4 L802.0 144.7 L802.3 145.2 L802.6 143.8 L802.9 144.9 L803.2 144.1 L803.5 145.4 L803.8 146.4 L804.0 147.6 L804.3 147.5 L804.6 148.7 L804.9 147.3 L805.2 150.5 L805.5 151.1 L805.8 150.2 L806.1 151.0 L806.4 152.1 L806.6 152.3 L806.9 152.9 L807.2 152.5 L807.5 152.7 L807.8 154.5 L808.0 156.0 L808.3 153.8 L808.6 154.5 L808.9 156.1 L809.2 156.7 L809.4 157.2 L809.7 156.3 L810.0 158.3 L810.3 157.8 L810.5 159.7 L810.8 158.7 L811.1 160.1 L811.3 162.1 L811.6 160.7 L811.9 163.2 L812.2 163.0 L812.4 164.1 L812.7 163.0 L813.0 165.5 L813.2 165.0 L813.5 165.2 L813.7 166.6 L814.0 166.9 L814.3 165.9 L814.5 167.4 L814.8 166.7 L815.0 167.9 L815.3 169.0 L815.6 169.1 L815.8 169.4 L816.1 171.0 L816.3 169.6 L816.6 172.8 L816.8 172.7 L817.0 173.2 L817.3 173.3 L817.5 173.3 L817.7 174.8 L818.0 174.1 L818.2 176.1 L818.4 175.7 L818.7 175.5 L818.9 178.3 L819.1 179.2 L819.3 179.5 L819.5 178.1 L819.8 180.2 L820.0 180.6 L820.2 181.5 L820.4 179.8 L820.6 181.9 L820.9 180.9 L821.1 182.3 L821.3 183.9 L821.5 184.5 L821.7 185.3 L822.0 186.0 L822.2 185.3 L822.4 187.2 L822.7 187.3 L822.9 187.2 L823.1 188.6 L823.3 188.0 L823.6 187.9 L823.8 190.0 L824.1 189.4 L824.3 189.5 L824.5 190.2 L824.8 192.5 L825.0 191.7 L825.2 191.4 L825.5 192.6 L825.7 195.0 L826.0 194.9 L826.2 193.5 L826.5 196.5 L826.7 194.8 L826.9 197.0 L827.2 198.3 L827.4 196.7 L827.7 196.8 L827.9 200.2 L828.2 200.0 L828.5 199.4 L828.7 201.6 L829.0 200.4 L829.2 201.2 L829.5 201.0 L829.8 201.6 L830.0 202.5 L830.3 204.6 L830.6 204.8 L830.9 205.2 L831.2 205.2 L831.5 207.1 L831.8 207.1 L832.1 206.0 L832.5 207.2 L832.8 206.9 L833.2 208.5 L833.5 209.4 L833.9 208.0 L834.3 210.1 L834.7 211.0 L835.0 211.3 L835.4 210.6 L835.7 212.5 L836.1 212.2 L836.4 212.5 L836.8 214.0 L837.1 212.1 L837.4 215.1 L837.7 215.3 L838.0 214.3 L838.3 214.5 L838.6 217.4 L838.9 215.5 L839.1 218.0 L839.4 216.5 L839.7 218.4 L840.0 218.3 L840.3 218.4 L840.5 218.6 L840.8 220.9 L841.1 221.8 L841.4 222.2 L841.6 221.0 L841.9 222.9 L842.2 222.7 L842.5 223.0 L842.7 224.6 L843.0 223.9 L843.3 224.6 L843.5 226.0 L843.8 225.8 L844.1 225.5 L844.4 226.9 L844.6 226.8 L844.9 227.9 L845.2 227.9 L845.4 230.9 L845.7 229.8 L845.9 231.2 L846.2 230.3 L846.5 231.2 L846.7 231.1 L847.0 233.9 L847.3 232.0 L847.5 232.7 L847.8 234.1 L848.0 233.8 L848.3 236.0 L848.5 236.5 L848.8 236.2 L849.1 237.6 L849.3 239.0 L849.6 237.2 L849.8 237.6 L850.1 238.1 L850.3 239.0 L850.6 240.3 L850.8 240.5 L851.1 241.2 L851.3 242.7 L851.6 243.6 L851.8 242.5 L852.1 244.3 L852.3 244.6 L852.6 244.2 L852.9 246.3 L853.1 246.4 L853.4 245.4 L853.6 247.7 L853.9 248.3 L854.1 247.2 L854.4 247.5 L854.6 248.8 L854.9 250.3 L855.1 250.1 L855.4 251.9 L855.6 251.4 L855.9 251.1 L856.1 253.5 L856.4 251.5 L856.6 253.8 L856.9 253.6 L857.1 253.4 L857.4 254.4 L857.6 256.9 L857.9 254.8 L858.1 257.3 L858.4 258.6 L858.6 257.3 L858.8 257.0 L859.1 258.0 L859.3 258.4 L859.6 261.0 L859.8 259.4 L860.1 261.2 L860.3 262.6 L860.5 262.2 L860.8 263.9 L861.0 262.4 L861.3 264.5 L861.5 264.0 L861.7 265.4 L862.0 265.2 L862.2 265.7 L862.5 266.2 L862.7 266.1 L862.9 267.4 L863.2 268.6 L863.4 268.0 L863.6 269.8 L863.9 270.2 L864.1 271.2 L864.4 272.1 L864.6 272.7 L864.8 272.0 L865.1 273.2 L865.3 273.9 L865.5 274.4 L865.8 273.9 L866.0 273.6 L866.2 274.3 L866.5 274.9 L866.7 277.2 L867.0 275.9 L867.2 276.8 L867.4 277.5 L867.7 277.9 L867.9 278.8 L868.1 278.5 L868.4 281.3 L868.6 280.7 L868.8 282.5 L869.1 282.0 L869.3 281.5 L869.6 282.0 L869.8 284.3 L870.0 283.0 L870.3 283.4 L870.5 284.2 L870.7 285.0 L871.0 287.7 L871.2 287.6 L871.4 287.2 L871.7 289.0 L871.9 289.0 L872.2 289.2 L872.4 289.7 L872.6 289.0 L872.9 290.0 L873.1 291.5 L873.3 292.8 L873.6 291.9 L873.8 294.1 L874.1 292.7 L874.3 293.8 L874.5 295.2 L874.8 294.5 L875.0 296.7 L875.2 295.5 L875.5 296.6 L875.7 297.0 L875.9 298.0 L876.2 298.9 L876.4 300.2 L876.7 298.7 L876.9 301.1 L877.1 300.4 L877.4 301.0 L877.6 303.0 L877.8 302.6 L878.1 301.9 L878.3 303.6 L878.5 302.9 L878.8 305.7 L879.0 304.4 L879.3 306.9 L879.5 306.5 L879.7 306.9 L880.0 306.5 L880.2 307.5 L880.4 309.7 L880.7 308.1 L880.9 310.1 L881.1 310.0 L881.4 310.1 L881.6 310.3 L881.9 312.7 L882.1 313.5 L882.3 311.8 L882.6 312.8 L882.8 313.3 L883.0 315.4 L883.3 315.2 L883.5 314.8 L883.7 316.7 L884.0 316.7 L884.2 317.6 L884.4 318.1 L884.6 319.6 L884.8 319.1 L885.1 319.5 L885.3 321.3 L885.5 320.9 L885.7 320.6 L885.8 322.4 L886.0 322.4 L886.2 323.9 L886.4 322.5 L886.6 325.3 L886.8 325.6 L886.9 324.8 L887.1 326.6 L887.3 327.6 L887.4 327.9 L887.6 326.7 L887.8 328.4 L887.9 328.5 L888.1 330.1 L888.3 329.6 L888.4 330.3 L888.6 330.1 L888.7 332.5 L888.9 332.7 L889.0 333.5 L889.2 333.6 L889.3 333.8 L889.5 335.0 L889.6 334.8 L889.8 336.0 L889.9 335.2 L890.1 335.8 L890.2 338.6 L890.4 338.3 L890.5 338.4 L890.7 339.4 L890.8 340.6 L891.0 340.7 L891.1 342.0 L891.3 340.7 L891.4 342.1 L891.6 343.3 L891.7 343.4 L891.9 343.2 L892.0 344.0 L892.2 344.6 L892.3 345.0 L892.5 346.5 L892.6 347.5 L892.8 347.6 L892.9 347.5 L893.1 348.9 L893.2 347.8 L893.4 350.5 L893.5 349.6 L893.7 351.9 L893.8 350.6 L894.0 351.1 L894.1 352.2 L894.3 354.1 L894.4 354.8 L894.6 353.1 L894.7 355.2 L894.8 355.6 L895.0 357.2 L895.1 356.8 L895.3 356.4 L895.4 358.4 L895.6 359.4 L895.7 359.7 L895.8 358.7 L896.0 358.9 L896.1 361.2 L896.3 361.7 L896.4 362.6 L896.6 362.8 L896.7 363.2 L896.8 364.7 L897.0 364.7 L897.1 363.8 L897.3 364.8 L897.4 366.4 L897.6 366.0 L897.7 368.2 L897.8 366.6 L898.0 369.4 L898.1 369.3 L898.3 369.9 L898.4 369.2 L898.6 370.2 L898.7 371.6 L898.9 371.4 L899.0 372.7 L899.2 372.9 L899.3 374.5 L899.4 374.0 L899.6 374.0 L899.7 375.1 L899.9 376.4 L900.0 376.7 L900.2 376.4 L900.4 377.0 L900.5 378.5 L900.7 377.9 L900.8 379.3 L901.0 380.9 L901.1 379.8 L901.3 382.0 L901.4 382.7 L901.6 383.0 L901.8 383.8 L901.9 383.6 L902.1 383.4 L902.2 385.0 L902.4 385.3 L902.6 385.4 L902.7 387.2 L902.9 386.3 L903.0 387.9 L903.2 386.9 L903.4 387.6 L903.5 389.4 L903.7 388.6 L903.9 389.8 L904.1 389.8 L904.2 392.1 L904.4 393.0 L904.6 393.1 L904.8 392.6 L904.9 394.0 L905.1 394.6 L905.3 395.2 L905.5 394.3 L905.7 396.1 L905.8 396.9 L906.0 396.6 L906.2 398.0 L906.4 397.6 L906.6 398.9 L906.8 399.5 L907.0 400.8 L907.2 399.5 L907.4 400.8 L907.6 401.5 L907.8 401.2 L908.0 403.5 L908.3 402.6 L908.5 403.7 L908.7 403.8 L908.9 404.8 L909.1 405.7 L909.3 405.5 L909.6 406.4 L909.8 408.3 L910.0 408.3 L910.3 409.2 L910.5 409.3 L910.7 408.7 L911.0 409.2 L911.2 409.7 L911.4 410.7 L911.7 412.5 L911.9 411.9 L912.2 412.4 L912.4 412.4 L912.7 413.1 L912.9 415.3 L913.2 415.8 L913.4 414.5 L913.7 415.6 L913.9 417.0 L914.2 416.0 L914.5 417.3 L914.7 419.1 L915.0 417.9 L915.3 419.5 L915.5 419.2 L915.8 420.6 L916.0 421.4 L916.3 421.3 L916.6 422.1 L916.8 423.0 L917.1 422.2 L917.4 423.5 L917.7 423.8 L917.9 424.8 L918.2 425.4 L918.5 425.9 L918.7 426.1 L919.0 426.9 L919.3 427.9 L919.6 427.1 L919.9 429.2 L920.1 429.6 L920.4 428.9 L920.7 430.0 L921.0 431.1 L921.3 431.5 L921.6 430.8 L921.9 433.0 L922.2 433.3 L922.4 432.5 L922.7 433.8 L923.1 435.1 L923.4 433.7 L923.7 434.9 L924.0 435.3 L924.3 435.6 L924.6 437.0 L924.9 437.9 L925.3 437.0 L925.6 437.8 L925.9 438.2 L926.3 438.9 L926.7 438.8 L927.1 440.4 L927.5 440.3 L927.9 441.6 L928.4 441.6 L928.9 442.6 L929.4 441.2 L929.9 441.9 L930.4 442.1 L931.0 442.5 L931.5 442.7 L932.0 444.1 L932.5 444.1 L933.0 443.2 L933.4 443.7 L933.9 445.4 L934.2 445.9 L934.6 446.8 L935.0 447.0 L935.3 446.8 L935.6 447.1 L935.9 448.7 L936.2 448.8 L936.5 449.7 L936.8 448.9 L937.1 450.6 L937.4 451.5 L937.7 450.2 L938.0 451.1 L938.3 451.4 L938.6 453.0 L938.8 453.5 L939.2 452.8 L939.5 454.3 L939.8 455.7 L940.1 455.7 L940.5 456.6 L940.8 455.7 L941.2 457.3 L941.6 457.8 L941.9 456.8 L942.3 458.7 L942.7 458.6 L943.2 458.5 L943.6 458.6 L944.0 459.6 L944.4 460.8 L944.9 460.0 L945.3 461.4 L945.7 460.9 L946.2 461.5 L946.6 462.5 L947.0 462.3 L947.5 462.2 L947.9 463.3 L948.3 463.0 L948.7 463.4 L949.2 464.2 L949.6 466.1 L950.0 465.8 L950.4 466.8 L950.8 466.7 L951.2 467.9 L951.6 466.9 L952.0 468.1 L952.4 468.1 L952.8 468.2 L953.2 469.3 L953.6 470.6 L953.9 470.6 L954.3 469.9 L954.7 470.7 L955.1 472.4 L955.4 472.8 L955.8 473.3 L956.2 473.6 L956.6 473.3 L956.9 473.3 L957.3 474.2 L957.7 475.8 L958.1 474.4 L958.4 476.1 L958.8 475.8 L959.2 477.3 L959.6 476.5 L960.0 477.5 L960.3 479.0 L960.7 478.4 L961.1 478.1 L961.5 478.8 L961.9 480.3 L962.4 479.6 L962.8 481.5 L963.2 482.1 L963.6 481.8 L964.1 481.8 L964.6 481.7 L965.0 482.8 L965.5 484.0 L966.0 483.8 L966.5 483.4 L967.0 484.8 L967.6 483.6 L968.1 485.2 L968.6 484.4 L969.2 484.2 L969.7 485.9 L970.3 485.6 L970.8 486.6 L971.4 485.4 L972.0 485.2 L972.5 486.5 L973.1 486.6 L973.7 487.1 L974.3 487.5 L974.9 487.4 L975.5 488.0 L976.0 487.5 L976.6 488.0 L977.2 486.3 L977.8 488.0 L978.4 487.1 L979.0 486.3 L979.6 486.3 L980.1 486.2 L980.6 485.1 L981.1 485.9 L981.6 484.5 L982.1 484.2 L982.6 484.8 L983.1 483.8 L983.6 484.6 L984.0 483.6 L984.5 482.5 L985.0 482.0 L985.4 483.1 L985.9 482.2 L986.3 482.1 L986.8 482.1 L987.2 480.0 L987.6 481.1 L988.1 480.4 L988.5 479.6 L988.9 478.5 L989.4 478.0 L989.8 477.7 L990.2 477.4 L990.7 476.7 L991.1 477.8 L991.5 477.1 L991.9 475.2 L992.4 475.4 L992.8 475.0 L993.2 475.6 L993.6 473.9 L994.0 474.0 L994.5 474.1 L994.9 473.3 L995.3 472.4 L995.7 472.8 L996.1 471.3 L996.6 470.6 L997.0 471.3 L997.4 469.9 L997.8 469.7 L998.3 470.6 L998.7 470.1 L999.1 468.3 L999.5 469.0 L1000.0 467.3 L1000.4 467.3 L1000.8 467.8 L1001.3 466.3 L1001.7 465.6 L1002.2 465.0 L1002.6 465.4 L1003.0 465.8 L1003.5 465.8 L1003.9 464.7 L1004.4 464.8 L1004.9 463.8 L1005.3 462.8 L1005.8 463.5 L1006.2 462.6 L1006.7 462.9 L1007.2 461.5 L1007.6 460.7 L1008.1 461.4 L1008.6 460.0 L1009.1 460.8 L1009.5 460.3 L1010.0 458.7 L1010.5 458.8 L1011.0 459.0 L1011.5 457.5 L1012.0 458.5 L1012.5 457.0 L1012.9 456.7 L1013.4 456.2 L1013.9 456.4 L1014.4 456.6 L1014.9 456.6 L1015.5 456.3 L1016.0 454.6 L1016.5 456.0 L1017.0 454.9 L1017.6 454.6 L1018.1 455.2 L1018.7 453.3 L1019.2 454.2 L1019.8 454.5 L1020.3 453.5 L1020.9 452.7 L1021.5 454.0 L1022.0 453.0 L1022.6 452.1 L1023.2 452.3 L1023.8 452.7 L1024.4 451.7 L1025.0 452.7 L1025.6 451.5 L1026.2 452.1 L1026.8 452.5 L1027.4 452.6 L1028.0 452.3 L1028.6 451.4 L1029.2 452.4 L1029.8 453.1 L1030.3 452.9 L1030.9 453.5 L1031.5 453.2 L1032.1 453.8 L1032.6 454.0 L1033.2 454.5 L1033.7 454.8 L1034.3 454.6 L1034.8 454.2 L1035.4 453.8 L1035.9 455.1 L1036.5 454.8 L1037.0 456.2 L1037.5 455.9 L1038.0 455.4 L1038.6 456.2 L1039.1 457.4 L1039.6 457.6 L1040.1 457.6 L1040.5 456.8 L1041.0 457.9 L1041.5 458.0 L1041.9 458.3 L1042.4 459.1 L1042.8 459.7 L1043.2 460.6 L1043.7 460.6 L1044.1 461.4 L1044.5 462.4 L1044.9 462.5 L1045.2 461.8 L1045.6 463.3 L1046.0 463.3 L1046.3 464.5 L1046.6 464.9 L1047.0 464.2 L1047.3 466.0 L1047.6 465.8 L1047.9 466.2 L1048.2 466.6 L1048.5 467.5 L1048.8 468.8 L1049.0 469.5 L1049.3 469.6 L1049.6 470.2 L1049.9 470.4 L1050.1 471.5 L1050.4 472.1 L1050.6 471.4 L1050.9 471.5 L1051.1 473.3 L1051.4 473.0 L1051.6 474.2 L1051.8 475.3 L1052.1 475.8 L1052.3 475.2 L1052.5 475.7 L1052.8 477.1 L1053.0 476.7 L1053.2 478.5 L1053.4 478.1 L1053.7 478.7 L1053.9 478.9 L1054.1 479.5 L1054.3 479.8 L1054.5 481.2 L1054.7 480.9 L1055.0 483.0 L1055.2 483.5 L1055.4 483.9 L1055.6 483.7 L1055.8 485.2 L1056.0 484.8 L1056.2 485.8 L1056.4 486.4 L1056.6 487.0 L1056.8 487.2 L1057.0 488.7 L1057.2 488.2 L1057.4 489.0 L1057.6 490.5 L1057.8 490.7 L1058.0 491.6 L1058.2 491.8 L1058.4 491.0 L1058.6 493.3 L1058.8 493.1 L1059.0 493.1 L1059.2 494.6 L1059.3 494.6 L1059.5 494.9 L1059.7 495.6 L1059.9 496.0 L1060.1 497.3 L1060.3 498.1 L1060.5 497.7 L1060.6 498.2 L1060.8 498.9 L1061.0 499.0 L1061.2 499.9 L1061.4 500.4 L1061.6 501.8 L1061.7 501.3 L1061.9 502.5 L1062.1 504.0 L1062.3 503.9 L1062.5 504.0 L1062.6 504.2 L1062.8 505.3 L1063.0 505.9 L1063.2 506.8 L1063.3 507.0 L1063.5 507.4 L1063.7 508.2 L1063.9 509.4 L1064.0 510.1 L1064.2 509.5 L1064.4 509.9 L1064.5 511.9 L1064.7 511.6 L1064.9 512.5 L1065.0 512.2 L1065.2 513.7 L1065.4 514.8 L1065.5 515.5 L1065.7 516.1 L1065.8 516.2 L1066.0 515.8 L1066.1 517.2 L1066.3 517.7 L1066.4 518.1 L1066.6 518.5 L1066.7 518.6 L1066.9 519.2 L1067.0 521.2 L1067.2 520.4 L1067.3 521.2 L1067.5 522.5 L1067.6 523.8 L1067.8 523.8 L1067.9 524.8 L1068.1 524.5 L1068.2 524.9 L1068.3 525.8 L1068.5 526.0 L1068.6 527.2 L1068.8 526.9 L1068.9 527.7 L1069.1 528.5 L1069.2 529.5 L1069.4 529.4 L1069.5 529.9 L1069.7 531.6 L1069.8 531.4 L1070.0 531.9 L1070.1 532.1 L1070.3 533.8 L1070.5 534.3 L1070.6 534.1 L1070.8 535.5 L1070.9 534.9 L1071.1 535.6 L1071.3 536.9 L1071.4 537.6 L1071.6 537.8 L1071.8 538.0 L1071.9 539.4 L1072.1 539.0 L1072.3 540.6 L1072.5 541.1 L1072.7 542.2 L1072.8 542.0 L1073.0 542.1 L1073.2 543.3 L1073.4 543.0 L1073.6 544.7 L1073.8 544.1 L1074.0 545.6 L1074.2 545.4 L1074.4 545.7 L1074.7 547.5 L1074.9 547.0 L1075.1 549.0 L1075.3 549.5 L1075.5 549.5 L1075.8 550.2 L1076.0 551.2 L1076.3 550.3 L1076.5 552.2 L1076.8 552.5 L1077.0 552.4 L1077.3 552.4 L1077.6 554.3 L1077.9 553.7 L1078.2 554.0 L1078.5 555.5 L1078.8 555.7 L1079.1 556.3 L1079.4 557.6 L1079.7 557.7 L1080.0 557.5 L1080.3 558.4 L1080.6 559.2 L1080.9 559.6 L1081.2 559.1 L1081.6 561.2 L1081.9 560.1 L1082.2 561.3 L1082.6 562.3 L1082.9 561.6 L1083.2 562.9 L1083.6 563.7 L1083.9 564.4 L1084.3 564.0 L1084.6 564.1 L1085.0 564.6 L1085.4 566.5 L1085.7 566.7 L1086.1 567.3 L1086.5 567.8 L1086.9 567.2 L1087.3 567.7 L1087.6 568.5 L1088.0 569.8 L1088.4 568.8 L1088.8 569.5 L1089.2 570.7 L1089.6 571.0 L1090.1 571.8 L1090.5 571.5 L1090.9 572.8 L1091.3 572.5 L1091.7 572.7 L1092.2 573.6 L1092.6 573.5 L1093.0 573.8 L1093.5 573.9 L1093.9 574.3 L1094.3 575.9 L1094.8 576.6 L1095.3 575.7 L1095.7 576.3 L1096.2 577.0 L1096.7 576.9 L1097.2 577.0 L1097.7 577.8 L1098.2 579.0 L1098.7 578.6 L1099.2 578.8 L1099.8 579.5 L1100.3 578.8 L1100.8 579.4 L1101.4 579.9 L1102.0 579.7 L1102.5 580.7 L1103.1 579.8 L1103.7 580.8 L1104.3 580.6 L1104.9 581.4 L1105.5 580.1 L1106.1 580.1 L1106.7 580.6 L1107.3 580.6 L1107.9 581.2 L1108.5 581.2 L1109.1 581.1 L1109.7 580.1 L1110.3 580.3 L1110.8 580.7 L1111.4 580.3 L1112.0 579.6 L1112.5 580.4 L1113.1 579.9 L1113.7 579.0 L1114.2 578.3 L1114.8 578.9 L1115.3 578.1 L1115.9 577.7 L1116.4 578.3 L1116.9 577.2 L1117.5 577.9 L1118.0 576.9 L1118.6 576.8 L1119.1 576.8 L1119.6 577.0 L1120.1 576.2 L1120.6 576.0 L1121.1 576.0 L1121.6 574.7 L1122.1 574.8 L1122.5 573.6 L1123.0 573.9 L1123.4 573.8 L1123.8 572.5 L1124.2 572.8 L1124.5 571.6 L1124.9 571.0 L1125.2 571.8 L1125.6 571.2 L1125.9 569.6 L1126.2 569.9 L1126.5 568.3 L1126.7 568.7 L1127.0 568.2 L1127.3 567.3 L1127.5 567.0 L1127.8 566.6 L1128.0 565.2 L1128.2 564.9 L1128.5 565.2 L1128.7 564.0 L1128.9 563.9 L1129.1 563.4 L1129.3 562.9 L1129.5 562.1 L1129.7 562.0 L1130.0 560.5 L1130.2 560.0 L1130.4 559.4 L1130.6 559.6 L1130.7 558.1 L1130.9 558.5 L1131.1 557.1 L1131.3 557.3 L1131.5 556.6 L1131.7 556.2 L1131.9 554.8 L1132.1 555.3 L1132.3 553.6 L1132.5 554.1 L1132.7 552.4 L1132.9 551.5 L1133.1 552.3 L1133.4 551.2 L1133.6 550.4 L1133.8 550.8 L1134.0 548.7 L1134.2 549.5 L1134.4 547.6 L1134.7 548.5 L1134.9 547.2 L1135.1 547.4 L1135.3 545.5 L1135.6 546.3 L1135.8 544.9 L1136.0 544.0 L1136.2 544.4 L1136.5 543.1 L1136.7 542.8 L1136.9 541.5 L1137.2 542.1 L1137.4 541.3 L1137.6 541.1 L1137.9 539.5 L1138.1 539.3 L1138.3 538.6 L1138.6 539.0 L1138.8 537.0 L1139.0 537.2 L1139.2 537.1 L1139.5 535.5 L1139.7 535.3 L1139.9 535.5 L1140.1 535.2 L1140.3 534.1 L1140.6 533.9 L1140.8 532.5 L1141.0 532.4 L1141.2 532.4 L1141.4 530.3 L1141.6 530.4 L1141.8 530.3 L1142.0 528.9 L1142.2 529.5 L1142.4 527.9 L1142.6 527.5 L1142.7 526.6 L1142.9 526.7 L1143.1 526.2 L1143.3 526.1 L1143.5 524.2 L1143.6 523.4 L1143.8 522.9 L1144.0 522.7 L1144.1 521.6 L1144.3 522.6 L1144.5 521.5 L1144.6 521.3 L1144.8 520.5 L1144.9 519.3 L1145.1 519.0 L1145.2 518.5 L1145.4 517.0 L1145.6 518.1 L1145.7 516.2 L1145.9 515.3 L1146.0 515.2 L1146.2 515.6 L1146.3 514.4 L1146.5 514.1 L1146.6 512.5 L1146.8 513.0 L1146.9 511.7 L1147.1 511.8 L1147.2 510.7 L1147.4 509.9 L1147.5 510.0 L1147.7 509.5 L1147.8 508.7 L1148.0 508.8 L1148.1 507.3 L1148.3 507.5 L1148.4 505.5 L1148.6 506.6 L1148.7 505.1 L1148.9 504.9 L1149.0 504.1 L1149.2 503.3 L1149.4 502.9 L1149.5 502.1 L1149.7 500.9 L1149.8 500.4 L1150.0 500.9 L1150.2 500.6 L1150.3 500.1 L1150.5 498.5 L1150.7 498.5 L1150.8 498.3 L1151.0 497.9 L1151.2 495.8 L1151.3 495.1 L1151.5 496.2 L1151.7 493.8 L1151.8 494.9 L1152.0 494.4 L1152.2 492.2 L1152.3 493.3 L1152.5 491.9 L1152.7 490.8 L1152.8 490.8 L1153.0 489.7 L1153.2 488.7 L1153.3 488.2 L1153.5 487.9 L1153.7 487.8 L1153.8 487.7 L1154.0 486.0 L1154.2 486.5 L1154.3 486.0 L1154.5 485.7 L1154.7 484.9 L1154.9 483.7 L1155.0 482.3 L1155.2 482.4 L1155.4 483.0 L1155.6 481.7 L1155.7 480.8 L1155.9 481.0 L1156.1 479.4 L1156.3 478.8 L1156.5 479.1 L1156.6 477.3 L1156.8 478.2 L1157.0 477.5 L1157.2 476.7 L1157.4 476.0 L1157.6 475.6 L1157.8 474.8 L1158.0 474.3 L1158.2 474.1 L1158.4 472.4 L1158.6 472.1 L1158.8 471.7 L1159.0 471.3 L1159.2 471.1 L1159.4 469.6 L1159.6 468.7 L1159.9 469.7 L1160.1 467.8 L1160.3 468.3 L1160.6 466.4 L1160.8 466.4 L1161.1 466.5 L1161.3 466.6 L1161.6 465.9 L1161.8 464.8 L1162.1 464.8 L1162.4 462.8 L1162.7 463.9 L1163.0 463.2 L1163.3 462.3 L1163.6 460.5 L1163.9 460.3 L1164.2 459.7 L1164.5 460.3 L1164.9 460.1 L1165.2 459.9 L1165.5 458.9 L1165.9 457.7 L1166.2 456.8 L1166.6 457.7 L1167.0 457.1 L1167.3 455.5 L1167.7 455.8 L1168.1 455.6 L1168.5 453.7 L1168.8 454.0 L1169.2 454.7 L1169.6 453.4 L1170.0 452.8 L1170.4 452.4 L1170.7 452.8 L1171.1 452.4 L1171.5 450.5 L1171.9 449.7 L1172.3 451.0 L1172.7 449.0 L1173.1 449.2 L1173.5 447.9 L1173.9 448.8 L1174.2 448.8 L1174.6 447.4 L1175.0 447.5 L1175.4 446.2 L1175.9 445.7 L1176.3 445.1 L1176.7 446.1 L1177.1 444.2 L1177.5 443.2 L1177.9 444.7 L1178.3 443.1 L1178.8 442.5 L1179.2 443.1 L1179.7 442.8 L1180.1 440.9 L1180.6 440.8 L1181.0 441.6 L1181.5 440.7 L1182.0 439.9 L1182.5 440.7 L1183.0 439.5 L1183.5 439.4 L1184.0 438.4 L1184.6 437.8 L1185.1 438.7 L1185.7 437.6 L1186.3 439.0 L1186.9 438.4 L1187.5 437.0 L1188.1 438.2 L1188.7 437.4 L1189.3 438.6 L1189.9 438.1 L1190.4 438.8 L1191.0 438.0 L1191.6 438.8 L1192.1 438.7 L1192.6 439.5 L1193.1 438.7 L1193.6 440.5 L1194.1 441.0 L1194.6 441.0 L1195.1 440.3 L1195.6 440.8 L1196.0 440.7 L1196.5 442.2 L1196.9 443.5 L1197.4 442.1 L1197.8 443.5 L1198.3 443.6 L1198.7 443.1 L1199.1 444.4 L1199.5 444.5 L1199.9 444.7 L1200.3 446.9 L1200.7 447.0 L1201.1 445.9 L1201.5 446.5 L1201.9 446.9 L1202.2 448.0 L1202.6 449.6 L1203.0 450.0 L1203.3 450.6 L1203.7 449.4 L1204.0 450.6 L1204.4 450.6 L1204.7 452.2 L1205.0 451.4 L1205.4 452.4 L1205.7 452.6 L1206.0 454.4 L1206.4 454.5 L1206.7 454.1 L1207.0 454.1 L1207.3 455.7 L1207.6 455.8 L1207.9 457.3 L1208.2 457.5 L1208.5 457.6 L1208.8 459.0 L1209.1 458.8 L1209.4 458.9 L1209.6 460.0 L1209.9 459.5 L1210.2 461.6 L1210.4 461.6 L1210.7 461.0 L1210.9 462.9 L1211.2 462.3 L1211.4 462.7 L1211.6 464.8 L1211.8 464.5 L1212.1 465.9 L1212.3 464.9 L1212.5 466.1 L1212.7 466.1 L1212.9 467.6 L1213.1 467.5 L1213.3 469.6 L1213.5 468.8 L1213.7 470.1 L1213.9 469.9 L1214.1 470.6 L1214.3 472.0 L1214.5 471.1 L1214.6 473.5 L1214.8 473.4 L1215.0 474.3 L1215.2 474.8 L1215.3 474.9 L1215.5 474.9 L1215.7 476.0 L1215.8 477.5 L1216.0 477.9 L1216.1 478.4 L1216.3 477.6 L1216.4 478.9 L1216.6 480.1 L1216.7 480.0 L1216.9 479.9 L1217.0 481.7 L1217.2 482.5 L1217.3 482.1 L1217.4 483.4 L1217.6 483.1 L1217.7 484.3 L1217.8 485.2 L1218.0 485.2 L1218.1 485.9 L1218.2 486.1 L1218.4 487.5 L1218.5 488.2 L1218.6 488.4 L1218.7 488.7 L1218.9 490.4 L1219.0 489.4 L1219.1 491.5 L1219.2 492.1 L1219.3 491.8 L1219.5 492.1 L1219.6 492.3 L1219.7 494.1 L1219.8 494.5 L1219.9 495.4 L1220.1 495.2 L1220.2 495.5 L1220.3 496.7 L1220.4 497.6 L1220.5 498.6 L1220.6 499.1 L1220.8 498.4 L1220.9 499.5 L1221.0 500.6 L1221.1 501.1 L1221.2 501.5 L1221.3 501.4 L1221.5 502.4 L1221.6 502.8 L1221.7 503.4 L1221.8 505.0 L1221.9 504.2 L1222.0 505.8 L1222.2 506.2 L1222.3 507.1 L1222.4 507.1 L1222.5 508.5 L1222.6 508.0 L1222.7 508.4 L1222.9 510.0 L1223.0 510.9 L1223.1 510.6 L1223.2 511.3 L1223.3 511.3 L1223.5 512.0 L1223.6 512.6 L1223.7 512.9 L1223.8 513.7 L1224.0 514.3 L1224.1 515.8 L1224.2 516.2 L1224.3 517.2 L1224.5 516.7 L1224.6 517.5 L1224.7 519.1 L1224.9 518.1 L1225.0 520.0 L1225.1 519.4 L1225.3 521.0 L1225.4 522.0 L1225.6 522.1 L1225.7 521.9 L1225.8 523.5 L1226.0 523.5 L1226.1 523.4 L1226.3 524.0 L1226.4 524.8 L1226.6 526.3 L1226.7 527.0 L1226.9 527.1 L1227.0 528.2 L1227.2 529.0 L1227.3 528.6 L1227.5 530.0 L1227.6 529.8 L1227.8 531.4 L1227.9 530.5 L1228.1 532.3 L1228.2 532.5 L1228.4 532.6 L1228.5 533.7 L1228.7 534.0 L1228.8 534.5 L1229.0 534.7 L1229.1 535.9 L1229.3 536.8 L1229.4 537.7 L1229.6 536.8 L1229.7 538.5 L1229.9 539.0 L1230.0 539.2 L1230.2 539.6 L1230.3 540.9 L1230.5 541.6 L1230.6 541.1 L1230.8 541.9 L1230.9 543.5 L1231.1 544.1 L1231.2 544.6 L1231.4 544.7 L1231.5 545.8 L1231.7 546.4 L1231.8 545.8 L1232.0 547.1 L1232.1 547.9 L1232.3 547.7 L1232.4 548.8 L1232.6 549.7 L1232.7 550.3 L1232.9 550.0 L1233.0 550.6 L1233.2 551.4 L1233.3 551.9 L1233.5 552.5 L1233.6 553.9 L1233.8 553.9 L1233.9 554.8 L1234.1 555.6 L1234.2 554.8 L1234.4 555.4 L1234.5 557.0 L1234.7 556.8 L1234.8 557.6 L1235.0 558.0 L1235.1 559.4 L1235.3 560.2 L1235.5 560.1 L1235.6 560.3 L1235.8 560.9 L1235.9 561.3 L1236.1 562.2 L1236.2 562.6 L1236.4 563.1 L1236.5 563.7 L1236.7 564.3 L1236.8 566.1 L1237.0 566.6 L1237.1 566.4 L1237.3 567.2 L1237.4 568.3 L1237.6 568.9 L1237.7 569.3 L1237.9 570.3 L1238.0 569.9 L1238.2 570.2 L1238.3 570.6 L1238.5 572.2 L1238.7 572.0 L1238.8 572.5 L1239.0 573.6 L1239.1 574.5 L1239.3 575.3 L1239.4 574.8 L1239.6 575.6 L1239.7 576.1 L1239.9 576.6 L1240.0 577.6 L1240.2 578.2 L1240.4 579.2 L1240.5 578.7 L1240.7 579.3 L1240.8 580.0 L1241.0 580.4 L1241.1 581.2 L1241.3 581.9 L1241.4 583.1 L1241.6 582.7 L1241.8 583.4 L1241.9 584.5 L1242.1 584.8 L1242.2 585.6 L1242.4 586.2 L1242.6 586.9 L1242.7 588.0 L1242.9 587.9 L1243.0 588.8 L1243.2 589.7 L1243.4 589.3 L1243.5 590.4 L1243.7 591.4 L1243.9 591.0 L1244.1 591.9 L1244.3 592.3 L1244.4 593.3 L1244.6 594.0 L1244.8 594.9 L1245.0 595.0 L1245.2 596.1 L1245.4 596.1 L1245.6 596.8 L1245.8 597.0 L1246.1 598.0 L1246.3 597.8 L1246.5 599.1 L1246.7 599.9 L1246.9 600.4 L1247.2 601.1 L1247.4 601.3 L1247.6 601.7 L1247.9 602.8 L1248.1 603.4 L1248.3 603.9 L1248.6 603.2 L1248.8 604.9 L1249.0 604.5 L1249.3 605.8 L1249.5 606.3 L1249.7 606.7 L1250.0 607.5 L1250.2 607.4 L1250.4 608.7 L1250.7 608.4 L1250.9 609.7 L1251.2 609.6 L1251.4 610.9 L1251.6 610.8 L1251.9 611.8 L1252.1 612.7 L1252.4 612.2 L1252.6 613.5 L1252.9 613.7 L1253.1 613.7 L1253.4 615.4 L1253.6 615.8 L1253.9 615.6 L1254.1 617.0 L1254.4 616.4 L1254.7 617.4 L1255.0 618.2 L1255.3 619.1 L1255.6 619.7 L1255.9 619.2 L1256.2 620.3 L1256.5 620.0 L1256.8 621.2 L1257.2 622.2 L1257.6 622.5 L1258.0 622.7 L1258.4 623.0 L1258.8 623.9 L1259.2 623.8 L1259.7 624.0 L1260.2 624.4 L1260.8 624.4 L1261.3 625.5 L1261.9 625.1 L1262.5 624.9 L1263.0 625.8 L1263.6 626.1 L1264.2 625.4 L1264.8 625.0 L1265.4 624.9 L1266.0 624.9 L1266.6 625.9 L1267.2 625.3 L1267.8 625.0 L1268.4 625.3 L1268.9 625.3 L1269.5 624.6 L1270.0 624.9 L1270.6 623.4 L1271.1 624.1 L1271.7 623.1 L1272.2 622.9 L1272.7 623.0 L1273.3 622.5 L1273.8 622.3 L1274.3 621.5 L1274.8 621.9 L1275.3 621.1 L1275.8 620.7 L1276.3 620.3 L1276.8 620.6 L1277.2 619.4 L1277.7 619.9 L1278.1 619.4 L1278.5 618.2 L1278.9 618.3 L1279.2 617.3 L1279.6 617.3 L1279.9 616.8 L1280.2 615.7 L1280.5 615.1 L1280.8 615.1 L1281.1 614.3 L1281.4 613.9 L1281.6 613.3 L1281.9 612.3 L1282.1 613.1 L1282.3 612.2 L1282.5 611.3 L1282.7 610.2 L1282.9 610.6 L1283.1 609.0 L1283.3 609.1 L1283.5 607.9 L1283.7 607.5 L1283.9 606.8 L1284.1 606.4 L1284.3 605.8 L1284.5 605.2 L1284.6 605.1 L1284.8 604.3 L1285.0 604.7 L1285.2 602.8 L1285.4 602.2 L1285.5 601.9 L1285.7 601.4 L1285.9 601.2 L1286.0 600.8 L1286.2 600.5 L1286.4 599.9 L1286.5 598.6 L1286.7 598.2 L1286.9 596.9 L1287.0 597.5 L1287.2 596.0 L1287.4 595.2 L1287.5 595.6 L1287.7 594.6 L1287.8 593.6 L1288.0 593.2 L1288.2 592.4 L1288.3 592.5 L1288.5 592.1 L1288.7 591.3 L1288.8 590.8 L1289.0 589.4 L1289.1 589.3 L1289.3 588.3 L1289.4 588.3 L1289.6 587.7 L1289.8 586.6 L1289.9 587.1 L1290.1 585.5 L1290.2 585.6 L1290.4 585.5 L1290.6 585.0 L1290.7 583.4 L1290.9 582.8 L1291.0 582.2 L1291.2 581.6 L1291.4 581.7 L1291.5 580.5 L1291.7 580.5 L1291.8 579.1 L1292.0 579.0 L1292.2 578.8 L1292.3 577.8 L1292.5 577.8 L1292.6 576.3 L1292.8 576.7 L1293.0 575.8 L1293.1 575.1 L1293.3 575.2 L1293.5 574.6 L1293.6 574.0 L1293.8 573.1 L1294.0 572.6 L1294.1 571.6 L1294.3 571.0 L1294.5 570.3 L1294.7 570.0 L1294.8 568.5 L1295.0 569.5 L1295.2 567.5 L1295.4 567.8 L1295.5 567.4 L1295.7 566.8 L1295.9 565.6 L1296.1 565.2 L1296.2 564.7 L1296.4 563.7 L1296.6 563.5 L1296.8 562.3 L1297.0 562.4 L1297.1 561.2 L1297.3 560.9 L1297.5 560.0 L1297.7 559.4 L1297.9 559.7 L1298.1 558.4 L1298.2 558.1 L1298.4 558.6 L1298.6 557.6 L1298.8 557.5 L1299.0 556.6 L1299.2 555.1 L1299.3 555.7 L1299.5 555.0 L1299.7 554.4 L1299.9 552.6 L1300.1 552.5 L1300.3 551.6 L1300.5 551.1 L1300.6 551.3 L1300.8 551.1 L1301.0 550.2 L1301.2 548.8 L1301.4 549.3 L1301.6 548.4 L1301.7 548.2 L1301.9 547.0 L1302.1 546.4 L1302.3 545.6 L1302.5 544.5 L1302.7 544.2 L1302.8 544.1 L1303.0 544.0 L1303.2 542.6 L1303.4 542.8 L1303.6 541.2 L1303.7 541.2 L1303.9 540.9 L1304.1 539.6 L1304.3 539.4 L1304.5 539.3 L1304.6 537.9 L1304.8 537.5 L1305.0 537.4 L1305.2 536.9 L1305.3 536.6 L1305.5 536.0 L1305.7 535.6 L1305.8 534.9 L1306.0 534.6 L1306.2 533.4 L1306.4 533.5 L1306.5 532.8 L1306.7 531.3 L1306.9 530.9 L1307.0 530.6 L1307.2 530.4 L1307.3 529.7 L1307.5 528.2 L1307.6 528.2 L1307.8 527.8 L1307.9 526.1 L1308.0 526.7 L1308.2 524.9 L1308.3 525.7 L1308.5 525.4 L1308.6 524.7 L1308.7 523.0 L1308.8 522.8 L1309.0 522.8 L1309.1 520.8 L1309.2 521.1 L1309.3 519.7 L1309.5 520.1 L1309.6 519.0 L1309.7 519.2 L1309.8 518.7 L1309.9 517.3 L1310.1 516.2 L1310.2 515.5 L1310.3 516.0 L1310.4 515.2 L1310.5 515.1 L1310.6 513.2 L1310.8 512.7 L1310.9 513.0 L1311.0 511.7 L1311.1 512.0 L1311.2 510.5 L1311.3 509.9 L1311.4 509.5 L1311.6 509.1 L1311.7 508.8 L1311.8 508.9 L1311.9 507.1 L1312.0 507.5 L1312.1 505.9 L1312.3 506.2 L1312.4 505.8 L1312.5 503.8 L1312.6 504.2 L1312.7 503.7 L1312.8 502.9 L1313.0 502.1 L1313.1 501.7 L1313.2 501.8 L1313.3 499.6 L1313.5 499.7 L1313.6 499.4 L1313.7 498.9 L1313.8 498.1 L1314.0 496.9 L1314.1 497.5 L1314.2 496.9 L1314.4 496.6 L1314.5 494.6 L1314.6 493.7 L1314.8 494.7 L1314.9 492.6 L1315.1 493.4 L1315.2 493.0 L1315.4 492.4 L1315.6 490.7 L1315.7 491.4 L1315.9 489.4 L1316.0 488.5 L1316.2 488.9 L1316.4 487.6 L1316.6 487.1 L1316.7 487.4 L1316.9 485.9 L1317.1 485.1 L1317.3 484.8 L1317.4 484.9 L1317.6 485.1 L1317.8 483.7 L1318.0 483.4 L1318.1 483.2 L1318.3 482.5 L1318.5 482.0 L1318.7 480.8 L1318.9 480.4 L1319.0 479.0 L1319.2 478.2 L1319.4 478.8 L1319.6 478.0 L1319.8 477.7 L1319.9 476.3 L1320.1 477.2 L1320.3 475.0 L1320.5 476.0 L1320.6 474.0 L1320.8 473.3 L1321.0 473.9 L1321.2 472.5 L1321.4 472.2 L1321.5 471.3 L1321.7 471.3 L1321.9 470.0 L1322.1 469.1 L1322.2 469.4 L1322.4 469.0 L1322.6 467.9 L1322.8 468.1 L1322.9 467.5 L1323.1 466.3 L1323.3 466.7 L1323.5 466.0 L1323.6 464.5 L1323.8 463.3 L1324.0 463.9 L1324.1 462.9 L1324.3 462.6 L1324.5 460.9 L1324.7 460.5 L1324.8 460.3 L1325.0 460.1 L1325.2 459.1 L1325.3 459.4 L1325.5 458.3 L1325.7 458.5 L1325.9 458.2 L1326.0 456.9 L1326.2 456.1 L1326.4 455.6 L1326.6 455.5 L1326.7 455.0 L1326.9 454.1 L1327.1 453.0 L1327.2 453.3 L1327.4 451.4 L1327.6 452.0 L1327.8 450.8 L1327.9 451.2 L1328.1 450.1 L1328.3 448.3 L1328.5 448.8 L1328.7 447.5 L1328.8 447.2 L1329.0 446.5 L1329.2 445.6 L1329.4 445.0 L1329.6 445.3 L1329.8 443.9 L1330.0 444.5 L1330.2 442.5 L1330.4 443.1 L1330.7 442.6 L1330.9 442.8 L1331.1 440.8 L1331.4 440.2 L1331.7 440.5 L1332.0 440.3 L1332.3 439.9 L1332.6 439.6 L1332.9 438.4 L1333.2 438.3 L1333.6 437.5 L1334.0 436.0 L1334.3 435.5 L1334.7 436.3 L1335.1 436.3 L1335.6 434.7 L1336.0 433.7 L1336.4 434.0 L1336.8 433.0 L1337.3 432.8 L1337.7 432.5 L1338.1 432.8 L1338.5 433.0 L1339.0 430.8 L1339.4 432.1 L1339.8 430.5 L1340.3 429.9 L1340.7 430.9 L1341.2 428.4 L1341.6 429.9 L1342.1 429.0 L1342.5 428.7 L1343.0 428.4 L1343.5 428.5 L1344.0 427.2 L1344.5 427.9 L1345.1 427.2 L1345.6 425.8 L1346.2 426.1 L1346.8 425.2 L1347.3 425.9 L1347.9 425.6 L1348.5 425.3 L1349.1 426.8 L1349.7 426.1 L1350.3 426.9 L1350.9 427.2 L1351.4 427.4 L1352.0 427.6 L1352.5 427.1 L1353.0 428.4 L1353.5 427.9 L1354.0 428.9 L1354.4 428.5 L1354.9 429.1 L1355.4 428.5 L1355.8 429.1 L1356.2 430.0 L1356.6 431.0 L1357.1 431.8 L1357.5 432.5 L1357.9 432.9 L1358.3 432.5 L1358.7 432.8 L1359.0 434.3 L1359.4 433.1 L1359.8 433.4 L1360.2 435.6 L1360.5 435.5 L1360.9 436.3 L1361.3 436.0 L1361.6 436.1 L1362.0 437.5 L1362.3 437.8 L1362.7 439.0 L1363.0 439.2 L1363.4 440.1 L1363.7 440.0 L1364.1 440.4 L1364.4 441.0 L1364.7 441.9 L1365.1 441.2 L1365.4 441.5 L1365.7 443.3 L1366.0 442.5 L1366.3 443.4 L1366.6 444.5 L1367.0 444.6 L1367.3 444.9 L1367.6 446.6 L1367.9 446.0 L1368.2 447.1 L1368.5 447.4 L1368.7 447.4 L1369.0 448.3 L1369.3 449.6 L1369.6 448.4 L1369.9 450.2 L1370.2 449.6 L1370.4 452.0 L1370.7 451.9 L1371.0 451.9 L1371.2 452.3 L1371.5 452.3 L1371.7 453.5 L1372.0 453.3 L1372.2 454.1 L1372.5 456.0 L1372.7 455.9 L1372.9 456.4 L1373.2 456.7 L1373.4 457.3 L1373.6 458.4 L1373.8 458.3 L1374.1 458.8 L1374.3 459.4 L1374.5 460.6 L1374.7 461.2 L1374.9 462.1 L1375.1 462.7 L1375.4 462.6 L1375.6 462.2 L1375.8 464.6 L1376.0 463.3 L1376.2 465.8 L1376.4 464.8 L1376.6 466.8 L1376.8 466.9 L1377.0 467.2 L1377.2 467.9 L1377.4 467.2 L1377.6 468.1 L1377.8 470.1 L1378.0 470.8 L1378.1 470.3 L1378.3 471.6 L1378.5 471.3 L1378.7 473.0 L1378.8 472.3 L1379.0 474.1 L1379.2 474.8 L1379.3 473.8 L1379.5 474.8 L1379.6 475.0 L1379.8 475.6 L1379.9 476.7 L1380.1 478.1 L1380.2 478.9 L1380.4 477.7 L1380.5 479.4 L1380.7 480.6 L1380.8 480.1 L1381.0 480.6 L1381.1 482.3 L1381.3 481.7 L1381.4 481.9 L1381.6 484.1 L1381.7 483.9 L1381.9 485.1 L1382.0 484.7 L1382.1 486.0 L1382.3 486.1 L1382.4 486.7 L1382.6 486.5 L1382.7 487.4 L1382.9 487.6 L1383.0 489.7 L1383.2 490.5 L1383.4 490.0 L1383.5 491.2 L1383.7 490.9 L1383.8 491.3 L1384.0 492.3 L1384.2 494.0 L1384.3 493.4 L1384.5 494.6 L1384.7 495.1 L1384.9 495.3 L1385.1 495.7 L1385.3 496.9 L1385.5 496.9 L1385.7 496.8 L1385.9 498.2 L1386.1 497.9 L1386.3 500.0 L1386.5 499.7 L1386.7 499.9 L1386.9 501.4 L1387.1 500.7 L1387.4 502.9 L1387.6 502.8 L1387.8 503.8 L1388.1 504.4 L1388.3 505.2 L1388.6 505.0 L1388.8 504.7 L1389.1 506.5 L1389.3 505.8 L1389.6 506.4 L1389.9 507.5 L1390.2 508.1 L1390.5 508.0 L1390.8 508.9 L1391.1 509.0 L1391.4 509.6 L1391.8 511.5 L1392.1 510.8 L1392.5 511.4 L1392.9 511.5 L1393.3 512.2 L1393.7 512.5 L1394.1 512.5 L1394.6 514.0 L1395.0 514.5 L1395.5 514.4 L1396.0 514.6 L1396.5 515.1 L1397.0 515.9 L1397.5 515.4 L1398.0 516.1 L1398.5 517.0 L1398.9 516.3 L1399.4 517.0 L1399.9 516.9 L1400.3 518.0 L1400.8 517.9 L1401.2 518.6 L1401.6 520.0 L1402.0 519.3 L1402.4 521.0 L1402.7 520.0 L1403.1 522.0 L1403.4 521.0 L1403.8 521.5 L1404.1 522.7 L1404.4 523.1 L1404.8 523.5 L1405.1 524.0 L1405.4 524.8 L1405.7 524.9 L1406.1 526.1 L1406.4 527.0 L1406.7 526.0 L1407.0 526.9 L1407.3 527.8 L1407.6 527.6 L1408.0 529.3 L1408.3 529.6 L1408.6 529.8 L1408.9 530.4 L1409.2 530.2 L1409.5 531.3 L1409.9 531.3 L1410.2 532.6 L1410.5 532.1 L1410.8 532.8 L1411.1 534.1 L1411.4 533.9 L1411.7 534.1 L1412.0 534.7 L1412.3 535.8 L1412.6 536.8 L1412.9 536.9 L1413.2 537.4 L1413.5 537.7 L1413.8 538.1 L1414.1 539.0 L1414.4 539.6 L1414.7 540.4 L1415.0 539.9 L1415.3 541.7 L1415.6 541.9 L1415.9 542.4 L1416.2 542.3 L1416.4 544.0 L1416.7 544.1 L1417.0 544.6 L1417.3 544.6 L1417.6 545.7 L1417.9 546.1 L1418.2 546.8 L1418.5 547.6 L1418.8 547.6 L1419.1 547.2 L1419.4 548.4 L1419.7 549.1 L1420.1 549.8 L1420.4 549.6 L1420.7 549.7 L1421.1 550.7 L1421.4 551.1 L1421.8 551.8 L1422.2 552.4 L1422.6 553.2 L1423.0 553.7 L1423.4 554.1 L1423.8 554.4 L1424.2 554.2 L1424.6 555.6 L1425.0 555.9 L1425.4 556.4 L1425.8 556.0 L1426.2 557.5 L1426.7 556.7 L1427.1 557.0 L1427.5 557.6 L1427.8 558.5 L1428.2 559.5 L1428.6 559.5 L1429.0 559.4 L1429.3 561.1 L1429.7 560.9 L1430.0 561.6 L1430.4 561.8 L1430.7 562.1 L1431.1 563.2 L1431.4 563.2 L1431.8 563.6 L1432.1 563.8 L1432.5 564.3 L1432.9 566.0 L1433.3 565.5 L1433.7 566.7 L1434.2 566.1 L1434.6 566.8 L1435.1 567.5 L1435.6 567.7 L1436.2 567.7 L1436.7 568.6 L1437.3 568.2 L1437.8 568.0 L1438.3 569.6 L1438.9 569.7 L1439.4 569.6 L1439.9 569.5 L1440.4 570.1 L1440.8 570.3 L1441.2 571.7 L1441.6 571.2 L1442.0 572.1 L1442.4 572.7 L1442.8 572.6 L1443.2 573.6 L1443.6 573.9 L1444.0 574.8 L1444.4 574.9 L1444.8 574.3 L1445.3 575.3 L1445.7 575.6 L1446.2 576.3 L1446.8 575.9 L1447.3 577.0 L1447.9 577.3 L1448.4 577.0 L1449.0 576.6 L1449.6 576.6 L1450.2 577.8 L1450.8 578.2 L1451.4 578.2 L1452.0 578.6 L1452.5 578.4 L1453.1 578.1 L1453.7 577.8 L1454.3 578.3 L1454.9 579.3 L1455.4 579.1 L1456.0 579.2 L1456.5 578.6 L1457.1 579.0 L1457.6 579.8 L1458.2 579.7 L1458.7 579.7 L1459.3 580.8 L1459.8 580.9 L1460.4 581.7 L1460.9 581.2 L1461.5 581.8 L1462.1 582.1 L1462.7 581.1 L1463.3 581.1 L1463.9 581.4 L1464.5 582.1 L1465.1 581.0 L1465.7 581.7 L1466.3 582.0 L1466.9 582.4 L1467.5 581.2 L1468.1 582.5 L1468.7 581.3 L1469.3 582.3 L1469.9 582.6 L1470.5 582.4 L1471.0 581.8 L1471.6 582.6 L1472.2 582.4 L1472.7 582.6 L1473.3 583.3 L1473.8 583.0 L1474.4 583.7 L1474.9 583.6 L1475.4 584.7 L1476.0 584.2 L1476.5 585.2 L1477.0 585.1 L1477.6 584.9 L1478.1 585.8 L1478.6 586.6 L1479.1 586.4 L1479.7 586.9 L1480.2 586.5 L1480.8 587.6 L1481.4 586.7 L1481.9 587.7 L1482.5 587.4 L1483.1 587.8 L1483.7 587.4 L1484.3 587.3 L1484.9 587.1 L1485.5 588.1 L1486.1 587.2 L1486.7 586.8 L1487.2 587.3 L1487.8 587.2 L1488.3 587.3 L1488.9 586.7 L1489.4 586.4 L1489.9 585.8 L1490.5 585.6 L1491.0 585.0 L1491.5 584.4 L1492.0 585.2 L1492.5 584.0 L1493.0 583.5 L1493.6 584.4 L1494.1 582.9 L1494.7 583.2 L1495.2 583.3 L1495.8 583.6 L1496.4 583.2 L1497.0 583.2 L1497.6 582.7 L1498.2 582.1 L1498.8 582.9 L1499.4 582.8 L1500.0 582.3 L1500.5 582.5 L1501.1 582.7 L1501.7 583.4 L1502.3 582.4 L1502.9 583.3 L1503.5 582.2 L1504.1 582.3 L1504.7 582.6 L1505.3 583.1 L1505.9 583.1 L1506.5 583.1 L1507.1 583.5 L1507.7 583.0 L1508.3 584.3 L1508.9 584.3 L1509.4 583.4 L1510.0 584.5 L1510.6 584.3 L1511.2 584.7 L1511.8 584.3 L1512.4 585.2 L1512.9 584.4 L1513.5 584.8 L1514.1 585.4 L1514.7 584.8 L1515.2 585.4 L1515.8 586.1 L1516.4 585.7 L1517.0 586.6 L1517.5 585.8 L1518.1 586.1 L1518.7 586.8 L1519.3 587.3 L1519.8 587.3 L1520.4 587.1 L1521.0 586.7 L1521.6 587.8 L1522.1 587.0 L1522.7 587.9 L1523.3 588.3 L1523.9 587.2 L1524.5 587.7 L1525.1 587.9 L1525.7 587.7 L1526.3 588.1 L1526.9 587.8 L1527.5 587.5 L1528.1 587.3 L1528.7 587.6 L1529.3 587.5 L1529.9 587.6 L1530.5 587.8 L1531.1 586.8 L1531.6 588.2 L1532.1 588.2 L1532.6 587.8 L1533.1 589.2 L1533.5 588.4 L1534.0 589.5 L1534.3 590.7 L1534.7 590.4 L1535.1 591.2 L1535.4 591.4 L1535.8 591.4 L1536.1 592.9 L1536.4 593.1 L1536.8 593.7 L1537.1 593.3 L1537.4 594.8 L1537.7 594.3 L1538.1 595.1 L1538.4 596.2 L1538.7 596.9 L1539.0 597.1 L1539.3 597.9 L1539.7 598.5 L1540.0 598.9 L1540.3 599.2 L1540.6 600.1 L1541.0 599.9 L1541.3 600.0 L1541.6 600.7 L1542.0 600.8 L1542.3 601.3 L1542.7 602.2 L1543.0 603.0 L1543.3 602.9 L1543.7 603.7 L1544.0 604.7 L1544.4 605.5 L1544.7 605.9 L1545.0 605.9 L1545.4 606.4 L1545.7 606.4 L1546.1 607.7 L1546.4 607.8 L1546.7 607.8 L1547.1 608.7 L1547.4 609.3 L1547.8 609.3 L1548.1 609.8 L1548.5 611.1 L1548.8 611.3 L1549.1 612.5 L1549.5 611.7 L1549.8 613.1 L1550.2 613.9 L1550.5 613.2 L1550.8 614.7 L1551.2 614.4 L1551.5 614.7 L1551.9 615.8 L1552.2 616.7 L1552.6 616.8 L1552.9 617.8 L1553.3 618.1 L1553.6 617.9 L1554.0 619.1 L1554.3 618.8 L1554.7 619.3 L1555.0 620.1 L1555.4 620.9 L1555.8 620.7 L1556.1 621.0 L1556.5 621.6 L1556.8 622.3 L1557.2 622.5 L1557.6 623.0 L1557.9 623.9 L1558.3 625.1 L1558.7 625.1 L1559.0 626.1 L1559.4 626.1 L1559.7 626.4 L1560.1 627.2 L1560.4 627.2 L1560.8 627.4 L1561.1 627.9 L1561.5 629.2 L1561.8 629.0 L1562.1 629.7 L1562.5 630.8 L1562.8 631.4 L1563.1 630.8 L1563.4 632.1 L1563.7 633.0 L1564.0 633.4 L1564.3 633.2 L1564.6 633.5 L1564.9 634.4 L1565.2 634.5 L1565.4 636.2 L1565.7 636.0 L1566.0 636.7 L1566.3 637.5 L1566.5 637.5 L1566.8 637.8 L1567.0 638.9 L1567.3 639.4 L1567.5 640.4 L1567.8 640.0 L1568.0 641.4 L1568.3 641.7 L1568.5 641.9 L1568.8 642.1 L1569.0 643.5 L1569.3 643.6 L1569.5 644.5 L1569.7 644.6 L1570.0 645.6 L1570.2 645.4 L1570.5 646.3 L1570.7 646.5 L1570.9 647.6 L1571.2 648.2 L1571.4 648.7 L1571.6 649.5 L1571.9 650.2 L1572.1 649.8 L1572.4 651.0 L1572.6 651.6 L1572.8 652.2 L1573.1 652.4 L1573.3 652.8 L1573.6 653.6 L1573.8 653.6 L1574.1 654.7 L1574.3 655.6 L1574.5 655.5 L1574.8 656.5 L1575.0 656.7 L1575.3 657.0 L1575.5 657.8 L1575.8 658.3 L1576.0 658.6 L1576.2 660.2 L1576.5 660.0 L1576.7 661.3 L1577.0 660.7 L1577.2 661.4 L1577.5 662.2 L1577.7 663.4 L1577.9 664.0 L1578.2 663.7 L1578.4 664.9 L1578.7 665.1 L1578.9 666.3 L1579.2 666.7 L1579.4 666.5 L1579.7 666.9 L1579.9 667.9 L1580.1 668.8 L1580.4 668.9 L1580.6 670.1 L1580.9 670.3 L1581.1 670.0 L1581.4 671.2 L1581.6 672.3 L1581.8 672.1 L1582.1 672.4 L1582.3 673.9 L1582.6 673.8 L1582.8 674.9 L1583.1 674.3 L1583.3 674.9 L1583.6 676.3 L1583.8 676.5 L1584.0 676.6 L1584.3 677.2 L1584.5 678.2 L1584.8 679.5 L1585.0 678.8 L1585.3 680.0 L1585.5 681.1 L1585.7 681.0 L1586.0 681.4 L1586.2 681.6 L1586.5 682.2 L1586.7 683.6 L1587.0 683.4 L1587.2 684.6 L1587.5 684.3 L1587.7 685.4 L1587.9 685.5 L1588.2 686.5 L1588.4 686.7 L1588.7 688.4 L1588.9 688.1 L1589.2 688.9 L1589.4 688.9 L1589.6 690.3 L1589.9 689.9 L1590.1 690.9 L1590.4 691.7 L1590.6 692.8 L1590.9 691.8 L1591.1 693.4 L1591.4 692.8 L1591.6 694.1 L1591.8 694.1 L1592.1 694.8 L1592.3 695.8 L1592.6 697.2 L1592.8 697.7 L1593.1 697.6 L1593.3 698.3 L1593.6 698.3 L1593.8 698.4 L1594.1 698.9 L1594.3 700.1 L1594.6 701.3 L1594.8 700.5 L1595.1 700.9 L1595.3 703.2 L1595.6 702.5 L1595.9 704.0 L1596.1 704.3 L1596.4 704.3 L1596.7 705.9 L1596.9 705.7 L1597.2 706.1 L1597.5 707.0 L1597.7 707.9 L1598.0 707.3 L1598.3 708.9 L1598.6 709.8 L1598.8 709.4 L1599.1 709.2 L1599.4 709.9 L1599.7 710.9 L1599.9 711.4 L1600.2 711.5 L1600.5 712.1 L1600.8 712.3 L1601.1 713.5 L1601.3 714.4 L1601.6 713.6 L1601.9 715.1 L1602.2 714.7 L1602.5 717.2 L1602.8 717.0 L1603.0 716.9 L1603.3 718.4 L1603.6 718.4 L1603.9 719.3 L1604.2 720.4 L1604.5 720.5 L1604.8 719.4 L1605.1 719.9 L1605.4 721.5 L1605.7 722.1 L1606.0 722.9 L1606.4 722.7 L1606.7 724.6 L1607.0 724.7 L1607.3 725.1 L1607.7 726.1 L1608.0 725.7 L1608.4 725.7 L1608.7 725.6 L1609.1 727.1 L1609.4 727.0 L1609.8 728.9 L1610.2 729.6 L1610.5 729.8 L1610.9 729.7 L1611.3 730.4 L1611.7 729.8 L1612.1 731.6 L1612.5 731.4 L1612.9 731.7 L1613.4 731.8 L1613.8 732.1 L1614.2 734.0 L1614.7 733.0 L1615.1 734.6 L1615.6 734.4 L1616.0 734.7 L1616.5 735.2 L1617.0 734.8 L1617.5 734.3 L1618.0 736.6 L1618.5 736.1 L1619.0 736.6 L1619.5 735.7 L1620.0 736.9 L1620.5 736.6 L1621.0 737.7 L1621.5 736.8 L1622.1 738.1 L1622.6 737.3 L1623.2 738.8 L1623.7 738.1 L1624.3 739.1 L1624.8 740.6 L1625.4 739.4 L1625.9 740.2 L1626.5 739.5 L1627.0 740.6 L1627.6 739.3 L1628.2 741.0 L1628.7 741.1 L1629.3 741.4 L1629.9 742.4 L1630.4 741.4 L1631.0 740.9 L1631.6 741.7 L1632.1 742.1 L1632.7 742.3 L1633.3 742.2 L1633.8 744.0 L1634.4 743.7 L1635.0 742.5 L1635.6 743.9 L1636.2 744.2 L1636.8 743.3 L1637.3 743.5 L1637.9 742.6 L1638.5 744.1 L1639.1 744.9 L1639.7 744.4 L1640.3 743.9 L1640.9 743.8 L1641.5 743.4 L1642.1 744.1 L1642.7 744.3 L1643.3 744.9 L1643.9 744.7 L1644.5 745.4 L1645.1 742.9 L1645.7 744.5 L1646.3 744.7 L1646.9 744.1 L1647.5 744.2 L1648.1 745.3 L1648.7 745.2 L1649.3 743.3 L1649.9 743.7 L1650.5 744.6 L1651.1 744.6 L1651.7 743.4 L1652.3 743.9 L1652.9 744.4 L1653.5 744.1 L1654.1 743.7 L1654.7 743.8 L1655.3 744.7 L1655.9 744.1 L1656.5 745.7 L1657.1 743.8 L1657.7 743.8 L1658.3 744.7 L1658.9 745.5 L1659.5 743.8 L1660.1 744.7 L1660.7 745.3 L1661.3 744.8 L1661.9 743.6 L1662.5 744.3 L1663.1 744.0 L1663.7 746.0 L1664.3 745.3 L1664.9 745.2 L1665.5 744.5 L1666.1 744.4 L1666.7 745.1 L1667.3 745.2 L1667.9 744.0 L1668.5 745.2 L1669.1 745.3 L1669.7 745.4 L1670.3 744.7 L1670.9 744.0 L1671.5 743.6 L1672.1 745.4 L1672.7 745.8 L1673.3 746.2 L1673.9 744.5 L1674.5 746.0 L1675.1 745.0 L1675.7 746.0 L1676.3 745.5 L1676.9 744.6 L1677.5 744.2 L1678.1 745.4 L1678.7 745.8 L1679.3 745.0 L1679.9 744.1 L1680.5 746.3 L1681.1 744.3 L1681.7 744.1 L1682.3 744.1 L1682.9 745.1 L1683.5 744.1 L1684.1 745.4 L1684.7 746.1 L1685.3 744.8 L1685.9 744.2 L1686.5 744.3 L1687.1 744.9 L1687.7 745.8 L1688.3 744.7 L1688.9 745.2 L1689.5 745.4 L1690.1 745.9 L1690.7 744.1 L1691.3 744.0 L1691.9 745.1 L1692.5 746.1 L1693.1 746.1 L1693.7 744.5 L1694.3 746.1 L1694.9 746.0 L1695.5 745.0 L1696.1 746.0 L1696.7 745.7 L1697.3 746.6 L1697.9 744.9 L1698.5 744.5 L1699.1 744.5 L1699.7 744.2 L1700.3 744.3 L1700.9 744.7 L1701.5 744.5 L1702.1 746.4 L1702.7 744.4 L1703.3 746.2 L1703.9 744.4 L1704.5 746.5 L1705.1 746.3 L1705.7 744.8 L1706.3 745.3 L1706.9 745.7 L1707.5 746.2 L1708.1 744.6 L1708.7 744.9 L1709.3 745.2 L1709.9 744.5 L1710.5 745.6 L1711.1 745.1 L1711.7 744.9 L1712.3 746.8 L1712.9 745.3 L1713.5 744.8 L1714.1 745.3 L1714.7 745.4 L1715.3 746.9 L1715.9 746.7 L1716.5 744.5 L1717.1 745.5 L1717.7 745.9 L1718.3 745.0 L1718.9 747.0 L1719.5 746.3 L1720.1 745.4 L1720.7 744.7 L1721.3 746.4 L1721.9 745.5 L1722.5 745.9 L1723.1 745.6 L1723.7 745.4 L1724.3 746.9 L1724.9 745.5 L1725.5 747.2 L1726.1 745.7 L1726.7 746.1 L1727.3 744.9 L1727.9 745.6 L1728.5 747.0 L1729.1 745.8 L1729.7 744.9 L1730.3 747.4 L1730.9 746.7 L1731.5 745.0 L1732.1 746.3 L1732.7 745.1 L1733.3 747.6 L1733.9 747.5 L1734.5 747.4 L1735.1 745.7 L1735.7 747.4 L1736.3 746.7 L1736.9 747.1 L1737.5 745.9 L1738.1 746.3 L1738.7 745.5 L1739.3 745.7 L1739.9 747.2 L1740.5 746.2 L1741.1 746.0 L1741.7 745.3 L1742.3 747.7 L1742.9 746.1 L1743.5 746.4 L1744.1 745.4 L1744.7 747.1 L1745.3 746.7 L1745.9 745.2 L1746.5 745.3 L1747.1 745.0 L1747.7 745.4 L1748.3 747.1 L1748.9 747.5 L1749.5 745.2 L1750.1 746.4 L1750.7 747.3 L1751.3 746.6 L1751.9 746.9 L1752.5 746.5 L1753.1 747.1 L1753.7 746.1 L1754.3 746.5 L1754.9 746.4 L1755.5 746.0 L1756.1 746.9 L1756.7 745.2 L1757.3 745.2 L1757.9 745.1 L1758.5 746.8 L1759.1 745.2 L1759.7 744.4 L1760.2 745.5 L1760.8 744.5 L1761.4 746.2 L1762.0 745.5 L1762.6 744.2 L1763.2 746.2 L1763.8 744.4 L1764.4 745.7 L1765.0 745.3 L1765.6 744.6 L1766.1 743.2 L1766.7 744.4 L1767.3 743.5 L1767.9 744.9 L1768.4 743.5 L1769.0 742.2 L1769.6 744.0 L1770.1 742.6 L1770.7 741.7 L1771.3 741.7 L1771.8 743.5 L1772.4 741.0 L1773.0 743.3 L1773.5 740.6 L1774.1 742.9 L1774.7 742.1 L1775.2 741.2 L1775.8 740.8 L1776.4 740.6 L1777.0 741.1 L1777.5 740.9 L1778.1 740.1 L1778.7 741.4 L1779.3 741.1 L1779.8 739.7 L1780.4 738.7 L1781.0 740.3 L1781.5 739.4 L1782.1 739.8 L1782.7 738.5 L1783.3 740.0 L1783.8 738.6 L1784.4 739.2 L1785.0 737.3 L1785.5 737.7 L1786.1 737.7 L1786.6 738.3 L1787.2 737.8 L1787.8 737.7 L1788.3 736.8 L1788.8 736.3 L1789.4 736.3 L1789.9 736.1 L1790.5 736.2 L1791.0 734.6 L1791.5 735.6 L1792.0 735.1 L1792.5 734.0 L1793.0 734.3 L1793.5 734.1 L1794.0 733.0 L1794.5 733.0 L1795.0 732.8 L1795.5 733.4 L1796.0 732.0 L1796.5 732.8 L1796.9 732.1 L1797.4 731.7 L1797.9 730.1 L1798.4 730.8 L1798.9 730.5 L1799.4 730.0 L1799.8 729.4 L1800.3 729.0 L1800.8 728.0 L1801.3 729.3 L1801.8 727.8 L1802.3 728.5 L1802.8 726.5 L1803.3 728.2 L1803.8 725.5 L1804.3 726.7 L1804.8 726.5 L1805.4 724.9 L1805.9 726.3 L1806.4 724.8 L1806.9 725.3 L1807.4 725.4 L1807.9 724.2 L1808.4 724.8 L1808.9 723.9 L1809.5 722.4 L1810.0 722.0 L1810.5 721.7 L1811.0 721.3 L1811.5 722.4 L1812.1 720.7 L1812.6 721.6 L1813.1 722.1 L1813.6 720.7 L1814.1 721.3 L1814.7 719.8 L1815.2 719.7 L1815.7 718.6 L1816.3 718.5 L1816.8 718.1 L1817.3 718.1 L1817.9 717.6 L1818.4 719.3 L1819.0 717.6 L1819.5 717.5 L1820.1 717.8 L1820.6 716.4 L1821.2 718.2 L1821.8 717.4 L1822.3 717.2 L1822.9 716.0 L1823.5 716.6 L1824.1 716.7 L1824.7 716.8 L1825.3 716.6 L1825.9 715.3 L1826.4 715.0 L1827.0 715.3 L1827.6 717.0 L1828.2 716.1 L1828.8 715.7 L1829.4 716.1 L1830.0 715.4 L1830.6 715.4 L1831.2 715.8 L1831.8 716.2 L1832.4 715.3 L1833.0 716.8 L1833.6 715.2 L1834.2 715.8 L1834.8 716.0 L1835.4 716.0 L1836.0 716.2 L1836.6 716.5 L1837.1 716.0 L1837.7 717.1 L1838.3 717.4 L1838.9 718.1 L1839.4 718.5 L1840.0 717.2 L1840.5 717.4 L1841.1 717.8 L1841.6 718.6 L1842.1 718.0 L1842.6 719.8 L1843.2 718.8 L1843.7 720.2 L1844.2 719.9 L1844.7 721.3 L1845.2 720.1 L1845.7 721.4 L1846.1 721.9 L1846.6 722.9 L1847.1 722.8 L1847.5 722.0 L1848.0 722.6 L1848.5 724.2 L1848.9 723.3 L1849.4 724.5 L1849.8 724.1 L1850.3 724.3 L1850.7 726.2 L1851.2 726.4 L1851.6 726.8 L1852.1 726.3 L1852.6 726.4 L1853.0 728.1 L1853.5 728.2 L1854.0 728.0 L1854.5 727.3 L1854.9 729.5 L1855.4 729.1 L1855.9 729.0 L1856.4 728.8 L1857.0 730.9 L1857.5 729.6 L1858.0 730.4 L1858.5 730.2 L1859.0 731.5 L1859.5 730.6 L1860.1 731.2 L1860.6 731.2 L1861.1 733.5 L1861.7 732.0 L1862.2 733.1 L1862.7 734.4 L1863.3 732.5 L1863.8 734.9 L1864.3 733.2 L1864.9 734.8 L1865.4 733.7 L1865.9 735.9 L1866.5 735.0 L1867.0 735.9 L1867.6 736.7 L1868.1 736.5 L1868.7 735.7 L1869.3 735.9 L1869.8 736.7 L1870.4 736.4 L1870.9 735.8 L1871.5 737.2 L1872.0 736.6 L1872.6 738.1 L1873.2 737.1 L1873.7 738.3 L1874.3 739.0 L1874.9 737.9 L1875.4 737.5 L1876.0 738.5 L1876.6 739.4 L1877.1 740.2 L1877.7 739.6 L1878.3 740.8 L1878.8 739.3 L1879.4 740.5 L1880.0 739.7 L1880.6 739.3 L1881.1 741.7 L1881.7 740.5 L1882.3 739.6 L1882.9 739.8 L1883.5 741.7 L1884.0 740.4 L1884.6 740.1 L1885.2 741.4 L1885.8 741.1 L1886.4 742.3 L1887.0 742.3 L1887.6 742.4 L1888.1 741.4 L1888.7 743.4 L1889.3 742.0 L1889.9 743.7 L1890.5 743.8 L1891.1 742.7 L1891.7 743.6 L1892.3 742.8 L1892.9 743.4 L1893.5 744.0 L1894.1 742.2 L1894.7 741.8 L1895.3 743.5 L1895.9 743.3 L1896.5 743.8 L1897.1 742.1 L1897.7 743.6 L1898.3 743.3 L1898.9 743.6 L1899.5 743.8 L1900.0 743.7 L1900.6 744.2 L1901.2 744.2 L1901.8 742.7 L1902.4 744.5 L1903.0 744.8 L1903.6 743.9 L1904.2 744.4 L1904.8 742.8 L1905.4 743.5 L1906.0 743.0 L1906.6 745.3 L1907.2 744.3 L1907.8 743.1 L1908.4 745.3 L1909.0 743.2 L1909.6 743.8 L1910.2 745.5 L1910.8 745.8 L1911.4 743.9 L1912.0 743.8 L1912.6 745.1 L1913.2 744.8 L1913.8 744.6 L1914.4 744.9 L1915.0 743.4 L1915.6 745.6 L1916.2 743.5 L1916.8 744.6 L1917.4 744.3 L1918.0 745.0 L1918.6 744.4 L1919.2 745.9 L1919.8 745.4 L1920.4 744.6 L1921.0 746.0 L1921.6 745.9 L1922.2 744.0 L1922.8 743.8 L1923.4 745.6 L1924.0 744.4 L1924.6 745.9 L1925.2 745.0 L1925.8 745.8 L1926.4 744.1 L1927.0 745.9 L1927.6 746.1 L1928.2 745.7 L1928.8 744.0 L1929.4 744.8 L1930.0 745.5 L1930.6 745.2 L1931.2 744.9 L1931.8 743.9 L1932.4 745.9 L1933.0 744.9 L1933.6 744.4 L1934.2 746.5 L1934.8 744.9 L1935.4 744.4 L1936.0 745.9 L1936.6 744.8 L1937.2 745.2 L1937.8 746.6 L1938.4 745.8 L1939.0 744.7 L1939.6 744.1 L1940.2 744.9 L1940.8 744.7 L1941.4 745.5 L1942.0 746.6 L1942.6 746.5 L1943.2 746.2 L1943.8 746.4 L1944.4 746.1 L1945.0 745.5 L1945.6 744.4 L1946.2 744.6 L1946.8 746.4 L1947.4 744.5 L1948.0 746.7 L1948.6 745.7 L1949.2 745.1 L1949.8 744.3 L1950.4 744.9 L1951.0 744.7 L1951.6 744.8 L1952.2 744.7 L1952.8 746.0 L1953.4 746.5 L1954.0 744.4 L1954.6 745.9 L1955.2 744.4 L1955.8 746.5 L1956.4 745.9 L1957.0 746.2 L1957.6 746.4 L1958.2 746.8 L1958.8 744.8 L1959.4 746.8 L1960.0 746.1 L1960.6 746.4 L1961.2 746.5 L1961.8 746.7 L1962.4 745.2 L1963.0 745.2 L1963.6 744.8 L1964.2 746.6 L1964.8 745.4 L1965.4 746.6 L1966.0 745.9 L1966.6 746.5 L1967.2 746.2 L1967.8 746.4 L1968.4 744.9 L1969.0 744.4 L1969.6 744.7 L1970.2 746.3 L1970.8 746.6 L1971.4 745.5 L1972.0 745.3 L1972.6 745.1 L1973.2 746.5 L1973.8 745.2 L1974.4 745.1 L1975.0 745.6 L1975.6 745.4 L1976.2 745.4 L1976.8 744.6 L1977.4 746.7 L1978.0 746.6 L1978.6 745.4 L1979.2 746.2 L1979.8 744.4 L1980.4 745.7 L1981.0 745.3 L1981.6 744.5 L1982.2 745.4 L1982.8 744.5 L1983.4 746.5 L1984.0 745.4" fill="none" stroke="#00ff00" stroke-width="9.4" stroke-linejoin="round" stroke-linecap="butt"/>
<line x1="1042.8" y1="53.3" x2="1042.8" y2="812" stroke="rgb(40,40,40)" stroke-opacity="0.69" stroke-width="9.4" stroke-dasharray="33 33"/>
<text x="368.8" y="905.8" font-size="76.5" fill="#262626" text-anchor="middle">400</text>
<text x="637.2" y="905.8" font-size="76.5" fill="#262626" text-anchor="middle">500</text>
<text x="905.8" y="905.8" font-size="76.5" fill="#262626" text-anchor="middle">600</text>
<text x="1174.2" y="905.8" font-size="76.5" fill="#262626" text-anchor="middle">700</text>
<text x="1442.8" y="905.8" font-size="76.5" fill="#262626" text-anchor="middle">800</text>
<text x="1711.2" y="905.8" font-size="76.5" fill="#262626" text-anchor="middle">900</text>
<text x="1979.8" y="905.8" font-size="76.5" fill="#262626" text-anchor="middle">1000</text>
<text x="222.0" y="126.8" font-size="76.5" fill="#262626" text-anchor="end">1</text>
<text x="217.5" y="450.9" font-size="76.5" fill="#262626" text-anchor="end">0.5</text>
<text x="217.5" y="775.0" font-size="76.5" fill="#262626" text-anchor="end">0</text>
<text x="1104.5" y="998" font-size="76.4" fill="#262626" text-anchor="middle">Wavelength (nm)</text>
<text transform="translate(87.2,425) rotate(-90) scale(1,1.10)" font-size="76.7" fill="#262626" text-anchor="middle">Transmission, a.u.</text>
<rect x="1640.5" y="52.6" width="325" height="358.5" fill="#fff" stroke="none"/>
<rect x="1639" y="51.5" width="3.4" height="361" fill="#8a8a8a"/>
<rect x="1639" y="51.5" width="327" height="2.6" fill="#777"/>
<rect x="1964" y="51.5" width="2.4" height="361" fill="#222"/>
<rect x="1639" y="410" width="327.4" height="2.6" fill="#555"/>
<rect x="1647.8" y="95.7" width="66" height="9.4" fill="#000"/>
<text x="1716.5" y="126.4" font-size="70" fill="#000" style="word-spacing:-4px">0 Hole</text>
<rect x="1647.8" y="183.2" width="66" height="9.4" fill="#f00"/>
<text x="1716.5" y="213.9" font-size="70" fill="#000" style="word-spacing:-4px">1- Hole</text>
<rect x="1647.8" y="271.3" width="66" height="9.4" fill="#00f"/>
<text x="1716.5" y="302.0" font-size="70" fill="#000" style="word-spacing:-4px">2-Holes</text>
<rect x="1647.8" y="360.2" width="66" height="9.4" fill="#0f0"/>
<text x="1716.5" y="390.9" font-size="70" fill="#000" style="word-spacing:-4px">3-Holes</text>
<rect x="183.0" y="119.5" width="15.3" height="9.0" fill="#fff"/>
<rect x="205.7" y="119.5" width="14.0" height="9.0" fill="#fff"/>
<rect x="1898.0" y="898.5" width="15.3" height="9.0" fill="#fff"/>
<rect x="1920.8" y="898.5" width="15.0" height="9.0" fill="#fff"/>
<rect x="1719.0" y="207.5" width="14.3" height="8.0" fill="#fff"/>
<rect x="1740.0" y="207.5" width="14.0" height="8.0" fill="#fff"/>
</svg></body></html>
